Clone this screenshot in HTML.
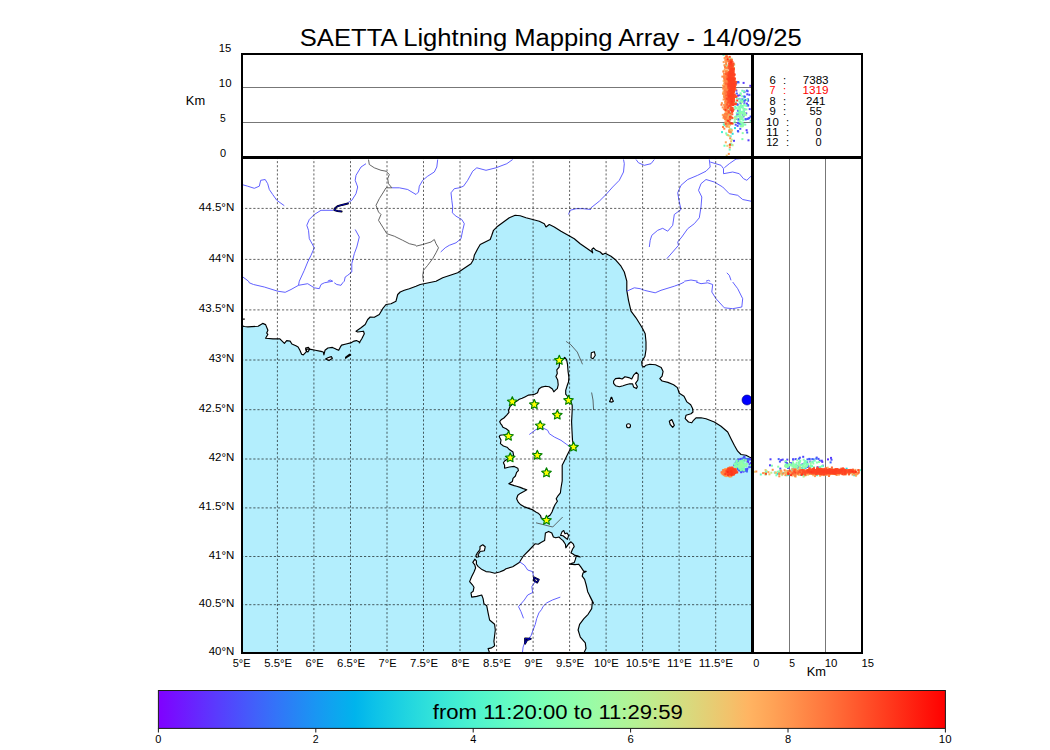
<!DOCTYPE html><html><head><meta charset="utf-8"><style>html,body{margin:0;padding:0;background:#fff;width:1050px;height:750px;overflow:hidden}svg{display:block}text{font-family:"Liberation Sans",sans-serif}</style></head><body>
<svg width="1050" height="750" viewBox="0 0 1050 750">
<defs><clipPath id="mapclip"><rect x="242" y="157" width="510" height="496"/></clipPath><clipPath id="topclip"><rect x="242" y="54" width="510" height="103"/></clipPath><clipPath id="sideclip"><rect x="753" y="157" width="109" height="496"/></clipPath>
<linearGradient id="rb" x1="0" x2="1" y1="0" y2="0">
<stop offset="0.000" stop-color="#8000ff"/>
<stop offset="0.025" stop-color="#7314ff"/>
<stop offset="0.050" stop-color="#6628fe"/>
<stop offset="0.075" stop-color="#593cfd"/>
<stop offset="0.100" stop-color="#4c4ffc"/>
<stop offset="0.125" stop-color="#4062fa"/>
<stop offset="0.150" stop-color="#3374f8"/>
<stop offset="0.175" stop-color="#2685f5"/>
<stop offset="0.200" stop-color="#1996f3"/>
<stop offset="0.225" stop-color="#0da6ef"/>
<stop offset="0.250" stop-color="#00b4ec"/>
<stop offset="0.275" stop-color="#0dc2e8"/>
<stop offset="0.300" stop-color="#19cee3"/>
<stop offset="0.325" stop-color="#26d9de"/>
<stop offset="0.350" stop-color="#33e3d9"/>
<stop offset="0.375" stop-color="#40ecd4"/>
<stop offset="0.400" stop-color="#4df3ce"/>
<stop offset="0.425" stop-color="#59f8c8"/>
<stop offset="0.450" stop-color="#66fcc2"/>
<stop offset="0.475" stop-color="#73febb"/>
<stop offset="0.500" stop-color="#80ffb4"/>
<stop offset="0.525" stop-color="#8cfead"/>
<stop offset="0.550" stop-color="#99fca6"/>
<stop offset="0.575" stop-color="#a6f89e"/>
<stop offset="0.600" stop-color="#b2f396"/>
<stop offset="0.625" stop-color="#bfec8e"/>
<stop offset="0.650" stop-color="#cce385"/>
<stop offset="0.675" stop-color="#d9d97d"/>
<stop offset="0.700" stop-color="#e5ce74"/>
<stop offset="0.725" stop-color="#f2c26b"/>
<stop offset="0.750" stop-color="#ffb462"/>
<stop offset="0.775" stop-color="#ffa658"/>
<stop offset="0.800" stop-color="#ff964f"/>
<stop offset="0.825" stop-color="#ff8545"/>
<stop offset="0.850" stop-color="#ff743c"/>
<stop offset="0.875" stop-color="#ff6232"/>
<stop offset="0.900" stop-color="#ff4f28"/>
<stop offset="0.925" stop-color="#ff3c1e"/>
<stop offset="0.950" stop-color="#ff2814"/>
<stop offset="0.975" stop-color="#ff140a"/>
<stop offset="1.000" stop-color="#ff0000"/>
</linearGradient></defs>
<g clip-path="url(#mapclip)">
<rect x="241" y="157" width="512" height="497" fill="#b3eefd"/>
<polygon points="241.0,322.8 241.9,323.4 242.8,326.1 244.4,326.5 247.9,326.9 258.1,326.3 262.7,323.4 265.6,324.6 267.9,330.3 266.7,333.1 267.9,334.3 265.6,338.3 273.0,338.9 279.9,338.9 281.6,340.6 284.4,343.4 286.7,340.6 290.1,341.1 291.9,344.0 295.9,345.7 298.1,346.9 299.9,350.3 301.6,354.3 303.3,354.9 306.7,351.4 306.1,349.1 309.6,349.1 315.3,350.3 321.0,351.4 323.3,352.0 323.9,354.9 325.0,350.3 327.9,348.0 332.4,347.4 335.9,349.1 338.7,350.3 340.4,346.9 341.6,345.1 346.1,344.0 350.7,342.9 354.1,341.1 356.4,340.6 359.9,342.3 359.3,342.8 361.8,338.7 364.3,333.7 363.5,331.2 357.7,332.0 356.0,331.2 361.0,327.8 365.2,324.5 367.7,319.5 370.2,317.0 374.3,317.3 379.3,314.5 382.7,308.7 386.0,304.5 391.0,303.7 396.0,301.2 397.7,294.5 400.2,292.0 404.3,290.3 409.3,288.7 416.0,286.2 420.2,284.5 436.0,281.2 442.7,277.8 451.0,275.0 457.7,272.8 463.5,268.7 471.0,263.7 473.5,259.5 474.3,255.3 477.7,248.7 480.2,244.5 485.2,242.0 490.2,239.5 491.8,235.3 493.5,230.3 497.7,226.2 503.5,222.0 509.3,217.8 515.2,215.3 520.2,215.7 526.0,217.8 532.7,219.5 539.3,221.2 544.3,223.7 546.0,227.0 549.3,224.5 554.3,227.0 561.0,231.2 567.7,235.0 574.3,238.7 580.2,243.7 586.0,247.8 591.0,251.2 592.7,252.8 591.8,249.5 593.5,247.8 596.0,250.3 600.2,252.0 602.7,254.5 605.2,253.3 611.0,256.2 616.0,260.3 621.0,266.2 624.3,272.0 626.8,281.2 626.8,290.3 628.5,300.3 631.0,311.2 636.0,317.8 640.2,324.5 642.7,328.7 645.2,333.7 646.0,342.0 646.0,349.5 645.0,356.2 643.1,359.5 641.7,361.9 642.1,365.7 644.0,367.1 646.0,365.2 649.8,364.3 655.5,364.8 661.2,367.6 663.1,371.4 662.1,376.2 659.8,378.6 662.1,381.0 667.9,382.4 673.6,384.8 677.4,387.6 679.3,393.3 684.0,396.2 686.9,401.9 690.7,404.8 692.6,408.6 693.0,412.0 691.0,413.7 686.0,415.3 685.2,418.7 688.5,422.0 691.8,422.8 693.5,420.3 696.0,417.8 701.0,417.8 706.0,418.7 714.3,422.0 721.0,426.2 727.7,432.0 731.0,438.7 734.3,445.3 737.7,451.2 741.0,454.5 746.0,455.3 749.3,457.0 752.0,458.3 760.0,458.3 760.0,150.0 230.0,150.0 230.0,322.8" fill="#fff" stroke="none"/>
<polygon points="564.7,357.3 566.6,359.6 567.5,364.3 568.0,370.8 568.9,377.3 568.5,382.0 567.1,385.8 565.7,390.4 565.7,394.2 568.0,397.0 570.8,400.7 572.2,405.4 572.2,410.0 571.6,421.7 572.0,431.0 572.5,440.4 573.4,445.0 571.8,447.2 569.4,450.8 567.0,455.6 564.6,460.4 562.2,465.2 562.2,471.2 562.2,480.8 561.0,488.0 560.4,492.8 558.0,495.8 556.2,498.8 557.4,501.2 555.0,504.8 553.8,507.2 552.0,512.0 550.2,515.0 547.8,516.8 545.4,519.2 541.2,518.0 540.6,515.6 538.2,513.2 535.8,512.0 532.2,509.6 528.6,508.4 523.8,506.6 520.8,504.8 518.4,502.4 516.6,498.8 517.8,495.2 520.2,493.4 523.8,491.6 526.8,489.8 523.2,488.6 520.2,487.4 516.6,486.2 514.2,485.6 510.6,484.4 508.8,483.8 512.4,481.4 513.0,478.4 515.4,476.0 516.6,472.4 518.4,470.6 517.8,468.2 514.2,466.4 509.4,467.0 504.6,468.2 504.6,465.2 503.4,462.8 504.6,461.0 509.4,458.0 513.6,455.6 513.0,452.0 509.4,449.6 507.0,447.2 503.4,446.0 500.4,443.6 501.0,440.0 499.2,436.6 500.1,435.2 503.9,434.8 508.5,433.8 509.0,431.0 506.2,428.7 502.9,427.3 502.0,425.4 500.6,423.6 499.7,421.7 501.1,419.8 503.9,418.0 506.7,415.1 509.0,412.3 508.5,410.5 509.9,406.7 513.7,403.0 516.9,401.1 519.3,399.3 522.1,398.3 524.9,396.9 528.6,395.1 532.3,394.6 535.1,394.1 537.5,392.7 538.9,389.0 541.7,387.1 545.4,386.2 549.2,386.7 552.4,389.0 553.8,391.8 555.7,389.9 557.3,388.6 558.2,384.8 557.7,380.1 555.9,376.4 557.3,373.6 556.8,369.9 559.1,367.1 559.6,362.4" fill="#fff" stroke="#000" stroke-width="1.15" stroke-linejoin="round"/>
<polygon points="474.8,559.2 476.4,560.8 476.4,564.0 478.0,566.4 482.0,569.6 486.0,571.6 490.0,572.0 494.8,573.2 499.6,572.0 503.6,570.4 506.0,568.8 512.7,566.7 519.3,562.5 523.5,555.8 529.3,550.0 535.0,543.8 538.2,544.2 541.4,542.2 544.6,540.6 545.0,537.0 545.4,533.0 548.6,531.4 551.8,533.0 553.4,537.0 555.8,537.8 559.0,537.0 560.6,538.6 563.0,540.6 565.4,544.2 565.8,547.8 568.6,543.8 571.0,541.8 573.4,544.2 574.2,546.6 572.6,549.0 571.0,553.0 572.6,553.8 575.0,555.4 577.4,555.8 580.2,557.0 576.2,556.2 575.4,559.4 574.2,562.6 571.8,563.4 569.4,564.2 575.0,564.6 578.6,564.2 580.6,566.6 583.8,571.4 586.2,571.4 583.0,573.0 582.2,576.2 584.6,579.4 586.2,585.0 587.7,591.7 591.0,598.3 593.5,603.3 589.6,595.7 592.4,601.4 591.7,608.6 588.1,614.3 583.9,618.6 579.6,624.3 578.1,630.0 580.3,637.1 585.3,642.9 586.0,648.6 583.9,652.9 583.9,657.1 488.1,657.1 489.6,652.9 488.1,648.6 491.7,647.9 494.6,645.7 493.9,641.4 494.6,635.7 495.3,630.0 494.6,624.3 489.6,620.0 488.1,612.9 486.7,605.7 483.9,603.6 483.1,598.6 481.7,595.0 476.7,596.4 471.7,597.1 471.0,592.9 473.2,591.2 474.0,587.2 472.4,584.8 469.6,581.6 471.6,576.8 474.0,572.0 475.6,568.0 474.8,564.8 472.8,562.4" fill="#fff" stroke="#000" stroke-width="1.15" stroke-linejoin="round"/>
<polygon points="613.6,381.0 615.5,378.6 619.3,378.1 622.1,379.0 625.0,376.7 628.8,377.6 631.7,379.0 633.6,375.2 636.4,372.4 638.3,374.3 637.9,380.0 635.5,383.3 637.4,386.7 636.4,388.6 633.6,387.1 632.6,383.8 629.8,383.8 626.0,384.8 623.1,385.7 619.3,386.7 615.5,385.7 613.6,383.3" fill="#fff" stroke="#000" stroke-width="1.15" stroke-linejoin="round"/>
<polygon points="591.3,352.8 594.3,351.7 595.3,355.3 593.0,358.7 591.0,357.8" fill="#fff" stroke="#000" stroke-width="1.15" stroke-linejoin="round"/>
<polygon points="669.3,421.2 671.8,419.5 674.3,425.3 672.7,427.3 670.2,424.5" fill="#fff" stroke="#000" stroke-width="1.15" stroke-linejoin="round"/>
<polygon points="560.6,535.4 562.2,531.4 563.8,530.6 565.0,533.8 567.0,533.0 568.6,535.4 567.4,539.4 565.4,537.8 563.0,535.8" fill="#fff" stroke="#000" stroke-width="1.15" stroke-linejoin="round"/>
<polygon points="480.0,546.4 482.8,544.8 485.2,546.8 484.4,550.8 482.0,551.2 480.4,551.2 478.0,554.8 478.8,556.8 476.4,557.2 476.0,555.2 477.2,553.2 478.8,551.2 480.0,549.2" fill="#fff" stroke="#000" stroke-width="1.15" stroke-linejoin="round"/>
<polygon points="611.7,397.3 612.6,399.8 613.4,401.2 612.0,402.1 609.6,401.6 610.4,399.8 611.2,397.3" fill="#fff" stroke="#000" stroke-width="1.15" stroke-linejoin="round"/>
<polygon points="325.6,358.9 329.0,360.6 332.4,358.3 331.3,356.6 327.9,357.7" fill="#fff" stroke="#000" stroke-width="1.15" stroke-linejoin="round"/>
<polygon points="345.6,358.3 347.3,357.1 350.7,354.9 349.6,354.3 345.6,357.1" fill="#fff" stroke="#000" stroke-width="1.15" stroke-linejoin="round"/>
<polygon points="305.6,348.0 308.4,347.4 309.6,349.1 307.9,352.0 306.1,350.9" fill="#fff" stroke="#000" stroke-width="1.15" stroke-linejoin="round"/>
<polyline points="241.0,322.8 241.9,323.4 242.8,326.1 244.4,326.5 247.9,326.9 258.1,326.3 262.7,323.4 265.6,324.6 267.9,330.3 266.7,333.1 267.9,334.3 265.6,338.3 273.0,338.9 279.9,338.9 281.6,340.6 284.4,343.4 286.7,340.6 290.1,341.1 291.9,344.0 295.9,345.7 298.1,346.9 299.9,350.3 301.6,354.3 303.3,354.9 306.7,351.4 306.1,349.1 309.6,349.1 315.3,350.3 321.0,351.4 323.3,352.0 323.9,354.9 325.0,350.3 327.9,348.0 332.4,347.4 335.9,349.1 338.7,350.3 340.4,346.9 341.6,345.1 346.1,344.0 350.7,342.9 354.1,341.1 356.4,340.6 359.9,342.3 359.3,342.8 361.8,338.7 364.3,333.7 363.5,331.2 357.7,332.0 356.0,331.2 361.0,327.8 365.2,324.5 367.7,319.5 370.2,317.0 374.3,317.3 379.3,314.5 382.7,308.7 386.0,304.5 391.0,303.7 396.0,301.2 397.7,294.5 400.2,292.0 404.3,290.3 409.3,288.7 416.0,286.2 420.2,284.5 436.0,281.2 442.7,277.8 451.0,275.0 457.7,272.8 463.5,268.7 471.0,263.7 473.5,259.5 474.3,255.3 477.7,248.7 480.2,244.5 485.2,242.0 490.2,239.5 491.8,235.3 493.5,230.3 497.7,226.2 503.5,222.0 509.3,217.8 515.2,215.3 520.2,215.7 526.0,217.8 532.7,219.5 539.3,221.2 544.3,223.7 546.0,227.0 549.3,224.5 554.3,227.0 561.0,231.2 567.7,235.0 574.3,238.7 580.2,243.7 586.0,247.8 591.0,251.2 592.7,252.8 591.8,249.5 593.5,247.8 596.0,250.3 600.2,252.0 602.7,254.5 605.2,253.3 611.0,256.2 616.0,260.3 621.0,266.2 624.3,272.0 626.8,281.2 626.8,290.3 628.5,300.3 631.0,311.2 636.0,317.8 640.2,324.5 642.7,328.7 645.2,333.7 646.0,342.0 646.0,349.5 645.0,356.2 643.1,359.5 641.7,361.9 642.1,365.7 644.0,367.1 646.0,365.2 649.8,364.3 655.5,364.8 661.2,367.6 663.1,371.4 662.1,376.2 659.8,378.6 662.1,381.0 667.9,382.4 673.6,384.8 677.4,387.6 679.3,393.3 684.0,396.2 686.9,401.9 690.7,404.8 692.6,408.6 693.0,412.0 691.0,413.7 686.0,415.3 685.2,418.7 688.5,422.0 691.8,422.8 693.5,420.3 696.0,417.8 701.0,417.8 706.0,418.7 714.3,422.0 721.0,426.2 727.7,432.0 731.0,438.7 734.3,445.3 737.7,451.2 741.0,454.5 746.0,455.3 749.3,457.0 752.0,458.3" fill="none" stroke="#000" stroke-width="1.15" stroke-linejoin="round"/>
<line x1="241" y1="319.1" x2="244.8" y2="319.1" stroke="#000" stroke-width="1.2"/>
<circle cx="628.5" cy="425.7" r="2.0" fill="#fff" stroke="#000" stroke-width="1.1"/>
<polyline points="241.8,184.5 247.7,186.2 254.3,188.3 259.3,186.2 260.7,180.3 265.2,179.5 267.7,183.7 269.3,189.5 272.7,194.5 276.8,200.3 284.3,205.7" fill="none" stroke="#4f4fff" stroke-width="0.9" stroke-linejoin="round"/>
<polyline points="366.0,163.7 361.0,167.0 356.0,175.3 355.2,180.3 357.7,187.0 356.0,193.7 351.8,200.3 347.7,202.8" fill="none" stroke="#4f4fff" stroke-width="0.9" stroke-linejoin="round"/>
<polyline points="333.5,210.3 321.0,210.3 314.3,214.5 309.3,219.5 306.8,225.3 308.5,230.3 309.3,238.7 314.3,247.8 311.0,255.3 307.7,262.0 304.3,270.3 299.3,281.2 298.5,285.3 291.0,289.5 285.2,292.3 277.7,291.2 264.3,287.0 253.5,284.5 249.3,282.8 248.5,281.2 241.8,276.2" fill="none" stroke="#4f4fff" stroke-width="0.9" stroke-linejoin="round"/>
<polyline points="355.2,229.5 359.3,237.0 356.8,247.0 354.3,253.7 351.8,263.7 351.8,272.0 347.7,275.3 345.2,277.0 344.3,281.2 342.7,282.8 341.0,285.3 336.8,284.5 334.3,282.8" fill="none" stroke="#4f4fff" stroke-width="0.9" stroke-linejoin="round"/>
<polyline points="327.7,281.2 330.2,280.0 332.7,281.2 324.3,282.8 321.0,284.5 319.3,288.7 314.3,287.8 307.7,283.7 298.5,285.3" fill="none" stroke="#4f4fff" stroke-width="0.9" stroke-linejoin="round"/>
<polyline points="391.8,187.8 399.3,187.8 407.7,189.5 416.0,194.5" fill="none" stroke="#4f4fff" stroke-width="0.9" stroke-linejoin="round"/>
<polyline points="437.7,159.5 436.8,167.0 434.3,172.0 427.7,176.2 422.7,180.3 419.3,186.2 418.5,192.0 416.0,194.5" fill="none" stroke="#4f4fff" stroke-width="0.9" stroke-linejoin="round"/>
<polyline points="512.7,159.5 506.8,163.7 496.0,167.8 486.0,170.3 476.8,167.8 472.7,171.2 467.7,180.3 463.5,186.2 459.3,187.8 454.3,188.7 451.0,192.8 451.8,200.3 452.7,207.0 452.3,212.8 456.0,216.2 461.8,219.5 464.3,223.7 462.7,230.3 461.0,238.7 456.0,242.8 449.3,245.3 445.2,247.8 440.7,252.0" fill="none" stroke="#4f4fff" stroke-width="0.9" stroke-linejoin="round"/>
<polyline points="568.5,214.5 570.2,210.3 576.0,208.7 582.7,208.7 591.0,209.5" fill="none" stroke="#4f4fff" stroke-width="0.9" stroke-linejoin="round"/>
<polyline points="623.5,159.5 624.3,163.7 623.5,172.0 619.3,180.3 612.7,187.0 606.0,194.5 599.3,201.2 591.0,207.8" fill="none" stroke="#4f4fff" stroke-width="0.9" stroke-linejoin="round"/>
<polyline points="636.0,159.5 638.5,162.8 644.3,165.3 651.0,163.7 654.3,159.5" fill="none" stroke="#4f4fff" stroke-width="0.9" stroke-linejoin="round"/>
<polyline points="709.3,159.5 710.2,167.0 706.0,171.2 697.7,175.3 687.7,179.5 681.0,185.3 677.7,192.8 679.3,202.0 681.0,209.5 674.3,214.5 672.7,225.3 667.7,231.2 662.7,228.3 657.7,230.3 651.8,235.3 650.2,240.3 649.3,247.0" fill="none" stroke="#4f4fff" stroke-width="0.9" stroke-linejoin="round"/>
<polyline points="666.8,258.7 672.7,252.0 678.5,245.3 677.7,242.0 681.8,237.0 687.7,228.7 694.3,223.7 699.3,217.8 701.0,207.0 701.8,197.0 698.5,190.3 701.0,183.7 706.0,179.5 714.3,182.0 722.7,187.0 729.3,193.7 737.7,195.3 742.7,199.5 751.0,201.2" fill="none" stroke="#4f4fff" stroke-width="0.9" stroke-linejoin="round"/>
<polyline points="710.2,162.0 721.0,165.3 723.5,168.7 723.5,173.7 732.7,172.0 739.3,173.7 743.5,178.7 746.8,180.3 751.0,176.2" fill="none" stroke="#4f4fff" stroke-width="0.9" stroke-linejoin="round"/>
<polyline points="724.3,167.8 729.3,163.7 736.0,159.0 751.0,157.7" fill="none" stroke="#4f4fff" stroke-width="0.9" stroke-linejoin="round"/>
<polyline points="726.8,272.8 729.3,275.3 731.0,280.3" fill="none" stroke="#4f4fff" stroke-width="0.9" stroke-linejoin="round"/>
<polyline points="684.3,281.2 691.0,280.0 697.7,281.2" fill="none" stroke="#4f4fff" stroke-width="0.9" stroke-linejoin="round"/>
<polyline points="706.0,281.2 708.5,280.3 710.2,281.2" fill="none" stroke="#4f4fff" stroke-width="0.9" stroke-linejoin="round"/>
<polyline points="626.8,291.2 634.3,287.8 640.2,288.7 644.3,290.3 655.2,292.8 661.0,290.3 674.3,286.2 681.0,283.7 684.3,282.0" fill="none" stroke="#4f4fff" stroke-width="0.9" stroke-linejoin="round"/>
<polyline points="696.0,282.0 701.0,283.7 707.7,282.8 712.7,284.5 711.8,292.0 716.0,298.7 724.3,307.8 732.7,308.7 741.8,307.0 742.7,298.7 737.7,288.7 732.7,282.0" fill="none" stroke="#4f4fff" stroke-width="0.9" stroke-linejoin="round"/>
<polyline points="529.3,434.5 532.7,432.0 536.0,429.5 542.7,427.8 547.7,430.3 549.3,433.7 554.3,437.0 561.0,440.3 566.8,444.5 571.0,447.8" fill="none" stroke="#4f4fff" stroke-width="0.9" stroke-linejoin="round"/>
<polyline points="519.3,561.7 524.3,565.0 527.7,570.0 532.7,571.7 533.5,576.7 535.2,580.0" fill="none" stroke="#4f4fff" stroke-width="0.9" stroke-linejoin="round"/>
<polyline points="535.2,581.7 531.8,586.7 532.7,592.5 527.7,595.0 524.3,600.0 518.5,606.7 521.0,611.7 523.5,618.3" fill="none" stroke="#4f4fff" stroke-width="0.9" stroke-linejoin="round"/>
<polyline points="560.3,597.1 552.4,600.0 546.7,602.9 543.1,606.4 541.7,609.3 538.9,612.9 536.7,618.6 535.3,624.3 533.1,630.0 531.0,635.7 528.1,639.3 524.6,642.9 523.1,647.1 522.4,652.9" fill="none" stroke="#4f4fff" stroke-width="0.9" stroke-linejoin="round"/>
<polyline points="347.9,203.6 342.0,204.9 337.5,206.3 335.0,208.2 334.4,210.1 337.5,211.0 341.6,211.4" fill="none" stroke="#000" stroke-width="2" stroke-linejoin="round" stroke-linecap="round"/>
<polyline points="347.9,203.6 342.0,204.9 337.5,206.3 335.0,208.2 334.4,210.1 337.5,211.0 341.6,211.4" fill="none" stroke="#0000ff" stroke-width="0.7" stroke-linejoin="round"/>
<polyline points="534.1,577.5 536.5,578.6 538.7,579.6 537.1,582.5 533.9,580.4 534.1,577.5" fill="none" stroke="#000" stroke-width="2" stroke-linejoin="round" stroke-linecap="round"/>
<polyline points="534.1,577.5 536.5,578.6 538.7,579.6 537.1,582.5 533.9,580.4 534.1,577.5" fill="none" stroke="#0000ff" stroke-width="0.7" stroke-linejoin="round"/>
<polyline points="530.7,638.8 527.0,640.1 525.1,643.6 525.1,638.5 530.7,638.8" fill="none" stroke="#000" stroke-width="2" stroke-linejoin="round" stroke-linecap="round"/>
<polyline points="530.7,638.8 527.0,640.1 525.1,643.6 525.1,638.5 530.7,638.8" fill="none" stroke="#0000ff" stroke-width="0.7" stroke-linejoin="round"/>
<polyline points="368.5,159.5 369.3,164.5 374.3,167.8 381.0,170.3 386.0,171.2 389.3,174.5 387.7,178.7 388.5,183.7 391.8,187.8 386.0,187.8 383.5,192.0 379.3,198.7 376.0,205.3 378.5,212.0 381.0,214.5 378.5,220.3 382.7,227.0 386.8,233.7 394.3,236.2 402.7,240.3 409.3,243.7 416.0,245.3" fill="none" stroke="#555" stroke-width="0.9" stroke-linejoin="round"/>
<polyline points="416.0,246.2 422.7,244.5 431.0,242.0 434.3,239.5 436.0,243.7 438.5,247.8 436.0,252.8 432.7,258.7 427.7,265.3 423.5,270.3 422.7,276.2 423.5,281.2" fill="none" stroke="#555" stroke-width="0.9" stroke-linejoin="round"/>
<polyline points="566.1,341.4 570.8,344.7 577.3,352.1 582.5,364.3" fill="none" stroke="#444" stroke-width="0.8"/>
<polyline points="591.6,392.5 593.0,400.0 593.6,410.0" fill="none" stroke="#444" stroke-width="0.8"/>
<polyline points="536.0,522.8 546.0,525.3 552.7,527.0 557.7,522.0 562.7,517.0" fill="none" stroke="#444" stroke-width="0.8"/>
<line x1="277.4" y1="157" x2="277.4" y2="653" stroke="#000" stroke-opacity="0.62" stroke-width="1" stroke-dasharray="2.1 2"/>
<line x1="313.9" y1="157" x2="313.9" y2="653" stroke="#000" stroke-opacity="0.62" stroke-width="1" stroke-dasharray="2.1 2"/>
<line x1="350.5" y1="157" x2="350.5" y2="653" stroke="#000" stroke-opacity="0.62" stroke-width="1" stroke-dasharray="2.1 2"/>
<line x1="387.0" y1="157" x2="387.0" y2="653" stroke="#000" stroke-opacity="0.62" stroke-width="1" stroke-dasharray="2.1 2"/>
<line x1="423.5" y1="157" x2="423.5" y2="653" stroke="#000" stroke-opacity="0.62" stroke-width="1" stroke-dasharray="2.1 2"/>
<line x1="460.0" y1="157" x2="460.0" y2="653" stroke="#000" stroke-opacity="0.62" stroke-width="1" stroke-dasharray="2.1 2"/>
<line x1="496.6" y1="157" x2="496.6" y2="653" stroke="#000" stroke-opacity="0.62" stroke-width="1" stroke-dasharray="2.1 2"/>
<line x1="533.1" y1="157" x2="533.1" y2="653" stroke="#000" stroke-opacity="0.62" stroke-width="1" stroke-dasharray="2.1 2"/>
<line x1="569.6" y1="157" x2="569.6" y2="653" stroke="#000" stroke-opacity="0.62" stroke-width="1" stroke-dasharray="2.1 2"/>
<line x1="606.1" y1="157" x2="606.1" y2="653" stroke="#000" stroke-opacity="0.62" stroke-width="1" stroke-dasharray="2.1 2"/>
<line x1="642.6" y1="157" x2="642.6" y2="653" stroke="#000" stroke-opacity="0.62" stroke-width="1" stroke-dasharray="2.1 2"/>
<line x1="679.1" y1="157" x2="679.1" y2="653" stroke="#000" stroke-opacity="0.62" stroke-width="1" stroke-dasharray="2.1 2"/>
<line x1="715.7" y1="157" x2="715.7" y2="653" stroke="#000" stroke-opacity="0.62" stroke-width="1" stroke-dasharray="2.1 2"/>
<line x1="241" y1="604.7" x2="752" y2="604.7" stroke="#000" stroke-opacity="0.62" stroke-width="1" stroke-dasharray="2.2 1.9"/>
<line x1="241" y1="556.5" x2="752" y2="556.5" stroke="#000" stroke-opacity="0.62" stroke-width="1" stroke-dasharray="2.2 1.9"/>
<line x1="241" y1="507.9" x2="752" y2="507.9" stroke="#000" stroke-opacity="0.62" stroke-width="1" stroke-dasharray="2.2 1.9"/>
<line x1="241" y1="459.0" x2="752" y2="459.0" stroke="#000" stroke-opacity="0.62" stroke-width="1" stroke-dasharray="2.2 1.9"/>
<line x1="241" y1="409.7" x2="752" y2="409.7" stroke="#000" stroke-opacity="0.62" stroke-width="1" stroke-dasharray="2.2 1.9"/>
<line x1="241" y1="360.0" x2="752" y2="360.0" stroke="#000" stroke-opacity="0.62" stroke-width="1" stroke-dasharray="2.2 1.9"/>
<line x1="241" y1="309.9" x2="752" y2="309.9" stroke="#000" stroke-opacity="0.62" stroke-width="1" stroke-dasharray="2.2 1.9"/>
<line x1="241" y1="259.4" x2="752" y2="259.4" stroke="#000" stroke-opacity="0.62" stroke-width="1" stroke-dasharray="2.2 1.9"/>
<line x1="241" y1="208.4" x2="752" y2="208.4" stroke="#000" stroke-opacity="0.62" stroke-width="1" stroke-dasharray="2.2 1.9"/>
<polygon points="559.3,355.3 560.7,358.4 564.1,358.8 561.5,361.0 562.2,364.3 559.3,362.7 556.4,364.3 557.1,361.0 554.5,358.8 557.9,358.4" fill="#ffff00" stroke="#008000" stroke-width="1.15" stroke-linejoin="round"/>
<polygon points="512.3,396.7 513.7,399.8 517.1,400.2 514.5,402.4 515.2,405.7 512.3,404.1 509.4,405.7 510.1,402.4 507.5,400.2 510.9,399.8" fill="#ffff00" stroke="#008000" stroke-width="1.15" stroke-linejoin="round"/>
<polygon points="534.3,399.5 535.7,402.6 539.1,403.0 536.5,405.2 537.2,408.5 534.3,406.9 531.4,408.5 532.1,405.2 529.5,403.0 532.9,402.6" fill="#ffff00" stroke="#008000" stroke-width="1.15" stroke-linejoin="round"/>
<polygon points="568.5,395.3 569.9,398.4 573.3,398.8 570.7,401.0 571.4,404.3 568.5,402.7 565.6,404.3 566.3,401.0 563.7,398.8 567.1,398.4" fill="#ffff00" stroke="#008000" stroke-width="1.15" stroke-linejoin="round"/>
<polygon points="557.3,410.0 558.7,413.1 562.1,413.5 559.5,415.7 560.2,419.0 557.3,417.4 554.4,419.0 555.1,415.7 552.5,413.5 555.9,413.1" fill="#ffff00" stroke="#008000" stroke-width="1.15" stroke-linejoin="round"/>
<polygon points="540.2,420.7 541.6,423.8 545.0,424.2 542.4,426.4 543.1,429.7 540.2,428.1 537.3,429.7 538.0,426.4 535.4,424.2 538.8,423.8" fill="#ffff00" stroke="#008000" stroke-width="1.15" stroke-linejoin="round"/>
<polygon points="508.5,431.2 509.9,434.3 513.3,434.7 510.7,436.9 511.4,440.2 508.5,438.6 505.6,440.2 506.3,436.9 503.7,434.7 507.1,434.3" fill="#ffff00" stroke="#008000" stroke-width="1.15" stroke-linejoin="round"/>
<polygon points="573.5,442.0 574.9,445.1 578.3,445.5 575.7,447.7 576.4,451.0 573.5,449.4 570.6,451.0 571.3,447.7 568.7,445.5 572.1,445.1" fill="#ffff00" stroke="#008000" stroke-width="1.15" stroke-linejoin="round"/>
<polygon points="537.3,450.3 538.7,453.4 542.1,453.8 539.5,456.0 540.2,459.3 537.3,457.7 534.4,459.3 535.1,456.0 532.5,453.8 535.9,453.4" fill="#ffff00" stroke="#008000" stroke-width="1.15" stroke-linejoin="round"/>
<polygon points="510.2,452.8 511.6,455.9 515.0,456.3 512.4,458.5 513.1,461.8 510.2,460.2 507.3,461.8 508.0,458.5 505.4,456.3 508.8,455.9" fill="#ffff00" stroke="#008000" stroke-width="1.15" stroke-linejoin="round"/>
<polygon points="546.5,467.8 547.9,470.9 551.3,471.3 548.7,473.5 549.4,476.8 546.5,475.2 543.6,476.8 544.3,473.5 541.7,471.3 545.1,470.9" fill="#ffff00" stroke="#008000" stroke-width="1.15" stroke-linejoin="round"/>
<polygon points="546.5,515.3 547.9,518.4 551.3,518.8 548.7,521.0 549.4,524.3 546.5,522.6 543.6,524.3 544.3,521.0 541.7,518.8 545.1,518.4" fill="#ffff00" stroke="#008000" stroke-width="1.15" stroke-linejoin="round"/>
<circle cx="747" cy="400" r="5" fill="#0000ff" stroke="#000080" stroke-width="0.6"/>
</g>
<line x1="242" y1="87.5" x2="752" y2="87.5" stroke="#777" stroke-width="1"/>
<line x1="242" y1="122.5" x2="752" y2="122.5" stroke="#777" stroke-width="1"/>
<line x1="789.5" y1="158" x2="789.5" y2="652" stroke="#777" stroke-width="1"/>
<line x1="825.5" y1="158" x2="825.5" y2="652" stroke="#777" stroke-width="1"/>
<g clip-path="url(#topclip)">
<rect x="737.1" y="113.2" width="2.0" height="2.0" fill="#6031fe"/>
<rect x="751.1" y="115.0" width="2.0" height="2.0" fill="#6031fe"/>
<rect x="749.3" y="84.8" width="2.0" height="2.0" fill="#5f32fe"/>
<rect x="745.9" y="102.6" width="2.0" height="2.0" fill="#5f32fe"/>
<rect x="747.1" y="104.5" width="2.0" height="2.0" fill="#5e34fe"/>
<rect x="745.6" y="129.2" width="2.0" height="2.0" fill="#5e34fe"/>
<rect x="737.7" y="109.1" width="2.0" height="2.0" fill="#5d36fe"/>
<rect x="746.6" y="90.2" width="2.0" height="2.0" fill="#5c37fe"/>
<rect x="738.8" y="94.2" width="2.0" height="2.0" fill="#5c38fd"/>
<rect x="737.0" y="94.6" width="2.0" height="2.0" fill="#5c38fd"/>
<rect x="742.4" y="113.9" width="2.0" height="2.0" fill="#5b39fd"/>
<rect x="745.2" y="112.4" width="2.0" height="2.0" fill="#5a3afd"/>
<rect x="740.1" y="105.8" width="2.0" height="2.0" fill="#5a3afd"/>
<rect x="742.9" y="112.0" width="2.0" height="2.0" fill="#593cfd"/>
<rect x="742.6" y="81.9" width="2.0" height="2.0" fill="#583dfd"/>
<rect x="746.5" y="117.9" width="2.0" height="2.0" fill="#573efd"/>
<rect x="743.2" y="90.6" width="2.0" height="2.0" fill="#573efd"/>
<rect x="748.7" y="108.1" width="2.0" height="2.0" fill="#573ffd"/>
<rect x="749.9" y="119.9" width="2.0" height="2.0" fill="#5640fd"/>
<rect x="738.1" y="118.3" width="2.0" height="2.0" fill="#5640fd"/>
<rect x="747.5" y="139.3" width="2.0" height="2.0" fill="#5640fd"/>
<rect x="733.0" y="139.8" width="2.0" height="2.0" fill="#5542fd"/>
<rect x="735.7" y="117.9" width="2.0" height="2.0" fill="#5543fd"/>
<rect x="737.0" y="113.3" width="2.0" height="2.0" fill="#5543fd"/>
<rect x="736.3" y="113.8" width="2.0" height="2.0" fill="#5443fd"/>
<rect x="746.3" y="93.3" width="2.0" height="2.0" fill="#5345fd"/>
<rect x="743.4" y="108.3" width="2.0" height="2.0" fill="#5246fd"/>
<rect x="742.3" y="123.4" width="2.0" height="2.0" fill="#5246fd"/>
<rect x="742.5" y="115.4" width="2.0" height="2.0" fill="#5247fc"/>
<rect x="737.3" y="122.3" width="2.0" height="2.0" fill="#5049fc"/>
<rect x="742.9" y="111.4" width="2.0" height="2.0" fill="#4f4bfc"/>
<rect x="735.4" y="89.6" width="2.0" height="2.0" fill="#4f4cfc"/>
<rect x="739.6" y="102.4" width="2.0" height="2.0" fill="#4e4cfc"/>
<rect x="743.8" y="99.5" width="2.0" height="2.0" fill="#4e4cfc"/>
<rect x="739.3" y="127.8" width="2.0" height="2.0" fill="#4e4cfc"/>
<rect x="737.1" y="121.8" width="2.0" height="2.0" fill="#4e4dfc"/>
<rect x="739.7" y="101.5" width="2.0" height="2.0" fill="#4e4dfc"/>
<rect x="738.5" y="109.9" width="2.0" height="2.0" fill="#4d4efc"/>
<rect x="748.3" y="93.8" width="2.0" height="2.0" fill="#4d4efc"/>
<rect x="743.2" y="95.5" width="2.0" height="2.0" fill="#4c4ffc"/>
<rect x="737.5" y="81.4" width="2.0" height="2.0" fill="#4c4ffc"/>
<rect x="741.2" y="98.4" width="2.0" height="2.0" fill="#4c4ffc"/>
<rect x="736.6" y="124.9" width="2.0" height="2.0" fill="#4c50fc"/>
<rect x="734.7" y="123.7" width="2.0" height="2.0" fill="#4b51fc"/>
<rect x="737.2" y="130.5" width="2.0" height="2.0" fill="#4b51fc"/>
<rect x="747.4" y="117.6" width="2.0" height="2.0" fill="#4a53fc"/>
<rect x="742.7" y="99.9" width="2.0" height="2.0" fill="#4954fb"/>
<rect x="736.2" y="103.3" width="2.0" height="2.0" fill="#4954fb"/>
<rect x="749.6" y="115.6" width="2.0" height="2.0" fill="#4954fb"/>
<rect x="738.4" y="97.9" width="2.0" height="2.0" fill="#4856fb"/>
<rect x="744.7" y="118.2" width="2.0" height="2.0" fill="#4757fb"/>
<rect x="735.8" y="92.5" width="2.0" height="2.0" fill="#4658fb"/>
<rect x="743.4" y="102.2" width="2.0" height="2.0" fill="#455afb"/>
<rect x="744.7" y="98.9" width="2.0" height="2.0" fill="#455afb"/>
<rect x="736.9" y="130.0" width="2.0" height="2.0" fill="#455afb"/>
<rect x="746.2" y="131.5" width="2.0" height="2.0" fill="#445bfb"/>
<rect x="748.2" y="117.0" width="2.0" height="2.0" fill="#445bfb"/>
<rect x="739.5" y="106.1" width="2.0" height="2.0" fill="#445bfb"/>
<rect x="747.1" y="99.7" width="2.0" height="2.0" fill="#435dfb"/>
<rect x="744.6" y="118.3" width="2.0" height="2.0" fill="#435dfb"/>
<rect x="740.0" y="112.0" width="2.0" height="2.0" fill="#435dfb"/>
<rect x="736.9" y="109.7" width="2.0" height="2.0" fill="#425efa"/>
<rect x="738.5" y="122.7" width="2.0" height="2.0" fill="#425ffa"/>
<rect x="741.3" y="112.3" width="2.0" height="2.0" fill="#4160fa"/>
<rect x="745.9" y="89.6" width="2.0" height="2.0" fill="#3f63fa"/>
<rect x="735.3" y="82.3" width="2.0" height="2.0" fill="#3f63fa"/>
<rect x="747.1" y="104.2" width="2.0" height="2.0" fill="#3e64fa"/>
<rect x="740.3" y="122.8" width="2.0" height="2.0" fill="#3e64fa"/>
<rect x="746.9" y="98.3" width="2.0" height="2.0" fill="#3c67f9"/>
<rect x="743.4" y="91.1" width="2.0" height="2.0" fill="#3b68f9"/>
<rect x="739.6" y="117.0" width="2.0" height="2.0" fill="#3a6af9"/>
<rect x="736.7" y="103.9" width="2.0" height="2.0" fill="#3a6af9"/>
<rect x="737.0" y="81.0" width="2.0" height="2.0" fill="#3a6af9"/>
<rect x="737.4" y="118.7" width="2.0" height="2.0" fill="#3a6af9"/>
<rect x="743.8" y="95.8" width="2.0" height="2.0" fill="#3a6bf9"/>
<rect x="724.5" y="101.6" width="2.0" height="2.0" fill="#1acfe3"/>
<rect x="726.2" y="122.0" width="2.0" height="2.0" fill="#1bd0e3"/>
<rect x="726.5" y="121.8" width="2.0" height="2.0" fill="#1cd1e2"/>
<rect x="727.4" y="67.0" width="2.0" height="2.0" fill="#20d4e1"/>
<rect x="734.0" y="127.1" width="2.0" height="2.0" fill="#2adcdd"/>
<rect x="731.6" y="132.8" width="2.0" height="2.0" fill="#2bdddd"/>
<rect x="727.1" y="95.2" width="2.0" height="2.0" fill="#2ddedc"/>
<rect x="728.3" y="110.4" width="2.0" height="2.0" fill="#2edfdc"/>
<rect x="728.3" y="107.6" width="2.0" height="2.0" fill="#31e1da"/>
<rect x="729.3" y="143.4" width="2.0" height="2.0" fill="#36e5d8"/>
<rect x="729.8" y="60.5" width="2.0" height="2.0" fill="#39e7d7"/>
<rect x="729.6" y="135.3" width="2.0" height="2.0" fill="#3ce9d6"/>
<rect x="728.2" y="59.8" width="2.0" height="2.0" fill="#3dead5"/>
<rect x="721.0" y="131.1" width="2.0" height="2.0" fill="#42edd3"/>
<rect x="730.3" y="128.4" width="2.0" height="2.0" fill="#49f1d0"/>
<rect x="723.6" y="124.2" width="2.0" height="2.0" fill="#4af1cf"/>
<rect x="731.2" y="101.4" width="2.0" height="2.0" fill="#52f5cc"/>
<rect x="727.1" y="94.9" width="2.0" height="2.0" fill="#53f5cb"/>
<rect x="727.8" y="123.6" width="2.0" height="2.0" fill="#53f5cb"/>
<rect x="731.0" y="143.8" width="2.0" height="2.0" fill="#54f6cb"/>
<rect x="725.8" y="124.5" width="2.0" height="2.0" fill="#59f8c9"/>
<rect x="724.6" y="115.1" width="2.0" height="2.0" fill="#5cf9c7"/>
<rect x="722.5" y="53.9" width="2.0" height="2.0" fill="#60fac5"/>
<rect x="731.1" y="117.3" width="2.0" height="2.0" fill="#63fbc4"/>
<rect x="722.8" y="123.3" width="2.0" height="2.0" fill="#65fbc3"/>
<rect x="739.1" y="108.5" width="2.0" height="2.0" fill="#66fcc2"/>
<rect x="734.2" y="115.9" width="2.0" height="2.0" fill="#66fcc2"/>
<rect x="737.3" y="115.3" width="2.0" height="2.0" fill="#66fcc2"/>
<rect x="728.7" y="148.6" width="2.0" height="2.0" fill="#66fcc2"/>
<rect x="725.7" y="114.3" width="2.0" height="2.0" fill="#67fcc1"/>
<rect x="739.6" y="105.0" width="2.0" height="2.0" fill="#67fcc1"/>
<rect x="738.5" y="106.5" width="2.0" height="2.0" fill="#68fcc1"/>
<rect x="739.6" y="92.4" width="2.0" height="2.0" fill="#68fcc1"/>
<rect x="735.8" y="112.2" width="2.0" height="2.0" fill="#69fdc0"/>
<rect x="728.9" y="118.5" width="2.0" height="2.0" fill="#6afdc0"/>
<rect x="738.0" y="115.0" width="2.0" height="2.0" fill="#6afdc0"/>
<rect x="742.6" y="98.1" width="2.0" height="2.0" fill="#6afdc0"/>
<rect x="735.1" y="107.3" width="2.0" height="2.0" fill="#6bfdc0"/>
<rect x="740.0" y="99.2" width="2.0" height="2.0" fill="#6bfdbf"/>
<rect x="738.5" y="107.3" width="2.0" height="2.0" fill="#6bfdbf"/>
<rect x="742.4" y="112.4" width="2.0" height="2.0" fill="#6bfdbf"/>
<rect x="738.0" y="111.9" width="2.0" height="2.0" fill="#6cfdbf"/>
<rect x="735.3" y="115.5" width="2.0" height="2.0" fill="#6cfdbf"/>
<rect x="740.3" y="104.8" width="2.0" height="2.0" fill="#6cfdbf"/>
<rect x="734.2" y="105.9" width="2.0" height="2.0" fill="#6dfdbe"/>
<rect x="723.5" y="144.7" width="2.0" height="2.0" fill="#6dfdbe"/>
<rect x="741.5" y="105.0" width="2.0" height="2.0" fill="#70febd"/>
<rect x="725.4" y="64.0" width="2.0" height="2.0" fill="#71febc"/>
<rect x="741.3" y="89.7" width="2.0" height="2.0" fill="#71febc"/>
<rect x="725.7" y="125.3" width="2.0" height="2.0" fill="#72febc"/>
<rect x="723.8" y="107.6" width="2.0" height="2.0" fill="#72febb"/>
<rect x="740.4" y="105.3" width="2.0" height="2.0" fill="#73febb"/>
<rect x="742.4" y="119.3" width="2.0" height="2.0" fill="#73febb"/>
<rect x="732.1" y="122.0" width="2.0" height="2.0" fill="#74febb"/>
<rect x="735.9" y="97.3" width="2.0" height="2.0" fill="#74febb"/>
<rect x="739.0" y="110.7" width="2.0" height="2.0" fill="#74febb"/>
<rect x="739.7" y="112.6" width="2.0" height="2.0" fill="#74feba"/>
<rect x="741.5" y="99.9" width="2.0" height="2.0" fill="#75feba"/>
<rect x="744.3" y="123.6" width="2.0" height="2.0" fill="#75feba"/>
<rect x="726.5" y="120.4" width="2.0" height="2.0" fill="#75feba"/>
<rect x="740.1" y="124.8" width="2.0" height="2.0" fill="#75feba"/>
<rect x="741.0" y="122.7" width="2.0" height="2.0" fill="#75feba"/>
<rect x="745.3" y="104.9" width="2.0" height="2.0" fill="#76ffb9"/>
<rect x="738.5" y="98.2" width="2.0" height="2.0" fill="#76ffb9"/>
<rect x="742.9" y="90.7" width="2.0" height="2.0" fill="#76ffb9"/>
<rect x="741.1" y="100.9" width="2.0" height="2.0" fill="#77ffb9"/>
<rect x="734.9" y="101.5" width="2.0" height="2.0" fill="#77ffb9"/>
<rect x="738.4" y="120.2" width="2.0" height="2.0" fill="#78ffb9"/>
<rect x="741.2" y="116.4" width="2.0" height="2.0" fill="#78ffb9"/>
<rect x="731.1" y="64.6" width="2.0" height="2.0" fill="#7affb7"/>
<rect x="738.9" y="116.0" width="2.0" height="2.0" fill="#7bffb7"/>
<rect x="740.8" y="110.8" width="2.0" height="2.0" fill="#7bffb7"/>
<rect x="727.8" y="59.5" width="2.0" height="2.0" fill="#7bffb7"/>
<rect x="741.3" y="118.1" width="2.0" height="2.0" fill="#7cffb6"/>
<rect x="740.0" y="115.4" width="2.0" height="2.0" fill="#7dffb6"/>
<rect x="738.5" y="110.1" width="2.0" height="2.0" fill="#7effb5"/>
<rect x="740.6" y="121.6" width="2.0" height="2.0" fill="#7effb5"/>
<rect x="733.4" y="108.3" width="2.0" height="2.0" fill="#7fffb5"/>
<rect x="725.9" y="133.8" width="2.0" height="2.0" fill="#7fffb5"/>
<rect x="741.4" y="138.1" width="2.0" height="2.0" fill="#7fffb4"/>
<rect x="728.2" y="49.0" width="2.0" height="2.0" fill="#80ffb4"/>
<rect x="742.9" y="111.5" width="2.0" height="2.0" fill="#80ffb4"/>
<rect x="743.6" y="108.5" width="2.0" height="2.0" fill="#80ffb4"/>
<rect x="725.2" y="132.4" width="2.0" height="2.0" fill="#80ffb4"/>
<rect x="739.6" y="124.9" width="2.0" height="2.0" fill="#81ffb3"/>
<rect x="742.0" y="122.4" width="2.0" height="2.0" fill="#81ffb3"/>
<rect x="741.2" y="95.3" width="2.0" height="2.0" fill="#81ffb3"/>
<rect x="728.6" y="113.8" width="2.0" height="2.0" fill="#82ffb3"/>
<rect x="740.9" y="111.1" width="2.0" height="2.0" fill="#82ffb3"/>
<rect x="742.6" y="109.3" width="2.0" height="2.0" fill="#82ffb3"/>
<rect x="739.9" y="106.2" width="2.0" height="2.0" fill="#82ffb3"/>
<rect x="743.5" y="103.6" width="2.0" height="2.0" fill="#83ffb2"/>
<rect x="741.7" y="111.0" width="2.0" height="2.0" fill="#83ffb2"/>
<rect x="741.8" y="106.8" width="2.0" height="2.0" fill="#83ffb2"/>
<rect x="729.1" y="112.1" width="2.0" height="2.0" fill="#84ffb2"/>
<rect x="741.4" y="112.2" width="2.0" height="2.0" fill="#85ffb1"/>
<rect x="742.1" y="123.1" width="2.0" height="2.0" fill="#86ffb1"/>
<rect x="741.5" y="118.3" width="2.0" height="2.0" fill="#86ffb1"/>
<rect x="738.4" y="100.5" width="2.0" height="2.0" fill="#86ffb0"/>
<rect x="741.2" y="115.8" width="2.0" height="2.0" fill="#87ffb0"/>
<rect x="735.5" y="106.9" width="2.0" height="2.0" fill="#87ffb0"/>
<rect x="742.8" y="104.5" width="2.0" height="2.0" fill="#87ffb0"/>
<rect x="742.0" y="124.0" width="2.0" height="2.0" fill="#88ffb0"/>
<rect x="738.7" y="107.7" width="2.0" height="2.0" fill="#88ffb0"/>
<rect x="739.7" y="118.2" width="2.0" height="2.0" fill="#88ffaf"/>
<rect x="735.8" y="117.6" width="2.0" height="2.0" fill="#8affaf"/>
<rect x="727.6" y="114.9" width="2.0" height="2.0" fill="#8affaf"/>
<rect x="733.7" y="120.5" width="2.0" height="2.0" fill="#8afeaf"/>
<rect x="742.7" y="107.8" width="2.0" height="2.0" fill="#8afeae"/>
<rect x="749.7" y="120.3" width="2.0" height="2.0" fill="#8afeae"/>
<rect x="745.9" y="98.7" width="2.0" height="2.0" fill="#8bfeae"/>
<rect x="743.1" y="113.5" width="2.0" height="2.0" fill="#8cfead"/>
<rect x="739.9" y="103.7" width="2.0" height="2.0" fill="#8cfead"/>
<rect x="745.4" y="108.4" width="2.0" height="2.0" fill="#8dfead"/>
<rect x="739.1" y="120.8" width="2.0" height="2.0" fill="#8efeac"/>
<rect x="739.3" y="118.0" width="2.0" height="2.0" fill="#8efeac"/>
<rect x="739.7" y="93.3" width="2.0" height="2.0" fill="#8ffeac"/>
<rect x="741.7" y="132.1" width="2.0" height="2.0" fill="#90feab"/>
<rect x="740.1" y="112.1" width="2.0" height="2.0" fill="#90feab"/>
<rect x="738.9" y="113.9" width="2.0" height="2.0" fill="#91feab"/>
<rect x="742.6" y="114.5" width="2.0" height="2.0" fill="#91fdaa"/>
<rect x="737.4" y="105.7" width="2.0" height="2.0" fill="#91fdaa"/>
<rect x="739.4" y="116.7" width="2.0" height="2.0" fill="#92fdaa"/>
<rect x="727.7" y="122.1" width="2.0" height="2.0" fill="#92fdaa"/>
<rect x="739.7" y="116.9" width="2.0" height="2.0" fill="#92fdaa"/>
<rect x="740.5" y="121.7" width="2.0" height="2.0" fill="#92fdaa"/>
<rect x="729.9" y="143.2" width="2.0" height="2.0" fill="#92fda9"/>
<rect x="729.0" y="57.8" width="2.0" height="2.0" fill="#93fda9"/>
<rect x="741.7" y="125.2" width="2.0" height="2.0" fill="#93fda9"/>
<rect x="740.5" y="101.2" width="2.0" height="2.0" fill="#93fda9"/>
<rect x="738.9" y="114.5" width="2.0" height="2.0" fill="#93fda9"/>
<rect x="730.4" y="130.7" width="2.0" height="2.0" fill="#93fda9"/>
<rect x="740.6" y="125.4" width="2.0" height="2.0" fill="#94fda9"/>
<rect x="741.9" y="124.5" width="2.0" height="2.0" fill="#94fda8"/>
<rect x="744.9" y="113.9" width="2.0" height="2.0" fill="#94fda8"/>
<rect x="737.3" y="108.3" width="2.0" height="2.0" fill="#95fda8"/>
<rect x="733.8" y="118.5" width="2.0" height="2.0" fill="#95fda8"/>
<rect x="740.1" y="117.6" width="2.0" height="2.0" fill="#96fda8"/>
<rect x="737.3" y="114.5" width="2.0" height="2.0" fill="#96fda7"/>
<rect x="744.2" y="112.2" width="2.0" height="2.0" fill="#98fca6"/>
<rect x="740.9" y="101.2" width="2.0" height="2.0" fill="#99fca6"/>
<rect x="726.8" y="104.0" width="2.0" height="2.0" fill="#9dfba3"/>
<rect x="726.1" y="114.0" width="2.0" height="2.0" fill="#9efba3"/>
<rect x="729.2" y="105.7" width="2.0" height="2.0" fill="#a4f89f"/>
<rect x="727.1" y="94.6" width="2.0" height="2.0" fill="#a6f89e"/>
<rect x="731.2" y="109.3" width="2.0" height="2.0" fill="#abf69b"/>
<rect x="728.6" y="134.9" width="2.0" height="2.0" fill="#aff498"/>
<rect x="729.6" y="112.6" width="2.0" height="2.0" fill="#b1f397"/>
<rect x="727.7" y="59.6" width="2.0" height="2.0" fill="#b1f397"/>
<rect x="728.7" y="107.9" width="2.0" height="2.0" fill="#b9ef92"/>
<rect x="733.3" y="63.6" width="2.0" height="2.0" fill="#b9ef91"/>
<rect x="730.8" y="138.7" width="2.0" height="2.0" fill="#c0eb8d"/>
<rect x="725.0" y="62.2" width="2.0" height="2.0" fill="#c6e789"/>
<rect x="727.4" y="111.3" width="2.0" height="2.0" fill="#c7e789"/>
<rect x="731.6" y="144.2" width="2.0" height="2.0" fill="#c9e587"/>
<rect x="734.2" y="116.7" width="2.0" height="2.0" fill="#c9e587"/>
<rect x="725.3" y="124.3" width="2.0" height="2.0" fill="#cbe486"/>
<rect x="728.8" y="128.2" width="2.0" height="2.0" fill="#cce385"/>
<rect x="725.9" y="112.5" width="2.0" height="2.0" fill="#cde284"/>
<rect x="725.4" y="71.9" width="2.0" height="2.0" fill="#d0e083"/>
<rect x="727.3" y="110.1" width="2.0" height="2.0" fill="#d3de81"/>
<rect x="730.4" y="60.7" width="2.0" height="2.0" fill="#d4dd80"/>
<rect x="729.1" y="123.9" width="2.0" height="2.0" fill="#d4dd80"/>
<rect x="723.7" y="64.2" width="2.0" height="2.0" fill="#d7db7e"/>
<rect x="726.3" y="144.8" width="2.0" height="2.0" fill="#dfd579"/>
<rect x="725.8" y="66.4" width="2.0" height="2.0" fill="#e0d478"/>
<rect x="728.5" y="144.0" width="2.0" height="2.0" fill="#e1d377"/>
<rect x="728.0" y="129.6" width="2.0" height="2.0" fill="#e2d276"/>
<rect x="725.7" y="154.6" width="2.0" height="2.0" fill="#e5cf74"/>
<rect x="728.9" y="103.6" width="2.0" height="2.0" fill="#e7cd72"/>
<rect x="733.0" y="66.9" width="2.0" height="2.0" fill="#ebc970"/>
<rect x="727.8" y="123.5" width="2.0" height="2.0" fill="#ecc86f"/>
<rect x="731.3" y="64.6" width="2.0" height="2.0" fill="#ecc86f"/>
<rect x="730.8" y="112.5" width="2.0" height="2.0" fill="#eec76e"/>
<rect x="729.4" y="115.4" width="2.0" height="2.0" fill="#f0c46c"/>
<rect x="730.6" y="57.8" width="2.0" height="2.0" fill="#f0c46c"/>
<rect x="730.1" y="140.4" width="2.0" height="2.0" fill="#f1c36c"/>
<rect x="731.0" y="111.5" width="2.0" height="2.0" fill="#f7bd68"/>
<rect x="725.2" y="69.9" width="2.0" height="2.0" fill="#faba65"/>
<rect x="728.8" y="99.3" width="2.0" height="2.0" fill="#faba65"/>
<rect x="727.6" y="99.1" width="2.0" height="2.0" fill="#faba65"/>
<rect x="724.8" y="111.9" width="2.0" height="2.0" fill="#faba65"/>
<rect x="723.9" y="77.0" width="2.0" height="2.0" fill="#faba65"/>
<rect x="728.4" y="80.2" width="2.0" height="2.0" fill="#fab965"/>
<rect x="725.6" y="74.8" width="2.0" height="2.0" fill="#fab965"/>
<rect x="725.1" y="76.6" width="2.0" height="2.0" fill="#fab965"/>
<rect x="727.1" y="134.2" width="2.0" height="2.0" fill="#fbb965"/>
<rect x="723.7" y="94.3" width="2.0" height="2.0" fill="#fbb965"/>
<rect x="726.1" y="102.9" width="2.0" height="2.0" fill="#fbb965"/>
<rect x="726.5" y="89.0" width="2.0" height="2.0" fill="#fbb864"/>
<rect x="727.4" y="85.9" width="2.0" height="2.0" fill="#fbb864"/>
<rect x="726.7" y="91.9" width="2.0" height="2.0" fill="#fbb864"/>
<rect x="726.0" y="87.6" width="2.0" height="2.0" fill="#fbb864"/>
<rect x="726.7" y="79.0" width="2.0" height="2.0" fill="#fbb864"/>
<rect x="726.8" y="84.5" width="2.0" height="2.0" fill="#fcb864"/>
<rect x="729.0" y="128.8" width="2.0" height="2.0" fill="#fcb864"/>
<rect x="723.2" y="82.9" width="2.0" height="2.0" fill="#fcb764"/>
<rect x="728.0" y="98.8" width="2.0" height="2.0" fill="#fcb764"/>
<rect x="730.3" y="102.3" width="2.0" height="2.0" fill="#fcb763"/>
<rect x="726.2" y="106.9" width="2.0" height="2.0" fill="#fcb763"/>
<rect x="724.9" y="67.0" width="2.0" height="2.0" fill="#fdb763"/>
<rect x="722.9" y="114.5" width="2.0" height="2.0" fill="#fdb763"/>
<rect x="726.8" y="124.2" width="2.0" height="2.0" fill="#fdb763"/>
<rect x="726.9" y="82.2" width="2.0" height="2.0" fill="#fdb763"/>
<rect x="726.2" y="121.2" width="2.0" height="2.0" fill="#fdb763"/>
<rect x="723.9" y="96.3" width="2.0" height="2.0" fill="#fdb763"/>
<rect x="727.3" y="112.6" width="2.0" height="2.0" fill="#fdb763"/>
<rect x="727.9" y="101.8" width="2.0" height="2.0" fill="#fdb663"/>
<rect x="727.2" y="88.1" width="2.0" height="2.0" fill="#fdb663"/>
<rect x="724.0" y="101.4" width="2.0" height="2.0" fill="#fdb663"/>
<rect x="725.7" y="103.8" width="2.0" height="2.0" fill="#fdb663"/>
<rect x="726.3" y="100.1" width="2.0" height="2.0" fill="#fdb663"/>
<rect x="725.7" y="81.7" width="2.0" height="2.0" fill="#fdb663"/>
<rect x="725.6" y="74.6" width="2.0" height="2.0" fill="#fdb663"/>
<rect x="724.7" y="106.2" width="2.0" height="2.0" fill="#fdb663"/>
<rect x="725.5" y="112.3" width="2.0" height="2.0" fill="#fdb663"/>
<rect x="724.1" y="66.8" width="2.0" height="2.0" fill="#feb663"/>
<rect x="725.9" y="72.9" width="2.0" height="2.0" fill="#feb663"/>
<rect x="729.3" y="72.6" width="2.0" height="2.0" fill="#feb663"/>
<rect x="726.6" y="113.3" width="2.0" height="2.0" fill="#feb662"/>
<rect x="726.1" y="85.9" width="2.0" height="2.0" fill="#feb662"/>
<rect x="727.0" y="100.6" width="2.0" height="2.0" fill="#feb562"/>
<rect x="722.5" y="70.2" width="2.0" height="2.0" fill="#feb562"/>
<rect x="723.2" y="94.6" width="2.0" height="2.0" fill="#feb562"/>
<rect x="724.8" y="84.1" width="2.0" height="2.0" fill="#feb562"/>
<rect x="726.5" y="100.3" width="2.0" height="2.0" fill="#feb562"/>
<rect x="724.8" y="94.8" width="2.0" height="2.0" fill="#feb562"/>
<rect x="724.7" y="90.2" width="2.0" height="2.0" fill="#feb562"/>
<rect x="730.9" y="129.4" width="2.0" height="2.0" fill="#feb562"/>
<rect x="725.2" y="84.9" width="2.0" height="2.0" fill="#feb562"/>
<rect x="727.9" y="82.3" width="2.0" height="2.0" fill="#ffb562"/>
<rect x="724.4" y="87.1" width="2.0" height="2.0" fill="#ffb562"/>
<rect x="727.2" y="115.3" width="2.0" height="2.0" fill="#ffb562"/>
<rect x="727.2" y="65.2" width="2.0" height="2.0" fill="#ffb462"/>
<rect x="725.5" y="95.1" width="2.0" height="2.0" fill="#ffb462"/>
<rect x="725.3" y="101.9" width="2.0" height="2.0" fill="#ffb462"/>
<rect x="724.1" y="88.5" width="2.0" height="2.0" fill="#ffb461"/>
<rect x="726.0" y="117.0" width="2.0" height="2.0" fill="#ffb461"/>
<rect x="728.1" y="126.0" width="2.0" height="2.0" fill="#ffb461"/>
<rect x="727.1" y="100.9" width="2.0" height="2.0" fill="#ffb461"/>
<rect x="725.6" y="84.4" width="2.0" height="2.0" fill="#ffb461"/>
<rect x="725.8" y="86.0" width="2.0" height="2.0" fill="#ffb361"/>
<rect x="724.5" y="115.1" width="2.0" height="2.0" fill="#ffb361"/>
<rect x="728.6" y="76.3" width="2.0" height="2.0" fill="#ffb361"/>
<rect x="725.7" y="117.8" width="2.0" height="2.0" fill="#ffb361"/>
<rect x="722.7" y="80.0" width="2.0" height="2.0" fill="#ffb361"/>
<rect x="724.6" y="96.1" width="2.0" height="2.0" fill="#ffb361"/>
<rect x="725.3" y="122.9" width="2.0" height="2.0" fill="#ffb360"/>
<rect x="722.0" y="84.6" width="2.0" height="2.0" fill="#ffb260"/>
<rect x="725.8" y="116.6" width="2.0" height="2.0" fill="#ffb260"/>
<rect x="723.6" y="82.0" width="2.0" height="2.0" fill="#ffb260"/>
<rect x="724.1" y="73.8" width="2.0" height="2.0" fill="#ffb260"/>
<rect x="725.8" y="93.8" width="2.0" height="2.0" fill="#ffb260"/>
<rect x="726.8" y="111.9" width="2.0" height="2.0" fill="#ffb260"/>
<rect x="727.0" y="79.1" width="2.0" height="2.0" fill="#ffb160"/>
<rect x="722.8" y="90.5" width="2.0" height="2.0" fill="#ffb160"/>
<rect x="726.1" y="98.3" width="2.0" height="2.0" fill="#ffb160"/>
<rect x="729.3" y="75.0" width="2.0" height="2.0" fill="#ffb160"/>
<rect x="723.5" y="95.6" width="2.0" height="2.0" fill="#ffb15f"/>
<rect x="725.4" y="78.2" width="2.0" height="2.0" fill="#ffb15f"/>
<rect x="727.4" y="82.1" width="2.0" height="2.0" fill="#ffb15f"/>
<rect x="725.0" y="91.6" width="2.0" height="2.0" fill="#ffb15f"/>
<rect x="726.6" y="58.7" width="2.0" height="2.0" fill="#ffb15f"/>
<rect x="728.3" y="85.0" width="2.0" height="2.0" fill="#ffb15f"/>
<rect x="724.3" y="75.7" width="2.0" height="2.0" fill="#ffb15f"/>
<rect x="724.7" y="94.5" width="2.0" height="2.0" fill="#ffb05f"/>
<rect x="728.7" y="101.9" width="2.0" height="2.0" fill="#ffb05f"/>
<rect x="726.1" y="83.0" width="2.0" height="2.0" fill="#ffb05f"/>
<rect x="726.0" y="90.7" width="2.0" height="2.0" fill="#ffb05f"/>
<rect x="725.1" y="101.7" width="2.0" height="2.0" fill="#ffb05f"/>
<rect x="723.9" y="90.5" width="2.0" height="2.0" fill="#ffb05f"/>
<rect x="724.0" y="86.2" width="2.0" height="2.0" fill="#ffb05f"/>
<rect x="726.9" y="88.5" width="2.0" height="2.0" fill="#ffaf5e"/>
<rect x="724.3" y="92.2" width="2.0" height="2.0" fill="#ffaf5e"/>
<rect x="724.7" y="79.1" width="2.0" height="2.0" fill="#ffaf5e"/>
<rect x="726.3" y="96.8" width="2.0" height="2.0" fill="#ffaf5e"/>
<rect x="725.4" y="79.8" width="2.0" height="2.0" fill="#ffaf5e"/>
<rect x="722.9" y="95.6" width="2.0" height="2.0" fill="#ffaf5e"/>
<rect x="727.1" y="86.5" width="2.0" height="2.0" fill="#ffae5e"/>
<rect x="726.2" y="81.2" width="2.0" height="2.0" fill="#ffae5e"/>
<rect x="722.0" y="92.3" width="2.0" height="2.0" fill="#ffae5e"/>
<rect x="725.4" y="81.2" width="2.0" height="2.0" fill="#ffae5e"/>
<rect x="726.4" y="58.1" width="2.0" height="2.0" fill="#ffae5d"/>
<rect x="723.7" y="57.2" width="2.0" height="2.0" fill="#ffae5d"/>
<rect x="726.0" y="58.3" width="2.0" height="2.0" fill="#ffad5d"/>
<rect x="724.6" y="75.9" width="2.0" height="2.0" fill="#ffac5d"/>
<rect x="727.8" y="98.7" width="2.0" height="2.0" fill="#ffac5c"/>
<rect x="723.7" y="68.8" width="2.0" height="2.0" fill="#ffac5c"/>
<rect x="726.3" y="76.4" width="2.0" height="2.0" fill="#ffac5c"/>
<rect x="726.1" y="125.5" width="2.0" height="2.0" fill="#ffac5c"/>
<rect x="725.8" y="81.4" width="2.0" height="2.0" fill="#ffac5c"/>
<rect x="723.1" y="92.8" width="2.0" height="2.0" fill="#ffac5c"/>
<rect x="725.5" y="81.8" width="2.0" height="2.0" fill="#ffac5c"/>
<rect x="724.6" y="118.3" width="2.0" height="2.0" fill="#ffab5c"/>
<rect x="725.4" y="90.0" width="2.0" height="2.0" fill="#ffab5c"/>
<rect x="726.1" y="98.0" width="2.0" height="2.0" fill="#ffab5c"/>
<rect x="727.9" y="85.7" width="2.0" height="2.0" fill="#ffab5c"/>
<rect x="726.6" y="80.8" width="2.0" height="2.0" fill="#ffab5c"/>
<rect x="727.4" y="81.1" width="2.0" height="2.0" fill="#ffab5c"/>
<rect x="725.4" y="101.5" width="2.0" height="2.0" fill="#ffab5c"/>
<rect x="726.3" y="114.6" width="2.0" height="2.0" fill="#ffab5c"/>
<rect x="729.1" y="67.7" width="2.0" height="2.0" fill="#ffab5c"/>
<rect x="725.3" y="55.4" width="2.0" height="2.0" fill="#ffaa5b"/>
<rect x="725.7" y="99.2" width="2.0" height="2.0" fill="#ffaa5b"/>
<rect x="727.4" y="96.4" width="2.0" height="2.0" fill="#ffaa5b"/>
<rect x="725.6" y="104.3" width="2.0" height="2.0" fill="#ffaa5b"/>
<rect x="725.3" y="88.6" width="2.0" height="2.0" fill="#ffaa5b"/>
<rect x="725.1" y="87.3" width="2.0" height="2.0" fill="#ffaa5b"/>
<rect x="726.4" y="117.5" width="2.0" height="2.0" fill="#ffaa5b"/>
<rect x="726.1" y="118.9" width="2.0" height="2.0" fill="#ffa95b"/>
<rect x="726.9" y="90.5" width="2.0" height="2.0" fill="#ffa95b"/>
<rect x="724.3" y="82.8" width="2.0" height="2.0" fill="#ffa95b"/>
<rect x="728.2" y="102.0" width="2.0" height="2.0" fill="#ffa95a"/>
<rect x="722.5" y="116.8" width="2.0" height="2.0" fill="#ffa95a"/>
<rect x="725.4" y="75.0" width="2.0" height="2.0" fill="#ffa95a"/>
<rect x="725.6" y="74.7" width="2.0" height="2.0" fill="#ffa95a"/>
<rect x="724.7" y="110.1" width="2.0" height="2.0" fill="#ffa85a"/>
<rect x="722.4" y="87.0" width="2.0" height="2.0" fill="#ffa85a"/>
<rect x="725.0" y="78.0" width="2.0" height="2.0" fill="#ffa85a"/>
<rect x="725.1" y="106.1" width="2.0" height="2.0" fill="#ffa85a"/>
<rect x="727.2" y="76.4" width="2.0" height="2.0" fill="#ffa85a"/>
<rect x="729.8" y="91.7" width="2.0" height="2.0" fill="#ffa85a"/>
<rect x="721.8" y="113.9" width="2.0" height="2.0" fill="#ffa85a"/>
<rect x="724.8" y="141.3" width="2.0" height="2.0" fill="#ffa859"/>
<rect x="725.1" y="84.3" width="2.0" height="2.0" fill="#ffa859"/>
<rect x="725.0" y="122.1" width="2.0" height="2.0" fill="#ffa759"/>
<rect x="726.4" y="93.9" width="2.0" height="2.0" fill="#ffa759"/>
<rect x="725.1" y="82.9" width="2.0" height="2.0" fill="#ffa759"/>
<rect x="727.0" y="70.8" width="2.0" height="2.0" fill="#ffa759"/>
<rect x="727.7" y="92.5" width="2.0" height="2.0" fill="#ffa659"/>
<rect x="725.9" y="77.0" width="2.0" height="2.0" fill="#ffa659"/>
<rect x="726.5" y="69.6" width="2.0" height="2.0" fill="#ffa658"/>
<rect x="725.9" y="110.7" width="2.0" height="2.0" fill="#ffa658"/>
<rect x="723.9" y="85.2" width="2.0" height="2.0" fill="#ffa558"/>
<rect x="724.7" y="96.7" width="2.0" height="2.0" fill="#ffa558"/>
<rect x="725.4" y="60.3" width="2.0" height="2.0" fill="#ffa558"/>
<rect x="723.0" y="94.6" width="2.0" height="2.0" fill="#ffa558"/>
<rect x="727.6" y="75.3" width="2.0" height="2.0" fill="#ffa558"/>
<rect x="728.6" y="99.9" width="2.0" height="2.0" fill="#ffa558"/>
<rect x="725.9" y="85.3" width="2.0" height="2.0" fill="#ffa558"/>
<rect x="726.2" y="80.2" width="2.0" height="2.0" fill="#ffa558"/>
<rect x="723.5" y="90.5" width="2.0" height="2.0" fill="#ffa558"/>
<rect x="727.1" y="83.4" width="2.0" height="2.0" fill="#ffa558"/>
<rect x="727.5" y="81.2" width="2.0" height="2.0" fill="#ffa457"/>
<rect x="727.4" y="87.4" width="2.0" height="2.0" fill="#ffa457"/>
<rect x="725.1" y="97.6" width="2.0" height="2.0" fill="#ffa457"/>
<rect x="726.4" y="103.3" width="2.0" height="2.0" fill="#ffa457"/>
<rect x="724.8" y="98.6" width="2.0" height="2.0" fill="#ffa357"/>
<rect x="725.0" y="91.8" width="2.0" height="2.0" fill="#ffa357"/>
<rect x="726.8" y="98.2" width="2.0" height="2.0" fill="#ffa357"/>
<rect x="725.6" y="92.5" width="2.0" height="2.0" fill="#ffa357"/>
<rect x="725.5" y="96.1" width="2.0" height="2.0" fill="#ffa357"/>
<rect x="724.9" y="90.6" width="2.0" height="2.0" fill="#ffa356"/>
<rect x="726.5" y="76.9" width="2.0" height="2.0" fill="#ffa356"/>
<rect x="724.5" y="101.6" width="2.0" height="2.0" fill="#ffa256"/>
<rect x="726.4" y="97.1" width="2.0" height="2.0" fill="#ffa256"/>
<rect x="724.6" y="75.4" width="2.0" height="2.0" fill="#ffa256"/>
<rect x="724.9" y="108.9" width="2.0" height="2.0" fill="#ffa256"/>
<rect x="725.9" y="83.0" width="2.0" height="2.0" fill="#ffa256"/>
<rect x="724.5" y="93.9" width="2.0" height="2.0" fill="#ffa256"/>
<rect x="723.7" y="94.6" width="2.0" height="2.0" fill="#ffa256"/>
<rect x="724.6" y="94.0" width="2.0" height="2.0" fill="#ffa256"/>
<rect x="726.2" y="58.7" width="2.0" height="2.0" fill="#ffa156"/>
<rect x="727.8" y="117.1" width="2.0" height="2.0" fill="#ffa155"/>
<rect x="723.6" y="95.9" width="2.0" height="2.0" fill="#ffa155"/>
<rect x="725.3" y="91.3" width="2.0" height="2.0" fill="#ffa155"/>
<rect x="727.4" y="112.2" width="2.0" height="2.0" fill="#ffa155"/>
<rect x="725.1" y="79.0" width="2.0" height="2.0" fill="#ffa155"/>
<rect x="728.6" y="91.1" width="2.0" height="2.0" fill="#ffa155"/>
<rect x="725.1" y="94.8" width="2.0" height="2.0" fill="#ffa155"/>
<rect x="727.3" y="118.5" width="2.0" height="2.0" fill="#ffa055"/>
<rect x="724.1" y="76.4" width="2.0" height="2.0" fill="#ffa055"/>
<rect x="722.7" y="61.1" width="2.0" height="2.0" fill="#ffa055"/>
<rect x="724.5" y="100.9" width="2.0" height="2.0" fill="#ffa055"/>
<rect x="724.1" y="104.5" width="2.0" height="2.0" fill="#ffa055"/>
<rect x="723.9" y="95.3" width="2.0" height="2.0" fill="#ffa055"/>
<rect x="725.5" y="70.1" width="2.0" height="2.0" fill="#ffa055"/>
<rect x="728.2" y="73.7" width="2.0" height="2.0" fill="#ffa055"/>
<rect x="728.5" y="73.4" width="2.0" height="2.0" fill="#ffa055"/>
<rect x="725.5" y="103.7" width="2.0" height="2.0" fill="#ffa055"/>
<rect x="725.3" y="102.6" width="2.0" height="2.0" fill="#ff9f54"/>
<rect x="722.7" y="90.6" width="2.0" height="2.0" fill="#ff9f54"/>
<rect x="724.4" y="121.3" width="2.0" height="2.0" fill="#ff9f54"/>
<rect x="723.0" y="75.8" width="2.0" height="2.0" fill="#ff9f54"/>
<rect x="720.9" y="102.1" width="2.0" height="2.0" fill="#ff9f54"/>
<rect x="725.7" y="85.8" width="2.0" height="2.0" fill="#ff9f54"/>
<rect x="725.4" y="94.7" width="2.0" height="2.0" fill="#ff9f54"/>
<rect x="727.4" y="97.6" width="2.0" height="2.0" fill="#ff9e54"/>
<rect x="725.8" y="94.7" width="2.0" height="2.0" fill="#ff9e54"/>
<rect x="725.5" y="96.0" width="2.0" height="2.0" fill="#ff9e54"/>
<rect x="724.3" y="100.4" width="2.0" height="2.0" fill="#ff9e54"/>
<rect x="723.1" y="103.9" width="2.0" height="2.0" fill="#ff9e54"/>
<rect x="725.3" y="119.6" width="2.0" height="2.0" fill="#ff9e54"/>
<rect x="728.0" y="120.0" width="2.0" height="2.0" fill="#ff9e54"/>
<rect x="726.7" y="93.6" width="2.0" height="2.0" fill="#ff9e54"/>
<rect x="725.2" y="105.6" width="2.0" height="2.0" fill="#ff9e53"/>
<rect x="724.5" y="101.1" width="2.0" height="2.0" fill="#ff9e53"/>
<rect x="725.3" y="77.3" width="2.0" height="2.0" fill="#ff9d53"/>
<rect x="726.9" y="72.8" width="2.0" height="2.0" fill="#ff9d53"/>
<rect x="729.6" y="115.0" width="2.0" height="2.0" fill="#ff9d53"/>
<rect x="725.8" y="79.5" width="2.0" height="2.0" fill="#ff9d53"/>
<rect x="726.6" y="87.7" width="2.0" height="2.0" fill="#ff9d53"/>
<rect x="724.9" y="88.3" width="2.0" height="2.0" fill="#ff9d53"/>
<rect x="725.4" y="100.4" width="2.0" height="2.0" fill="#ff9c52"/>
<rect x="726.3" y="76.5" width="2.0" height="2.0" fill="#ff9c52"/>
<rect x="728.5" y="94.8" width="2.0" height="2.0" fill="#ff9c52"/>
<rect x="722.6" y="98.5" width="2.0" height="2.0" fill="#ff9c52"/>
<rect x="726.5" y="102.5" width="2.0" height="2.0" fill="#ff9c52"/>
<rect x="725.5" y="99.9" width="2.0" height="2.0" fill="#ff9c52"/>
<rect x="723.9" y="88.4" width="2.0" height="2.0" fill="#ff9c52"/>
<rect x="725.3" y="97.0" width="2.0" height="2.0" fill="#ff9c52"/>
<rect x="725.2" y="117.9" width="2.0" height="2.0" fill="#ff9b52"/>
<rect x="726.5" y="91.4" width="2.0" height="2.0" fill="#ff9b52"/>
<rect x="726.9" y="110.5" width="2.0" height="2.0" fill="#ff9b52"/>
<rect x="725.6" y="79.0" width="2.0" height="2.0" fill="#ff9b52"/>
<rect x="725.7" y="74.8" width="2.0" height="2.0" fill="#ff9b52"/>
<rect x="727.3" y="86.0" width="2.0" height="2.0" fill="#ff9a51"/>
<rect x="724.1" y="79.3" width="2.0" height="2.0" fill="#ff9a51"/>
<rect x="725.2" y="109.7" width="2.0" height="2.0" fill="#ff9a51"/>
<rect x="724.8" y="99.3" width="2.0" height="2.0" fill="#ff9a51"/>
<rect x="726.3" y="80.5" width="2.0" height="2.0" fill="#ff9951"/>
<rect x="723.6" y="115.1" width="2.0" height="2.0" fill="#ff9951"/>
<rect x="726.1" y="103.5" width="2.0" height="2.0" fill="#ff9951"/>
<rect x="725.7" y="74.3" width="2.0" height="2.0" fill="#ff9951"/>
<rect x="722.2" y="92.8" width="2.0" height="2.0" fill="#ff9951"/>
<rect x="727.1" y="81.2" width="2.0" height="2.0" fill="#ff9951"/>
<rect x="724.9" y="83.7" width="2.0" height="2.0" fill="#ff9951"/>
<rect x="723.4" y="85.1" width="2.0" height="2.0" fill="#ff9951"/>
<rect x="723.8" y="81.8" width="2.0" height="2.0" fill="#ff9951"/>
<rect x="727.5" y="91.9" width="2.0" height="2.0" fill="#ff9950"/>
<rect x="725.0" y="96.3" width="2.0" height="2.0" fill="#ff9950"/>
<rect x="725.8" y="55.3" width="2.0" height="2.0" fill="#ff9850"/>
<rect x="728.1" y="77.0" width="2.0" height="2.0" fill="#ff9850"/>
<rect x="726.1" y="103.9" width="2.0" height="2.0" fill="#ff9850"/>
<rect x="725.8" y="85.5" width="2.0" height="2.0" fill="#ff9850"/>
<rect x="728.2" y="129.6" width="2.0" height="2.0" fill="#ff9850"/>
<rect x="725.4" y="94.5" width="2.0" height="2.0" fill="#ff9850"/>
<rect x="729.9" y="116.5" width="2.0" height="2.0" fill="#ff9750"/>
<rect x="726.0" y="80.1" width="2.0" height="2.0" fill="#ff974f"/>
<rect x="724.0" y="88.5" width="2.0" height="2.0" fill="#ff964f"/>
<rect x="723.6" y="113.6" width="2.0" height="2.0" fill="#ff964f"/>
<rect x="723.6" y="117.3" width="2.0" height="2.0" fill="#ff964f"/>
<rect x="726.2" y="107.7" width="2.0" height="2.0" fill="#ff964f"/>
<rect x="726.0" y="93.6" width="2.0" height="2.0" fill="#ff964f"/>
<rect x="726.7" y="94.7" width="2.0" height="2.0" fill="#ff964f"/>
<rect x="725.9" y="96.8" width="2.0" height="2.0" fill="#ff964f"/>
<rect x="724.5" y="83.1" width="2.0" height="2.0" fill="#ff964f"/>
<rect x="727.9" y="104.7" width="2.0" height="2.0" fill="#ff964f"/>
<rect x="726.8" y="107.5" width="2.0" height="2.0" fill="#ff964f"/>
<rect x="724.9" y="61.3" width="2.0" height="2.0" fill="#ff964f"/>
<rect x="724.5" y="66.5" width="2.0" height="2.0" fill="#ff954f"/>
<rect x="725.5" y="77.1" width="2.0" height="2.0" fill="#ff954e"/>
<rect x="723.7" y="114.1" width="2.0" height="2.0" fill="#ff954e"/>
<rect x="724.9" y="71.4" width="2.0" height="2.0" fill="#ff954e"/>
<rect x="723.7" y="104.0" width="2.0" height="2.0" fill="#ff954e"/>
<rect x="726.3" y="59.4" width="2.0" height="2.0" fill="#ff954e"/>
<rect x="723.9" y="98.0" width="2.0" height="2.0" fill="#ff944e"/>
<rect x="727.4" y="86.0" width="2.0" height="2.0" fill="#ff944e"/>
<rect x="726.1" y="73.7" width="2.0" height="2.0" fill="#ff944e"/>
<rect x="725.6" y="104.8" width="2.0" height="2.0" fill="#ff944e"/>
<rect x="727.8" y="152.9" width="2.0" height="2.0" fill="#ff944e"/>
<rect x="723.0" y="72.9" width="2.0" height="2.0" fill="#ff944d"/>
<rect x="721.7" y="106.4" width="2.0" height="2.0" fill="#ff944d"/>
<rect x="723.7" y="85.7" width="2.0" height="2.0" fill="#ff944d"/>
<rect x="724.9" y="103.1" width="2.0" height="2.0" fill="#ff934d"/>
<rect x="726.3" y="89.6" width="2.0" height="2.0" fill="#ff934d"/>
<rect x="724.6" y="58.9" width="2.0" height="2.0" fill="#ff934d"/>
<rect x="728.9" y="97.3" width="2.0" height="2.0" fill="#ff934d"/>
<rect x="726.5" y="84.1" width="2.0" height="2.0" fill="#ff934d"/>
<rect x="727.5" y="91.9" width="2.0" height="2.0" fill="#ff934d"/>
<rect x="725.9" y="86.1" width="2.0" height="2.0" fill="#ff934d"/>
<rect x="725.3" y="76.5" width="2.0" height="2.0" fill="#ff934d"/>
<rect x="726.4" y="90.0" width="2.0" height="2.0" fill="#ff934d"/>
<rect x="725.2" y="76.6" width="2.0" height="2.0" fill="#ff934d"/>
<rect x="725.5" y="71.4" width="2.0" height="2.0" fill="#ff934d"/>
<rect x="726.0" y="109.3" width="2.0" height="2.0" fill="#ff934d"/>
<rect x="726.8" y="119.5" width="2.0" height="2.0" fill="#ff934d"/>
<rect x="723.8" y="57.1" width="2.0" height="2.0" fill="#ff934d"/>
<rect x="724.6" y="74.8" width="2.0" height="2.0" fill="#ff924d"/>
<rect x="725.5" y="125.2" width="2.0" height="2.0" fill="#ff924d"/>
<rect x="724.5" y="59.4" width="2.0" height="2.0" fill="#ff924d"/>
<rect x="728.0" y="100.4" width="2.0" height="2.0" fill="#ff924d"/>
<rect x="727.8" y="111.5" width="2.0" height="2.0" fill="#ff924d"/>
<rect x="725.8" y="113.2" width="2.0" height="2.0" fill="#ff924c"/>
<rect x="728.4" y="82.0" width="2.0" height="2.0" fill="#ff924c"/>
<rect x="726.6" y="106.8" width="2.0" height="2.0" fill="#ff924c"/>
<rect x="724.6" y="83.1" width="2.0" height="2.0" fill="#ff924c"/>
<rect x="725.2" y="103.8" width="2.0" height="2.0" fill="#ff924c"/>
<rect x="723.5" y="64.4" width="2.0" height="2.0" fill="#ff914c"/>
<rect x="726.2" y="81.4" width="2.0" height="2.0" fill="#ff914c"/>
<rect x="725.1" y="76.5" width="2.0" height="2.0" fill="#ff914c"/>
<rect x="726.6" y="101.8" width="2.0" height="2.0" fill="#ff904c"/>
<rect x="727.1" y="106.2" width="2.0" height="2.0" fill="#ff904c"/>
<rect x="726.9" y="86.1" width="2.0" height="2.0" fill="#ff904b"/>
<rect x="726.9" y="99.3" width="2.0" height="2.0" fill="#ff904b"/>
<rect x="728.8" y="95.5" width="2.0" height="2.0" fill="#ff8f4b"/>
<rect x="723.1" y="92.8" width="2.0" height="2.0" fill="#ff8f4b"/>
<rect x="725.3" y="122.1" width="2.0" height="2.0" fill="#ff8f4b"/>
<rect x="724.3" y="95.0" width="2.0" height="2.0" fill="#ff8f4b"/>
<rect x="726.4" y="98.1" width="2.0" height="2.0" fill="#ff8f4b"/>
<rect x="729.9" y="131.4" width="2.0" height="2.0" fill="#ff8f4b"/>
<rect x="726.9" y="83.2" width="2.0" height="2.0" fill="#ff8e4a"/>
<rect x="728.1" y="90.8" width="2.0" height="2.0" fill="#ff8e4a"/>
<rect x="726.5" y="81.0" width="2.0" height="2.0" fill="#ff8e4a"/>
<rect x="725.7" y="91.0" width="2.0" height="2.0" fill="#ff8e4a"/>
<rect x="728.8" y="146.4" width="2.0" height="2.0" fill="#ff8e4a"/>
<rect x="723.7" y="116.6" width="2.0" height="2.0" fill="#ff8e4a"/>
<rect x="726.9" y="56.4" width="2.0" height="2.0" fill="#ff8e4a"/>
<rect x="725.4" y="89.7" width="2.0" height="2.0" fill="#ff8e4a"/>
<rect x="729.2" y="137.3" width="2.0" height="2.0" fill="#ff8e4a"/>
<rect x="722.9" y="108.2" width="2.0" height="2.0" fill="#ff8e4a"/>
<rect x="728.5" y="131.0" width="2.0" height="2.0" fill="#ff8e4a"/>
<rect x="727.0" y="90.7" width="2.0" height="2.0" fill="#ff8d4a"/>
<rect x="726.4" y="114.0" width="2.0" height="2.0" fill="#ff8d4a"/>
<rect x="725.8" y="103.3" width="2.0" height="2.0" fill="#ff8d4a"/>
<rect x="726.1" y="119.1" width="2.0" height="2.0" fill="#ff8d4a"/>
<rect x="727.8" y="93.5" width="2.0" height="2.0" fill="#ff8d4a"/>
<rect x="728.3" y="76.1" width="2.0" height="2.0" fill="#ff8d4a"/>
<rect x="723.4" y="76.5" width="2.0" height="2.0" fill="#ff8d49"/>
<rect x="725.9" y="114.0" width="2.0" height="2.0" fill="#ff8c49"/>
<rect x="728.3" y="83.2" width="2.0" height="2.0" fill="#ff8c49"/>
<rect x="723.8" y="92.9" width="2.0" height="2.0" fill="#ff8c49"/>
<rect x="723.0" y="75.3" width="2.0" height="2.0" fill="#ff8c49"/>
<rect x="727.9" y="83.8" width="2.0" height="2.0" fill="#ff8c49"/>
<rect x="727.3" y="122.9" width="2.0" height="2.0" fill="#ff8c49"/>
<rect x="727.4" y="90.5" width="2.0" height="2.0" fill="#ff8c49"/>
<rect x="724.7" y="88.4" width="2.0" height="2.0" fill="#ff8b49"/>
<rect x="726.4" y="60.4" width="2.0" height="2.0" fill="#ff8b49"/>
<rect x="725.7" y="88.4" width="2.0" height="2.0" fill="#ff8b49"/>
<rect x="726.0" y="67.2" width="2.0" height="2.0" fill="#ff8b48"/>
<rect x="726.7" y="75.5" width="2.0" height="2.0" fill="#ff8b48"/>
<rect x="725.4" y="116.1" width="2.0" height="2.0" fill="#ff8b48"/>
<rect x="724.3" y="92.3" width="2.0" height="2.0" fill="#ff8a48"/>
<rect x="726.3" y="104.0" width="2.0" height="2.0" fill="#ff8a48"/>
<rect x="726.5" y="102.6" width="2.0" height="2.0" fill="#ff8a48"/>
<rect x="724.3" y="81.8" width="2.0" height="2.0" fill="#ff8948"/>
<rect x="726.4" y="87.9" width="2.0" height="2.0" fill="#ff8948"/>
<rect x="726.7" y="103.4" width="2.0" height="2.0" fill="#ff8947"/>
<rect x="721.4" y="75.6" width="2.0" height="2.0" fill="#ff8947"/>
<rect x="725.4" y="115.0" width="2.0" height="2.0" fill="#ff8947"/>
<rect x="722.4" y="87.8" width="2.0" height="2.0" fill="#ff8947"/>
<rect x="725.9" y="84.3" width="2.0" height="2.0" fill="#ff8947"/>
<rect x="724.8" y="55.6" width="2.0" height="2.0" fill="#ff8847"/>
<rect x="726.1" y="67.2" width="2.0" height="2.0" fill="#ff8847"/>
<rect x="725.4" y="81.6" width="2.0" height="2.0" fill="#ff8847"/>
<rect x="726.1" y="101.7" width="2.0" height="2.0" fill="#ff8847"/>
<rect x="725.4" y="88.6" width="2.0" height="2.0" fill="#ff8847"/>
<rect x="725.7" y="84.2" width="2.0" height="2.0" fill="#ff8746"/>
<rect x="724.6" y="87.6" width="2.0" height="2.0" fill="#ff8746"/>
<rect x="726.4" y="94.0" width="2.0" height="2.0" fill="#ff8746"/>
<rect x="728.6" y="130.9" width="2.0" height="2.0" fill="#ff8746"/>
<rect x="724.3" y="80.7" width="2.0" height="2.0" fill="#ff8746"/>
<rect x="724.0" y="107.5" width="2.0" height="2.0" fill="#ff8746"/>
<rect x="728.2" y="104.3" width="2.0" height="2.0" fill="#ff8646"/>
<rect x="723.2" y="75.6" width="2.0" height="2.0" fill="#ff8646"/>
<rect x="727.2" y="85.4" width="2.0" height="2.0" fill="#ff8646"/>
<rect x="725.2" y="104.2" width="2.0" height="2.0" fill="#ff8646"/>
<rect x="725.1" y="90.3" width="2.0" height="2.0" fill="#ff8646"/>
<rect x="725.3" y="67.1" width="2.0" height="2.0" fill="#ff8646"/>
<rect x="722.0" y="126.0" width="2.0" height="2.0" fill="#ff8646"/>
<rect x="723.8" y="95.9" width="2.0" height="2.0" fill="#ff8646"/>
<rect x="723.3" y="127.7" width="2.0" height="2.0" fill="#ff8646"/>
<rect x="724.7" y="116.5" width="2.0" height="2.0" fill="#ff8646"/>
<rect x="731.7" y="122.6" width="2.0" height="2.0" fill="#ff8646"/>
<rect x="723.5" y="77.6" width="2.0" height="2.0" fill="#ff8645"/>
<rect x="727.5" y="91.3" width="2.0" height="2.0" fill="#ff8645"/>
<rect x="727.5" y="110.5" width="2.0" height="2.0" fill="#ff8645"/>
<rect x="725.9" y="66.7" width="2.0" height="2.0" fill="#ff8545"/>
<rect x="723.6" y="96.4" width="2.0" height="2.0" fill="#ff8545"/>
<rect x="725.5" y="76.0" width="2.0" height="2.0" fill="#ff8445"/>
<rect x="725.5" y="108.8" width="2.0" height="2.0" fill="#ff8445"/>
<rect x="727.2" y="79.5" width="2.0" height="2.0" fill="#ff8444"/>
<rect x="730.4" y="116.0" width="2.0" height="2.0" fill="#ff8444"/>
<rect x="726.4" y="112.9" width="2.0" height="2.0" fill="#ff8444"/>
<rect x="728.2" y="89.9" width="2.0" height="2.0" fill="#ff8444"/>
<rect x="727.4" y="101.7" width="2.0" height="2.0" fill="#ff8344"/>
<rect x="725.3" y="63.1" width="2.0" height="2.0" fill="#ff8344"/>
<rect x="728.8" y="89.2" width="2.0" height="2.0" fill="#ff8344"/>
<rect x="724.4" y="92.0" width="2.0" height="2.0" fill="#ff8344"/>
<rect x="723.8" y="77.0" width="2.0" height="2.0" fill="#ff8344"/>
<rect x="725.0" y="70.6" width="2.0" height="2.0" fill="#ff8344"/>
<rect x="725.3" y="109.4" width="2.0" height="2.0" fill="#ff8344"/>
<rect x="727.3" y="90.2" width="2.0" height="2.0" fill="#ff8344"/>
<rect x="725.9" y="74.8" width="2.0" height="2.0" fill="#ff8243"/>
<rect x="725.0" y="99.6" width="2.0" height="2.0" fill="#ff8143"/>
<rect x="725.3" y="105.1" width="2.0" height="2.0" fill="#ff8143"/>
<rect x="724.1" y="118.2" width="2.0" height="2.0" fill="#ff8143"/>
<rect x="728.7" y="116.3" width="2.0" height="2.0" fill="#ff8043"/>
<rect x="722.5" y="70.7" width="2.0" height="2.0" fill="#ff8042"/>
<rect x="723.4" y="77.9" width="2.0" height="2.0" fill="#ff8042"/>
<rect x="726.3" y="99.6" width="2.0" height="2.0" fill="#ff8042"/>
<rect x="724.0" y="78.8" width="2.0" height="2.0" fill="#ff8042"/>
<rect x="725.4" y="106.8" width="2.0" height="2.0" fill="#ff7f42"/>
<rect x="726.1" y="119.1" width="2.0" height="2.0" fill="#ff7f42"/>
<rect x="724.2" y="112.8" width="2.0" height="2.0" fill="#ff7f42"/>
<rect x="728.1" y="83.8" width="2.0" height="2.0" fill="#ff7f42"/>
<rect x="726.9" y="96.5" width="2.0" height="2.0" fill="#ff7f42"/>
<rect x="726.0" y="98.7" width="2.0" height="2.0" fill="#ff7f42"/>
<rect x="724.8" y="73.1" width="2.0" height="2.0" fill="#ff7f42"/>
<rect x="724.7" y="90.8" width="2.0" height="2.0" fill="#ff7f42"/>
<rect x="726.0" y="75.0" width="2.0" height="2.0" fill="#ff7e41"/>
<rect x="724.8" y="98.1" width="2.0" height="2.0" fill="#ff7e41"/>
<rect x="728.1" y="64.8" width="2.0" height="2.0" fill="#ff7e41"/>
<rect x="724.9" y="98.6" width="2.0" height="2.0" fill="#ff7e41"/>
<rect x="725.0" y="99.9" width="2.0" height="2.0" fill="#ff7e41"/>
<rect x="728.5" y="117.9" width="2.0" height="2.0" fill="#ff7e41"/>
<rect x="725.1" y="96.9" width="2.0" height="2.0" fill="#ff7e41"/>
<rect x="725.5" y="90.9" width="2.0" height="2.0" fill="#ff7e41"/>
<rect x="727.5" y="49.0" width="2.0" height="2.0" fill="#ff7e41"/>
<rect x="728.1" y="71.5" width="2.0" height="2.0" fill="#ff7d41"/>
<rect x="725.1" y="98.8" width="2.0" height="2.0" fill="#ff7d40"/>
<rect x="723.7" y="105.9" width="2.0" height="2.0" fill="#ff7d40"/>
<rect x="724.0" y="65.9" width="2.0" height="2.0" fill="#ff7d40"/>
<rect x="725.7" y="101.9" width="2.0" height="2.0" fill="#ff7c40"/>
<rect x="720.5" y="103.8" width="2.0" height="2.0" fill="#ff7c40"/>
<rect x="723.2" y="85.7" width="2.0" height="2.0" fill="#ff7c40"/>
<rect x="726.8" y="77.4" width="2.0" height="2.0" fill="#ff7c40"/>
<rect x="725.1" y="92.0" width="2.0" height="2.0" fill="#ff7c40"/>
<rect x="725.9" y="112.8" width="2.0" height="2.0" fill="#ff7c40"/>
<rect x="725.1" y="91.8" width="2.0" height="2.0" fill="#ff7c40"/>
<rect x="722.8" y="115.5" width="2.0" height="2.0" fill="#ff7b40"/>
<rect x="724.5" y="116.5" width="2.0" height="2.0" fill="#ff7b40"/>
<rect x="724.0" y="89.6" width="2.0" height="2.0" fill="#ff7b40"/>
<rect x="727.3" y="71.5" width="2.0" height="2.0" fill="#ff7b3f"/>
<rect x="731.8" y="82.9" width="2.0" height="2.0" fill="#ff6d38"/>
<rect x="729.1" y="98.9" width="2.0" height="2.0" fill="#ff6d38"/>
<rect x="728.9" y="90.6" width="2.0" height="2.0" fill="#ff6c37"/>
<rect x="734.6" y="88.4" width="2.0" height="2.0" fill="#ff6c37"/>
<rect x="729.8" y="69.2" width="2.0" height="2.0" fill="#ff6c37"/>
<rect x="729.7" y="85.6" width="2.0" height="2.0" fill="#ff6c37"/>
<rect x="730.2" y="85.9" width="2.0" height="2.0" fill="#ff6c37"/>
<rect x="732.2" y="97.3" width="2.0" height="2.0" fill="#ff6c37"/>
<rect x="731.0" y="80.1" width="2.0" height="2.0" fill="#ff6c37"/>
<rect x="729.6" y="88.0" width="2.0" height="2.0" fill="#ff6c37"/>
<rect x="729.3" y="92.3" width="2.0" height="2.0" fill="#ff6c37"/>
<rect x="734.1" y="88.6" width="2.0" height="2.0" fill="#ff6c37"/>
<rect x="729.2" y="90.2" width="2.0" height="2.0" fill="#ff6c37"/>
<rect x="731.8" y="92.1" width="2.0" height="2.0" fill="#ff6b37"/>
<rect x="731.5" y="69.4" width="2.0" height="2.0" fill="#ff6b37"/>
<rect x="732.5" y="69.9" width="2.0" height="2.0" fill="#ff6b37"/>
<rect x="729.5" y="93.5" width="2.0" height="2.0" fill="#ff6b37"/>
<rect x="727.4" y="80.5" width="2.0" height="2.0" fill="#ff6b37"/>
<rect x="729.4" y="94.9" width="2.0" height="2.0" fill="#ff6b37"/>
<rect x="731.8" y="102.9" width="2.0" height="2.0" fill="#ff6b37"/>
<rect x="728.5" y="82.2" width="2.0" height="2.0" fill="#ff6b37"/>
<rect x="731.6" y="87.3" width="2.0" height="2.0" fill="#ff6b37"/>
<rect x="731.1" y="98.8" width="2.0" height="2.0" fill="#ff6b37"/>
<rect x="734.8" y="83.7" width="2.0" height="2.0" fill="#ff6b37"/>
<rect x="732.2" y="80.3" width="2.0" height="2.0" fill="#ff6b37"/>
<rect x="730.2" y="73.2" width="2.0" height="2.0" fill="#ff6b37"/>
<rect x="728.9" y="70.8" width="2.0" height="2.0" fill="#ff6a37"/>
<rect x="733.7" y="86.6" width="2.0" height="2.0" fill="#ff6a36"/>
<rect x="730.7" y="85.9" width="2.0" height="2.0" fill="#ff6a36"/>
<rect x="731.9" y="83.1" width="2.0" height="2.0" fill="#ff6a36"/>
<rect x="731.8" y="70.8" width="2.0" height="2.0" fill="#ff6a36"/>
<rect x="730.5" y="88.8" width="2.0" height="2.0" fill="#ff6a36"/>
<rect x="732.2" y="75.5" width="2.0" height="2.0" fill="#ff6a36"/>
<rect x="730.1" y="73.4" width="2.0" height="2.0" fill="#ff6a36"/>
<rect x="729.0" y="78.8" width="2.0" height="2.0" fill="#ff6a36"/>
<rect x="728.3" y="91.3" width="2.0" height="2.0" fill="#ff6a36"/>
<rect x="728.2" y="82.4" width="2.0" height="2.0" fill="#ff6a36"/>
<rect x="730.7" y="87.2" width="2.0" height="2.0" fill="#ff6a36"/>
<rect x="731.1" y="86.4" width="2.0" height="2.0" fill="#ff6a36"/>
<rect x="730.9" y="91.4" width="2.0" height="2.0" fill="#ff6a36"/>
<rect x="731.9" y="74.5" width="2.0" height="2.0" fill="#ff6936"/>
<rect x="729.4" y="83.0" width="2.0" height="2.0" fill="#ff6936"/>
<rect x="731.0" y="75.9" width="2.0" height="2.0" fill="#ff6936"/>
<rect x="728.4" y="85.5" width="2.0" height="2.0" fill="#ff6936"/>
<rect x="731.1" y="70.6" width="2.0" height="2.0" fill="#ff6936"/>
<rect x="729.9" y="85.0" width="2.0" height="2.0" fill="#ff6936"/>
<rect x="730.3" y="76.3" width="2.0" height="2.0" fill="#ff6936"/>
<rect x="730.5" y="82.6" width="2.0" height="2.0" fill="#ff6936"/>
<rect x="731.4" y="83.8" width="2.0" height="2.0" fill="#ff6936"/>
<rect x="727.0" y="72.0" width="2.0" height="2.0" fill="#ff6936"/>
<rect x="729.7" y="80.6" width="2.0" height="2.0" fill="#ff6936"/>
<rect x="729.7" y="108.5" width="2.0" height="2.0" fill="#ff6936"/>
<rect x="732.2" y="92.6" width="2.0" height="2.0" fill="#ff6936"/>
<rect x="729.8" y="85.4" width="2.0" height="2.0" fill="#ff6936"/>
<rect x="730.8" y="85.1" width="2.0" height="2.0" fill="#ff6936"/>
<rect x="729.3" y="93.5" width="2.0" height="2.0" fill="#ff6936"/>
<rect x="729.8" y="76.2" width="2.0" height="2.0" fill="#ff6935"/>
<rect x="729.8" y="97.0" width="2.0" height="2.0" fill="#ff6835"/>
<rect x="730.9" y="72.6" width="2.0" height="2.0" fill="#ff6835"/>
<rect x="727.3" y="92.5" width="2.0" height="2.0" fill="#ff6835"/>
<rect x="731.1" y="78.0" width="2.0" height="2.0" fill="#ff6835"/>
<rect x="731.6" y="85.9" width="2.0" height="2.0" fill="#ff6835"/>
<rect x="728.9" y="64.6" width="2.0" height="2.0" fill="#ff6835"/>
<rect x="730.0" y="94.4" width="2.0" height="2.0" fill="#ff6835"/>
<rect x="732.2" y="77.4" width="2.0" height="2.0" fill="#ff6835"/>
<rect x="730.2" y="77.8" width="2.0" height="2.0" fill="#ff6835"/>
<rect x="733.8" y="87.6" width="2.0" height="2.0" fill="#ff6835"/>
<rect x="729.7" y="95.2" width="2.0" height="2.0" fill="#ff6835"/>
<rect x="727.7" y="110.0" width="2.0" height="2.0" fill="#ff6835"/>
<rect x="728.8" y="98.8" width="2.0" height="2.0" fill="#ff6735"/>
<rect x="733.0" y="85.5" width="2.0" height="2.0" fill="#ff6735"/>
<rect x="730.4" y="66.6" width="2.0" height="2.0" fill="#ff6735"/>
<rect x="731.7" y="89.1" width="2.0" height="2.0" fill="#ff6735"/>
<rect x="731.7" y="85.6" width="2.0" height="2.0" fill="#ff6735"/>
<rect x="730.0" y="76.2" width="2.0" height="2.0" fill="#ff6735"/>
<rect x="730.9" y="59.1" width="2.0" height="2.0" fill="#ff6735"/>
<rect x="725.0" y="82.7" width="2.0" height="2.0" fill="#ff6735"/>
<rect x="732.4" y="83.0" width="2.0" height="2.0" fill="#ff6735"/>
<rect x="731.1" y="78.1" width="2.0" height="2.0" fill="#ff6735"/>
<rect x="731.7" y="73.4" width="2.0" height="2.0" fill="#ff6735"/>
<rect x="726.3" y="76.7" width="2.0" height="2.0" fill="#ff6735"/>
<rect x="731.4" y="82.6" width="2.0" height="2.0" fill="#ff6735"/>
<rect x="728.5" y="87.8" width="2.0" height="2.0" fill="#ff6735"/>
<rect x="729.6" y="73.7" width="2.0" height="2.0" fill="#ff6735"/>
<rect x="727.5" y="74.7" width="2.0" height="2.0" fill="#ff6735"/>
<rect x="728.4" y="85.3" width="2.0" height="2.0" fill="#ff6735"/>
<rect x="727.2" y="74.8" width="2.0" height="2.0" fill="#ff6734"/>
<rect x="729.0" y="94.5" width="2.0" height="2.0" fill="#ff6734"/>
<rect x="730.7" y="70.4" width="2.0" height="2.0" fill="#ff6634"/>
<rect x="732.7" y="99.6" width="2.0" height="2.0" fill="#ff6634"/>
<rect x="729.3" y="102.3" width="2.0" height="2.0" fill="#ff6634"/>
<rect x="728.7" y="92.5" width="2.0" height="2.0" fill="#ff6634"/>
<rect x="730.2" y="91.0" width="2.0" height="2.0" fill="#ff6634"/>
<rect x="730.8" y="87.5" width="2.0" height="2.0" fill="#ff6634"/>
<rect x="728.5" y="74.0" width="2.0" height="2.0" fill="#ff6634"/>
<rect x="729.7" y="72.3" width="2.0" height="2.0" fill="#ff6634"/>
<rect x="730.9" y="86.5" width="2.0" height="2.0" fill="#ff6634"/>
<rect x="728.7" y="81.1" width="2.0" height="2.0" fill="#ff6634"/>
<rect x="729.8" y="77.2" width="2.0" height="2.0" fill="#ff6634"/>
<rect x="732.6" y="87.9" width="2.0" height="2.0" fill="#ff6634"/>
<rect x="731.5" y="70.0" width="2.0" height="2.0" fill="#ff6634"/>
<rect x="729.4" y="100.1" width="2.0" height="2.0" fill="#ff6634"/>
<rect x="730.2" y="101.7" width="2.0" height="2.0" fill="#ff6634"/>
<rect x="732.7" y="77.0" width="2.0" height="2.0" fill="#ff6534"/>
<rect x="727.6" y="86.7" width="2.0" height="2.0" fill="#ff6534"/>
<rect x="730.7" y="69.0" width="2.0" height="2.0" fill="#ff6534"/>
<rect x="730.3" y="73.8" width="2.0" height="2.0" fill="#ff6534"/>
<rect x="731.9" y="109.8" width="2.0" height="2.0" fill="#ff6534"/>
<rect x="733.5" y="85.0" width="2.0" height="2.0" fill="#ff6534"/>
<rect x="730.3" y="83.0" width="2.0" height="2.0" fill="#ff6534"/>
<rect x="731.5" y="89.3" width="2.0" height="2.0" fill="#ff6533"/>
<rect x="731.9" y="85.4" width="2.0" height="2.0" fill="#ff6533"/>
<rect x="729.7" y="71.1" width="2.0" height="2.0" fill="#ff6533"/>
<rect x="731.0" y="81.0" width="2.0" height="2.0" fill="#ff6533"/>
<rect x="730.8" y="75.5" width="2.0" height="2.0" fill="#ff6533"/>
<rect x="730.6" y="93.5" width="2.0" height="2.0" fill="#ff6433"/>
<rect x="731.4" y="86.7" width="2.0" height="2.0" fill="#ff6433"/>
<rect x="729.0" y="86.2" width="2.0" height="2.0" fill="#ff6433"/>
<rect x="728.9" y="75.7" width="2.0" height="2.0" fill="#ff6433"/>
<rect x="730.4" y="96.5" width="2.0" height="2.0" fill="#ff6433"/>
<rect x="730.3" y="88.3" width="2.0" height="2.0" fill="#ff6433"/>
<rect x="726.4" y="72.4" width="2.0" height="2.0" fill="#ff6433"/>
<rect x="727.6" y="105.3" width="2.0" height="2.0" fill="#ff6433"/>
<rect x="729.5" y="74.9" width="2.0" height="2.0" fill="#ff6433"/>
<rect x="727.6" y="65.4" width="2.0" height="2.0" fill="#ff6433"/>
<rect x="728.1" y="71.3" width="2.0" height="2.0" fill="#ff6433"/>
<rect x="730.1" y="87.9" width="2.0" height="2.0" fill="#ff6433"/>
<rect x="729.7" y="82.3" width="2.0" height="2.0" fill="#ff6433"/>
<rect x="729.8" y="93.6" width="2.0" height="2.0" fill="#ff6433"/>
<rect x="731.7" y="102.1" width="2.0" height="2.0" fill="#ff6433"/>
<rect x="732.2" y="91.3" width="2.0" height="2.0" fill="#ff6433"/>
<rect x="730.1" y="72.8" width="2.0" height="2.0" fill="#ff6433"/>
<rect x="731.3" y="113.3" width="2.0" height="2.0" fill="#ff6433"/>
<rect x="727.3" y="82.1" width="2.0" height="2.0" fill="#ff6433"/>
<rect x="730.1" y="61.0" width="2.0" height="2.0" fill="#ff6433"/>
<rect x="733.0" y="99.2" width="2.0" height="2.0" fill="#ff6333"/>
<rect x="732.8" y="98.8" width="2.0" height="2.0" fill="#ff6333"/>
<rect x="731.6" y="81.0" width="2.0" height="2.0" fill="#ff6333"/>
<rect x="729.8" y="91.2" width="2.0" height="2.0" fill="#ff6333"/>
<rect x="732.5" y="100.0" width="2.0" height="2.0" fill="#ff6333"/>
<rect x="730.2" y="91.3" width="2.0" height="2.0" fill="#ff6332"/>
<rect x="729.7" y="75.1" width="2.0" height="2.0" fill="#ff6332"/>
<rect x="729.5" y="82.6" width="2.0" height="2.0" fill="#ff6332"/>
<rect x="731.8" y="65.6" width="2.0" height="2.0" fill="#ff6332"/>
<rect x="729.6" y="85.6" width="2.0" height="2.0" fill="#ff6332"/>
<rect x="730.6" y="93.9" width="2.0" height="2.0" fill="#ff6332"/>
<rect x="730.4" y="84.3" width="2.0" height="2.0" fill="#ff6232"/>
<rect x="728.2" y="105.0" width="2.0" height="2.0" fill="#ff6232"/>
<rect x="725.7" y="55.6" width="2.0" height="2.0" fill="#ff6232"/>
<rect x="732.9" y="84.8" width="2.0" height="2.0" fill="#ff6232"/>
<rect x="729.9" y="83.8" width="2.0" height="2.0" fill="#ff6232"/>
<rect x="731.4" y="101.7" width="2.0" height="2.0" fill="#ff6232"/>
<rect x="729.2" y="96.3" width="2.0" height="2.0" fill="#ff6232"/>
<rect x="730.2" y="84.1" width="2.0" height="2.0" fill="#ff6232"/>
<rect x="728.4" y="61.1" width="2.0" height="2.0" fill="#ff6232"/>
<rect x="730.2" y="67.8" width="2.0" height="2.0" fill="#ff6232"/>
<rect x="731.7" y="90.5" width="2.0" height="2.0" fill="#ff6232"/>
<rect x="729.9" y="88.8" width="2.0" height="2.0" fill="#ff6232"/>
<rect x="730.1" y="75.1" width="2.0" height="2.0" fill="#ff6232"/>
<rect x="727.9" y="66.5" width="2.0" height="2.0" fill="#ff6232"/>
<rect x="729.8" y="87.4" width="2.0" height="2.0" fill="#ff6232"/>
<rect x="734.2" y="82.7" width="2.0" height="2.0" fill="#ff6232"/>
<rect x="732.5" y="85.1" width="2.0" height="2.0" fill="#ff6232"/>
<rect x="730.9" y="71.1" width="2.0" height="2.0" fill="#ff6232"/>
<rect x="729.0" y="94.7" width="2.0" height="2.0" fill="#ff6232"/>
<rect x="729.8" y="116.2" width="2.0" height="2.0" fill="#ff6232"/>
<rect x="733.1" y="80.1" width="2.0" height="2.0" fill="#ff6232"/>
<rect x="731.8" y="75.6" width="2.0" height="2.0" fill="#ff6132"/>
<rect x="731.3" y="97.7" width="2.0" height="2.0" fill="#ff6132"/>
<rect x="731.1" y="94.9" width="2.0" height="2.0" fill="#ff6132"/>
<rect x="732.1" y="94.8" width="2.0" height="2.0" fill="#ff6132"/>
<rect x="732.8" y="81.4" width="2.0" height="2.0" fill="#ff6132"/>
<rect x="732.4" y="101.1" width="2.0" height="2.0" fill="#ff6132"/>
<rect x="731.9" y="92.2" width="2.0" height="2.0" fill="#ff6131"/>
<rect x="730.1" y="85.1" width="2.0" height="2.0" fill="#ff6131"/>
<rect x="729.9" y="99.9" width="2.0" height="2.0" fill="#ff6131"/>
<rect x="730.5" y="69.3" width="2.0" height="2.0" fill="#ff6131"/>
<rect x="730.6" y="73.0" width="2.0" height="2.0" fill="#ff6131"/>
<rect x="730.6" y="96.1" width="2.0" height="2.0" fill="#ff6131"/>
<rect x="729.8" y="89.8" width="2.0" height="2.0" fill="#ff6131"/>
<rect x="728.9" y="100.0" width="2.0" height="2.0" fill="#ff6131"/>
<rect x="730.1" y="107.4" width="2.0" height="2.0" fill="#ff6131"/>
<rect x="729.4" y="99.7" width="2.0" height="2.0" fill="#ff6131"/>
<rect x="728.6" y="88.0" width="2.0" height="2.0" fill="#ff6131"/>
<rect x="729.9" y="73.1" width="2.0" height="2.0" fill="#ff6031"/>
<rect x="729.4" y="58.8" width="2.0" height="2.0" fill="#ff6031"/>
<rect x="728.9" y="86.7" width="2.0" height="2.0" fill="#ff6031"/>
<rect x="730.0" y="103.2" width="2.0" height="2.0" fill="#ff6031"/>
<rect x="731.5" y="68.5" width="2.0" height="2.0" fill="#ff6031"/>
<rect x="725.0" y="73.0" width="2.0" height="2.0" fill="#ff6031"/>
<rect x="731.4" y="86.5" width="2.0" height="2.0" fill="#ff6031"/>
<rect x="729.7" y="93.2" width="2.0" height="2.0" fill="#ff6031"/>
<rect x="732.0" y="109.6" width="2.0" height="2.0" fill="#ff6031"/>
<rect x="731.4" y="103.6" width="2.0" height="2.0" fill="#ff6031"/>
<rect x="731.7" y="83.6" width="2.0" height="2.0" fill="#ff6031"/>
<rect x="731.0" y="86.9" width="2.0" height="2.0" fill="#ff6031"/>
<rect x="729.7" y="82.5" width="2.0" height="2.0" fill="#ff6031"/>
<rect x="731.5" y="93.1" width="2.0" height="2.0" fill="#ff6031"/>
<rect x="731.7" y="78.7" width="2.0" height="2.0" fill="#ff6031"/>
<rect x="730.4" y="81.4" width="2.0" height="2.0" fill="#ff5f31"/>
<rect x="729.4" y="93.4" width="2.0" height="2.0" fill="#ff5f31"/>
<rect x="729.7" y="92.2" width="2.0" height="2.0" fill="#ff5f31"/>
<rect x="729.5" y="94.3" width="2.0" height="2.0" fill="#ff5f31"/>
<rect x="728.7" y="96.0" width="2.0" height="2.0" fill="#ff5f30"/>
<rect x="729.8" y="101.7" width="2.0" height="2.0" fill="#ff5f30"/>
<rect x="728.8" y="87.3" width="2.0" height="2.0" fill="#ff5f30"/>
<rect x="731.6" y="74.8" width="2.0" height="2.0" fill="#ff5f30"/>
<rect x="729.4" y="62.8" width="2.0" height="2.0" fill="#ff5f30"/>
<rect x="729.5" y="100.8" width="2.0" height="2.0" fill="#ff5f30"/>
<rect x="726.4" y="72.6" width="2.0" height="2.0" fill="#ff5f30"/>
<rect x="725.3" y="94.4" width="2.0" height="2.0" fill="#ff5f30"/>
<rect x="730.5" y="76.9" width="2.0" height="2.0" fill="#ff5f30"/>
<rect x="730.7" y="91.5" width="2.0" height="2.0" fill="#ff5f30"/>
<rect x="730.2" y="78.0" width="2.0" height="2.0" fill="#ff5f30"/>
<rect x="732.5" y="78.2" width="2.0" height="2.0" fill="#ff5f30"/>
<rect x="729.6" y="92.8" width="2.0" height="2.0" fill="#ff5f30"/>
<rect x="730.1" y="89.2" width="2.0" height="2.0" fill="#ff5f30"/>
<rect x="727.4" y="93.4" width="2.0" height="2.0" fill="#ff5f30"/>
<rect x="728.5" y="73.6" width="2.0" height="2.0" fill="#ff5f30"/>
<rect x="728.4" y="84.8" width="2.0" height="2.0" fill="#ff5f30"/>
<rect x="730.6" y="67.9" width="2.0" height="2.0" fill="#ff5f30"/>
<rect x="730.5" y="91.4" width="2.0" height="2.0" fill="#ff5f30"/>
<rect x="728.2" y="94.9" width="2.0" height="2.0" fill="#ff5f30"/>
<rect x="729.3" y="70.6" width="2.0" height="2.0" fill="#ff5f30"/>
<rect x="729.0" y="94.5" width="2.0" height="2.0" fill="#ff5e30"/>
<rect x="731.0" y="92.5" width="2.0" height="2.0" fill="#ff5e30"/>
<rect x="729.0" y="78.8" width="2.0" height="2.0" fill="#ff5e30"/>
<rect x="733.3" y="80.8" width="2.0" height="2.0" fill="#ff5e30"/>
<rect x="730.4" y="88.8" width="2.0" height="2.0" fill="#ff5e30"/>
<rect x="732.6" y="87.3" width="2.0" height="2.0" fill="#ff5e30"/>
<rect x="731.1" y="89.1" width="2.0" height="2.0" fill="#ff5e30"/>
<rect x="732.8" y="83.1" width="2.0" height="2.0" fill="#ff5e30"/>
<rect x="730.6" y="77.0" width="2.0" height="2.0" fill="#ff5e30"/>
<rect x="730.2" y="83.8" width="2.0" height="2.0" fill="#ff5e30"/>
<rect x="727.9" y="90.3" width="2.0" height="2.0" fill="#ff5e30"/>
<rect x="730.0" y="74.7" width="2.0" height="2.0" fill="#ff5e30"/>
<rect x="731.3" y="90.8" width="2.0" height="2.0" fill="#ff5d30"/>
<rect x="728.7" y="77.7" width="2.0" height="2.0" fill="#ff5d30"/>
<rect x="731.0" y="63.2" width="2.0" height="2.0" fill="#ff5d30"/>
<rect x="724.7" y="122.9" width="2.0" height="2.0" fill="#ff5d30"/>
<rect x="730.8" y="93.9" width="2.0" height="2.0" fill="#ff5d2f"/>
<rect x="728.6" y="79.0" width="2.0" height="2.0" fill="#ff5d2f"/>
<rect x="730.5" y="84.0" width="2.0" height="2.0" fill="#ff5d2f"/>
<rect x="729.8" y="85.6" width="2.0" height="2.0" fill="#ff5d2f"/>
<rect x="731.4" y="85.3" width="2.0" height="2.0" fill="#ff5d2f"/>
<rect x="731.3" y="85.5" width="2.0" height="2.0" fill="#ff5d2f"/>
<rect x="730.1" y="98.5" width="2.0" height="2.0" fill="#ff5d2f"/>
<rect x="733.7" y="102.5" width="2.0" height="2.0" fill="#ff5d2f"/>
<rect x="729.8" y="75.8" width="2.0" height="2.0" fill="#ff5d2f"/>
<rect x="729.5" y="79.1" width="2.0" height="2.0" fill="#ff5d2f"/>
<rect x="731.6" y="78.3" width="2.0" height="2.0" fill="#ff5d2f"/>
<rect x="728.7" y="92.3" width="2.0" height="2.0" fill="#ff5c2f"/>
<rect x="732.8" y="82.3" width="2.0" height="2.0" fill="#ff5c2f"/>
<rect x="730.3" y="76.3" width="2.0" height="2.0" fill="#ff5c2f"/>
<rect x="731.2" y="90.0" width="2.0" height="2.0" fill="#ff5c2f"/>
<rect x="728.5" y="91.7" width="2.0" height="2.0" fill="#ff5c2f"/>
<rect x="729.2" y="95.1" width="2.0" height="2.0" fill="#ff5c2f"/>
<rect x="730.0" y="98.0" width="2.0" height="2.0" fill="#ff5c2f"/>
<rect x="729.9" y="93.3" width="2.0" height="2.0" fill="#ff5c2f"/>
<rect x="731.5" y="73.4" width="2.0" height="2.0" fill="#ff5c2f"/>
<rect x="734.1" y="82.4" width="2.0" height="2.0" fill="#ff5c2f"/>
<rect x="727.2" y="77.2" width="2.0" height="2.0" fill="#ff5c2f"/>
<rect x="730.8" y="107.5" width="2.0" height="2.0" fill="#ff5c2f"/>
<rect x="729.7" y="86.1" width="2.0" height="2.0" fill="#ff5c2f"/>
<rect x="729.9" y="85.6" width="2.0" height="2.0" fill="#ff5c2f"/>
<rect x="733.9" y="80.3" width="2.0" height="2.0" fill="#ff5c2f"/>
<rect x="729.9" y="104.5" width="2.0" height="2.0" fill="#ff5c2f"/>
<rect x="727.8" y="77.6" width="2.0" height="2.0" fill="#ff5c2f"/>
<rect x="729.3" y="92.4" width="2.0" height="2.0" fill="#ff5c2f"/>
<rect x="728.6" y="89.7" width="2.0" height="2.0" fill="#ff5c2f"/>
<rect x="730.7" y="96.9" width="2.0" height="2.0" fill="#ff5c2f"/>
<rect x="732.2" y="78.9" width="2.0" height="2.0" fill="#ff5c2f"/>
<rect x="728.7" y="90.8" width="2.0" height="2.0" fill="#ff5b2f"/>
<rect x="731.5" y="99.9" width="2.0" height="2.0" fill="#ff5b2e"/>
<rect x="728.7" y="81.0" width="2.0" height="2.0" fill="#ff5b2e"/>
<rect x="728.5" y="99.4" width="2.0" height="2.0" fill="#ff5b2e"/>
<rect x="731.4" y="80.9" width="2.0" height="2.0" fill="#ff5b2e"/>
<rect x="729.9" y="82.3" width="2.0" height="2.0" fill="#ff5b2e"/>
<rect x="730.5" y="93.1" width="2.0" height="2.0" fill="#ff5b2e"/>
<rect x="729.6" y="97.5" width="2.0" height="2.0" fill="#ff5b2e"/>
<rect x="732.0" y="80.0" width="2.0" height="2.0" fill="#ff5b2e"/>
<rect x="731.6" y="93.9" width="2.0" height="2.0" fill="#ff5b2e"/>
<rect x="729.7" y="77.4" width="2.0" height="2.0" fill="#ff5b2e"/>
<rect x="729.1" y="82.7" width="2.0" height="2.0" fill="#ff5b2e"/>
<rect x="730.3" y="79.9" width="2.0" height="2.0" fill="#ff5b2e"/>
<rect x="729.5" y="77.8" width="2.0" height="2.0" fill="#ff5b2e"/>
<rect x="730.9" y="80.6" width="2.0" height="2.0" fill="#ff5b2e"/>
<rect x="727.3" y="98.7" width="2.0" height="2.0" fill="#ff5b2e"/>
<rect x="730.4" y="85.2" width="2.0" height="2.0" fill="#ff5b2e"/>
<rect x="730.1" y="91.6" width="2.0" height="2.0" fill="#ff5b2e"/>
<rect x="728.9" y="71.2" width="2.0" height="2.0" fill="#ff5a2e"/>
<rect x="729.3" y="96.8" width="2.0" height="2.0" fill="#ff5a2e"/>
<rect x="732.1" y="94.6" width="2.0" height="2.0" fill="#ff5a2e"/>
<rect x="728.8" y="98.2" width="2.0" height="2.0" fill="#ff5a2e"/>
<rect x="731.4" y="77.4" width="2.0" height="2.0" fill="#ff5a2e"/>
<rect x="731.5" y="98.4" width="2.0" height="2.0" fill="#ff5a2e"/>
<rect x="729.4" y="112.5" width="2.0" height="2.0" fill="#ff5a2e"/>
<rect x="729.9" y="89.7" width="2.0" height="2.0" fill="#ff5a2e"/>
<rect x="729.2" y="64.4" width="2.0" height="2.0" fill="#ff5a2e"/>
<rect x="730.1" y="93.4" width="2.0" height="2.0" fill="#ff5a2e"/>
<rect x="731.3" y="98.8" width="2.0" height="2.0" fill="#ff5a2e"/>
<rect x="732.6" y="98.3" width="2.0" height="2.0" fill="#ff5a2e"/>
<rect x="732.1" y="74.2" width="2.0" height="2.0" fill="#ff5a2e"/>
<rect x="729.7" y="76.4" width="2.0" height="2.0" fill="#ff5a2e"/>
<rect x="730.8" y="85.2" width="2.0" height="2.0" fill="#ff5a2e"/>
<rect x="732.2" y="90.5" width="2.0" height="2.0" fill="#ff5a2e"/>
<rect x="729.2" y="94.0" width="2.0" height="2.0" fill="#ff5a2e"/>
<rect x="731.6" y="84.2" width="2.0" height="2.0" fill="#ff5a2d"/>
<rect x="728.8" y="61.0" width="2.0" height="2.0" fill="#ff592d"/>
<rect x="730.9" y="82.1" width="2.0" height="2.0" fill="#ff592d"/>
<rect x="731.7" y="78.4" width="2.0" height="2.0" fill="#ff592d"/>
<rect x="730.1" y="76.3" width="2.0" height="2.0" fill="#ff592d"/>
<rect x="730.8" y="84.9" width="2.0" height="2.0" fill="#ff592d"/>
<rect x="729.5" y="86.0" width="2.0" height="2.0" fill="#ff592d"/>
<rect x="732.0" y="87.3" width="2.0" height="2.0" fill="#ff592d"/>
<rect x="730.2" y="98.2" width="2.0" height="2.0" fill="#ff592d"/>
<rect x="731.8" y="78.5" width="2.0" height="2.0" fill="#ff592d"/>
<rect x="729.6" y="97.4" width="2.0" height="2.0" fill="#ff592d"/>
<rect x="726.8" y="97.8" width="2.0" height="2.0" fill="#ff592d"/>
<rect x="729.2" y="72.0" width="2.0" height="2.0" fill="#ff592d"/>
<rect x="729.4" y="88.2" width="2.0" height="2.0" fill="#ff582d"/>
<rect x="728.2" y="94.9" width="2.0" height="2.0" fill="#ff582d"/>
<rect x="729.5" y="102.1" width="2.0" height="2.0" fill="#ff582d"/>
<rect x="727.8" y="76.5" width="2.0" height="2.0" fill="#ff582d"/>
<rect x="729.8" y="84.3" width="2.0" height="2.0" fill="#ff582d"/>
<rect x="728.3" y="82.8" width="2.0" height="2.0" fill="#ff582d"/>
<rect x="731.0" y="89.1" width="2.0" height="2.0" fill="#ff582d"/>
<rect x="729.3" y="78.0" width="2.0" height="2.0" fill="#ff582d"/>
<rect x="726.5" y="91.0" width="2.0" height="2.0" fill="#ff582d"/>
<rect x="728.4" y="60.2" width="2.0" height="2.0" fill="#ff582d"/>
<rect x="732.3" y="81.0" width="2.0" height="2.0" fill="#ff582d"/>
<rect x="730.5" y="76.4" width="2.0" height="2.0" fill="#ff582d"/>
<rect x="729.4" y="87.6" width="2.0" height="2.0" fill="#ff582d"/>
<rect x="733.7" y="77.3" width="2.0" height="2.0" fill="#ff582d"/>
<rect x="729.2" y="91.6" width="2.0" height="2.0" fill="#ff582d"/>
<rect x="734.0" y="86.3" width="2.0" height="2.0" fill="#ff582d"/>
<rect x="730.6" y="91.7" width="2.0" height="2.0" fill="#ff582c"/>
<rect x="728.5" y="93.3" width="2.0" height="2.0" fill="#ff582c"/>
<rect x="729.7" y="79.5" width="2.0" height="2.0" fill="#ff582c"/>
<rect x="733.8" y="81.0" width="2.0" height="2.0" fill="#ff582c"/>
<rect x="731.8" y="70.8" width="2.0" height="2.0" fill="#ff572c"/>
<rect x="726.2" y="103.6" width="2.0" height="2.0" fill="#ff572c"/>
<rect x="727.6" y="87.2" width="2.0" height="2.0" fill="#ff572c"/>
<rect x="731.6" y="78.5" width="2.0" height="2.0" fill="#ff572c"/>
<rect x="730.2" y="80.6" width="2.0" height="2.0" fill="#ff572c"/>
<rect x="730.7" y="86.4" width="2.0" height="2.0" fill="#ff572c"/>
<rect x="731.5" y="93.5" width="2.0" height="2.0" fill="#ff572c"/>
<rect x="729.7" y="103.9" width="2.0" height="2.0" fill="#ff572c"/>
<rect x="729.1" y="87.4" width="2.0" height="2.0" fill="#ff572c"/>
<rect x="730.3" y="94.0" width="2.0" height="2.0" fill="#ff572c"/>
<rect x="729.0" y="77.9" width="2.0" height="2.0" fill="#ff572c"/>
<rect x="729.4" y="65.2" width="2.0" height="2.0" fill="#ff572c"/>
<rect x="729.8" y="84.0" width="2.0" height="2.0" fill="#ff572c"/>
<rect x="731.6" y="65.6" width="2.0" height="2.0" fill="#ff572c"/>
<rect x="729.5" y="71.5" width="2.0" height="2.0" fill="#ff572c"/>
<rect x="730.7" y="80.2" width="2.0" height="2.0" fill="#ff572c"/>
<rect x="731.3" y="96.0" width="2.0" height="2.0" fill="#ff562c"/>
<rect x="729.4" y="91.7" width="2.0" height="2.0" fill="#ff562c"/>
<rect x="731.7" y="87.1" width="2.0" height="2.0" fill="#ff562c"/>
<rect x="729.6" y="76.1" width="2.0" height="2.0" fill="#ff562c"/>
<rect x="730.5" y="87.7" width="2.0" height="2.0" fill="#ff562c"/>
<rect x="731.9" y="87.3" width="2.0" height="2.0" fill="#ff562c"/>
<rect x="730.6" y="75.2" width="2.0" height="2.0" fill="#ff562c"/>
<rect x="730.8" y="95.5" width="2.0" height="2.0" fill="#ff562c"/>
<rect x="729.2" y="87.9" width="2.0" height="2.0" fill="#ff562c"/>
<rect x="729.5" y="77.6" width="2.0" height="2.0" fill="#ff562c"/>
<rect x="727.7" y="85.1" width="2.0" height="2.0" fill="#ff562c"/>
<rect x="729.1" y="84.5" width="2.0" height="2.0" fill="#ff562c"/>
<rect x="729.2" y="118.4" width="2.0" height="2.0" fill="#ff562b"/>
<rect x="728.3" y="67.8" width="2.0" height="2.0" fill="#ff562b"/>
<rect x="727.8" y="76.9" width="2.0" height="2.0" fill="#ff562b"/>
<rect x="732.0" y="84.7" width="2.0" height="2.0" fill="#ff562b"/>
<rect x="732.2" y="75.6" width="2.0" height="2.0" fill="#ff552b"/>
<rect x="728.3" y="87.0" width="2.0" height="2.0" fill="#ff552b"/>
<rect x="730.6" y="100.1" width="2.0" height="2.0" fill="#ff552b"/>
<rect x="729.3" y="62.3" width="2.0" height="2.0" fill="#ff552b"/>
<rect x="732.6" y="70.3" width="2.0" height="2.0" fill="#ff552b"/>
<rect x="732.5" y="67.5" width="2.0" height="2.0" fill="#ff552b"/>
<rect x="731.0" y="67.7" width="2.0" height="2.0" fill="#ff552b"/>
<rect x="729.1" y="88.5" width="2.0" height="2.0" fill="#ff552b"/>
<rect x="730.9" y="89.9" width="2.0" height="2.0" fill="#ff552b"/>
<rect x="729.0" y="68.8" width="2.0" height="2.0" fill="#ff552b"/>
<rect x="731.5" y="79.0" width="2.0" height="2.0" fill="#ff552b"/>
<rect x="730.2" y="85.6" width="2.0" height="2.0" fill="#ff552b"/>
<rect x="732.6" y="75.1" width="2.0" height="2.0" fill="#ff552b"/>
<rect x="728.9" y="96.5" width="2.0" height="2.0" fill="#ff552b"/>
<rect x="730.8" y="107.6" width="2.0" height="2.0" fill="#ff552b"/>
<rect x="730.3" y="69.6" width="2.0" height="2.0" fill="#ff552b"/>
<rect x="728.6" y="90.4" width="2.0" height="2.0" fill="#ff552b"/>
<rect x="730.8" y="66.6" width="2.0" height="2.0" fill="#ff552b"/>
<rect x="731.9" y="85.4" width="2.0" height="2.0" fill="#ff552b"/>
<rect x="729.5" y="82.5" width="2.0" height="2.0" fill="#ff552b"/>
<rect x="727.8" y="111.3" width="2.0" height="2.0" fill="#ff552b"/>
<rect x="728.8" y="92.1" width="2.0" height="2.0" fill="#ff542b"/>
<rect x="729.2" y="92.8" width="2.0" height="2.0" fill="#ff542b"/>
<rect x="729.7" y="75.0" width="2.0" height="2.0" fill="#ff542b"/>
<rect x="729.2" y="86.3" width="2.0" height="2.0" fill="#ff542b"/>
<rect x="732.1" y="90.8" width="2.0" height="2.0" fill="#ff542b"/>
<rect x="730.4" y="108.6" width="2.0" height="2.0" fill="#ff542b"/>
<rect x="732.3" y="84.3" width="2.0" height="2.0" fill="#ff542b"/>
<rect x="728.2" y="81.3" width="2.0" height="2.0" fill="#ff542b"/>
<rect x="726.7" y="74.5" width="2.0" height="2.0" fill="#ff542b"/>
<rect x="730.6" y="65.2" width="2.0" height="2.0" fill="#ff542b"/>
<rect x="730.7" y="67.5" width="2.0" height="2.0" fill="#ff542b"/>
<rect x="728.2" y="80.7" width="2.0" height="2.0" fill="#ff542b"/>
<rect x="730.1" y="64.6" width="2.0" height="2.0" fill="#ff542a"/>
<rect x="732.8" y="67.8" width="2.0" height="2.0" fill="#ff542a"/>
<rect x="729.6" y="68.3" width="2.0" height="2.0" fill="#ff542a"/>
<rect x="734.0" y="94.7" width="2.0" height="2.0" fill="#ff542a"/>
<rect x="729.0" y="78.3" width="2.0" height="2.0" fill="#ff532a"/>
<rect x="731.9" y="86.1" width="2.0" height="2.0" fill="#ff532a"/>
<rect x="732.1" y="96.5" width="2.0" height="2.0" fill="#ff532a"/>
<rect x="730.2" y="88.3" width="2.0" height="2.0" fill="#ff532a"/>
<rect x="728.1" y="99.8" width="2.0" height="2.0" fill="#ff532a"/>
<rect x="732.7" y="95.8" width="2.0" height="2.0" fill="#ff532a"/>
<rect x="731.3" y="86.2" width="2.0" height="2.0" fill="#ff532a"/>
<rect x="730.6" y="86.7" width="2.0" height="2.0" fill="#ff532a"/>
<rect x="731.5" y="60.9" width="2.0" height="2.0" fill="#ff532a"/>
<rect x="731.1" y="83.7" width="2.0" height="2.0" fill="#ff532a"/>
<rect x="731.1" y="71.3" width="2.0" height="2.0" fill="#ff532a"/>
<rect x="729.2" y="63.1" width="2.0" height="2.0" fill="#ff532a"/>
<rect x="733.2" y="99.4" width="2.0" height="2.0" fill="#ff532a"/>
<rect x="732.4" y="99.7" width="2.0" height="2.0" fill="#ff532a"/>
<rect x="730.9" y="98.3" width="2.0" height="2.0" fill="#ff532a"/>
<rect x="729.1" y="86.6" width="2.0" height="2.0" fill="#ff522a"/>
<rect x="728.9" y="85.0" width="2.0" height="2.0" fill="#ff522a"/>
<rect x="730.8" y="72.8" width="2.0" height="2.0" fill="#ff522a"/>
<rect x="728.8" y="55.9" width="2.0" height="2.0" fill="#ff522a"/>
<rect x="729.5" y="108.0" width="2.0" height="2.0" fill="#ff522a"/>
<rect x="732.0" y="93.6" width="2.0" height="2.0" fill="#ff522a"/>
<rect x="727.1" y="77.8" width="2.0" height="2.0" fill="#ff522a"/>
<rect x="730.1" y="83.4" width="2.0" height="2.0" fill="#ff5229"/>
<rect x="730.0" y="84.0" width="2.0" height="2.0" fill="#ff5229"/>
<rect x="730.2" y="70.6" width="2.0" height="2.0" fill="#ff5229"/>
<rect x="730.0" y="73.2" width="2.0" height="2.0" fill="#ff5229"/>
<rect x="729.3" y="82.5" width="2.0" height="2.0" fill="#ff5229"/>
<rect x="732.2" y="92.1" width="2.0" height="2.0" fill="#ff5229"/>
<rect x="734.8" y="96.0" width="2.0" height="2.0" fill="#ff5229"/>
<rect x="732.7" y="90.5" width="2.0" height="2.0" fill="#ff5229"/>
<rect x="728.4" y="85.6" width="2.0" height="2.0" fill="#ff5129"/>
<rect x="727.7" y="100.8" width="2.0" height="2.0" fill="#ff5129"/>
<rect x="730.1" y="106.4" width="2.0" height="2.0" fill="#ff5129"/>
<rect x="727.4" y="73.5" width="2.0" height="2.0" fill="#ff5129"/>
<rect x="730.7" y="77.6" width="2.0" height="2.0" fill="#ff5129"/>
<rect x="730.0" y="93.9" width="2.0" height="2.0" fill="#ff5129"/>
<rect x="730.9" y="77.4" width="2.0" height="2.0" fill="#ff5129"/>
<rect x="730.9" y="98.0" width="2.0" height="2.0" fill="#ff5129"/>
<rect x="731.0" y="77.9" width="2.0" height="2.0" fill="#ff5129"/>
<rect x="732.3" y="64.2" width="2.0" height="2.0" fill="#ff5129"/>
<rect x="732.1" y="80.7" width="2.0" height="2.0" fill="#ff5129"/>
<rect x="729.2" y="83.2" width="2.0" height="2.0" fill="#ff5129"/>
<rect x="727.0" y="106.5" width="2.0" height="2.0" fill="#ff5129"/>
<rect x="728.7" y="92.7" width="2.0" height="2.0" fill="#ff5129"/>
<rect x="730.6" y="84.4" width="2.0" height="2.0" fill="#ff5129"/>
<rect x="730.3" y="97.4" width="2.0" height="2.0" fill="#ff5129"/>
<rect x="730.6" y="86.5" width="2.0" height="2.0" fill="#ff5029"/>
<rect x="730.5" y="93.0" width="2.0" height="2.0" fill="#ff5029"/>
<rect x="729.5" y="92.1" width="2.0" height="2.0" fill="#ff5029"/>
<rect x="728.6" y="81.3" width="2.0" height="2.0" fill="#ff5029"/>
<rect x="728.9" y="77.8" width="2.0" height="2.0" fill="#ff5029"/>
<rect x="727.1" y="101.5" width="2.0" height="2.0" fill="#ff5029"/>
<rect x="727.2" y="93.8" width="2.0" height="2.0" fill="#ff5029"/>
<rect x="735.0" y="102.8" width="2.0" height="2.0" fill="#ff5028"/>
<rect x="727.7" y="78.4" width="2.0" height="2.0" fill="#ff5028"/>
<rect x="728.3" y="78.5" width="2.0" height="2.0" fill="#ff5028"/>
<rect x="732.4" y="72.4" width="2.0" height="2.0" fill="#ff5028"/>
<rect x="728.8" y="52.4" width="2.0" height="2.0" fill="#ff5028"/>
<rect x="731.2" y="91.8" width="2.0" height="2.0" fill="#ff5028"/>
<rect x="728.7" y="98.8" width="2.0" height="2.0" fill="#ff5028"/>
<rect x="728.5" y="83.4" width="2.0" height="2.0" fill="#ff4f28"/>
<rect x="728.8" y="66.2" width="2.0" height="2.0" fill="#ff4f28"/>
<rect x="731.9" y="102.4" width="2.0" height="2.0" fill="#ff4f28"/>
<rect x="729.7" y="84.1" width="2.0" height="2.0" fill="#ff4f28"/>
<rect x="731.2" y="111.0" width="2.0" height="2.0" fill="#ff4f28"/>
<rect x="729.4" y="64.5" width="2.0" height="2.0" fill="#ff4f28"/>
<rect x="727.4" y="98.6" width="2.0" height="2.0" fill="#ff4f28"/>
<rect x="733.7" y="73.5" width="2.0" height="2.0" fill="#ff4f28"/>
<rect x="728.0" y="97.1" width="2.0" height="2.0" fill="#ff4f28"/>
<rect x="728.5" y="121.1" width="2.0" height="2.0" fill="#ff4f28"/>
<rect x="732.1" y="100.8" width="2.0" height="2.0" fill="#ff4f28"/>
<rect x="730.5" y="70.3" width="2.0" height="2.0" fill="#ff4f28"/>
<rect x="733.0" y="95.0" width="2.0" height="2.0" fill="#ff4f28"/>
<rect x="728.7" y="94.2" width="2.0" height="2.0" fill="#ff4f28"/>
<rect x="730.5" y="69.1" width="2.0" height="2.0" fill="#ff4f28"/>
<rect x="734.2" y="84.4" width="2.0" height="2.0" fill="#ff4f28"/>
<rect x="732.8" y="98.3" width="2.0" height="2.0" fill="#ff4e28"/>
<rect x="731.2" y="73.2" width="2.0" height="2.0" fill="#ff4e28"/>
<rect x="729.2" y="79.9" width="2.0" height="2.0" fill="#ff4e28"/>
<rect x="730.7" y="89.8" width="2.0" height="2.0" fill="#ff4e28"/>
<rect x="731.2" y="68.7" width="2.0" height="2.0" fill="#ff4e28"/>
<rect x="730.8" y="78.5" width="2.0" height="2.0" fill="#ff4e28"/>
<rect x="731.0" y="84.2" width="2.0" height="2.0" fill="#ff4e27"/>
<rect x="729.6" y="98.0" width="2.0" height="2.0" fill="#ff4e27"/>
<rect x="728.3" y="105.4" width="2.0" height="2.0" fill="#ff4e27"/>
<rect x="731.0" y="86.7" width="2.0" height="2.0" fill="#ff4e27"/>
<rect x="729.8" y="108.7" width="2.0" height="2.0" fill="#ff4e27"/>
<rect x="727.7" y="86.7" width="2.0" height="2.0" fill="#ff4e27"/>
<rect x="731.4" y="101.9" width="2.0" height="2.0" fill="#ff4e27"/>
<rect x="732.3" y="108.6" width="2.0" height="2.0" fill="#ff4e27"/>
<rect x="729.5" y="78.0" width="2.0" height="2.0" fill="#ff4e27"/>
<rect x="735.6" y="95.3" width="2.0" height="2.0" fill="#ff4e27"/>
<rect x="729.2" y="91.4" width="2.0" height="2.0" fill="#ff4e27"/>
<rect x="731.4" y="116.9" width="2.0" height="2.0" fill="#ff4e27"/>
<rect x="730.7" y="99.6" width="2.0" height="2.0" fill="#ff4e27"/>
<rect x="730.7" y="86.3" width="2.0" height="2.0" fill="#ff4e27"/>
<rect x="729.9" y="76.8" width="2.0" height="2.0" fill="#ff4d27"/>
<rect x="732.6" y="62.6" width="2.0" height="2.0" fill="#ff4d27"/>
<rect x="728.1" y="77.5" width="2.0" height="2.0" fill="#ff4d27"/>
<rect x="730.0" y="90.7" width="2.0" height="2.0" fill="#ff4d27"/>
<rect x="732.1" y="87.5" width="2.0" height="2.0" fill="#ff4d27"/>
<rect x="731.9" y="96.2" width="2.0" height="2.0" fill="#ff4d27"/>
<rect x="731.9" y="97.3" width="2.0" height="2.0" fill="#ff4d27"/>
<rect x="731.8" y="74.8" width="2.0" height="2.0" fill="#ff4d27"/>
<rect x="730.6" y="86.5" width="2.0" height="2.0" fill="#ff4d27"/>
<rect x="728.8" y="95.9" width="2.0" height="2.0" fill="#ff4d27"/>
<rect x="727.9" y="73.6" width="2.0" height="2.0" fill="#ff4d27"/>
<rect x="732.2" y="71.9" width="2.0" height="2.0" fill="#ff4d27"/>
<rect x="730.2" y="70.2" width="2.0" height="2.0" fill="#ff4d27"/>
<rect x="729.4" y="100.8" width="2.0" height="2.0" fill="#ff4d27"/>
<rect x="730.4" y="89.6" width="2.0" height="2.0" fill="#ff4d27"/>
<rect x="729.4" y="102.4" width="2.0" height="2.0" fill="#ff4c27"/>
<rect x="731.4" y="86.5" width="2.0" height="2.0" fill="#ff4c27"/>
<rect x="732.0" y="99.2" width="2.0" height="2.0" fill="#ff4c27"/>
<rect x="732.8" y="90.7" width="2.0" height="2.0" fill="#ff4c27"/>
<rect x="730.6" y="82.2" width="2.0" height="2.0" fill="#ff4c27"/>
<rect x="732.6" y="100.0" width="2.0" height="2.0" fill="#ff4c26"/>
<rect x="731.7" y="97.3" width="2.0" height="2.0" fill="#ff4c26"/>
<rect x="729.2" y="95.3" width="2.0" height="2.0" fill="#ff4c26"/>
<rect x="730.5" y="86.9" width="2.0" height="2.0" fill="#ff4c26"/>
<rect x="731.2" y="76.7" width="2.0" height="2.0" fill="#ff4c26"/>
<rect x="732.1" y="81.1" width="2.0" height="2.0" fill="#ff4c26"/>
<rect x="729.5" y="76.1" width="2.0" height="2.0" fill="#ff4c26"/>
<rect x="729.5" y="78.2" width="2.0" height="2.0" fill="#ff4b26"/>
<rect x="731.4" y="63.2" width="2.0" height="2.0" fill="#ff4b26"/>
<rect x="731.3" y="94.1" width="2.0" height="2.0" fill="#ff4b26"/>
<rect x="728.5" y="64.8" width="2.0" height="2.0" fill="#ff4b26"/>
<rect x="729.6" y="72.2" width="2.0" height="2.0" fill="#ff4b26"/>
<rect x="735.2" y="80.9" width="2.0" height="2.0" fill="#ff4b26"/>
<rect x="729.2" y="84.9" width="2.0" height="2.0" fill="#ff4b26"/>
<rect x="731.6" y="83.2" width="2.0" height="2.0" fill="#ff4b26"/>
<rect x="730.7" y="69.9" width="2.0" height="2.0" fill="#ff4b26"/>
<rect x="730.1" y="72.8" width="2.0" height="2.0" fill="#ff4b26"/>
<rect x="730.4" y="67.1" width="2.0" height="2.0" fill="#ff4b26"/>
<rect x="730.4" y="63.9" width="2.0" height="2.0" fill="#ff4b26"/>
<rect x="729.9" y="80.7" width="2.0" height="2.0" fill="#ff4b26"/>
<rect x="731.5" y="77.8" width="2.0" height="2.0" fill="#ff4b26"/>
<rect x="731.8" y="102.2" width="2.0" height="2.0" fill="#ff4b26"/>
<rect x="729.0" y="99.4" width="2.0" height="2.0" fill="#ff4a26"/>
<rect x="728.1" y="62.9" width="2.0" height="2.0" fill="#ff4a26"/>
<rect x="729.8" y="74.0" width="2.0" height="2.0" fill="#ff4a26"/>
<rect x="727.4" y="85.4" width="2.0" height="2.0" fill="#ff4a25"/>
<rect x="731.6" y="106.8" width="2.0" height="2.0" fill="#ff4a25"/>
<rect x="732.2" y="104.0" width="2.0" height="2.0" fill="#ff4a25"/>
<rect x="731.4" y="87.3" width="2.0" height="2.0" fill="#ff4a25"/>
<rect x="731.6" y="83.8" width="2.0" height="2.0" fill="#ff4a25"/>
<rect x="727.8" y="93.6" width="2.0" height="2.0" fill="#ff4a25"/>
<rect x="732.7" y="68.3" width="2.0" height="2.0" fill="#ff4925"/>
<rect x="728.4" y="75.5" width="2.0" height="2.0" fill="#ff4925"/>
<rect x="729.8" y="89.8" width="2.0" height="2.0" fill="#ff4925"/>
<rect x="730.2" y="72.5" width="2.0" height="2.0" fill="#ff4925"/>
<rect x="725.8" y="97.7" width="2.0" height="2.0" fill="#ff4925"/>
<rect x="730.2" y="78.2" width="2.0" height="2.0" fill="#ff4925"/>
<rect x="732.3" y="102.0" width="2.0" height="2.0" fill="#ff4925"/>
<rect x="727.4" y="92.3" width="2.0" height="2.0" fill="#ff4925"/>
<rect x="730.7" y="82.2" width="2.0" height="2.0" fill="#ff4925"/>
<rect x="729.1" y="104.5" width="2.0" height="2.0" fill="#ff4925"/>
<rect x="730.2" y="89.9" width="2.0" height="2.0" fill="#ff4925"/>
<rect x="728.2" y="77.3" width="2.0" height="2.0" fill="#ff4925"/>
<rect x="731.8" y="87.6" width="2.0" height="2.0" fill="#ff4925"/>
<rect x="732.4" y="83.8" width="2.0" height="2.0" fill="#ff4825"/>
<rect x="728.3" y="82.3" width="2.0" height="2.0" fill="#ff4825"/>
<rect x="731.1" y="88.0" width="2.0" height="2.0" fill="#ff4824"/>
<rect x="733.5" y="77.8" width="2.0" height="2.0" fill="#ff4824"/>
<rect x="728.5" y="83.8" width="2.0" height="2.0" fill="#ff4824"/>
<rect x="731.1" y="89.9" width="2.0" height="2.0" fill="#ff4824"/>
<rect x="729.1" y="78.3" width="2.0" height="2.0" fill="#ff4824"/>
<rect x="731.7" y="89.8" width="2.0" height="2.0" fill="#ff4824"/>
<rect x="728.1" y="78.4" width="2.0" height="2.0" fill="#ff4824"/>
<rect x="731.3" y="99.6" width="2.0" height="2.0" fill="#ff4824"/>
<rect x="729.1" y="90.2" width="2.0" height="2.0" fill="#ff4824"/>
<rect x="731.0" y="72.7" width="2.0" height="2.0" fill="#ff4824"/>
<rect x="729.6" y="82.5" width="2.0" height="2.0" fill="#ff4824"/>
<rect x="731.2" y="71.2" width="2.0" height="2.0" fill="#ff4724"/>
<rect x="730.8" y="74.2" width="2.0" height="2.0" fill="#ff4724"/>
<rect x="729.7" y="76.7" width="2.0" height="2.0" fill="#ff4724"/>
<rect x="733.7" y="93.5" width="2.0" height="2.0" fill="#ff4724"/>
<rect x="732.0" y="70.4" width="2.0" height="2.0" fill="#ff4724"/>
<rect x="730.1" y="59.8" width="2.0" height="2.0" fill="#ff4724"/>
<rect x="729.8" y="84.0" width="2.0" height="2.0" fill="#ff4724"/>
<rect x="732.7" y="82.4" width="2.0" height="2.0" fill="#ff4724"/>
<rect x="733.2" y="74.2" width="2.0" height="2.0" fill="#ff4724"/>
<rect x="728.0" y="75.5" width="2.0" height="2.0" fill="#ff4724"/>
<rect x="729.0" y="115.7" width="2.0" height="2.0" fill="#ff4724"/>
<rect x="730.8" y="86.8" width="2.0" height="2.0" fill="#ff4724"/>
<rect x="730.8" y="71.9" width="2.0" height="2.0" fill="#ff4724"/>
<rect x="730.6" y="73.9" width="2.0" height="2.0" fill="#ff4724"/>
<rect x="729.9" y="81.7" width="2.0" height="2.0" fill="#ff4624"/>
<rect x="732.9" y="96.1" width="2.0" height="2.0" fill="#ff4624"/>
<rect x="732.6" y="90.8" width="2.0" height="2.0" fill="#ff4623"/>
<rect x="730.3" y="78.6" width="2.0" height="2.0" fill="#ff4623"/>
<rect x="730.7" y="68.6" width="2.0" height="2.0" fill="#ff4623"/>
<rect x="730.8" y="73.0" width="2.0" height="2.0" fill="#ff4623"/>
<rect x="729.0" y="93.5" width="2.0" height="2.0" fill="#ff4623"/>
<rect x="730.5" y="92.9" width="2.0" height="2.0" fill="#ff4623"/>
<rect x="727.4" y="95.7" width="2.0" height="2.0" fill="#ff4623"/>
<rect x="730.6" y="75.1" width="2.0" height="2.0" fill="#ff4623"/>
<rect x="731.7" y="91.5" width="2.0" height="2.0" fill="#ff4623"/>
<rect x="730.8" y="64.6" width="2.0" height="2.0" fill="#ff4523"/>
<rect x="728.0" y="76.2" width="2.0" height="2.0" fill="#ff4523"/>
<rect x="730.1" y="80.7" width="2.0" height="2.0" fill="#ff4523"/>
<rect x="732.7" y="82.5" width="2.0" height="2.0" fill="#ff4523"/>
<rect x="731.3" y="91.2" width="2.0" height="2.0" fill="#ff4523"/>
<rect x="727.7" y="79.1" width="2.0" height="2.0" fill="#ff4523"/>
<rect x="734.2" y="82.7" width="2.0" height="2.0" fill="#ff4523"/>
<rect x="730.1" y="68.2" width="2.0" height="2.0" fill="#ff4523"/>
<rect x="730.3" y="98.7" width="2.0" height="2.0" fill="#ff4523"/>
<rect x="730.9" y="68.1" width="2.0" height="2.0" fill="#ff4523"/>
<rect x="729.8" y="95.1" width="2.0" height="2.0" fill="#ff4523"/>
<rect x="730.6" y="90.1" width="2.0" height="2.0" fill="#ff4523"/>
<rect x="732.7" y="97.1" width="2.0" height="2.0" fill="#ff4523"/>
<rect x="728.8" y="70.5" width="2.0" height="2.0" fill="#ff4423"/>
<rect x="731.2" y="100.0" width="2.0" height="2.0" fill="#ff4423"/>
<rect x="729.7" y="81.0" width="2.0" height="2.0" fill="#ff4422"/>
<rect x="731.1" y="94.0" width="2.0" height="2.0" fill="#ff4422"/>
<rect x="730.2" y="79.4" width="2.0" height="2.0" fill="#ff4422"/>
<rect x="731.5" y="92.5" width="2.0" height="2.0" fill="#ff4422"/>
<rect x="729.2" y="88.6" width="2.0" height="2.0" fill="#ff4422"/>
<rect x="732.2" y="73.7" width="2.0" height="2.0" fill="#ff4422"/>
<rect x="729.8" y="78.1" width="2.0" height="2.0" fill="#ff4422"/>
<rect x="728.2" y="73.6" width="2.0" height="2.0" fill="#ff4422"/>
<rect x="730.2" y="88.7" width="2.0" height="2.0" fill="#ff4422"/>
<rect x="730.1" y="81.6" width="2.0" height="2.0" fill="#ff4422"/>
<rect x="730.1" y="94.2" width="2.0" height="2.0" fill="#ff4422"/>
<rect x="730.2" y="79.5" width="2.0" height="2.0" fill="#ff4422"/>
<rect x="733.8" y="85.9" width="2.0" height="2.0" fill="#ff4422"/>
<rect x="731.9" y="88.4" width="2.0" height="2.0" fill="#ff4422"/>
<rect x="732.1" y="72.1" width="2.0" height="2.0" fill="#ff4422"/>
<rect x="732.9" y="86.0" width="2.0" height="2.0" fill="#ff4422"/>
<rect x="730.4" y="79.6" width="2.0" height="2.0" fill="#ff4322"/>
<rect x="730.8" y="71.2" width="2.0" height="2.0" fill="#ff4322"/>
<rect x="729.9" y="95.5" width="2.0" height="2.0" fill="#ff4322"/>
<rect x="733.1" y="81.4" width="2.0" height="2.0" fill="#ff4322"/>
<rect x="730.5" y="86.4" width="2.0" height="2.0" fill="#ff4322"/>
<rect x="733.9" y="103.3" width="2.0" height="2.0" fill="#ff4322"/>
<rect x="729.9" y="93.4" width="2.0" height="2.0" fill="#ff4322"/>
<rect x="731.6" y="83.0" width="2.0" height="2.0" fill="#ff4322"/>
<rect x="728.6" y="96.3" width="2.0" height="2.0" fill="#ff4322"/>
<rect x="729.6" y="80.3" width="2.0" height="2.0" fill="#ff4322"/>
<rect x="729.7" y="85.9" width="2.0" height="2.0" fill="#ff4322"/>
<rect x="732.6" y="72.5" width="2.0" height="2.0" fill="#ff4322"/>
<rect x="732.4" y="77.8" width="2.0" height="2.0" fill="#ff4322"/>
<rect x="730.9" y="73.2" width="2.0" height="2.0" fill="#ff4322"/>
<rect x="729.9" y="89.8" width="2.0" height="2.0" fill="#ff4322"/>
<rect x="732.3" y="77.4" width="2.0" height="2.0" fill="#ff4322"/>
<rect x="733.6" y="78.0" width="2.0" height="2.0" fill="#ff4322"/>
<rect x="731.4" y="91.7" width="2.0" height="2.0" fill="#ff4222"/>
<rect x="732.4" y="83.4" width="2.0" height="2.0" fill="#ff4221"/>
<rect x="731.8" y="77.6" width="2.0" height="2.0" fill="#ff4221"/>
<rect x="730.6" y="86.0" width="2.0" height="2.0" fill="#ff4221"/>
<rect x="729.2" y="73.0" width="2.0" height="2.0" fill="#ff4221"/>
<rect x="730.7" y="93.2" width="2.0" height="2.0" fill="#ff4221"/>
<rect x="728.2" y="89.6" width="2.0" height="2.0" fill="#ff4221"/>
<rect x="729.5" y="93.6" width="2.0" height="2.0" fill="#ff4221"/>
<rect x="726.3" y="78.2" width="2.0" height="2.0" fill="#ff4221"/>
<rect x="728.6" y="75.8" width="2.0" height="2.0" fill="#ff4221"/>
<rect x="730.9" y="95.3" width="2.0" height="2.0" fill="#ff4221"/>
<rect x="733.4" y="82.7" width="2.0" height="2.0" fill="#ff4221"/>
<rect x="731.4" y="68.2" width="2.0" height="2.0" fill="#ff4221"/>
<rect x="733.4" y="82.9" width="2.0" height="2.0" fill="#ff4221"/>
<rect x="728.2" y="78.3" width="2.0" height="2.0" fill="#ff4221"/>
<rect x="728.2" y="85.0" width="2.0" height="2.0" fill="#ff4221"/>
<rect x="727.2" y="83.4" width="2.0" height="2.0" fill="#ff4221"/>
<rect x="732.2" y="68.5" width="2.0" height="2.0" fill="#ff4221"/>
<rect x="730.9" y="73.9" width="2.0" height="2.0" fill="#ff4221"/>
<rect x="730.4" y="78.9" width="2.0" height="2.0" fill="#ff4121"/>
<rect x="731.5" y="83.9" width="2.0" height="2.0" fill="#ff4121"/>
<rect x="729.0" y="82.8" width="2.0" height="2.0" fill="#ff4121"/>
<rect x="730.9" y="94.2" width="2.0" height="2.0" fill="#ff4121"/>
<rect x="732.0" y="104.0" width="2.0" height="2.0" fill="#ff4121"/>
<rect x="729.6" y="77.7" width="2.0" height="2.0" fill="#ff4121"/>
<rect x="730.9" y="79.2" width="2.0" height="2.0" fill="#ff4121"/>
<rect x="729.6" y="88.0" width="2.0" height="2.0" fill="#ff4121"/>
<rect x="730.5" y="68.6" width="2.0" height="2.0" fill="#ff4121"/>
<rect x="731.7" y="94.7" width="2.0" height="2.0" fill="#ff4121"/>
<rect x="729.6" y="78.2" width="2.0" height="2.0" fill="#ff4121"/>
<rect x="731.1" y="82.7" width="2.0" height="2.0" fill="#ff4021"/>
<rect x="733.2" y="87.9" width="2.0" height="2.0" fill="#ff4020"/>
<rect x="732.7" y="85.5" width="2.0" height="2.0" fill="#ff4020"/>
<rect x="730.0" y="98.0" width="2.0" height="2.0" fill="#ff4020"/>
<rect x="729.8" y="62.9" width="2.0" height="2.0" fill="#ff4020"/>
<rect x="732.8" y="89.8" width="2.0" height="2.0" fill="#ff4020"/>
<rect x="731.7" y="87.1" width="2.0" height="2.0" fill="#ff4020"/>
<rect x="730.8" y="97.9" width="2.0" height="2.0" fill="#ff4020"/>
<rect x="729.0" y="143.7" width="2.0" height="2.0" fill="#ff4020"/>
<rect x="731.6" y="85.0" width="2.0" height="2.0" fill="#ff4020"/>
<rect x="732.8" y="79.7" width="2.0" height="2.0" fill="#ff4020"/>
<rect x="732.1" y="77.4" width="2.0" height="2.0" fill="#ff4020"/>
<rect x="729.7" y="84.5" width="2.0" height="2.0" fill="#ff4020"/>
<rect x="730.5" y="92.1" width="2.0" height="2.0" fill="#ff4020"/>
<rect x="727.9" y="95.0" width="2.0" height="2.0" fill="#ff4020"/>
<rect x="732.0" y="94.5" width="2.0" height="2.0" fill="#ff4020"/>
<rect x="729.1" y="77.6" width="2.0" height="2.0" fill="#ff4020"/>
<rect x="728.4" y="71.7" width="2.0" height="2.0" fill="#ff4020"/>
<rect x="736.2" y="99.5" width="2.0" height="2.0" fill="#ff4020"/>
<rect x="730.6" y="102.8" width="2.0" height="2.0" fill="#ff4020"/>
<rect x="728.3" y="79.9" width="2.0" height="2.0" fill="#ff4020"/>
<rect x="733.0" y="84.5" width="2.0" height="2.0" fill="#ff4020"/>
<rect x="729.8" y="88.8" width="2.0" height="2.0" fill="#ff3f20"/>
<rect x="724.4" y="108.9" width="2.0" height="2.0" fill="#ff3f1f"/>
<rect x="729.4" y="122.5" width="2.0" height="2.0" fill="#ff3e1f"/>
<rect x="727.1" y="119.9" width="2.0" height="2.0" fill="#ff391d"/>
<rect x="730.7" y="100.6" width="2.0" height="2.0" fill="#ff371c"/>
<rect x="730.5" y="109.7" width="2.0" height="2.0" fill="#ff351b"/>
<rect x="730.9" y="122.4" width="2.0" height="2.0" fill="#ff341a"/>
<rect x="730.0" y="61.2" width="2.0" height="2.0" fill="#ff3319"/>
<rect x="726.7" y="58.3" width="2.0" height="2.0" fill="#ff2d16"/>
</g>
<g clip-path="url(#sideclip)">
<rect x="797.0" y="465.0" width="2.0" height="2.0" fill="#6031fe"/>
<rect x="795.2" y="465.0" width="2.0" height="2.0" fill="#6031fe"/>
<rect x="827.0" y="458.4" width="2.0" height="2.0" fill="#5f32fe"/>
<rect x="808.2" y="469.1" width="2.0" height="2.0" fill="#5f32fe"/>
<rect x="806.2" y="461.2" width="2.0" height="2.0" fill="#5e34fe"/>
<rect x="780.2" y="459.1" width="2.0" height="2.0" fill="#5e34fe"/>
<rect x="801.3" y="463.5" width="2.0" height="2.0" fill="#5d36fe"/>
<rect x="821.3" y="460.9" width="2.0" height="2.0" fill="#5c37fe"/>
<rect x="817.0" y="467.5" width="2.0" height="2.0" fill="#5c38fd"/>
<rect x="816.6" y="466.2" width="2.0" height="2.0" fill="#5c38fd"/>
<rect x="796.3" y="470.6" width="2.0" height="2.0" fill="#5b39fd"/>
<rect x="797.9" y="469.2" width="2.0" height="2.0" fill="#5a3afd"/>
<rect x="804.9" y="471.2" width="2.0" height="2.0" fill="#5a3afd"/>
<rect x="798.3" y="469.2" width="2.0" height="2.0" fill="#593cfd"/>
<rect x="830.0" y="456.9" width="2.0" height="2.0" fill="#583dfd"/>
<rect x="792.0" y="458.4" width="2.0" height="2.0" fill="#573efd"/>
<rect x="820.8" y="459.7" width="2.0" height="2.0" fill="#573efd"/>
<rect x="802.4" y="463.3" width="2.0" height="2.0" fill="#573ffd"/>
<rect x="789.9" y="462.1" width="2.0" height="2.0" fill="#5640fd"/>
<rect x="791.7" y="468.7" width="2.0" height="2.0" fill="#5640fd"/>
<rect x="769.5" y="458.3" width="2.0" height="2.0" fill="#5640fd"/>
<rect x="769.0" y="464.3" width="2.0" height="2.0" fill="#5542fd"/>
<rect x="792.1" y="463.6" width="2.0" height="2.0" fill="#5543fd"/>
<rect x="796.9" y="466.8" width="2.0" height="2.0" fill="#5543fd"/>
<rect x="796.4" y="464.8" width="2.0" height="2.0" fill="#5443fd"/>
<rect x="817.9" y="467.8" width="2.0" height="2.0" fill="#5345fd"/>
<rect x="802.2" y="455.8" width="2.0" height="2.0" fill="#5246fd"/>
<rect x="786.3" y="458.6" width="2.0" height="2.0" fill="#5246fd"/>
<rect x="794.7" y="458.1" width="2.0" height="2.0" fill="#5247fc"/>
<rect x="787.5" y="464.0" width="2.0" height="2.0" fill="#5049fc"/>
<rect x="798.9" y="456.7" width="2.0" height="2.0" fill="#4f4bfc"/>
<rect x="821.9" y="464.7" width="2.0" height="2.0" fill="#4f4cfc"/>
<rect x="808.3" y="457.9" width="2.0" height="2.0" fill="#4e4cfc"/>
<rect x="811.5" y="469.0" width="2.0" height="2.0" fill="#4e4cfc"/>
<rect x="781.7" y="458.6" width="2.0" height="2.0" fill="#4e4cfc"/>
<rect x="788.0" y="466.5" width="2.0" height="2.0" fill="#4e4dfc"/>
<rect x="809.3" y="460.6" width="2.0" height="2.0" fill="#4e4dfc"/>
<rect x="800.5" y="467.1" width="2.0" height="2.0" fill="#4d4efc"/>
<rect x="817.5" y="457.9" width="2.0" height="2.0" fill="#4d4efc"/>
<rect x="815.7" y="456.6" width="2.0" height="2.0" fill="#4c4ffc"/>
<rect x="830.5" y="458.7" width="2.0" height="2.0" fill="#4c4ffc"/>
<rect x="812.6" y="468.4" width="2.0" height="2.0" fill="#4c4ffc"/>
<rect x="784.7" y="460.9" width="2.0" height="2.0" fill="#4c50fc"/>
<rect x="785.9" y="462.1" width="2.0" height="2.0" fill="#4b51fc"/>
<rect x="778.9" y="460.6" width="2.0" height="2.0" fill="#4b51fc"/>
<rect x="792.4" y="458.4" width="2.0" height="2.0" fill="#4a53fc"/>
<rect x="811.0" y="469.4" width="2.0" height="2.0" fill="#4954fb"/>
<rect x="807.4" y="465.2" width="2.0" height="2.0" fill="#4954fb"/>
<rect x="794.5" y="465.9" width="2.0" height="2.0" fill="#4954fb"/>
<rect x="813.1" y="469.4" width="2.0" height="2.0" fill="#4856fb"/>
<rect x="791.7" y="468.2" width="2.0" height="2.0" fill="#4757fb"/>
<rect x="818.8" y="459.7" width="2.0" height="2.0" fill="#4658fb"/>
<rect x="808.6" y="458.2" width="2.0" height="2.0" fill="#455afb"/>
<rect x="812.1" y="469.3" width="2.0" height="2.0" fill="#455afb"/>
<rect x="779.3" y="467.6" width="2.0" height="2.0" fill="#455afb"/>
<rect x="777.7" y="458.1" width="2.0" height="2.0" fill="#445bfb"/>
<rect x="793.0" y="466.2" width="2.0" height="2.0" fill="#445bfb"/>
<rect x="804.5" y="466.8" width="2.0" height="2.0" fill="#445bfb"/>
<rect x="811.3" y="458.1" width="2.0" height="2.0" fill="#435dfb"/>
<rect x="791.7" y="469.6" width="2.0" height="2.0" fill="#435dfb"/>
<rect x="798.2" y="461.6" width="2.0" height="2.0" fill="#435dfb"/>
<rect x="800.7" y="467.0" width="2.0" height="2.0" fill="#425efa"/>
<rect x="787.0" y="466.9" width="2.0" height="2.0" fill="#425ffa"/>
<rect x="797.9" y="457.8" width="2.0" height="2.0" fill="#4160fa"/>
<rect x="821.9" y="470.5" width="2.0" height="2.0" fill="#3f63fa"/>
<rect x="829.6" y="461.4" width="2.0" height="2.0" fill="#3f63fa"/>
<rect x="806.5" y="458.4" width="2.0" height="2.0" fill="#3e64fa"/>
<rect x="786.9" y="470.0" width="2.0" height="2.0" fill="#3e64fa"/>
<rect x="812.7" y="458.4" width="2.0" height="2.0" fill="#3c67f9"/>
<rect x="820.3" y="469.6" width="2.0" height="2.0" fill="#3b68f9"/>
<rect x="793.0" y="469.6" width="2.0" height="2.0" fill="#3a6af9"/>
<rect x="806.8" y="466.0" width="2.0" height="2.0" fill="#3a6af9"/>
<rect x="830.9" y="468.3" width="2.0" height="2.0" fill="#3a6af9"/>
<rect x="791.3" y="463.8" width="2.0" height="2.0" fill="#3a6af9"/>
<rect x="815.3" y="457.7" width="2.0" height="2.0" fill="#3a6bf9"/>
<rect x="809.3" y="472.6" width="2.0" height="2.0" fill="#1acfe3"/>
<rect x="787.8" y="473.0" width="2.0" height="2.0" fill="#1bd0e3"/>
<rect x="788.0" y="473.6" width="2.0" height="2.0" fill="#1cd1e2"/>
<rect x="845.6" y="467.7" width="2.0" height="2.0" fill="#20d4e1"/>
<rect x="782.4" y="472.0" width="2.0" height="2.0" fill="#2adcdd"/>
<rect x="776.4" y="472.9" width="2.0" height="2.0" fill="#2bdddd"/>
<rect x="816.0" y="471.7" width="2.0" height="2.0" fill="#2ddedc"/>
<rect x="800.0" y="474.0" width="2.0" height="2.0" fill="#2edfdc"/>
<rect x="802.9" y="473.2" width="2.0" height="2.0" fill="#31e1da"/>
<rect x="765.2" y="470.8" width="2.0" height="2.0" fill="#36e5d8"/>
<rect x="852.5" y="470.0" width="2.0" height="2.0" fill="#39e7d7"/>
<rect x="773.8" y="471.5" width="2.0" height="2.0" fill="#3ce9d6"/>
<rect x="853.2" y="474.3" width="2.0" height="2.0" fill="#3dead5"/>
<rect x="778.2" y="471.6" width="2.0" height="2.0" fill="#42edd3"/>
<rect x="781.0" y="472.8" width="2.0" height="2.0" fill="#49f1d0"/>
<rect x="785.4" y="474.2" width="2.0" height="2.0" fill="#4af1cf"/>
<rect x="809.5" y="473.0" width="2.0" height="2.0" fill="#52f5cc"/>
<rect x="816.2" y="474.2" width="2.0" height="2.0" fill="#53f5cb"/>
<rect x="786.1" y="474.1" width="2.0" height="2.0" fill="#53f5cb"/>
<rect x="764.9" y="473.3" width="2.0" height="2.0" fill="#54f6cb"/>
<rect x="785.1" y="472.0" width="2.0" height="2.0" fill="#59f8c9"/>
<rect x="795.1" y="470.7" width="2.0" height="2.0" fill="#5cf9c7"/>
<rect x="859.5" y="469.1" width="2.0" height="2.0" fill="#60fac5"/>
<rect x="792.8" y="471.5" width="2.0" height="2.0" fill="#63fbc4"/>
<rect x="786.4" y="472.3" width="2.0" height="2.0" fill="#65fbc3"/>
<rect x="801.9" y="465.5" width="2.0" height="2.0" fill="#66fcc2"/>
<rect x="794.2" y="466.9" width="2.0" height="2.0" fill="#66fcc2"/>
<rect x="794.8" y="465.5" width="2.0" height="2.0" fill="#66fcc2"/>
<rect x="759.8" y="473.5" width="2.0" height="2.0" fill="#66fcc2"/>
<rect x="795.8" y="472.0" width="2.0" height="2.0" fill="#67fcc1"/>
<rect x="805.6" y="463.2" width="2.0" height="2.0" fill="#67fcc1"/>
<rect x="804.0" y="460.2" width="2.0" height="2.0" fill="#68fcc1"/>
<rect x="819.0" y="466.1" width="2.0" height="2.0" fill="#68fcc1"/>
<rect x="798.1" y="462.9" width="2.0" height="2.0" fill="#69fdc0"/>
<rect x="791.5" y="473.7" width="2.0" height="2.0" fill="#6afdc0"/>
<rect x="795.1" y="463.9" width="2.0" height="2.0" fill="#6afdc0"/>
<rect x="812.9" y="466.4" width="2.0" height="2.0" fill="#6afdc0"/>
<rect x="803.3" y="462.2" width="2.0" height="2.0" fill="#6bfdc0"/>
<rect x="811.8" y="460.9" width="2.0" height="2.0" fill="#6bfdbf"/>
<rect x="803.2" y="467.5" width="2.0" height="2.0" fill="#6bfdbf"/>
<rect x="797.9" y="463.2" width="2.0" height="2.0" fill="#6bfdbf"/>
<rect x="798.4" y="465.1" width="2.0" height="2.0" fill="#6cfdbf"/>
<rect x="794.6" y="463.6" width="2.0" height="2.0" fill="#6cfdbf"/>
<rect x="805.9" y="463.0" width="2.0" height="2.0" fill="#6cfdbf"/>
<rect x="804.7" y="465.3" width="2.0" height="2.0" fill="#6dfdbe"/>
<rect x="763.9" y="472.0" width="2.0" height="2.0" fill="#6dfdbe"/>
<rect x="805.7" y="460.5" width="2.0" height="2.0" fill="#70febd"/>
<rect x="848.8" y="469.8" width="2.0" height="2.0" fill="#71febc"/>
<rect x="821.7" y="465.1" width="2.0" height="2.0" fill="#71febc"/>
<rect x="784.3" y="471.4" width="2.0" height="2.0" fill="#72febc"/>
<rect x="802.9" y="474.8" width="2.0" height="2.0" fill="#72febb"/>
<rect x="805.4" y="462.5" width="2.0" height="2.0" fill="#73febb"/>
<rect x="790.7" y="468.6" width="2.0" height="2.0" fill="#73febb"/>
<rect x="787.8" y="470.0" width="2.0" height="2.0" fill="#74febb"/>
<rect x="813.7" y="459.7" width="2.0" height="2.0" fill="#74febb"/>
<rect x="799.7" y="464.4" width="2.0" height="2.0" fill="#74febb"/>
<rect x="797.7" y="467.7" width="2.0" height="2.0" fill="#74feba"/>
<rect x="811.0" y="465.0" width="2.0" height="2.0" fill="#75feba"/>
<rect x="786.0" y="464.1" width="2.0" height="2.0" fill="#75feba"/>
<rect x="789.5" y="471.2" width="2.0" height="2.0" fill="#75feba"/>
<rect x="784.8" y="463.4" width="2.0" height="2.0" fill="#75feba"/>
<rect x="787.0" y="464.9" width="2.0" height="2.0" fill="#75feba"/>
<rect x="805.8" y="463.2" width="2.0" height="2.0" fill="#76ffb9"/>
<rect x="812.8" y="466.6" width="2.0" height="2.0" fill="#76ffb9"/>
<rect x="820.7" y="465.2" width="2.0" height="2.0" fill="#76ffb9"/>
<rect x="810.0" y="464.9" width="2.0" height="2.0" fill="#77ffb9"/>
<rect x="809.4" y="466.2" width="2.0" height="2.0" fill="#77ffb9"/>
<rect x="789.6" y="464.2" width="2.0" height="2.0" fill="#78ffb9"/>
<rect x="793.7" y="468.3" width="2.0" height="2.0" fill="#78ffb9"/>
<rect x="848.2" y="470.7" width="2.0" height="2.0" fill="#7affb7"/>
<rect x="794.1" y="464.3" width="2.0" height="2.0" fill="#7bffb7"/>
<rect x="799.6" y="464.0" width="2.0" height="2.0" fill="#7bffb7"/>
<rect x="853.6" y="470.8" width="2.0" height="2.0" fill="#7bffb7"/>
<rect x="791.9" y="462.0" width="2.0" height="2.0" fill="#7cffb6"/>
<rect x="794.7" y="466.5" width="2.0" height="2.0" fill="#7dffb6"/>
<rect x="800.2" y="467.4" width="2.0" height="2.0" fill="#7effb5"/>
<rect x="788.2" y="463.0" width="2.0" height="2.0" fill="#7effb5"/>
<rect x="802.2" y="463.6" width="2.0" height="2.0" fill="#7fffb5"/>
<rect x="775.4" y="474.3" width="2.0" height="2.0" fill="#7fffb5"/>
<rect x="770.9" y="464.7" width="2.0" height="2.0" fill="#7fffb4"/>
<rect x="864.5" y="470.9" width="2.0" height="2.0" fill="#80ffb4"/>
<rect x="798.8" y="460.6" width="2.0" height="2.0" fill="#80ffb4"/>
<rect x="802.0" y="464.8" width="2.0" height="2.0" fill="#80ffb4"/>
<rect x="776.8" y="470.7" width="2.0" height="2.0" fill="#80ffb4"/>
<rect x="784.7" y="460.1" width="2.0" height="2.0" fill="#81ffb3"/>
<rect x="787.3" y="465.6" width="2.0" height="2.0" fill="#81ffb3"/>
<rect x="815.9" y="461.5" width="2.0" height="2.0" fill="#81ffb3"/>
<rect x="796.4" y="470.8" width="2.0" height="2.0" fill="#82ffb3"/>
<rect x="799.2" y="459.7" width="2.0" height="2.0" fill="#82ffb3"/>
<rect x="801.2" y="468.4" width="2.0" height="2.0" fill="#82ffb3"/>
<rect x="804.4" y="462.0" width="2.0" height="2.0" fill="#82ffb3"/>
<rect x="807.1" y="463.2" width="2.0" height="2.0" fill="#83ffb2"/>
<rect x="799.4" y="466.2" width="2.0" height="2.0" fill="#83ffb2"/>
<rect x="803.8" y="466.1" width="2.0" height="2.0" fill="#83ffb2"/>
<rect x="798.2" y="472.3" width="2.0" height="2.0" fill="#84ffb2"/>
<rect x="798.1" y="461.7" width="2.0" height="2.0" fill="#85ffb1"/>
<rect x="786.6" y="465.8" width="2.0" height="2.0" fill="#86ffb1"/>
<rect x="791.7" y="463.4" width="2.0" height="2.0" fill="#86ffb1"/>
<rect x="810.4" y="465.1" width="2.0" height="2.0" fill="#86ffb0"/>
<rect x="794.3" y="466.4" width="2.0" height="2.0" fill="#87ffb0"/>
<rect x="803.7" y="460.7" width="2.0" height="2.0" fill="#87ffb0"/>
<rect x="806.2" y="464.9" width="2.0" height="2.0" fill="#87ffb0"/>
<rect x="785.6" y="465.5" width="2.0" height="2.0" fill="#88ffb0"/>
<rect x="802.8" y="463.5" width="2.0" height="2.0" fill="#88ffb0"/>
<rect x="791.8" y="464.4" width="2.0" height="2.0" fill="#88ffaf"/>
<rect x="792.4" y="464.8" width="2.0" height="2.0" fill="#8affaf"/>
<rect x="795.2" y="471.4" width="2.0" height="2.0" fill="#8affaf"/>
<rect x="789.3" y="462.9" width="2.0" height="2.0" fill="#8afeaf"/>
<rect x="802.7" y="458.7" width="2.0" height="2.0" fill="#8afeae"/>
<rect x="789.6" y="464.3" width="2.0" height="2.0" fill="#8afeae"/>
<rect x="812.3" y="462.5" width="2.0" height="2.0" fill="#8bfeae"/>
<rect x="796.7" y="469.4" width="2.0" height="2.0" fill="#8cfead"/>
<rect x="807.0" y="469.2" width="2.0" height="2.0" fill="#8cfead"/>
<rect x="802.1" y="465.2" width="2.0" height="2.0" fill="#8dfead"/>
<rect x="789.0" y="463.8" width="2.0" height="2.0" fill="#8efeac"/>
<rect x="792.0" y="461.4" width="2.0" height="2.0" fill="#8efeac"/>
<rect x="818.0" y="461.0" width="2.0" height="2.0" fill="#8ffeac"/>
<rect x="777.2" y="465.7" width="2.0" height="2.0" fill="#90feab"/>
<rect x="798.1" y="463.7" width="2.0" height="2.0" fill="#90feab"/>
<rect x="796.3" y="465.6" width="2.0" height="2.0" fill="#91feab"/>
<rect x="795.7" y="464.7" width="2.0" height="2.0" fill="#91fdaa"/>
<rect x="804.9" y="465.5" width="2.0" height="2.0" fill="#91fdaa"/>
<rect x="793.3" y="465.2" width="2.0" height="2.0" fill="#92fdaa"/>
<rect x="787.7" y="470.0" width="2.0" height="2.0" fill="#92fdaa"/>
<rect x="793.1" y="466.1" width="2.0" height="2.0" fill="#92fdaa"/>
<rect x="788.1" y="463.8" width="2.0" height="2.0" fill="#92fdaa"/>
<rect x="765.5" y="470.2" width="2.0" height="2.0" fill="#92fda9"/>
<rect x="855.3" y="473.9" width="2.0" height="2.0" fill="#93fda9"/>
<rect x="784.4" y="464.6" width="2.0" height="2.0" fill="#93fda9"/>
<rect x="809.7" y="461.3" width="2.0" height="2.0" fill="#93fda9"/>
<rect x="795.7" y="466.7" width="2.0" height="2.0" fill="#93fda9"/>
<rect x="778.6" y="469.9" width="2.0" height="2.0" fill="#93fda9"/>
<rect x="784.2" y="465.2" width="2.0" height="2.0" fill="#94fda9"/>
<rect x="785.2" y="465.8" width="2.0" height="2.0" fill="#94fda8"/>
<rect x="796.3" y="459.3" width="2.0" height="2.0" fill="#94fda8"/>
<rect x="802.2" y="465.6" width="2.0" height="2.0" fill="#95fda8"/>
<rect x="791.4" y="465.7" width="2.0" height="2.0" fill="#95fda8"/>
<rect x="792.5" y="462.8" width="2.0" height="2.0" fill="#96fda8"/>
<rect x="795.7" y="461.9" width="2.0" height="2.0" fill="#96fda7"/>
<rect x="798.1" y="463.8" width="2.0" height="2.0" fill="#98fca6"/>
<rect x="809.7" y="462.9" width="2.0" height="2.0" fill="#99fca6"/>
<rect x="806.7" y="470.4" width="2.0" height="2.0" fill="#9dfba3"/>
<rect x="796.2" y="471.5" width="2.0" height="2.0" fill="#9efba3"/>
<rect x="804.9" y="473.9" width="2.0" height="2.0" fill="#a4f89f"/>
<rect x="816.6" y="469.8" width="2.0" height="2.0" fill="#a6f89e"/>
<rect x="801.1" y="472.3" width="2.0" height="2.0" fill="#abf69b"/>
<rect x="774.2" y="472.1" width="2.0" height="2.0" fill="#aff498"/>
<rect x="797.7" y="471.8" width="2.0" height="2.0" fill="#b1f397"/>
<rect x="853.4" y="473.2" width="2.0" height="2.0" fill="#b1f397"/>
<rect x="802.6" y="475.6" width="2.0" height="2.0" fill="#b9ef92"/>
<rect x="849.2" y="471.7" width="2.0" height="2.0" fill="#b9ef91"/>
<rect x="770.3" y="471.7" width="2.0" height="2.0" fill="#c0eb8d"/>
<rect x="850.7" y="472.2" width="2.0" height="2.0" fill="#c6e789"/>
<rect x="799.1" y="473.1" width="2.0" height="2.0" fill="#c7e789"/>
<rect x="764.4" y="473.5" width="2.0" height="2.0" fill="#c9e587"/>
<rect x="793.4" y="469.5" width="2.0" height="2.0" fill="#c9e587"/>
<rect x="785.3" y="473.3" width="2.0" height="2.0" fill="#cbe486"/>
<rect x="781.2" y="474.1" width="2.0" height="2.0" fill="#cce385"/>
<rect x="797.7" y="473.9" width="2.0" height="2.0" fill="#cde284"/>
<rect x="840.5" y="470.9" width="2.0" height="2.0" fill="#d0e083"/>
<rect x="800.3" y="469.3" width="2.0" height="2.0" fill="#d3de81"/>
<rect x="852.3" y="469.1" width="2.0" height="2.0" fill="#d4dd80"/>
<rect x="785.8" y="471.7" width="2.0" height="2.0" fill="#d4dd80"/>
<rect x="848.6" y="470.3" width="2.0" height="2.0" fill="#d7db7e"/>
<rect x="763.8" y="471.8" width="2.0" height="2.0" fill="#dfd579"/>
<rect x="846.3" y="470.9" width="2.0" height="2.0" fill="#e0d478"/>
<rect x="764.6" y="469.0" width="2.0" height="2.0" fill="#e1d377"/>
<rect x="779.8" y="472.4" width="2.0" height="2.0" fill="#e2d276"/>
<rect x="753.5" y="470.8" width="2.0" height="2.0" fill="#e5cf74"/>
<rect x="807.1" y="473.7" width="2.0" height="2.0" fill="#e7cd72"/>
<rect x="845.7" y="470.0" width="2.0" height="2.0" fill="#ebc970"/>
<rect x="786.2" y="471.1" width="2.0" height="2.0" fill="#ecc86f"/>
<rect x="848.2" y="471.6" width="2.0" height="2.0" fill="#ecc86f"/>
<rect x="797.7" y="472.7" width="2.0" height="2.0" fill="#eec76e"/>
<rect x="794.7" y="475.5" width="2.0" height="2.0" fill="#f0c46c"/>
<rect x="855.4" y="473.3" width="2.0" height="2.0" fill="#f0c46c"/>
<rect x="768.4" y="473.3" width="2.0" height="2.0" fill="#f1c36c"/>
<rect x="798.8" y="466.7" width="2.0" height="2.0" fill="#f7bd68"/>
<rect x="842.6" y="472.2" width="2.0" height="2.0" fill="#faba65"/>
<rect x="811.6" y="471.0" width="2.0" height="2.0" fill="#faba65"/>
<rect x="811.9" y="469.6" width="2.0" height="2.0" fill="#faba65"/>
<rect x="798.4" y="472.2" width="2.0" height="2.0" fill="#faba65"/>
<rect x="835.1" y="471.4" width="2.0" height="2.0" fill="#faba65"/>
<rect x="831.7" y="471.8" width="2.0" height="2.0" fill="#fab965"/>
<rect x="837.5" y="470.9" width="2.0" height="2.0" fill="#fab965"/>
<rect x="835.5" y="472.4" width="2.0" height="2.0" fill="#fab965"/>
<rect x="774.9" y="471.6" width="2.0" height="2.0" fill="#fbb965"/>
<rect x="816.9" y="471.7" width="2.0" height="2.0" fill="#fbb965"/>
<rect x="807.9" y="472.2" width="2.0" height="2.0" fill="#fbb965"/>
<rect x="822.5" y="469.9" width="2.0" height="2.0" fill="#fbb864"/>
<rect x="825.7" y="469.6" width="2.0" height="2.0" fill="#fbb864"/>
<rect x="819.5" y="469.7" width="2.0" height="2.0" fill="#fbb864"/>
<rect x="823.9" y="471.5" width="2.0" height="2.0" fill="#fbb864"/>
<rect x="833.0" y="472.6" width="2.0" height="2.0" fill="#fbb864"/>
<rect x="827.2" y="472.5" width="2.0" height="2.0" fill="#fcb864"/>
<rect x="780.6" y="470.5" width="2.0" height="2.0" fill="#fcb864"/>
<rect x="829.0" y="473.3" width="2.0" height="2.0" fill="#fcb764"/>
<rect x="812.2" y="474.2" width="2.0" height="2.0" fill="#fcb764"/>
<rect x="808.5" y="471.9" width="2.0" height="2.0" fill="#fcb763"/>
<rect x="803.7" y="469.7" width="2.0" height="2.0" fill="#fcb763"/>
<rect x="845.7" y="469.1" width="2.0" height="2.0" fill="#fdb763"/>
<rect x="795.7" y="471.2" width="2.0" height="2.0" fill="#fdb763"/>
<rect x="785.4" y="469.9" width="2.0" height="2.0" fill="#fdb763"/>
<rect x="829.7" y="468.8" width="2.0" height="2.0" fill="#fdb763"/>
<rect x="788.7" y="471.4" width="2.0" height="2.0" fill="#fdb763"/>
<rect x="814.8" y="470.3" width="2.0" height="2.0" fill="#fdb763"/>
<rect x="797.7" y="472.6" width="2.0" height="2.0" fill="#fdb763"/>
<rect x="809.0" y="470.4" width="2.0" height="2.0" fill="#fdb663"/>
<rect x="823.4" y="471.6" width="2.0" height="2.0" fill="#fdb663"/>
<rect x="809.4" y="468.1" width="2.0" height="2.0" fill="#fdb663"/>
<rect x="806.9" y="471.0" width="2.0" height="2.0" fill="#fdb663"/>
<rect x="810.8" y="472.1" width="2.0" height="2.0" fill="#fdb663"/>
<rect x="830.2" y="471.6" width="2.0" height="2.0" fill="#fdb663"/>
<rect x="837.6" y="471.8" width="2.0" height="2.0" fill="#fdb663"/>
<rect x="804.4" y="474.4" width="2.0" height="2.0" fill="#fdb663"/>
<rect x="798.0" y="473.6" width="2.0" height="2.0" fill="#fdb663"/>
<rect x="845.9" y="471.3" width="2.0" height="2.0" fill="#feb663"/>
<rect x="839.4" y="469.9" width="2.0" height="2.0" fill="#feb663"/>
<rect x="839.7" y="469.9" width="2.0" height="2.0" fill="#feb663"/>
<rect x="796.9" y="471.7" width="2.0" height="2.0" fill="#feb662"/>
<rect x="825.8" y="470.9" width="2.0" height="2.0" fill="#feb662"/>
<rect x="810.2" y="472.5" width="2.0" height="2.0" fill="#feb562"/>
<rect x="842.3" y="470.1" width="2.0" height="2.0" fill="#feb562"/>
<rect x="816.6" y="472.5" width="2.0" height="2.0" fill="#feb562"/>
<rect x="827.6" y="470.6" width="2.0" height="2.0" fill="#feb562"/>
<rect x="810.6" y="469.4" width="2.0" height="2.0" fill="#feb562"/>
<rect x="816.4" y="471.0" width="2.0" height="2.0" fill="#feb562"/>
<rect x="821.2" y="473.1" width="2.0" height="2.0" fill="#feb562"/>
<rect x="780.0" y="470.9" width="2.0" height="2.0" fill="#feb562"/>
<rect x="826.8" y="469.8" width="2.0" height="2.0" fill="#feb562"/>
<rect x="829.5" y="471.2" width="2.0" height="2.0" fill="#ffb562"/>
<rect x="824.4" y="472.3" width="2.0" height="2.0" fill="#ffb562"/>
<rect x="794.8" y="473.5" width="2.0" height="2.0" fill="#ffb562"/>
<rect x="847.6" y="472.0" width="2.0" height="2.0" fill="#ffb462"/>
<rect x="816.0" y="471.9" width="2.0" height="2.0" fill="#ffb462"/>
<rect x="808.9" y="470.5" width="2.0" height="2.0" fill="#ffb462"/>
<rect x="823.0" y="473.1" width="2.0" height="2.0" fill="#ffb461"/>
<rect x="793.1" y="473.7" width="2.0" height="2.0" fill="#ffb461"/>
<rect x="783.5" y="471.7" width="2.0" height="2.0" fill="#ffb461"/>
<rect x="810.0" y="472.6" width="2.0" height="2.0" fill="#ffb461"/>
<rect x="827.3" y="472.1" width="2.0" height="2.0" fill="#ffb461"/>
<rect x="825.7" y="470.3" width="2.0" height="2.0" fill="#ffb361"/>
<rect x="795.1" y="470.1" width="2.0" height="2.0" fill="#ffb361"/>
<rect x="835.9" y="470.7" width="2.0" height="2.0" fill="#ffb361"/>
<rect x="792.2" y="473.6" width="2.0" height="2.0" fill="#ffb361"/>
<rect x="831.9" y="472.3" width="2.0" height="2.0" fill="#ffb361"/>
<rect x="815.0" y="471.6" width="2.0" height="2.0" fill="#ffb361"/>
<rect x="786.8" y="471.2" width="2.0" height="2.0" fill="#ffb360"/>
<rect x="827.1" y="470.2" width="2.0" height="2.0" fill="#ffb260"/>
<rect x="793.4" y="470.1" width="2.0" height="2.0" fill="#ffb260"/>
<rect x="829.9" y="468.9" width="2.0" height="2.0" fill="#ffb260"/>
<rect x="838.5" y="472.2" width="2.0" height="2.0" fill="#ffb260"/>
<rect x="817.5" y="469.6" width="2.0" height="2.0" fill="#ffb260"/>
<rect x="798.5" y="468.6" width="2.0" height="2.0" fill="#ffb260"/>
<rect x="832.9" y="472.1" width="2.0" height="2.0" fill="#ffb160"/>
<rect x="820.9" y="473.0" width="2.0" height="2.0" fill="#ffb160"/>
<rect x="812.7" y="470.7" width="2.0" height="2.0" fill="#ffb160"/>
<rect x="837.3" y="470.6" width="2.0" height="2.0" fill="#ffb160"/>
<rect x="815.6" y="469.8" width="2.0" height="2.0" fill="#ffb15f"/>
<rect x="833.8" y="473.1" width="2.0" height="2.0" fill="#ffb15f"/>
<rect x="829.8" y="471.5" width="2.0" height="2.0" fill="#ffb15f"/>
<rect x="819.7" y="471.5" width="2.0" height="2.0" fill="#ffb15f"/>
<rect x="854.4" y="471.6" width="2.0" height="2.0" fill="#ffb15f"/>
<rect x="826.7" y="466.7" width="2.0" height="2.0" fill="#ffb15f"/>
<rect x="836.5" y="471.1" width="2.0" height="2.0" fill="#ffb15f"/>
<rect x="816.7" y="470.0" width="2.0" height="2.0" fill="#ffb05f"/>
<rect x="808.9" y="471.0" width="2.0" height="2.0" fill="#ffb05f"/>
<rect x="828.8" y="470.9" width="2.0" height="2.0" fill="#ffb05f"/>
<rect x="820.7" y="470.6" width="2.0" height="2.0" fill="#ffb05f"/>
<rect x="809.1" y="471.1" width="2.0" height="2.0" fill="#ffb05f"/>
<rect x="820.9" y="471.2" width="2.0" height="2.0" fill="#ffb05f"/>
<rect x="825.4" y="471.1" width="2.0" height="2.0" fill="#ffb05f"/>
<rect x="823.0" y="471.4" width="2.0" height="2.0" fill="#ffaf5e"/>
<rect x="819.2" y="474.8" width="2.0" height="2.0" fill="#ffaf5e"/>
<rect x="832.9" y="471.0" width="2.0" height="2.0" fill="#ffaf5e"/>
<rect x="814.3" y="469.4" width="2.0" height="2.0" fill="#ffaf5e"/>
<rect x="832.2" y="468.7" width="2.0" height="2.0" fill="#ffaf5e"/>
<rect x="815.5" y="471.3" width="2.0" height="2.0" fill="#ffaf5e"/>
<rect x="825.2" y="471.4" width="2.0" height="2.0" fill="#ffae5e"/>
<rect x="830.7" y="471.2" width="2.0" height="2.0" fill="#ffae5e"/>
<rect x="819.0" y="471.9" width="2.0" height="2.0" fill="#ffae5e"/>
<rect x="830.7" y="468.5" width="2.0" height="2.0" fill="#ffae5e"/>
<rect x="855.0" y="474.7" width="2.0" height="2.0" fill="#ffae5d"/>
<rect x="855.9" y="471.8" width="2.0" height="2.0" fill="#ffae5d"/>
<rect x="854.8" y="471.4" width="2.0" height="2.0" fill="#ffad5d"/>
<rect x="836.3" y="470.2" width="2.0" height="2.0" fill="#ffac5d"/>
<rect x="812.3" y="470.9" width="2.0" height="2.0" fill="#ffac5c"/>
<rect x="843.7" y="472.0" width="2.0" height="2.0" fill="#ffac5c"/>
<rect x="835.8" y="473.2" width="2.0" height="2.0" fill="#ffac5c"/>
<rect x="784.1" y="471.9" width="2.0" height="2.0" fill="#ffac5c"/>
<rect x="830.5" y="471.3" width="2.0" height="2.0" fill="#ffac5c"/>
<rect x="818.5" y="469.2" width="2.0" height="2.0" fill="#ffac5c"/>
<rect x="830.1" y="471.8" width="2.0" height="2.0" fill="#ffac5c"/>
<rect x="791.6" y="474.5" width="2.0" height="2.0" fill="#ffab5c"/>
<rect x="821.4" y="471.4" width="2.0" height="2.0" fill="#ffab5c"/>
<rect x="813.0" y="470.7" width="2.0" height="2.0" fill="#ffab5c"/>
<rect x="826.0" y="470.3" width="2.0" height="2.0" fill="#ffab5c"/>
<rect x="831.1" y="470.4" width="2.0" height="2.0" fill="#ffab5c"/>
<rect x="830.8" y="469.7" width="2.0" height="2.0" fill="#ffab5c"/>
<rect x="809.4" y="471.6" width="2.0" height="2.0" fill="#ffab5c"/>
<rect x="795.6" y="470.3" width="2.0" height="2.0" fill="#ffab5c"/>
<rect x="844.9" y="473.4" width="2.0" height="2.0" fill="#ffab5c"/>
<rect x="857.8" y="469.9" width="2.0" height="2.0" fill="#ffaa5b"/>
<rect x="811.8" y="471.0" width="2.0" height="2.0" fill="#ffaa5b"/>
<rect x="814.7" y="471.2" width="2.0" height="2.0" fill="#ffaa5b"/>
<rect x="806.4" y="473.0" width="2.0" height="2.0" fill="#ffaa5b"/>
<rect x="822.9" y="474.1" width="2.0" height="2.0" fill="#ffaa5b"/>
<rect x="824.3" y="473.4" width="2.0" height="2.0" fill="#ffaa5b"/>
<rect x="792.5" y="472.2" width="2.0" height="2.0" fill="#ffaa5b"/>
<rect x="791.0" y="471.4" width="2.0" height="2.0" fill="#ffa95b"/>
<rect x="820.9" y="470.4" width="2.0" height="2.0" fill="#ffa95b"/>
<rect x="829.0" y="471.7" width="2.0" height="2.0" fill="#ffa95b"/>
<rect x="808.8" y="471.4" width="2.0" height="2.0" fill="#ffa95a"/>
<rect x="793.2" y="472.8" width="2.0" height="2.0" fill="#ffa95a"/>
<rect x="837.2" y="473.0" width="2.0" height="2.0" fill="#ffa95a"/>
<rect x="837.6" y="471.9" width="2.0" height="2.0" fill="#ffa95a"/>
<rect x="800.3" y="470.4" width="2.0" height="2.0" fill="#ffa85a"/>
<rect x="824.6" y="470.7" width="2.0" height="2.0" fill="#ffa85a"/>
<rect x="834.0" y="472.2" width="2.0" height="2.0" fill="#ffa85a"/>
<rect x="804.5" y="471.6" width="2.0" height="2.0" fill="#ffa85a"/>
<rect x="835.7" y="472.4" width="2.0" height="2.0" fill="#ffa85a"/>
<rect x="819.7" y="471.8" width="2.0" height="2.0" fill="#ffa85a"/>
<rect x="796.3" y="471.9" width="2.0" height="2.0" fill="#ffa85a"/>
<rect x="767.4" y="471.1" width="2.0" height="2.0" fill="#ffa859"/>
<rect x="827.5" y="470.2" width="2.0" height="2.0" fill="#ffa859"/>
<rect x="787.6" y="470.6" width="2.0" height="2.0" fill="#ffa759"/>
<rect x="817.4" y="471.1" width="2.0" height="2.0" fill="#ffa759"/>
<rect x="828.9" y="469.9" width="2.0" height="2.0" fill="#ffa759"/>
<rect x="841.6" y="472.7" width="2.0" height="2.0" fill="#ffa759"/>
<rect x="818.8" y="471.3" width="2.0" height="2.0" fill="#ffa659"/>
<rect x="835.1" y="471.7" width="2.0" height="2.0" fill="#ffa659"/>
<rect x="843.0" y="470.3" width="2.0" height="2.0" fill="#ffa658"/>
<rect x="799.7" y="472.9" width="2.0" height="2.0" fill="#ffa658"/>
<rect x="826.5" y="473.4" width="2.0" height="2.0" fill="#ffa558"/>
<rect x="814.3" y="471.4" width="2.0" height="2.0" fill="#ffa558"/>
<rect x="852.7" y="469.8" width="2.0" height="2.0" fill="#ffa558"/>
<rect x="816.6" y="471.6" width="2.0" height="2.0" fill="#ffa558"/>
<rect x="836.9" y="469.3" width="2.0" height="2.0" fill="#ffa558"/>
<rect x="811.1" y="469.9" width="2.0" height="2.0" fill="#ffa558"/>
<rect x="826.4" y="470.6" width="2.0" height="2.0" fill="#ffa558"/>
<rect x="831.8" y="468.7" width="2.0" height="2.0" fill="#ffa558"/>
<rect x="821.0" y="473.5" width="2.0" height="2.0" fill="#ffa558"/>
<rect x="828.4" y="470.8" width="2.0" height="2.0" fill="#ffa558"/>
<rect x="830.7" y="472.5" width="2.0" height="2.0" fill="#ffa457"/>
<rect x="824.2" y="471.1" width="2.0" height="2.0" fill="#ffa457"/>
<rect x="813.5" y="470.2" width="2.0" height="2.0" fill="#ffa457"/>
<rect x="807.4" y="471.7" width="2.0" height="2.0" fill="#ffa457"/>
<rect x="812.4" y="472.1" width="2.0" height="2.0" fill="#ffa357"/>
<rect x="819.6" y="470.8" width="2.0" height="2.0" fill="#ffa357"/>
<rect x="812.8" y="471.1" width="2.0" height="2.0" fill="#ffa357"/>
<rect x="818.9" y="471.7" width="2.0" height="2.0" fill="#ffa357"/>
<rect x="815.0" y="471.2" width="2.0" height="2.0" fill="#ffa357"/>
<rect x="820.8" y="469.9" width="2.0" height="2.0" fill="#ffa356"/>
<rect x="835.3" y="473.3" width="2.0" height="2.0" fill="#ffa356"/>
<rect x="809.3" y="469.7" width="2.0" height="2.0" fill="#ffa256"/>
<rect x="814.0" y="472.1" width="2.0" height="2.0" fill="#ffa256"/>
<rect x="836.8" y="469.9" width="2.0" height="2.0" fill="#ffa256"/>
<rect x="801.6" y="472.1" width="2.0" height="2.0" fill="#ffa256"/>
<rect x="828.8" y="471.6" width="2.0" height="2.0" fill="#ffa256"/>
<rect x="817.3" y="470.3" width="2.0" height="2.0" fill="#ffa256"/>
<rect x="816.6" y="470.1" width="2.0" height="2.0" fill="#ffa256"/>
<rect x="817.3" y="468.3" width="2.0" height="2.0" fill="#ffa256"/>
<rect x="854.4" y="468.9" width="2.0" height="2.0" fill="#ffa156"/>
<rect x="793.0" y="473.2" width="2.0" height="2.0" fill="#ffa155"/>
<rect x="815.2" y="472.8" width="2.0" height="2.0" fill="#ffa155"/>
<rect x="820.1" y="471.1" width="2.0" height="2.0" fill="#ffa155"/>
<rect x="798.1" y="469.6" width="2.0" height="2.0" fill="#ffa155"/>
<rect x="833.0" y="471.3" width="2.0" height="2.0" fill="#ffa155"/>
<rect x="820.3" y="468.5" width="2.0" height="2.0" fill="#ffa155"/>
<rect x="816.4" y="470.4" width="2.0" height="2.0" fill="#ffa155"/>
<rect x="791.5" y="468.1" width="2.0" height="2.0" fill="#ffa055"/>
<rect x="835.8" y="469.8" width="2.0" height="2.0" fill="#ffa055"/>
<rect x="851.9" y="469.3" width="2.0" height="2.0" fill="#ffa055"/>
<rect x="810.0" y="470.3" width="2.0" height="2.0" fill="#ffa055"/>
<rect x="806.2" y="471.6" width="2.0" height="2.0" fill="#ffa055"/>
<rect x="815.8" y="472.1" width="2.0" height="2.0" fill="#ffa055"/>
<rect x="842.3" y="471.2" width="2.0" height="2.0" fill="#ffa055"/>
<rect x="838.6" y="471.6" width="2.0" height="2.0" fill="#ffa055"/>
<rect x="838.9" y="472.5" width="2.0" height="2.0" fill="#ffa055"/>
<rect x="807.0" y="470.5" width="2.0" height="2.0" fill="#ffa055"/>
<rect x="808.1" y="473.0" width="2.0" height="2.0" fill="#ff9f54"/>
<rect x="820.8" y="470.8" width="2.0" height="2.0" fill="#ff9f54"/>
<rect x="788.5" y="469.7" width="2.0" height="2.0" fill="#ff9f54"/>
<rect x="836.4" y="471.6" width="2.0" height="2.0" fill="#ff9f54"/>
<rect x="808.7" y="472.3" width="2.0" height="2.0" fill="#ff9f54"/>
<rect x="825.9" y="473.3" width="2.0" height="2.0" fill="#ff9f54"/>
<rect x="816.5" y="470.3" width="2.0" height="2.0" fill="#ff9f54"/>
<rect x="813.5" y="470.2" width="2.0" height="2.0" fill="#ff9e54"/>
<rect x="816.5" y="468.9" width="2.0" height="2.0" fill="#ff9e54"/>
<rect x="815.2" y="473.0" width="2.0" height="2.0" fill="#ff9e54"/>
<rect x="810.5" y="471.5" width="2.0" height="2.0" fill="#ff9e54"/>
<rect x="806.8" y="470.4" width="2.0" height="2.0" fill="#ff9e54"/>
<rect x="790.3" y="471.2" width="2.0" height="2.0" fill="#ff9e54"/>
<rect x="789.9" y="471.9" width="2.0" height="2.0" fill="#ff9e54"/>
<rect x="817.6" y="472.4" width="2.0" height="2.0" fill="#ff9e54"/>
<rect x="805.1" y="473.6" width="2.0" height="2.0" fill="#ff9e53"/>
<rect x="809.7" y="470.3" width="2.0" height="2.0" fill="#ff9e53"/>
<rect x="834.8" y="468.5" width="2.0" height="2.0" fill="#ff9d53"/>
<rect x="839.6" y="470.9" width="2.0" height="2.0" fill="#ff9d53"/>
<rect x="795.1" y="468.5" width="2.0" height="2.0" fill="#ff9d53"/>
<rect x="832.5" y="469.9" width="2.0" height="2.0" fill="#ff9d53"/>
<rect x="823.9" y="470.6" width="2.0" height="2.0" fill="#ff9d53"/>
<rect x="823.3" y="469.2" width="2.0" height="2.0" fill="#ff9d53"/>
<rect x="810.5" y="470.3" width="2.0" height="2.0" fill="#ff9c52"/>
<rect x="835.7" y="469.9" width="2.0" height="2.0" fill="#ff9c52"/>
<rect x="816.4" y="469.9" width="2.0" height="2.0" fill="#ff9c52"/>
<rect x="812.5" y="471.0" width="2.0" height="2.0" fill="#ff9c52"/>
<rect x="808.2" y="469.4" width="2.0" height="2.0" fill="#ff9c52"/>
<rect x="811.0" y="472.9" width="2.0" height="2.0" fill="#ff9c52"/>
<rect x="823.1" y="472.3" width="2.0" height="2.0" fill="#ff9c52"/>
<rect x="814.0" y="475.1" width="2.0" height="2.0" fill="#ff9c52"/>
<rect x="792.1" y="469.1" width="2.0" height="2.0" fill="#ff9b52"/>
<rect x="819.9" y="471.2" width="2.0" height="2.0" fill="#ff9b52"/>
<rect x="799.9" y="473.0" width="2.0" height="2.0" fill="#ff9b52"/>
<rect x="833.0" y="472.9" width="2.0" height="2.0" fill="#ff9b52"/>
<rect x="837.5" y="469.8" width="2.0" height="2.0" fill="#ff9b52"/>
<rect x="825.7" y="472.6" width="2.0" height="2.0" fill="#ff9a51"/>
<rect x="832.7" y="470.4" width="2.0" height="2.0" fill="#ff9a51"/>
<rect x="800.7" y="471.8" width="2.0" height="2.0" fill="#ff9a51"/>
<rect x="811.7" y="470.9" width="2.0" height="2.0" fill="#ff9a51"/>
<rect x="831.5" y="469.7" width="2.0" height="2.0" fill="#ff9951"/>
<rect x="795.0" y="471.0" width="2.0" height="2.0" fill="#ff9951"/>
<rect x="807.2" y="470.9" width="2.0" height="2.0" fill="#ff9951"/>
<rect x="837.9" y="473.6" width="2.0" height="2.0" fill="#ff9951"/>
<rect x="818.5" y="469.9" width="2.0" height="2.0" fill="#ff9951"/>
<rect x="830.7" y="472.5" width="2.0" height="2.0" fill="#ff9951"/>
<rect x="828.0" y="470.9" width="2.0" height="2.0" fill="#ff9951"/>
<rect x="826.6" y="471.2" width="2.0" height="2.0" fill="#ff9951"/>
<rect x="830.1" y="471.8" width="2.0" height="2.0" fill="#ff9951"/>
<rect x="819.4" y="469.9" width="2.0" height="2.0" fill="#ff9950"/>
<rect x="814.8" y="470.2" width="2.0" height="2.0" fill="#ff9950"/>
<rect x="857.9" y="470.5" width="2.0" height="2.0" fill="#ff9850"/>
<rect x="835.1" y="472.2" width="2.0" height="2.0" fill="#ff9850"/>
<rect x="806.8" y="471.5" width="2.0" height="2.0" fill="#ff9850"/>
<rect x="826.2" y="472.6" width="2.0" height="2.0" fill="#ff9850"/>
<rect x="779.8" y="469.5" width="2.0" height="2.0" fill="#ff9850"/>
<rect x="816.7" y="469.7" width="2.0" height="2.0" fill="#ff9850"/>
<rect x="793.6" y="474.0" width="2.0" height="2.0" fill="#ff9750"/>
<rect x="831.9" y="469.8" width="2.0" height="2.0" fill="#ff974f"/>
<rect x="823.0" y="469.2" width="2.0" height="2.0" fill="#ff964f"/>
<rect x="796.7" y="471.7" width="2.0" height="2.0" fill="#ff964f"/>
<rect x="792.7" y="472.1" width="2.0" height="2.0" fill="#ff964f"/>
<rect x="802.8" y="471.0" width="2.0" height="2.0" fill="#ff964f"/>
<rect x="817.6" y="469.5" width="2.0" height="2.0" fill="#ff964f"/>
<rect x="816.5" y="471.5" width="2.0" height="2.0" fill="#ff964f"/>
<rect x="814.3" y="469.7" width="2.0" height="2.0" fill="#ff964f"/>
<rect x="828.7" y="471.4" width="2.0" height="2.0" fill="#ff964f"/>
<rect x="805.9" y="470.4" width="2.0" height="2.0" fill="#ff964f"/>
<rect x="803.1" y="470.0" width="2.0" height="2.0" fill="#ff964f"/>
<rect x="851.6" y="473.6" width="2.0" height="2.0" fill="#ff964f"/>
<rect x="846.1" y="470.6" width="2.0" height="2.0" fill="#ff954f"/>
<rect x="835.0" y="468.8" width="2.0" height="2.0" fill="#ff954e"/>
<rect x="796.1" y="471.4" width="2.0" height="2.0" fill="#ff954e"/>
<rect x="841.0" y="472.2" width="2.0" height="2.0" fill="#ff954e"/>
<rect x="806.7" y="469.1" width="2.0" height="2.0" fill="#ff954e"/>
<rect x="853.7" y="472.4" width="2.0" height="2.0" fill="#ff954e"/>
<rect x="813.0" y="472.7" width="2.0" height="2.0" fill="#ff944e"/>
<rect x="825.6" y="471.3" width="2.0" height="2.0" fill="#ff944e"/>
<rect x="838.6" y="472.4" width="2.0" height="2.0" fill="#ff944e"/>
<rect x="805.9" y="471.2" width="2.0" height="2.0" fill="#ff944e"/>
<rect x="755.3" y="470.5" width="2.0" height="2.0" fill="#ff944e"/>
<rect x="839.5" y="469.0" width="2.0" height="2.0" fill="#ff944d"/>
<rect x="804.1" y="473.2" width="2.0" height="2.0" fill="#ff944d"/>
<rect x="826.0" y="472.4" width="2.0" height="2.0" fill="#ff944d"/>
<rect x="807.7" y="471.4" width="2.0" height="2.0" fill="#ff934d"/>
<rect x="821.8" y="470.0" width="2.0" height="2.0" fill="#ff934d"/>
<rect x="854.2" y="473.4" width="2.0" height="2.0" fill="#ff934d"/>
<rect x="813.8" y="472.4" width="2.0" height="2.0" fill="#ff934d"/>
<rect x="827.6" y="471.6" width="2.0" height="2.0" fill="#ff934d"/>
<rect x="819.4" y="469.5" width="2.0" height="2.0" fill="#ff934d"/>
<rect x="825.6" y="471.7" width="2.0" height="2.0" fill="#ff934d"/>
<rect x="835.7" y="474.0" width="2.0" height="2.0" fill="#ff934d"/>
<rect x="821.5" y="471.5" width="2.0" height="2.0" fill="#ff934d"/>
<rect x="835.5" y="470.3" width="2.0" height="2.0" fill="#ff934d"/>
<rect x="841.0" y="471.8" width="2.0" height="2.0" fill="#ff934d"/>
<rect x="801.1" y="472.3" width="2.0" height="2.0" fill="#ff934d"/>
<rect x="790.4" y="470.7" width="2.0" height="2.0" fill="#ff934d"/>
<rect x="856.0" y="472.7" width="2.0" height="2.0" fill="#ff934d"/>
<rect x="837.5" y="471.6" width="2.0" height="2.0" fill="#ff924d"/>
<rect x="784.4" y="474.1" width="2.0" height="2.0" fill="#ff924d"/>
<rect x="853.6" y="470.5" width="2.0" height="2.0" fill="#ff924d"/>
<rect x="810.5" y="470.2" width="2.0" height="2.0" fill="#ff924d"/>
<rect x="798.9" y="470.4" width="2.0" height="2.0" fill="#ff924d"/>
<rect x="797.1" y="473.1" width="2.0" height="2.0" fill="#ff924c"/>
<rect x="829.9" y="471.9" width="2.0" height="2.0" fill="#ff924c"/>
<rect x="803.8" y="470.7" width="2.0" height="2.0" fill="#ff924c"/>
<rect x="828.8" y="471.9" width="2.0" height="2.0" fill="#ff924c"/>
<rect x="807.0" y="471.0" width="2.0" height="2.0" fill="#ff924c"/>
<rect x="848.4" y="469.6" width="2.0" height="2.0" fill="#ff914c"/>
<rect x="830.5" y="471.1" width="2.0" height="2.0" fill="#ff914c"/>
<rect x="835.6" y="471.0" width="2.0" height="2.0" fill="#ff914c"/>
<rect x="809.1" y="468.6" width="2.0" height="2.0" fill="#ff904c"/>
<rect x="804.4" y="470.9" width="2.0" height="2.0" fill="#ff904c"/>
<rect x="825.5" y="473.7" width="2.0" height="2.0" fill="#ff904b"/>
<rect x="811.7" y="470.4" width="2.0" height="2.0" fill="#ff904b"/>
<rect x="815.6" y="473.3" width="2.0" height="2.0" fill="#ff8f4b"/>
<rect x="818.5" y="469.6" width="2.0" height="2.0" fill="#ff8f4b"/>
<rect x="787.7" y="472.9" width="2.0" height="2.0" fill="#ff8f4b"/>
<rect x="816.2" y="471.5" width="2.0" height="2.0" fill="#ff8f4b"/>
<rect x="812.9" y="471.1" width="2.0" height="2.0" fill="#ff8f4b"/>
<rect x="777.9" y="472.5" width="2.0" height="2.0" fill="#ff8f4b"/>
<rect x="828.6" y="469.2" width="2.0" height="2.0" fill="#ff8e4a"/>
<rect x="820.6" y="470.5" width="2.0" height="2.0" fill="#ff8e4a"/>
<rect x="830.9" y="472.7" width="2.0" height="2.0" fill="#ff8e4a"/>
<rect x="820.4" y="471.2" width="2.0" height="2.0" fill="#ff8e4a"/>
<rect x="762.1" y="472.1" width="2.0" height="2.0" fill="#ff8e4a"/>
<rect x="793.5" y="469.6" width="2.0" height="2.0" fill="#ff8e4a"/>
<rect x="856.8" y="472.6" width="2.0" height="2.0" fill="#ff8e4a"/>
<rect x="821.8" y="470.0" width="2.0" height="2.0" fill="#ff8e4a"/>
<rect x="771.7" y="468.8" width="2.0" height="2.0" fill="#ff8e4a"/>
<rect x="802.3" y="470.5" width="2.0" height="2.0" fill="#ff8e4a"/>
<rect x="778.3" y="475.3" width="2.0" height="2.0" fill="#ff8e4a"/>
<rect x="820.7" y="470.5" width="2.0" height="2.0" fill="#ff8d4a"/>
<rect x="796.2" y="471.2" width="2.0" height="2.0" fill="#ff8d4a"/>
<rect x="807.5" y="469.9" width="2.0" height="2.0" fill="#ff8d4a"/>
<rect x="790.8" y="471.5" width="2.0" height="2.0" fill="#ff8d4a"/>
<rect x="817.7" y="469.5" width="2.0" height="2.0" fill="#ff8d4a"/>
<rect x="836.1" y="470.7" width="2.0" height="2.0" fill="#ff8d4a"/>
<rect x="835.7" y="471.7" width="2.0" height="2.0" fill="#ff8d49"/>
<rect x="796.2" y="469.9" width="2.0" height="2.0" fill="#ff8c49"/>
<rect x="828.7" y="473.1" width="2.0" height="2.0" fill="#ff8c49"/>
<rect x="818.4" y="472.5" width="2.0" height="2.0" fill="#ff8c49"/>
<rect x="836.9" y="471.2" width="2.0" height="2.0" fill="#ff8c49"/>
<rect x="828.0" y="471.0" width="2.0" height="2.0" fill="#ff8c49"/>
<rect x="786.9" y="471.9" width="2.0" height="2.0" fill="#ff8c49"/>
<rect x="821.0" y="468.2" width="2.0" height="2.0" fill="#ff8c49"/>
<rect x="823.1" y="469.9" width="2.0" height="2.0" fill="#ff8b49"/>
<rect x="852.6" y="471.6" width="2.0" height="2.0" fill="#ff8b49"/>
<rect x="823.1" y="470.8" width="2.0" height="2.0" fill="#ff8b49"/>
<rect x="845.4" y="471.5" width="2.0" height="2.0" fill="#ff8b48"/>
<rect x="836.7" y="469.1" width="2.0" height="2.0" fill="#ff8b48"/>
<rect x="794.0" y="472.5" width="2.0" height="2.0" fill="#ff8b48"/>
<rect x="819.1" y="473.6" width="2.0" height="2.0" fill="#ff8a48"/>
<rect x="806.7" y="471.3" width="2.0" height="2.0" fill="#ff8a48"/>
<rect x="808.1" y="471.6" width="2.0" height="2.0" fill="#ff8a48"/>
<rect x="830.1" y="470.6" width="2.0" height="2.0" fill="#ff8948"/>
<rect x="823.7" y="471.3" width="2.0" height="2.0" fill="#ff8948"/>
<rect x="807.4" y="471.7" width="2.0" height="2.0" fill="#ff8947"/>
<rect x="836.6" y="470.8" width="2.0" height="2.0" fill="#ff8947"/>
<rect x="795.2" y="471.2" width="2.0" height="2.0" fill="#ff8947"/>
<rect x="823.8" y="472.8" width="2.0" height="2.0" fill="#ff8947"/>
<rect x="827.5" y="471.8" width="2.0" height="2.0" fill="#ff8947"/>
<rect x="857.7" y="469.1" width="2.0" height="2.0" fill="#ff8847"/>
<rect x="845.4" y="472.5" width="2.0" height="2.0" fill="#ff8847"/>
<rect x="830.2" y="472.7" width="2.0" height="2.0" fill="#ff8847"/>
<rect x="809.1" y="470.4" width="2.0" height="2.0" fill="#ff8847"/>
<rect x="822.9" y="468.9" width="2.0" height="2.0" fill="#ff8847"/>
<rect x="827.5" y="471.5" width="2.0" height="2.0" fill="#ff8746"/>
<rect x="823.9" y="471.9" width="2.0" height="2.0" fill="#ff8746"/>
<rect x="817.3" y="472.1" width="2.0" height="2.0" fill="#ff8746"/>
<rect x="778.4" y="473.2" width="2.0" height="2.0" fill="#ff8746"/>
<rect x="831.2" y="471.3" width="2.0" height="2.0" fill="#ff8746"/>
<rect x="803.0" y="472.1" width="2.0" height="2.0" fill="#ff8746"/>
<rect x="806.4" y="471.1" width="2.0" height="2.0" fill="#ff8646"/>
<rect x="836.6" y="471.9" width="2.0" height="2.0" fill="#ff8646"/>
<rect x="826.2" y="469.4" width="2.0" height="2.0" fill="#ff8646"/>
<rect x="806.5" y="471.4" width="2.0" height="2.0" fill="#ff8646"/>
<rect x="821.1" y="471.8" width="2.0" height="2.0" fill="#ff8646"/>
<rect x="845.6" y="470.3" width="2.0" height="2.0" fill="#ff8646"/>
<rect x="783.6" y="469.2" width="2.0" height="2.0" fill="#ff8646"/>
<rect x="815.3" y="470.2" width="2.0" height="2.0" fill="#ff8646"/>
<rect x="781.8" y="472.7" width="2.0" height="2.0" fill="#ff8646"/>
<rect x="793.6" y="472.7" width="2.0" height="2.0" fill="#ff8646"/>
<rect x="787.1" y="470.6" width="2.0" height="2.0" fill="#ff8646"/>
<rect x="834.5" y="469.7" width="2.0" height="2.0" fill="#ff8645"/>
<rect x="820.0" y="472.0" width="2.0" height="2.0" fill="#ff8645"/>
<rect x="799.9" y="469.5" width="2.0" height="2.0" fill="#ff8645"/>
<rect x="846.0" y="470.5" width="2.0" height="2.0" fill="#ff8545"/>
<rect x="814.7" y="470.2" width="2.0" height="2.0" fill="#ff8545"/>
<rect x="836.1" y="470.0" width="2.0" height="2.0" fill="#ff8445"/>
<rect x="801.7" y="469.4" width="2.0" height="2.0" fill="#ff8445"/>
<rect x="832.4" y="472.5" width="2.0" height="2.0" fill="#ff8444"/>
<rect x="794.1" y="475.2" width="2.0" height="2.0" fill="#ff8444"/>
<rect x="797.4" y="472.3" width="2.0" height="2.0" fill="#ff8444"/>
<rect x="821.6" y="471.9" width="2.0" height="2.0" fill="#ff8444"/>
<rect x="809.2" y="470.9" width="2.0" height="2.0" fill="#ff8344"/>
<rect x="849.7" y="471.6" width="2.0" height="2.0" fill="#ff8344"/>
<rect x="822.3" y="471.0" width="2.0" height="2.0" fill="#ff8344"/>
<rect x="819.3" y="472.2" width="2.0" height="2.0" fill="#ff8344"/>
<rect x="835.2" y="470.6" width="2.0" height="2.0" fill="#ff8344"/>
<rect x="841.8" y="471.3" width="2.0" height="2.0" fill="#ff8344"/>
<rect x="801.0" y="471.9" width="2.0" height="2.0" fill="#ff8344"/>
<rect x="821.3" y="471.2" width="2.0" height="2.0" fill="#ff8344"/>
<rect x="837.5" y="470.8" width="2.0" height="2.0" fill="#ff8243"/>
<rect x="811.3" y="471.3" width="2.0" height="2.0" fill="#ff8143"/>
<rect x="805.5" y="470.3" width="2.0" height="2.0" fill="#ff8143"/>
<rect x="791.8" y="472.5" width="2.0" height="2.0" fill="#ff8143"/>
<rect x="793.8" y="468.3" width="2.0" height="2.0" fill="#ff8043"/>
<rect x="841.7" y="470.9" width="2.0" height="2.0" fill="#ff8042"/>
<rect x="834.1" y="471.8" width="2.0" height="2.0" fill="#ff8042"/>
<rect x="811.3" y="470.9" width="2.0" height="2.0" fill="#ff8042"/>
<rect x="833.2" y="472.2" width="2.0" height="2.0" fill="#ff8042"/>
<rect x="803.7" y="471.1" width="2.0" height="2.0" fill="#ff7f42"/>
<rect x="790.8" y="472.9" width="2.0" height="2.0" fill="#ff7f42"/>
<rect x="797.5" y="470.9" width="2.0" height="2.0" fill="#ff7f42"/>
<rect x="828.0" y="475.0" width="2.0" height="2.0" fill="#ff7f42"/>
<rect x="814.6" y="472.2" width="2.0" height="2.0" fill="#ff7f42"/>
<rect x="812.3" y="470.9" width="2.0" height="2.0" fill="#ff7f42"/>
<rect x="839.2" y="470.6" width="2.0" height="2.0" fill="#ff7f42"/>
<rect x="820.6" y="471.4" width="2.0" height="2.0" fill="#ff7f42"/>
<rect x="837.3" y="472.1" width="2.0" height="2.0" fill="#ff7e41"/>
<rect x="812.9" y="470.4" width="2.0" height="2.0" fill="#ff7e41"/>
<rect x="847.9" y="473.5" width="2.0" height="2.0" fill="#ff7e41"/>
<rect x="812.4" y="470.3" width="2.0" height="2.0" fill="#ff7e41"/>
<rect x="811.1" y="470.3" width="2.0" height="2.0" fill="#ff7e41"/>
<rect x="792.1" y="472.1" width="2.0" height="2.0" fill="#ff7e41"/>
<rect x="814.1" y="471.0" width="2.0" height="2.0" fill="#ff7e41"/>
<rect x="820.5" y="472.2" width="2.0" height="2.0" fill="#ff7e41"/>
<rect x="864.5" y="470.1" width="2.0" height="2.0" fill="#ff7e41"/>
<rect x="840.9" y="471.8" width="2.0" height="2.0" fill="#ff7d41"/>
<rect x="812.2" y="470.7" width="2.0" height="2.0" fill="#ff7d40"/>
<rect x="804.7" y="469.9" width="2.0" height="2.0" fill="#ff7d40"/>
<rect x="846.8" y="470.6" width="2.0" height="2.0" fill="#ff7d40"/>
<rect x="808.9" y="472.5" width="2.0" height="2.0" fill="#ff7c40"/>
<rect x="806.9" y="471.3" width="2.0" height="2.0" fill="#ff7c40"/>
<rect x="825.9" y="469.7" width="2.0" height="2.0" fill="#ff7c40"/>
<rect x="834.7" y="471.1" width="2.0" height="2.0" fill="#ff7c40"/>
<rect x="819.3" y="471.7" width="2.0" height="2.0" fill="#ff7c40"/>
<rect x="797.5" y="470.4" width="2.0" height="2.0" fill="#ff7c40"/>
<rect x="819.5" y="471.0" width="2.0" height="2.0" fill="#ff7c40"/>
<rect x="794.6" y="473.6" width="2.0" height="2.0" fill="#ff7b40"/>
<rect x="793.5" y="470.1" width="2.0" height="2.0" fill="#ff7b40"/>
<rect x="821.9" y="471.7" width="2.0" height="2.0" fill="#ff7b40"/>
<rect x="840.9" y="471.6" width="2.0" height="2.0" fill="#ff7b3f"/>
<rect x="828.9" y="468.4" width="2.0" height="2.0" fill="#ff6d38"/>
<rect x="812.1" y="470.4" width="2.0" height="2.0" fill="#ff6d38"/>
<rect x="820.8" y="471.7" width="2.0" height="2.0" fill="#ff6c37"/>
<rect x="823.2" y="468.3" width="2.0" height="2.0" fill="#ff6c37"/>
<rect x="843.4" y="469.9" width="2.0" height="2.0" fill="#ff6c37"/>
<rect x="826.1" y="470.0" width="2.0" height="2.0" fill="#ff6c37"/>
<rect x="825.7" y="470.7" width="2.0" height="2.0" fill="#ff6c37"/>
<rect x="813.8" y="472.0" width="2.0" height="2.0" fill="#ff6c37"/>
<rect x="831.9" y="471.4" width="2.0" height="2.0" fill="#ff6c37"/>
<rect x="823.6" y="471.3" width="2.0" height="2.0" fill="#ff6c37"/>
<rect x="819.0" y="472.2" width="2.0" height="2.0" fill="#ff6c37"/>
<rect x="822.9" y="469.7" width="2.0" height="2.0" fill="#ff6c37"/>
<rect x="821.3" y="471.5" width="2.0" height="2.0" fill="#ff6c37"/>
<rect x="819.3" y="470.8" width="2.0" height="2.0" fill="#ff6b37"/>
<rect x="843.1" y="471.0" width="2.0" height="2.0" fill="#ff6b37"/>
<rect x="842.6" y="473.5" width="2.0" height="2.0" fill="#ff6b37"/>
<rect x="817.7" y="469.5" width="2.0" height="2.0" fill="#ff6b37"/>
<rect x="831.4" y="468.5" width="2.0" height="2.0" fill="#ff6b37"/>
<rect x="816.3" y="468.9" width="2.0" height="2.0" fill="#ff6b37"/>
<rect x="807.9" y="469.3" width="2.0" height="2.0" fill="#ff6b37"/>
<rect x="829.7" y="472.3" width="2.0" height="2.0" fill="#ff6b37"/>
<rect x="824.3" y="470.2" width="2.0" height="2.0" fill="#ff6b37"/>
<rect x="812.2" y="470.0" width="2.0" height="2.0" fill="#ff6b37"/>
<rect x="828.1" y="468.5" width="2.0" height="2.0" fill="#ff6b37"/>
<rect x="831.6" y="472.8" width="2.0" height="2.0" fill="#ff6b37"/>
<rect x="839.2" y="469.8" width="2.0" height="2.0" fill="#ff6b37"/>
<rect x="841.7" y="469.4" width="2.0" height="2.0" fill="#ff6a37"/>
<rect x="825.1" y="471.4" width="2.0" height="2.0" fill="#ff6a36"/>
<rect x="825.7" y="469.8" width="2.0" height="2.0" fill="#ff6a36"/>
<rect x="828.7" y="470.0" width="2.0" height="2.0" fill="#ff6a36"/>
<rect x="841.7" y="469.4" width="2.0" height="2.0" fill="#ff6a36"/>
<rect x="822.7" y="471.5" width="2.0" height="2.0" fill="#ff6a36"/>
<rect x="836.7" y="470.9" width="2.0" height="2.0" fill="#ff6a36"/>
<rect x="838.9" y="470.2" width="2.0" height="2.0" fill="#ff6a36"/>
<rect x="833.3" y="471.0" width="2.0" height="2.0" fill="#ff6a36"/>
<rect x="820.1" y="470.1" width="2.0" height="2.0" fill="#ff6a36"/>
<rect x="829.4" y="470.8" width="2.0" height="2.0" fill="#ff6a36"/>
<rect x="824.4" y="470.5" width="2.0" height="2.0" fill="#ff6a36"/>
<rect x="825.2" y="470.6" width="2.0" height="2.0" fill="#ff6a36"/>
<rect x="820.0" y="470.6" width="2.0" height="2.0" fill="#ff6a36"/>
<rect x="837.7" y="469.7" width="2.0" height="2.0" fill="#ff6936"/>
<rect x="828.8" y="470.6" width="2.0" height="2.0" fill="#ff6936"/>
<rect x="836.3" y="471.4" width="2.0" height="2.0" fill="#ff6936"/>
<rect x="826.2" y="468.9" width="2.0" height="2.0" fill="#ff6936"/>
<rect x="841.8" y="469.2" width="2.0" height="2.0" fill="#ff6936"/>
<rect x="826.7" y="470.6" width="2.0" height="2.0" fill="#ff6936"/>
<rect x="835.8" y="471.0" width="2.0" height="2.0" fill="#ff6936"/>
<rect x="829.2" y="469.5" width="2.0" height="2.0" fill="#ff6936"/>
<rect x="828.0" y="468.9" width="2.0" height="2.0" fill="#ff6936"/>
<rect x="840.4" y="467.6" width="2.0" height="2.0" fill="#ff6936"/>
<rect x="831.4" y="470.5" width="2.0" height="2.0" fill="#ff6936"/>
<rect x="802.0" y="470.2" width="2.0" height="2.0" fill="#ff6936"/>
<rect x="818.7" y="470.7" width="2.0" height="2.0" fill="#ff6936"/>
<rect x="826.3" y="469.9" width="2.0" height="2.0" fill="#ff6936"/>
<rect x="826.6" y="469.8" width="2.0" height="2.0" fill="#ff6936"/>
<rect x="817.8" y="470.0" width="2.0" height="2.0" fill="#ff6936"/>
<rect x="836.0" y="470.4" width="2.0" height="2.0" fill="#ff6935"/>
<rect x="814.1" y="469.4" width="2.0" height="2.0" fill="#ff6835"/>
<rect x="839.8" y="470.1" width="2.0" height="2.0" fill="#ff6835"/>
<rect x="818.8" y="470.6" width="2.0" height="2.0" fill="#ff6835"/>
<rect x="834.1" y="469.7" width="2.0" height="2.0" fill="#ff6835"/>
<rect x="825.7" y="470.3" width="2.0" height="2.0" fill="#ff6835"/>
<rect x="848.2" y="471.2" width="2.0" height="2.0" fill="#ff6835"/>
<rect x="816.8" y="470.2" width="2.0" height="2.0" fill="#ff6835"/>
<rect x="834.7" y="470.3" width="2.0" height="2.0" fill="#ff6835"/>
<rect x="834.2" y="470.7" width="2.0" height="2.0" fill="#ff6835"/>
<rect x="824.0" y="470.1" width="2.0" height="2.0" fill="#ff6835"/>
<rect x="816.0" y="471.1" width="2.0" height="2.0" fill="#ff6835"/>
<rect x="800.4" y="469.3" width="2.0" height="2.0" fill="#ff6835"/>
<rect x="812.2" y="470.0" width="2.0" height="2.0" fill="#ff6735"/>
<rect x="826.1" y="471.4" width="2.0" height="2.0" fill="#ff6735"/>
<rect x="846.1" y="470.9" width="2.0" height="2.0" fill="#ff6735"/>
<rect x="822.4" y="470.6" width="2.0" height="2.0" fill="#ff6735"/>
<rect x="826.1" y="471.4" width="2.0" height="2.0" fill="#ff6735"/>
<rect x="836.0" y="471.2" width="2.0" height="2.0" fill="#ff6735"/>
<rect x="854.0" y="470.0" width="2.0" height="2.0" fill="#ff6735"/>
<rect x="829.1" y="470.3" width="2.0" height="2.0" fill="#ff6735"/>
<rect x="828.8" y="470.3" width="2.0" height="2.0" fill="#ff6735"/>
<rect x="834.0" y="468.8" width="2.0" height="2.0" fill="#ff6735"/>
<rect x="838.9" y="469.5" width="2.0" height="2.0" fill="#ff6735"/>
<rect x="835.5" y="469.7" width="2.0" height="2.0" fill="#ff6735"/>
<rect x="829.3" y="470.0" width="2.0" height="2.0" fill="#ff6735"/>
<rect x="823.8" y="470.8" width="2.0" height="2.0" fill="#ff6735"/>
<rect x="838.6" y="470.1" width="2.0" height="2.0" fill="#ff6735"/>
<rect x="837.5" y="471.3" width="2.0" height="2.0" fill="#ff6735"/>
<rect x="826.4" y="471.1" width="2.0" height="2.0" fill="#ff6735"/>
<rect x="837.4" y="470.4" width="2.0" height="2.0" fill="#ff6734"/>
<rect x="816.7" y="470.6" width="2.0" height="2.0" fill="#ff6734"/>
<rect x="842.0" y="470.4" width="2.0" height="2.0" fill="#ff6634"/>
<rect x="811.3" y="470.9" width="2.0" height="2.0" fill="#ff6634"/>
<rect x="808.5" y="467.1" width="2.0" height="2.0" fill="#ff6634"/>
<rect x="818.8" y="469.4" width="2.0" height="2.0" fill="#ff6634"/>
<rect x="820.4" y="470.7" width="2.0" height="2.0" fill="#ff6634"/>
<rect x="824.0" y="471.3" width="2.0" height="2.0" fill="#ff6634"/>
<rect x="838.2" y="471.5" width="2.0" height="2.0" fill="#ff6634"/>
<rect x="840.0" y="470.4" width="2.0" height="2.0" fill="#ff6634"/>
<rect x="825.1" y="470.2" width="2.0" height="2.0" fill="#ff6634"/>
<rect x="830.8" y="470.0" width="2.0" height="2.0" fill="#ff6634"/>
<rect x="834.9" y="470.0" width="2.0" height="2.0" fill="#ff6634"/>
<rect x="823.7" y="471.3" width="2.0" height="2.0" fill="#ff6634"/>
<rect x="842.5" y="470.9" width="2.0" height="2.0" fill="#ff6634"/>
<rect x="810.8" y="470.5" width="2.0" height="2.0" fill="#ff6634"/>
<rect x="809.2" y="471.8" width="2.0" height="2.0" fill="#ff6634"/>
<rect x="835.2" y="468.7" width="2.0" height="2.0" fill="#ff6534"/>
<rect x="824.9" y="467.1" width="2.0" height="2.0" fill="#ff6534"/>
<rect x="843.6" y="471.3" width="2.0" height="2.0" fill="#ff6534"/>
<rect x="838.5" y="470.7" width="2.0" height="2.0" fill="#ff6534"/>
<rect x="800.6" y="473.1" width="2.0" height="2.0" fill="#ff6534"/>
<rect x="826.7" y="472.1" width="2.0" height="2.0" fill="#ff6534"/>
<rect x="828.8" y="470.0" width="2.0" height="2.0" fill="#ff6534"/>
<rect x="822.2" y="469.2" width="2.0" height="2.0" fill="#ff6533"/>
<rect x="826.3" y="469.8" width="2.0" height="2.0" fill="#ff6533"/>
<rect x="841.3" y="468.7" width="2.0" height="2.0" fill="#ff6533"/>
<rect x="830.9" y="466.5" width="2.0" height="2.0" fill="#ff6533"/>
<rect x="836.7" y="471.4" width="2.0" height="2.0" fill="#ff6533"/>
<rect x="817.8" y="471.4" width="2.0" height="2.0" fill="#ff6433"/>
<rect x="825.0" y="469.3" width="2.0" height="2.0" fill="#ff6433"/>
<rect x="825.4" y="470.0" width="2.0" height="2.0" fill="#ff6433"/>
<rect x="836.5" y="469.0" width="2.0" height="2.0" fill="#ff6433"/>
<rect x="814.6" y="470.7" width="2.0" height="2.0" fill="#ff6433"/>
<rect x="823.2" y="469.8" width="2.0" height="2.0" fill="#ff6433"/>
<rect x="839.9" y="471.5" width="2.0" height="2.0" fill="#ff6433"/>
<rect x="805.4" y="469.6" width="2.0" height="2.0" fill="#ff6433"/>
<rect x="837.3" y="469.3" width="2.0" height="2.0" fill="#ff6433"/>
<rect x="847.3" y="471.3" width="2.0" height="2.0" fill="#ff6433"/>
<rect x="841.1" y="470.1" width="2.0" height="2.0" fill="#ff6433"/>
<rect x="823.7" y="469.1" width="2.0" height="2.0" fill="#ff6433"/>
<rect x="829.5" y="469.8" width="2.0" height="2.0" fill="#ff6433"/>
<rect x="817.7" y="471.0" width="2.0" height="2.0" fill="#ff6433"/>
<rect x="808.7" y="469.4" width="2.0" height="2.0" fill="#ff6433"/>
<rect x="820.1" y="472.6" width="2.0" height="2.0" fill="#ff6433"/>
<rect x="839.5" y="470.7" width="2.0" height="2.0" fill="#ff6433"/>
<rect x="796.9" y="472.3" width="2.0" height="2.0" fill="#ff6433"/>
<rect x="829.8" y="470.1" width="2.0" height="2.0" fill="#ff6433"/>
<rect x="852.0" y="469.7" width="2.0" height="2.0" fill="#ff6433"/>
<rect x="811.8" y="468.0" width="2.0" height="2.0" fill="#ff6333"/>
<rect x="812.2" y="470.3" width="2.0" height="2.0" fill="#ff6333"/>
<rect x="830.9" y="470.5" width="2.0" height="2.0" fill="#ff6333"/>
<rect x="820.2" y="471.0" width="2.0" height="2.0" fill="#ff6333"/>
<rect x="810.9" y="472.1" width="2.0" height="2.0" fill="#ff6333"/>
<rect x="820.1" y="470.0" width="2.0" height="2.0" fill="#ff6332"/>
<rect x="837.1" y="470.0" width="2.0" height="2.0" fill="#ff6332"/>
<rect x="829.2" y="472.1" width="2.0" height="2.0" fill="#ff6332"/>
<rect x="847.1" y="470.5" width="2.0" height="2.0" fill="#ff6332"/>
<rect x="826.1" y="471.0" width="2.0" height="2.0" fill="#ff6332"/>
<rect x="817.3" y="470.0" width="2.0" height="2.0" fill="#ff6332"/>
<rect x="827.5" y="471.9" width="2.0" height="2.0" fill="#ff6232"/>
<rect x="805.6" y="470.3" width="2.0" height="2.0" fill="#ff6232"/>
<rect x="857.7" y="471.7" width="2.0" height="2.0" fill="#ff6232"/>
<rect x="826.9" y="471.8" width="2.0" height="2.0" fill="#ff6232"/>
<rect x="828.0" y="468.9" width="2.0" height="2.0" fill="#ff6232"/>
<rect x="809.1" y="469.4" width="2.0" height="2.0" fill="#ff6232"/>
<rect x="814.8" y="470.5" width="2.0" height="2.0" fill="#ff6232"/>
<rect x="827.7" y="471.7" width="2.0" height="2.0" fill="#ff6232"/>
<rect x="851.9" y="468.6" width="2.0" height="2.0" fill="#ff6232"/>
<rect x="844.8" y="469.5" width="2.0" height="2.0" fill="#ff6232"/>
<rect x="820.9" y="471.0" width="2.0" height="2.0" fill="#ff6232"/>
<rect x="822.7" y="470.9" width="2.0" height="2.0" fill="#ff6232"/>
<rect x="837.1" y="470.8" width="2.0" height="2.0" fill="#ff6232"/>
<rect x="846.2" y="470.8" width="2.0" height="2.0" fill="#ff6232"/>
<rect x="824.1" y="471.8" width="2.0" height="2.0" fill="#ff6232"/>
<rect x="829.2" y="470.1" width="2.0" height="2.0" fill="#ff6232"/>
<rect x="826.6" y="470.6" width="2.0" height="2.0" fill="#ff6232"/>
<rect x="841.3" y="470.9" width="2.0" height="2.0" fill="#ff6232"/>
<rect x="816.5" y="466.6" width="2.0" height="2.0" fill="#ff6232"/>
<rect x="793.8" y="469.0" width="2.0" height="2.0" fill="#ff6232"/>
<rect x="831.9" y="469.5" width="2.0" height="2.0" fill="#ff6232"/>
<rect x="836.6" y="471.3" width="2.0" height="2.0" fill="#ff6132"/>
<rect x="813.4" y="472.2" width="2.0" height="2.0" fill="#ff6132"/>
<rect x="816.3" y="468.7" width="2.0" height="2.0" fill="#ff6132"/>
<rect x="816.4" y="470.8" width="2.0" height="2.0" fill="#ff6132"/>
<rect x="830.5" y="469.4" width="2.0" height="2.0" fill="#ff6132"/>
<rect x="809.8" y="470.1" width="2.0" height="2.0" fill="#ff6132"/>
<rect x="819.1" y="470.5" width="2.0" height="2.0" fill="#ff6131"/>
<rect x="826.6" y="468.9" width="2.0" height="2.0" fill="#ff6131"/>
<rect x="811.0" y="469.8" width="2.0" height="2.0" fill="#ff6131"/>
<rect x="843.2" y="468.4" width="2.0" height="2.0" fill="#ff6131"/>
<rect x="839.4" y="470.0" width="2.0" height="2.0" fill="#ff6131"/>
<rect x="815.1" y="470.0" width="2.0" height="2.0" fill="#ff6131"/>
<rect x="821.6" y="470.3" width="2.0" height="2.0" fill="#ff6131"/>
<rect x="810.9" y="471.9" width="2.0" height="2.0" fill="#ff6131"/>
<rect x="803.2" y="471.3" width="2.0" height="2.0" fill="#ff6131"/>
<rect x="811.2" y="469.5" width="2.0" height="2.0" fill="#ff6131"/>
<rect x="823.5" y="467.9" width="2.0" height="2.0" fill="#ff6131"/>
<rect x="839.2" y="470.0" width="2.0" height="2.0" fill="#ff6031"/>
<rect x="854.3" y="470.2" width="2.0" height="2.0" fill="#ff6031"/>
<rect x="824.9" y="469.1" width="2.0" height="2.0" fill="#ff6031"/>
<rect x="807.6" y="470.0" width="2.0" height="2.0" fill="#ff6031"/>
<rect x="844.1" y="471.3" width="2.0" height="2.0" fill="#ff6031"/>
<rect x="839.3" y="470.3" width="2.0" height="2.0" fill="#ff6031"/>
<rect x="825.1" y="471.2" width="2.0" height="2.0" fill="#ff6031"/>
<rect x="818.1" y="470.4" width="2.0" height="2.0" fill="#ff6031"/>
<rect x="800.8" y="469.0" width="2.0" height="2.0" fill="#ff6031"/>
<rect x="807.2" y="469.9" width="2.0" height="2.0" fill="#ff6031"/>
<rect x="828.2" y="472.0" width="2.0" height="2.0" fill="#ff6031"/>
<rect x="824.7" y="470.3" width="2.0" height="2.0" fill="#ff6031"/>
<rect x="829.3" y="471.1" width="2.0" height="2.0" fill="#ff6031"/>
<rect x="818.2" y="470.5" width="2.0" height="2.0" fill="#ff6031"/>
<rect x="833.3" y="470.5" width="2.0" height="2.0" fill="#ff6031"/>
<rect x="830.5" y="470.2" width="2.0" height="2.0" fill="#ff5f31"/>
<rect x="817.8" y="470.3" width="2.0" height="2.0" fill="#ff5f31"/>
<rect x="819.1" y="471.9" width="2.0" height="2.0" fill="#ff5f31"/>
<rect x="817.0" y="469.2" width="2.0" height="2.0" fill="#ff5f31"/>
<rect x="815.1" y="470.7" width="2.0" height="2.0" fill="#ff5f30"/>
<rect x="809.1" y="470.1" width="2.0" height="2.0" fill="#ff5f30"/>
<rect x="824.3" y="470.0" width="2.0" height="2.0" fill="#ff5f30"/>
<rect x="837.5" y="469.9" width="2.0" height="2.0" fill="#ff5f30"/>
<rect x="850.0" y="470.9" width="2.0" height="2.0" fill="#ff5f30"/>
<rect x="810.1" y="469.5" width="2.0" height="2.0" fill="#ff5f30"/>
<rect x="839.8" y="470.4" width="2.0" height="2.0" fill="#ff5f30"/>
<rect x="816.8" y="471.6" width="2.0" height="2.0" fill="#ff5f30"/>
<rect x="835.2" y="470.2" width="2.0" height="2.0" fill="#ff5f30"/>
<rect x="819.9" y="467.8" width="2.0" height="2.0" fill="#ff5f30"/>
<rect x="834.1" y="470.4" width="2.0" height="2.0" fill="#ff5f30"/>
<rect x="833.8" y="470.0" width="2.0" height="2.0" fill="#ff5f30"/>
<rect x="818.5" y="470.8" width="2.0" height="2.0" fill="#ff5f30"/>
<rect x="822.3" y="470.8" width="2.0" height="2.0" fill="#ff5f30"/>
<rect x="817.8" y="469.8" width="2.0" height="2.0" fill="#ff5f30"/>
<rect x="838.7" y="471.1" width="2.0" height="2.0" fill="#ff5f30"/>
<rect x="826.9" y="470.4" width="2.0" height="2.0" fill="#ff5f30"/>
<rect x="844.7" y="471.3" width="2.0" height="2.0" fill="#ff5f30"/>
<rect x="819.9" y="469.8" width="2.0" height="2.0" fill="#ff5f30"/>
<rect x="816.2" y="472.3" width="2.0" height="2.0" fill="#ff5f30"/>
<rect x="841.8" y="471.0" width="2.0" height="2.0" fill="#ff5f30"/>
<rect x="816.7" y="470.6" width="2.0" height="2.0" fill="#ff5e30"/>
<rect x="818.8" y="470.1" width="2.0" height="2.0" fill="#ff5e30"/>
<rect x="833.2" y="470.4" width="2.0" height="2.0" fill="#ff5e30"/>
<rect x="831.1" y="470.3" width="2.0" height="2.0" fill="#ff5e30"/>
<rect x="822.7" y="469.5" width="2.0" height="2.0" fill="#ff5e30"/>
<rect x="824.3" y="470.2" width="2.0" height="2.0" fill="#ff5e30"/>
<rect x="822.4" y="472.3" width="2.0" height="2.0" fill="#ff5e30"/>
<rect x="828.7" y="472.7" width="2.0" height="2.0" fill="#ff5e30"/>
<rect x="835.1" y="469.8" width="2.0" height="2.0" fill="#ff5e30"/>
<rect x="827.9" y="470.6" width="2.0" height="2.0" fill="#ff5e30"/>
<rect x="821.1" y="471.0" width="2.0" height="2.0" fill="#ff5e30"/>
<rect x="837.6" y="469.1" width="2.0" height="2.0" fill="#ff5e30"/>
<rect x="820.6" y="470.1" width="2.0" height="2.0" fill="#ff5d30"/>
<rect x="834.4" y="470.7" width="2.0" height="2.0" fill="#ff5d30"/>
<rect x="849.6" y="468.9" width="2.0" height="2.0" fill="#ff5d30"/>
<rect x="786.8" y="472.6" width="2.0" height="2.0" fill="#ff5d30"/>
<rect x="817.3" y="471.6" width="2.0" height="2.0" fill="#ff5d2f"/>
<rect x="833.0" y="471.5" width="2.0" height="2.0" fill="#ff5d2f"/>
<rect x="827.8" y="471.1" width="2.0" height="2.0" fill="#ff5d2f"/>
<rect x="826.1" y="470.0" width="2.0" height="2.0" fill="#ff5d2f"/>
<rect x="826.3" y="471.0" width="2.0" height="2.0" fill="#ff5d2f"/>
<rect x="826.2" y="470.2" width="2.0" height="2.0" fill="#ff5d2f"/>
<rect x="812.5" y="472.1" width="2.0" height="2.0" fill="#ff5d2f"/>
<rect x="808.2" y="470.6" width="2.0" height="2.0" fill="#ff5d2f"/>
<rect x="836.4" y="470.4" width="2.0" height="2.0" fill="#ff5d2f"/>
<rect x="833.0" y="470.5" width="2.0" height="2.0" fill="#ff5d2f"/>
<rect x="833.8" y="469.5" width="2.0" height="2.0" fill="#ff5d2f"/>
<rect x="819.0" y="471.0" width="2.0" height="2.0" fill="#ff5c2f"/>
<rect x="829.5" y="468.8" width="2.0" height="2.0" fill="#ff5c2f"/>
<rect x="835.9" y="471.1" width="2.0" height="2.0" fill="#ff5c2f"/>
<rect x="821.4" y="468.7" width="2.0" height="2.0" fill="#ff5c2f"/>
<rect x="819.7" y="468.4" width="2.0" height="2.0" fill="#ff5c2f"/>
<rect x="816.1" y="470.5" width="2.0" height="2.0" fill="#ff5c2f"/>
<rect x="813.0" y="468.7" width="2.0" height="2.0" fill="#ff5c2f"/>
<rect x="817.9" y="469.9" width="2.0" height="2.0" fill="#ff5c2f"/>
<rect x="839.0" y="470.9" width="2.0" height="2.0" fill="#ff5c2f"/>
<rect x="829.4" y="468.5" width="2.0" height="2.0" fill="#ff5c2f"/>
<rect x="834.9" y="469.4" width="2.0" height="2.0" fill="#ff5c2f"/>
<rect x="803.1" y="469.2" width="2.0" height="2.0" fill="#ff5c2f"/>
<rect x="825.6" y="468.4" width="2.0" height="2.0" fill="#ff5c2f"/>
<rect x="826.1" y="471.9" width="2.0" height="2.0" fill="#ff5c2f"/>
<rect x="831.7" y="471.4" width="2.0" height="2.0" fill="#ff5c2f"/>
<rect x="806.2" y="471.8" width="2.0" height="2.0" fill="#ff5c2f"/>
<rect x="834.5" y="469.3" width="2.0" height="2.0" fill="#ff5c2f"/>
<rect x="818.9" y="469.0" width="2.0" height="2.0" fill="#ff5c2f"/>
<rect x="821.7" y="469.5" width="2.0" height="2.0" fill="#ff5c2f"/>
<rect x="814.2" y="471.9" width="2.0" height="2.0" fill="#ff5c2f"/>
<rect x="833.1" y="469.8" width="2.0" height="2.0" fill="#ff5c2f"/>
<rect x="820.6" y="470.9" width="2.0" height="2.0" fill="#ff5b2f"/>
<rect x="811.0" y="470.3" width="2.0" height="2.0" fill="#ff5b2e"/>
<rect x="830.9" y="471.6" width="2.0" height="2.0" fill="#ff5b2e"/>
<rect x="811.5" y="470.3" width="2.0" height="2.0" fill="#ff5b2e"/>
<rect x="831.0" y="471.5" width="2.0" height="2.0" fill="#ff5b2e"/>
<rect x="829.5" y="471.6" width="2.0" height="2.0" fill="#ff5b2e"/>
<rect x="818.2" y="471.7" width="2.0" height="2.0" fill="#ff5b2e"/>
<rect x="813.6" y="471.4" width="2.0" height="2.0" fill="#ff5b2e"/>
<rect x="832.0" y="471.8" width="2.0" height="2.0" fill="#ff5b2e"/>
<rect x="817.3" y="471.0" width="2.0" height="2.0" fill="#ff5b2e"/>
<rect x="834.7" y="469.7" width="2.0" height="2.0" fill="#ff5b2e"/>
<rect x="829.2" y="471.1" width="2.0" height="2.0" fill="#ff5b2e"/>
<rect x="832.1" y="470.2" width="2.0" height="2.0" fill="#ff5b2e"/>
<rect x="834.3" y="471.7" width="2.0" height="2.0" fill="#ff5b2e"/>
<rect x="831.4" y="471.7" width="2.0" height="2.0" fill="#ff5b2e"/>
<rect x="812.3" y="472.3" width="2.0" height="2.0" fill="#ff5b2e"/>
<rect x="826.5" y="470.5" width="2.0" height="2.0" fill="#ff5b2e"/>
<rect x="819.8" y="470.2" width="2.0" height="2.0" fill="#ff5b2e"/>
<rect x="841.2" y="468.5" width="2.0" height="2.0" fill="#ff5a2e"/>
<rect x="814.3" y="469.1" width="2.0" height="2.0" fill="#ff5a2e"/>
<rect x="816.6" y="470.5" width="2.0" height="2.0" fill="#ff5a2e"/>
<rect x="812.8" y="471.3" width="2.0" height="2.0" fill="#ff5a2e"/>
<rect x="834.7" y="470.4" width="2.0" height="2.0" fill="#ff5a2e"/>
<rect x="812.6" y="470.7" width="2.0" height="2.0" fill="#ff5a2e"/>
<rect x="797.8" y="470.9" width="2.0" height="2.0" fill="#ff5a2e"/>
<rect x="821.8" y="468.3" width="2.0" height="2.0" fill="#ff5a2e"/>
<rect x="848.3" y="470.0" width="2.0" height="2.0" fill="#ff5a2e"/>
<rect x="817.8" y="470.5" width="2.0" height="2.0" fill="#ff5a2e"/>
<rect x="812.2" y="468.2" width="2.0" height="2.0" fill="#ff5a2e"/>
<rect x="812.7" y="470.6" width="2.0" height="2.0" fill="#ff5a2e"/>
<rect x="838.0" y="471.9" width="2.0" height="2.0" fill="#ff5a2e"/>
<rect x="835.7" y="470.6" width="2.0" height="2.0" fill="#ff5a2e"/>
<rect x="826.5" y="469.6" width="2.0" height="2.0" fill="#ff5a2e"/>
<rect x="820.9" y="470.5" width="2.0" height="2.0" fill="#ff5a2e"/>
<rect x="817.2" y="467.8" width="2.0" height="2.0" fill="#ff5a2e"/>
<rect x="827.6" y="471.8" width="2.0" height="2.0" fill="#ff5a2d"/>
<rect x="852.0" y="469.4" width="2.0" height="2.0" fill="#ff592d"/>
<rect x="829.7" y="469.4" width="2.0" height="2.0" fill="#ff592d"/>
<rect x="833.7" y="471.1" width="2.0" height="2.0" fill="#ff592d"/>
<rect x="835.9" y="468.4" width="2.0" height="2.0" fill="#ff592d"/>
<rect x="826.8" y="470.0" width="2.0" height="2.0" fill="#ff592d"/>
<rect x="825.6" y="469.3" width="2.0" height="2.0" fill="#ff592d"/>
<rect x="824.3" y="470.9" width="2.0" height="2.0" fill="#ff592d"/>
<rect x="812.8" y="471.2" width="2.0" height="2.0" fill="#ff592d"/>
<rect x="833.5" y="472.5" width="2.0" height="2.0" fill="#ff592d"/>
<rect x="813.6" y="470.6" width="2.0" height="2.0" fill="#ff592d"/>
<rect x="813.3" y="469.4" width="2.0" height="2.0" fill="#ff592d"/>
<rect x="840.4" y="469.1" width="2.0" height="2.0" fill="#ff592d"/>
<rect x="823.4" y="471.7" width="2.0" height="2.0" fill="#ff582d"/>
<rect x="816.3" y="469.8" width="2.0" height="2.0" fill="#ff582d"/>
<rect x="808.7" y="468.6" width="2.0" height="2.0" fill="#ff582d"/>
<rect x="835.6" y="469.2" width="2.0" height="2.0" fill="#ff582d"/>
<rect x="827.5" y="469.6" width="2.0" height="2.0" fill="#ff582d"/>
<rect x="829.0" y="469.9" width="2.0" height="2.0" fill="#ff582d"/>
<rect x="822.4" y="470.7" width="2.0" height="2.0" fill="#ff582d"/>
<rect x="834.1" y="471.5" width="2.0" height="2.0" fill="#ff582d"/>
<rect x="820.4" y="469.9" width="2.0" height="2.0" fill="#ff582d"/>
<rect x="852.8" y="471.4" width="2.0" height="2.0" fill="#ff582d"/>
<rect x="831.0" y="470.8" width="2.0" height="2.0" fill="#ff582d"/>
<rect x="835.8" y="471.1" width="2.0" height="2.0" fill="#ff582d"/>
<rect x="823.9" y="472.5" width="2.0" height="2.0" fill="#ff582d"/>
<rect x="834.8" y="472.2" width="2.0" height="2.0" fill="#ff582d"/>
<rect x="819.8" y="471.4" width="2.0" height="2.0" fill="#ff582d"/>
<rect x="825.3" y="471.5" width="2.0" height="2.0" fill="#ff582d"/>
<rect x="819.7" y="470.2" width="2.0" height="2.0" fill="#ff582c"/>
<rect x="818.0" y="471.3" width="2.0" height="2.0" fill="#ff582c"/>
<rect x="832.5" y="471.5" width="2.0" height="2.0" fill="#ff582c"/>
<rect x="831.0" y="469.7" width="2.0" height="2.0" fill="#ff582c"/>
<rect x="841.7" y="471.3" width="2.0" height="2.0" fill="#ff572c"/>
<rect x="807.2" y="471.0" width="2.0" height="2.0" fill="#ff572c"/>
<rect x="824.4" y="468.0" width="2.0" height="2.0" fill="#ff572c"/>
<rect x="833.5" y="469.8" width="2.0" height="2.0" fill="#ff572c"/>
<rect x="831.4" y="469.4" width="2.0" height="2.0" fill="#ff572c"/>
<rect x="825.2" y="472.3" width="2.0" height="2.0" fill="#ff572c"/>
<rect x="817.8" y="470.0" width="2.0" height="2.0" fill="#ff572c"/>
<rect x="806.8" y="469.0" width="2.0" height="2.0" fill="#ff572c"/>
<rect x="824.2" y="470.3" width="2.0" height="2.0" fill="#ff572c"/>
<rect x="817.2" y="468.9" width="2.0" height="2.0" fill="#ff572c"/>
<rect x="834.2" y="470.5" width="2.0" height="2.0" fill="#ff572c"/>
<rect x="847.6" y="470.5" width="2.0" height="2.0" fill="#ff572c"/>
<rect x="827.8" y="469.3" width="2.0" height="2.0" fill="#ff572c"/>
<rect x="847.1" y="469.5" width="2.0" height="2.0" fill="#ff572c"/>
<rect x="840.9" y="471.2" width="2.0" height="2.0" fill="#ff572c"/>
<rect x="831.8" y="469.3" width="2.0" height="2.0" fill="#ff572c"/>
<rect x="815.1" y="472.1" width="2.0" height="2.0" fill="#ff562c"/>
<rect x="819.7" y="469.3" width="2.0" height="2.0" fill="#ff562c"/>
<rect x="824.5" y="472.5" width="2.0" height="2.0" fill="#ff562c"/>
<rect x="836.1" y="470.2" width="2.0" height="2.0" fill="#ff562c"/>
<rect x="823.8" y="469.0" width="2.0" height="2.0" fill="#ff562c"/>
<rect x="824.3" y="470.0" width="2.0" height="2.0" fill="#ff562c"/>
<rect x="837.0" y="470.0" width="2.0" height="2.0" fill="#ff562c"/>
<rect x="815.7" y="470.7" width="2.0" height="2.0" fill="#ff562c"/>
<rect x="823.7" y="471.9" width="2.0" height="2.0" fill="#ff562c"/>
<rect x="834.5" y="470.4" width="2.0" height="2.0" fill="#ff562c"/>
<rect x="826.6" y="470.8" width="2.0" height="2.0" fill="#ff562c"/>
<rect x="827.2" y="472.6" width="2.0" height="2.0" fill="#ff562c"/>
<rect x="791.6" y="472.5" width="2.0" height="2.0" fill="#ff562b"/>
<rect x="844.8" y="471.1" width="2.0" height="2.0" fill="#ff562b"/>
<rect x="835.3" y="470.0" width="2.0" height="2.0" fill="#ff562b"/>
<rect x="827.0" y="470.8" width="2.0" height="2.0" fill="#ff562b"/>
<rect x="836.6" y="469.3" width="2.0" height="2.0" fill="#ff552b"/>
<rect x="824.6" y="471.1" width="2.0" height="2.0" fill="#ff552b"/>
<rect x="810.8" y="469.3" width="2.0" height="2.0" fill="#ff552b"/>
<rect x="850.5" y="470.3" width="2.0" height="2.0" fill="#ff552b"/>
<rect x="842.2" y="470.3" width="2.0" height="2.0" fill="#ff552b"/>
<rect x="845.1" y="471.6" width="2.0" height="2.0" fill="#ff552b"/>
<rect x="845.0" y="469.9" width="2.0" height="2.0" fill="#ff552b"/>
<rect x="823.0" y="469.8" width="2.0" height="2.0" fill="#ff552b"/>
<rect x="821.5" y="472.0" width="2.0" height="2.0" fill="#ff552b"/>
<rect x="843.8" y="470.3" width="2.0" height="2.0" fill="#ff552b"/>
<rect x="833.0" y="472.2" width="2.0" height="2.0" fill="#ff552b"/>
<rect x="826.1" y="470.1" width="2.0" height="2.0" fill="#ff552b"/>
<rect x="837.2" y="470.3" width="2.0" height="2.0" fill="#ff552b"/>
<rect x="814.6" y="470.8" width="2.0" height="2.0" fill="#ff552b"/>
<rect x="803.0" y="471.0" width="2.0" height="2.0" fill="#ff552b"/>
<rect x="842.9" y="471.6" width="2.0" height="2.0" fill="#ff552b"/>
<rect x="821.0" y="470.9" width="2.0" height="2.0" fill="#ff552b"/>
<rect x="846.1" y="469.4" width="2.0" height="2.0" fill="#ff552b"/>
<rect x="826.3" y="470.3" width="2.0" height="2.0" fill="#ff552b"/>
<rect x="829.4" y="469.4" width="2.0" height="2.0" fill="#ff552b"/>
<rect x="799.0" y="469.6" width="2.0" height="2.0" fill="#ff552b"/>
<rect x="819.2" y="470.5" width="2.0" height="2.0" fill="#ff542b"/>
<rect x="818.5" y="470.6" width="2.0" height="2.0" fill="#ff542b"/>
<rect x="837.2" y="470.1" width="2.0" height="2.0" fill="#ff542b"/>
<rect x="825.3" y="471.7" width="2.0" height="2.0" fill="#ff542b"/>
<rect x="820.6" y="470.6" width="2.0" height="2.0" fill="#ff542b"/>
<rect x="801.9" y="470.2" width="2.0" height="2.0" fill="#ff542b"/>
<rect x="827.5" y="470.0" width="2.0" height="2.0" fill="#ff542b"/>
<rect x="830.6" y="470.8" width="2.0" height="2.0" fill="#ff542b"/>
<rect x="837.7" y="469.6" width="2.0" height="2.0" fill="#ff542b"/>
<rect x="847.6" y="469.1" width="2.0" height="2.0" fill="#ff542b"/>
<rect x="845.1" y="470.1" width="2.0" height="2.0" fill="#ff542b"/>
<rect x="831.3" y="470.3" width="2.0" height="2.0" fill="#ff542b"/>
<rect x="848.2" y="472.9" width="2.0" height="2.0" fill="#ff542a"/>
<rect x="844.8" y="470.0" width="2.0" height="2.0" fill="#ff542a"/>
<rect x="844.3" y="471.3" width="2.0" height="2.0" fill="#ff542a"/>
<rect x="816.5" y="470.2" width="2.0" height="2.0" fill="#ff542a"/>
<rect x="833.7" y="469.8" width="2.0" height="2.0" fill="#ff532a"/>
<rect x="825.5" y="471.7" width="2.0" height="2.0" fill="#ff532a"/>
<rect x="814.6" y="469.6" width="2.0" height="2.0" fill="#ff532a"/>
<rect x="823.2" y="472.0" width="2.0" height="2.0" fill="#ff532a"/>
<rect x="811.1" y="471.3" width="2.0" height="2.0" fill="#ff532a"/>
<rect x="815.3" y="469.8" width="2.0" height="2.0" fill="#ff532a"/>
<rect x="825.5" y="471.6" width="2.0" height="2.0" fill="#ff532a"/>
<rect x="824.9" y="472.1" width="2.0" height="2.0" fill="#ff532a"/>
<rect x="852.0" y="471.2" width="2.0" height="2.0" fill="#ff532a"/>
<rect x="828.1" y="469.9" width="2.0" height="2.0" fill="#ff532a"/>
<rect x="841.2" y="469.9" width="2.0" height="2.0" fill="#ff532a"/>
<rect x="849.8" y="469.9" width="2.0" height="2.0" fill="#ff532a"/>
<rect x="811.5" y="470.5" width="2.0" height="2.0" fill="#ff532a"/>
<rect x="811.2" y="472.5" width="2.0" height="2.0" fill="#ff532a"/>
<rect x="812.7" y="470.0" width="2.0" height="2.0" fill="#ff532a"/>
<rect x="825.1" y="469.4" width="2.0" height="2.0" fill="#ff522a"/>
<rect x="826.7" y="470.6" width="2.0" height="2.0" fill="#ff522a"/>
<rect x="839.5" y="470.9" width="2.0" height="2.0" fill="#ff522a"/>
<rect x="857.3" y="469.1" width="2.0" height="2.0" fill="#ff522a"/>
<rect x="802.5" y="470.0" width="2.0" height="2.0" fill="#ff522a"/>
<rect x="817.7" y="470.1" width="2.0" height="2.0" fill="#ff522a"/>
<rect x="834.3" y="468.9" width="2.0" height="2.0" fill="#ff522a"/>
<rect x="828.4" y="471.3" width="2.0" height="2.0" fill="#ff5229"/>
<rect x="827.8" y="469.6" width="2.0" height="2.0" fill="#ff5229"/>
<rect x="841.9" y="471.9" width="2.0" height="2.0" fill="#ff5229"/>
<rect x="839.2" y="469.7" width="2.0" height="2.0" fill="#ff5229"/>
<rect x="829.4" y="469.9" width="2.0" height="2.0" fill="#ff5229"/>
<rect x="819.2" y="471.5" width="2.0" height="2.0" fill="#ff5229"/>
<rect x="815.1" y="470.9" width="2.0" height="2.0" fill="#ff5229"/>
<rect x="820.9" y="473.5" width="2.0" height="2.0" fill="#ff5229"/>
<rect x="826.1" y="471.2" width="2.0" height="2.0" fill="#ff5129"/>
<rect x="810.1" y="469.9" width="2.0" height="2.0" fill="#ff5129"/>
<rect x="804.2" y="472.3" width="2.0" height="2.0" fill="#ff5129"/>
<rect x="838.8" y="468.7" width="2.0" height="2.0" fill="#ff5129"/>
<rect x="834.5" y="471.5" width="2.0" height="2.0" fill="#ff5129"/>
<rect x="817.3" y="471.5" width="2.0" height="2.0" fill="#ff5129"/>
<rect x="834.7" y="470.1" width="2.0" height="2.0" fill="#ff5129"/>
<rect x="813.0" y="467.2" width="2.0" height="2.0" fill="#ff5129"/>
<rect x="834.2" y="470.2" width="2.0" height="2.0" fill="#ff5129"/>
<rect x="848.6" y="471.7" width="2.0" height="2.0" fill="#ff5129"/>
<rect x="831.2" y="471.3" width="2.0" height="2.0" fill="#ff5129"/>
<rect x="828.6" y="470.9" width="2.0" height="2.0" fill="#ff5129"/>
<rect x="804.1" y="473.5" width="2.0" height="2.0" fill="#ff5129"/>
<rect x="818.6" y="468.4" width="2.0" height="2.0" fill="#ff5129"/>
<rect x="827.3" y="470.9" width="2.0" height="2.0" fill="#ff5129"/>
<rect x="813.7" y="471.7" width="2.0" height="2.0" fill="#ff5129"/>
<rect x="825.1" y="469.9" width="2.0" height="2.0" fill="#ff5029"/>
<rect x="818.3" y="468.5" width="2.0" height="2.0" fill="#ff5029"/>
<rect x="819.2" y="470.4" width="2.0" height="2.0" fill="#ff5029"/>
<rect x="830.6" y="471.5" width="2.0" height="2.0" fill="#ff5029"/>
<rect x="834.2" y="469.8" width="2.0" height="2.0" fill="#ff5029"/>
<rect x="809.3" y="470.0" width="2.0" height="2.0" fill="#ff5029"/>
<rect x="817.4" y="470.1" width="2.0" height="2.0" fill="#ff5029"/>
<rect x="808.0" y="469.8" width="2.0" height="2.0" fill="#ff5028"/>
<rect x="833.7" y="472.2" width="2.0" height="2.0" fill="#ff5028"/>
<rect x="833.6" y="472.0" width="2.0" height="2.0" fill="#ff5028"/>
<rect x="839.9" y="469.3" width="2.0" height="2.0" fill="#ff5028"/>
<rect x="861.0" y="471.2" width="2.0" height="2.0" fill="#ff5028"/>
<rect x="819.6" y="470.5" width="2.0" height="2.0" fill="#ff5028"/>
<rect x="812.2" y="469.7" width="2.0" height="2.0" fill="#ff5028"/>
<rect x="828.4" y="469.7" width="2.0" height="2.0" fill="#ff4f28"/>
<rect x="846.5" y="470.7" width="2.0" height="2.0" fill="#ff4f28"/>
<rect x="808.4" y="470.3" width="2.0" height="2.0" fill="#ff4f28"/>
<rect x="827.7" y="471.5" width="2.0" height="2.0" fill="#ff4f28"/>
<rect x="799.4" y="471.4" width="2.0" height="2.0" fill="#ff4f28"/>
<rect x="848.3" y="469.8" width="2.0" height="2.0" fill="#ff4f28"/>
<rect x="812.4" y="469.8" width="2.0" height="2.0" fill="#ff4f28"/>
<rect x="838.8" y="471.5" width="2.0" height="2.0" fill="#ff4f28"/>
<rect x="814.0" y="469.9" width="2.0" height="2.0" fill="#ff4f28"/>
<rect x="788.7" y="469.8" width="2.0" height="2.0" fill="#ff4f28"/>
<rect x="810.0" y="471.7" width="2.0" height="2.0" fill="#ff4f28"/>
<rect x="842.1" y="471.1" width="2.0" height="2.0" fill="#ff4f28"/>
<rect x="816.2" y="472.7" width="2.0" height="2.0" fill="#ff4f28"/>
<rect x="817.1" y="470.3" width="2.0" height="2.0" fill="#ff4f28"/>
<rect x="843.4" y="471.6" width="2.0" height="2.0" fill="#ff4f28"/>
<rect x="827.4" y="469.0" width="2.0" height="2.0" fill="#ff4f28"/>
<rect x="812.8" y="470.8" width="2.0" height="2.0" fill="#ff4e28"/>
<rect x="839.1" y="470.7" width="2.0" height="2.0" fill="#ff4e28"/>
<rect x="832.1" y="470.6" width="2.0" height="2.0" fill="#ff4e28"/>
<rect x="821.6" y="468.9" width="2.0" height="2.0" fill="#ff4e28"/>
<rect x="843.9" y="473.2" width="2.0" height="2.0" fill="#ff4e28"/>
<rect x="833.5" y="470.9" width="2.0" height="2.0" fill="#ff4e28"/>
<rect x="827.5" y="471.6" width="2.0" height="2.0" fill="#ff4e27"/>
<rect x="813.1" y="472.3" width="2.0" height="2.0" fill="#ff4e27"/>
<rect x="805.2" y="471.2" width="2.0" height="2.0" fill="#ff4e27"/>
<rect x="824.9" y="468.9" width="2.0" height="2.0" fill="#ff4e27"/>
<rect x="801.7" y="469.0" width="2.0" height="2.0" fill="#ff4e27"/>
<rect x="824.9" y="472.5" width="2.0" height="2.0" fill="#ff4e27"/>
<rect x="808.9" y="471.4" width="2.0" height="2.0" fill="#ff4e27"/>
<rect x="801.8" y="471.0" width="2.0" height="2.0" fill="#ff4e27"/>
<rect x="834.1" y="471.1" width="2.0" height="2.0" fill="#ff4e27"/>
<rect x="815.8" y="470.3" width="2.0" height="2.0" fill="#ff4e27"/>
<rect x="820.0" y="468.4" width="2.0" height="2.0" fill="#ff4e27"/>
<rect x="793.2" y="470.6" width="2.0" height="2.0" fill="#ff4e27"/>
<rect x="811.3" y="468.5" width="2.0" height="2.0" fill="#ff4e27"/>
<rect x="825.4" y="469.6" width="2.0" height="2.0" fill="#ff4e27"/>
<rect x="835.3" y="472.4" width="2.0" height="2.0" fill="#ff4d27"/>
<rect x="850.3" y="469.1" width="2.0" height="2.0" fill="#ff4d27"/>
<rect x="834.6" y="470.4" width="2.0" height="2.0" fill="#ff4d27"/>
<rect x="820.7" y="469.1" width="2.0" height="2.0" fill="#ff4d27"/>
<rect x="824.0" y="470.6" width="2.0" height="2.0" fill="#ff4d27"/>
<rect x="814.9" y="473.3" width="2.0" height="2.0" fill="#ff4d27"/>
<rect x="813.8" y="469.2" width="2.0" height="2.0" fill="#ff4d27"/>
<rect x="837.4" y="470.9" width="2.0" height="2.0" fill="#ff4d27"/>
<rect x="825.2" y="471.9" width="2.0" height="2.0" fill="#ff4d27"/>
<rect x="815.3" y="470.8" width="2.0" height="2.0" fill="#ff4d27"/>
<rect x="838.7" y="471.2" width="2.0" height="2.0" fill="#ff4d27"/>
<rect x="840.4" y="469.3" width="2.0" height="2.0" fill="#ff4d27"/>
<rect x="842.3" y="471.5" width="2.0" height="2.0" fill="#ff4d27"/>
<rect x="810.1" y="469.8" width="2.0" height="2.0" fill="#ff4d27"/>
<rect x="821.9" y="472.2" width="2.0" height="2.0" fill="#ff4d27"/>
<rect x="808.4" y="467.9" width="2.0" height="2.0" fill="#ff4c27"/>
<rect x="825.2" y="468.9" width="2.0" height="2.0" fill="#ff4c27"/>
<rect x="811.8" y="471.3" width="2.0" height="2.0" fill="#ff4c27"/>
<rect x="820.7" y="469.9" width="2.0" height="2.0" fill="#ff4c27"/>
<rect x="829.6" y="470.6" width="2.0" height="2.0" fill="#ff4c27"/>
<rect x="810.9" y="469.3" width="2.0" height="2.0" fill="#ff4c26"/>
<rect x="813.8" y="470.1" width="2.0" height="2.0" fill="#ff4c26"/>
<rect x="815.9" y="472.2" width="2.0" height="2.0" fill="#ff4c26"/>
<rect x="824.7" y="469.8" width="2.0" height="2.0" fill="#ff4c26"/>
<rect x="835.4" y="470.6" width="2.0" height="2.0" fill="#ff4c26"/>
<rect x="830.8" y="470.3" width="2.0" height="2.0" fill="#ff4c26"/>
<rect x="836.1" y="468.4" width="2.0" height="2.0" fill="#ff4c26"/>
<rect x="833.9" y="470.8" width="2.0" height="2.0" fill="#ff4b26"/>
<rect x="849.6" y="470.1" width="2.0" height="2.0" fill="#ff4b26"/>
<rect x="817.2" y="470.7" width="2.0" height="2.0" fill="#ff4b26"/>
<rect x="848.0" y="470.4" width="2.0" height="2.0" fill="#ff4b26"/>
<rect x="840.1" y="471.2" width="2.0" height="2.0" fill="#ff4b26"/>
<rect x="831.0" y="471.5" width="2.0" height="2.0" fill="#ff4b26"/>
<rect x="826.8" y="470.2" width="2.0" height="2.0" fill="#ff4b26"/>
<rect x="828.6" y="471.0" width="2.0" height="2.0" fill="#ff4b26"/>
<rect x="842.6" y="468.5" width="2.0" height="2.0" fill="#ff4b26"/>
<rect x="839.5" y="468.8" width="2.0" height="2.0" fill="#ff4b26"/>
<rect x="845.6" y="470.4" width="2.0" height="2.0" fill="#ff4b26"/>
<rect x="848.9" y="469.1" width="2.0" height="2.0" fill="#ff4b26"/>
<rect x="831.3" y="471.3" width="2.0" height="2.0" fill="#ff4b26"/>
<rect x="834.3" y="472.9" width="2.0" height="2.0" fill="#ff4b26"/>
<rect x="808.6" y="471.6" width="2.0" height="2.0" fill="#ff4b26"/>
<rect x="811.5" y="470.4" width="2.0" height="2.0" fill="#ff4a26"/>
<rect x="850.0" y="469.8" width="2.0" height="2.0" fill="#ff4a26"/>
<rect x="838.3" y="469.8" width="2.0" height="2.0" fill="#ff4a26"/>
<rect x="826.3" y="470.9" width="2.0" height="2.0" fill="#ff4a25"/>
<rect x="803.7" y="470.9" width="2.0" height="2.0" fill="#ff4a25"/>
<rect x="806.8" y="470.9" width="2.0" height="2.0" fill="#ff4a25"/>
<rect x="824.3" y="470.8" width="2.0" height="2.0" fill="#ff4a25"/>
<rect x="827.9" y="471.8" width="2.0" height="2.0" fill="#ff4a25"/>
<rect x="817.7" y="471.1" width="2.0" height="2.0" fill="#ff4a25"/>
<rect x="844.2" y="469.3" width="2.0" height="2.0" fill="#ff4925"/>
<rect x="836.7" y="470.3" width="2.0" height="2.0" fill="#ff4925"/>
<rect x="821.7" y="471.1" width="2.0" height="2.0" fill="#ff4925"/>
<rect x="839.9" y="470.0" width="2.0" height="2.0" fill="#ff4925"/>
<rect x="813.3" y="469.6" width="2.0" height="2.0" fill="#ff4925"/>
<rect x="833.9" y="469.2" width="2.0" height="2.0" fill="#ff4925"/>
<rect x="808.9" y="470.2" width="2.0" height="2.0" fill="#ff4925"/>
<rect x="819.0" y="471.4" width="2.0" height="2.0" fill="#ff4925"/>
<rect x="829.6" y="472.1" width="2.0" height="2.0" fill="#ff4925"/>
<rect x="806.2" y="469.9" width="2.0" height="2.0" fill="#ff4925"/>
<rect x="821.6" y="469.2" width="2.0" height="2.0" fill="#ff4925"/>
<rect x="834.8" y="471.2" width="2.0" height="2.0" fill="#ff4925"/>
<rect x="823.9" y="472.3" width="2.0" height="2.0" fill="#ff4925"/>
<rect x="827.9" y="471.0" width="2.0" height="2.0" fill="#ff4825"/>
<rect x="829.6" y="469.0" width="2.0" height="2.0" fill="#ff4825"/>
<rect x="823.6" y="470.3" width="2.0" height="2.0" fill="#ff4824"/>
<rect x="834.3" y="470.4" width="2.0" height="2.0" fill="#ff4824"/>
<rect x="828.0" y="471.7" width="2.0" height="2.0" fill="#ff4824"/>
<rect x="821.6" y="469.8" width="2.0" height="2.0" fill="#ff4824"/>
<rect x="833.7" y="469.3" width="2.0" height="2.0" fill="#ff4824"/>
<rect x="821.7" y="469.2" width="2.0" height="2.0" fill="#ff4824"/>
<rect x="833.6" y="469.6" width="2.0" height="2.0" fill="#ff4824"/>
<rect x="811.3" y="469.4" width="2.0" height="2.0" fill="#ff4824"/>
<rect x="821.3" y="469.6" width="2.0" height="2.0" fill="#ff4824"/>
<rect x="839.6" y="469.1" width="2.0" height="2.0" fill="#ff4824"/>
<rect x="829.4" y="470.0" width="2.0" height="2.0" fill="#ff4824"/>
<rect x="841.3" y="470.7" width="2.0" height="2.0" fill="#ff4724"/>
<rect x="838.0" y="469.6" width="2.0" height="2.0" fill="#ff4724"/>
<rect x="835.4" y="471.3" width="2.0" height="2.0" fill="#ff4724"/>
<rect x="817.8" y="468.5" width="2.0" height="2.0" fill="#ff4724"/>
<rect x="842.1" y="467.4" width="2.0" height="2.0" fill="#ff4724"/>
<rect x="853.2" y="471.3" width="2.0" height="2.0" fill="#ff4724"/>
<rect x="827.8" y="470.1" width="2.0" height="2.0" fill="#ff4724"/>
<rect x="829.4" y="470.9" width="2.0" height="2.0" fill="#ff4724"/>
<rect x="838.1" y="470.2" width="2.0" height="2.0" fill="#ff4724"/>
<rect x="836.7" y="468.2" width="2.0" height="2.0" fill="#ff4724"/>
<rect x="794.4" y="471.6" width="2.0" height="2.0" fill="#ff4724"/>
<rect x="824.8" y="468.8" width="2.0" height="2.0" fill="#ff4724"/>
<rect x="840.5" y="468.9" width="2.0" height="2.0" fill="#ff4724"/>
<rect x="838.4" y="470.9" width="2.0" height="2.0" fill="#ff4724"/>
<rect x="830.2" y="471.5" width="2.0" height="2.0" fill="#ff4624"/>
<rect x="815.1" y="472.9" width="2.0" height="2.0" fill="#ff4624"/>
<rect x="820.6" y="469.7" width="2.0" height="2.0" fill="#ff4623"/>
<rect x="833.5" y="469.4" width="2.0" height="2.0" fill="#ff4623"/>
<rect x="844.0" y="469.0" width="2.0" height="2.0" fill="#ff4623"/>
<rect x="839.4" y="469.0" width="2.0" height="2.0" fill="#ff4623"/>
<rect x="817.8" y="470.3" width="2.0" height="2.0" fill="#ff4623"/>
<rect x="818.3" y="472.7" width="2.0" height="2.0" fill="#ff4623"/>
<rect x="815.5" y="469.1" width="2.0" height="2.0" fill="#ff4623"/>
<rect x="837.1" y="472.0" width="2.0" height="2.0" fill="#ff4623"/>
<rect x="819.9" y="468.9" width="2.0" height="2.0" fill="#ff4623"/>
<rect x="848.2" y="470.3" width="2.0" height="2.0" fill="#ff4523"/>
<rect x="835.9" y="470.2" width="2.0" height="2.0" fill="#ff4523"/>
<rect x="831.3" y="469.6" width="2.0" height="2.0" fill="#ff4523"/>
<rect x="829.4" y="471.0" width="2.0" height="2.0" fill="#ff4523"/>
<rect x="820.2" y="473.0" width="2.0" height="2.0" fill="#ff4523"/>
<rect x="832.9" y="472.1" width="2.0" height="2.0" fill="#ff4523"/>
<rect x="829.1" y="470.3" width="2.0" height="2.0" fill="#ff4523"/>
<rect x="844.3" y="469.6" width="2.0" height="2.0" fill="#ff4523"/>
<rect x="812.3" y="470.6" width="2.0" height="2.0" fill="#ff4523"/>
<rect x="844.5" y="469.5" width="2.0" height="2.0" fill="#ff4523"/>
<rect x="816.0" y="467.6" width="2.0" height="2.0" fill="#ff4523"/>
<rect x="821.3" y="471.3" width="2.0" height="2.0" fill="#ff4523"/>
<rect x="813.9" y="471.4" width="2.0" height="2.0" fill="#ff4523"/>
<rect x="842.0" y="469.6" width="2.0" height="2.0" fill="#ff4423"/>
<rect x="810.9" y="470.7" width="2.0" height="2.0" fill="#ff4423"/>
<rect x="831.0" y="469.6" width="2.0" height="2.0" fill="#ff4422"/>
<rect x="817.2" y="469.3" width="2.0" height="2.0" fill="#ff4422"/>
<rect x="832.6" y="471.3" width="2.0" height="2.0" fill="#ff4422"/>
<rect x="818.8" y="472.5" width="2.0" height="2.0" fill="#ff4422"/>
<rect x="822.9" y="473.5" width="2.0" height="2.0" fill="#ff4422"/>
<rect x="838.6" y="469.1" width="2.0" height="2.0" fill="#ff4422"/>
<rect x="834.0" y="471.3" width="2.0" height="2.0" fill="#ff4422"/>
<rect x="838.7" y="472.1" width="2.0" height="2.0" fill="#ff4422"/>
<rect x="822.8" y="469.0" width="2.0" height="2.0" fill="#ff4422"/>
<rect x="830.3" y="470.2" width="2.0" height="2.0" fill="#ff4422"/>
<rect x="817.1" y="470.9" width="2.0" height="2.0" fill="#ff4422"/>
<rect x="832.5" y="469.2" width="2.0" height="2.0" fill="#ff4422"/>
<rect x="825.7" y="471.8" width="2.0" height="2.0" fill="#ff4422"/>
<rect x="823.2" y="470.5" width="2.0" height="2.0" fill="#ff4422"/>
<rect x="840.3" y="470.3" width="2.0" height="2.0" fill="#ff4422"/>
<rect x="825.6" y="471.0" width="2.0" height="2.0" fill="#ff4422"/>
<rect x="832.4" y="471.8" width="2.0" height="2.0" fill="#ff4322"/>
<rect x="841.3" y="473.1" width="2.0" height="2.0" fill="#ff4322"/>
<rect x="815.6" y="469.8" width="2.0" height="2.0" fill="#ff4322"/>
<rect x="830.5" y="471.6" width="2.0" height="2.0" fill="#ff4322"/>
<rect x="825.3" y="470.6" width="2.0" height="2.0" fill="#ff4322"/>
<rect x="807.4" y="469.5" width="2.0" height="2.0" fill="#ff4322"/>
<rect x="817.9" y="470.5" width="2.0" height="2.0" fill="#ff4322"/>
<rect x="828.8" y="471.8" width="2.0" height="2.0" fill="#ff4322"/>
<rect x="814.9" y="471.0" width="2.0" height="2.0" fill="#ff4322"/>
<rect x="831.7" y="469.4" width="2.0" height="2.0" fill="#ff4322"/>
<rect x="825.8" y="469.3" width="2.0" height="2.0" fill="#ff4322"/>
<rect x="839.8" y="470.2" width="2.0" height="2.0" fill="#ff4322"/>
<rect x="834.3" y="471.9" width="2.0" height="2.0" fill="#ff4322"/>
<rect x="839.1" y="470.6" width="2.0" height="2.0" fill="#ff4322"/>
<rect x="821.7" y="471.2" width="2.0" height="2.0" fill="#ff4322"/>
<rect x="834.7" y="469.7" width="2.0" height="2.0" fill="#ff4322"/>
<rect x="834.0" y="470.4" width="2.0" height="2.0" fill="#ff4322"/>
<rect x="819.6" y="469.9" width="2.0" height="2.0" fill="#ff4222"/>
<rect x="828.4" y="470.0" width="2.0" height="2.0" fill="#ff4221"/>
<rect x="834.5" y="468.6" width="2.0" height="2.0" fill="#ff4221"/>
<rect x="825.6" y="471.0" width="2.0" height="2.0" fill="#ff4221"/>
<rect x="839.3" y="469.7" width="2.0" height="2.0" fill="#ff4221"/>
<rect x="818.1" y="468.8" width="2.0" height="2.0" fill="#ff4221"/>
<rect x="821.9" y="470.3" width="2.0" height="2.0" fill="#ff4221"/>
<rect x="817.7" y="469.9" width="2.0" height="2.0" fill="#ff4221"/>
<rect x="833.8" y="470.5" width="2.0" height="2.0" fill="#ff4221"/>
<rect x="836.4" y="469.8" width="2.0" height="2.0" fill="#ff4221"/>
<rect x="815.9" y="470.8" width="2.0" height="2.0" fill="#ff4221"/>
<rect x="829.2" y="472.0" width="2.0" height="2.0" fill="#ff4221"/>
<rect x="844.4" y="472.5" width="2.0" height="2.0" fill="#ff4221"/>
<rect x="828.9" y="469.4" width="2.0" height="2.0" fill="#ff4221"/>
<rect x="833.7" y="470.3" width="2.0" height="2.0" fill="#ff4221"/>
<rect x="826.7" y="471.4" width="2.0" height="2.0" fill="#ff4221"/>
<rect x="828.4" y="468.4" width="2.0" height="2.0" fill="#ff4221"/>
<rect x="844.0" y="469.9" width="2.0" height="2.0" fill="#ff4221"/>
<rect x="838.3" y="469.4" width="2.0" height="2.0" fill="#ff4221"/>
<rect x="833.2" y="470.4" width="2.0" height="2.0" fill="#ff4121"/>
<rect x="827.9" y="470.9" width="2.0" height="2.0" fill="#ff4121"/>
<rect x="829.0" y="472.0" width="2.0" height="2.0" fill="#ff4121"/>
<rect x="817.0" y="469.8" width="2.0" height="2.0" fill="#ff4121"/>
<rect x="806.7" y="469.2" width="2.0" height="2.0" fill="#ff4121"/>
<rect x="834.4" y="471.3" width="2.0" height="2.0" fill="#ff4121"/>
<rect x="832.8" y="469.5" width="2.0" height="2.0" fill="#ff4121"/>
<rect x="823.5" y="470.2" width="2.0" height="2.0" fill="#ff4121"/>
<rect x="844.0" y="471.8" width="2.0" height="2.0" fill="#ff4121"/>
<rect x="816.5" y="471.0" width="2.0" height="2.0" fill="#ff4121"/>
<rect x="833.9" y="472.0" width="2.0" height="2.0" fill="#ff4121"/>
<rect x="829.1" y="471.0" width="2.0" height="2.0" fill="#ff4021"/>
<rect x="823.7" y="470.7" width="2.0" height="2.0" fill="#ff4020"/>
<rect x="826.1" y="470.6" width="2.0" height="2.0" fill="#ff4020"/>
<rect x="813.0" y="470.2" width="2.0" height="2.0" fill="#ff4020"/>
<rect x="849.9" y="470.5" width="2.0" height="2.0" fill="#ff4020"/>
<rect x="821.7" y="470.0" width="2.0" height="2.0" fill="#ff4020"/>
<rect x="824.5" y="470.8" width="2.0" height="2.0" fill="#ff4020"/>
<rect x="813.2" y="468.5" width="2.0" height="2.0" fill="#ff4020"/>
<rect x="764.9" y="472.8" width="2.0" height="2.0" fill="#ff4020"/>
<rect x="826.7" y="471.4" width="2.0" height="2.0" fill="#ff4020"/>
<rect x="832.3" y="472.1" width="2.0" height="2.0" fill="#ff4020"/>
<rect x="834.7" y="469.7" width="2.0" height="2.0" fill="#ff4020"/>
<rect x="827.3" y="469.6" width="2.0" height="2.0" fill="#ff4020"/>
<rect x="819.3" y="470.6" width="2.0" height="2.0" fill="#ff4020"/>
<rect x="816.2" y="471.7" width="2.0" height="2.0" fill="#ff4020"/>
<rect x="816.7" y="470.3" width="2.0" height="2.0" fill="#ff4020"/>
<rect x="834.5" y="468.4" width="2.0" height="2.0" fill="#ff4020"/>
<rect x="840.7" y="468.8" width="2.0" height="2.0" fill="#ff4020"/>
<rect x="811.4" y="471.4" width="2.0" height="2.0" fill="#ff4020"/>
<rect x="807.9" y="470.6" width="2.0" height="2.0" fill="#ff4020"/>
<rect x="832.0" y="471.6" width="2.0" height="2.0" fill="#ff4020"/>
<rect x="827.2" y="469.9" width="2.0" height="2.0" fill="#ff4020"/>
<rect x="822.7" y="470.9" width="2.0" height="2.0" fill="#ff3f20"/>
<rect x="801.6" y="473.1" width="2.0" height="2.0" fill="#ff3f1f"/>
<rect x="787.3" y="472.2" width="2.0" height="2.0" fill="#ff3e1f"/>
<rect x="790.0" y="474.1" width="2.0" height="2.0" fill="#ff391d"/>
<rect x="810.3" y="470.9" width="2.0" height="2.0" fill="#ff371c"/>
<rect x="800.7" y="473.9" width="2.0" height="2.0" fill="#ff351b"/>
<rect x="787.4" y="473.2" width="2.0" height="2.0" fill="#ff341a"/>
<rect x="851.7" y="470.5" width="2.0" height="2.0" fill="#ff3319"/>
<rect x="854.8" y="470.9" width="2.0" height="2.0" fill="#ff2d16"/>
</g>
<g clip-path="url(#mapclip)">
<rect x="737.1" y="465.0" width="2.0" height="2.0" fill="#6031fe"/>
<rect x="751.1" y="465.0" width="2.0" height="2.0" fill="#6031fe"/>
<rect x="749.3" y="458.4" width="2.0" height="2.0" fill="#5f32fe"/>
<rect x="745.9" y="469.1" width="2.0" height="2.0" fill="#5f32fe"/>
<rect x="747.1" y="461.2" width="2.0" height="2.0" fill="#5e34fe"/>
<rect x="745.6" y="459.1" width="2.0" height="2.0" fill="#5e34fe"/>
<rect x="737.7" y="463.5" width="2.0" height="2.0" fill="#5d36fe"/>
<rect x="746.6" y="460.9" width="2.0" height="2.0" fill="#5c37fe"/>
<rect x="738.8" y="467.5" width="2.0" height="2.0" fill="#5c38fd"/>
<rect x="737.0" y="466.2" width="2.0" height="2.0" fill="#5c38fd"/>
<rect x="742.4" y="470.6" width="2.0" height="2.0" fill="#5b39fd"/>
<rect x="745.2" y="469.2" width="2.0" height="2.0" fill="#5a3afd"/>
<rect x="740.1" y="471.2" width="2.0" height="2.0" fill="#5a3afd"/>
<rect x="742.9" y="469.2" width="2.0" height="2.0" fill="#593cfd"/>
<rect x="742.6" y="456.9" width="2.0" height="2.0" fill="#583dfd"/>
<rect x="746.5" y="458.4" width="2.0" height="2.0" fill="#573efd"/>
<rect x="743.2" y="459.7" width="2.0" height="2.0" fill="#573efd"/>
<rect x="748.7" y="463.3" width="2.0" height="2.0" fill="#573ffd"/>
<rect x="749.9" y="462.1" width="2.0" height="2.0" fill="#5640fd"/>
<rect x="738.1" y="468.7" width="2.0" height="2.0" fill="#5640fd"/>
<rect x="747.5" y="458.3" width="2.0" height="2.0" fill="#5640fd"/>
<rect x="733.0" y="464.3" width="2.0" height="2.0" fill="#5542fd"/>
<rect x="735.7" y="463.6" width="2.0" height="2.0" fill="#5543fd"/>
<rect x="737.0" y="466.8" width="2.0" height="2.0" fill="#5543fd"/>
<rect x="736.3" y="464.8" width="2.0" height="2.0" fill="#5443fd"/>
<rect x="746.3" y="467.8" width="2.0" height="2.0" fill="#5345fd"/>
<rect x="743.4" y="455.8" width="2.0" height="2.0" fill="#5246fd"/>
<rect x="742.3" y="458.6" width="2.0" height="2.0" fill="#5246fd"/>
<rect x="742.5" y="458.1" width="2.0" height="2.0" fill="#5247fc"/>
<rect x="737.3" y="464.0" width="2.0" height="2.0" fill="#5049fc"/>
<rect x="742.9" y="456.7" width="2.0" height="2.0" fill="#4f4bfc"/>
<rect x="735.4" y="464.7" width="2.0" height="2.0" fill="#4f4cfc"/>
<rect x="739.6" y="457.9" width="2.0" height="2.0" fill="#4e4cfc"/>
<rect x="743.8" y="469.0" width="2.0" height="2.0" fill="#4e4cfc"/>
<rect x="739.3" y="458.6" width="2.0" height="2.0" fill="#4e4cfc"/>
<rect x="737.1" y="466.5" width="2.0" height="2.0" fill="#4e4dfc"/>
<rect x="739.7" y="460.6" width="2.0" height="2.0" fill="#4e4dfc"/>
<rect x="738.5" y="467.1" width="2.0" height="2.0" fill="#4d4efc"/>
<rect x="748.3" y="457.9" width="2.0" height="2.0" fill="#4d4efc"/>
<rect x="743.2" y="456.6" width="2.0" height="2.0" fill="#4c4ffc"/>
<rect x="737.5" y="458.7" width="2.0" height="2.0" fill="#4c4ffc"/>
<rect x="741.2" y="468.4" width="2.0" height="2.0" fill="#4c4ffc"/>
<rect x="736.6" y="460.9" width="2.0" height="2.0" fill="#4c50fc"/>
<rect x="734.7" y="462.1" width="2.0" height="2.0" fill="#4b51fc"/>
<rect x="737.2" y="460.6" width="2.0" height="2.0" fill="#4b51fc"/>
<rect x="747.4" y="458.4" width="2.0" height="2.0" fill="#4a53fc"/>
<rect x="742.7" y="469.4" width="2.0" height="2.0" fill="#4954fb"/>
<rect x="736.2" y="465.2" width="2.0" height="2.0" fill="#4954fb"/>
<rect x="749.6" y="465.9" width="2.0" height="2.0" fill="#4954fb"/>
<rect x="738.4" y="469.4" width="2.0" height="2.0" fill="#4856fb"/>
<rect x="744.7" y="468.2" width="2.0" height="2.0" fill="#4757fb"/>
<rect x="735.8" y="459.7" width="2.0" height="2.0" fill="#4658fb"/>
<rect x="743.4" y="458.2" width="2.0" height="2.0" fill="#455afb"/>
<rect x="744.7" y="469.3" width="2.0" height="2.0" fill="#455afb"/>
<rect x="736.9" y="467.6" width="2.0" height="2.0" fill="#455afb"/>
<rect x="746.2" y="458.1" width="2.0" height="2.0" fill="#445bfb"/>
<rect x="748.2" y="466.2" width="2.0" height="2.0" fill="#445bfb"/>
<rect x="739.5" y="466.8" width="2.0" height="2.0" fill="#445bfb"/>
<rect x="747.1" y="458.1" width="2.0" height="2.0" fill="#435dfb"/>
<rect x="744.6" y="469.6" width="2.0" height="2.0" fill="#435dfb"/>
<rect x="740.0" y="461.6" width="2.0" height="2.0" fill="#435dfb"/>
<rect x="736.9" y="467.0" width="2.0" height="2.0" fill="#425efa"/>
<rect x="738.5" y="466.9" width="2.0" height="2.0" fill="#425ffa"/>
<rect x="741.3" y="457.8" width="2.0" height="2.0" fill="#4160fa"/>
<rect x="745.9" y="470.5" width="2.0" height="2.0" fill="#3f63fa"/>
<rect x="735.3" y="461.4" width="2.0" height="2.0" fill="#3f63fa"/>
<rect x="747.1" y="458.4" width="2.0" height="2.0" fill="#3e64fa"/>
<rect x="740.3" y="470.0" width="2.0" height="2.0" fill="#3e64fa"/>
<rect x="746.9" y="458.4" width="2.0" height="2.0" fill="#3c67f9"/>
<rect x="743.4" y="469.6" width="2.0" height="2.0" fill="#3b68f9"/>
<rect x="739.6" y="469.6" width="2.0" height="2.0" fill="#3a6af9"/>
<rect x="736.7" y="466.0" width="2.0" height="2.0" fill="#3a6af9"/>
<rect x="737.0" y="468.3" width="2.0" height="2.0" fill="#3a6af9"/>
<rect x="737.4" y="463.8" width="2.0" height="2.0" fill="#3a6af9"/>
<rect x="743.8" y="457.7" width="2.0" height="2.0" fill="#3a6bf9"/>
<rect x="724.5" y="472.6" width="2.0" height="2.0" fill="#1acfe3"/>
<rect x="726.2" y="473.0" width="2.0" height="2.0" fill="#1bd0e3"/>
<rect x="726.5" y="473.6" width="2.0" height="2.0" fill="#1cd1e2"/>
<rect x="727.4" y="467.7" width="2.0" height="2.0" fill="#20d4e1"/>
<rect x="734.0" y="472.0" width="2.0" height="2.0" fill="#2adcdd"/>
<rect x="731.6" y="472.9" width="2.0" height="2.0" fill="#2bdddd"/>
<rect x="727.1" y="471.7" width="2.0" height="2.0" fill="#2ddedc"/>
<rect x="728.3" y="474.0" width="2.0" height="2.0" fill="#2edfdc"/>
<rect x="728.3" y="473.2" width="2.0" height="2.0" fill="#31e1da"/>
<rect x="729.3" y="470.8" width="2.0" height="2.0" fill="#36e5d8"/>
<rect x="729.8" y="470.0" width="2.0" height="2.0" fill="#39e7d7"/>
<rect x="729.6" y="471.5" width="2.0" height="2.0" fill="#3ce9d6"/>
<rect x="728.2" y="474.3" width="2.0" height="2.0" fill="#3dead5"/>
<rect x="721.0" y="471.6" width="2.0" height="2.0" fill="#42edd3"/>
<rect x="730.3" y="472.8" width="2.0" height="2.0" fill="#49f1d0"/>
<rect x="723.6" y="474.2" width="2.0" height="2.0" fill="#4af1cf"/>
<rect x="731.2" y="473.0" width="2.0" height="2.0" fill="#52f5cc"/>
<rect x="727.1" y="474.2" width="2.0" height="2.0" fill="#53f5cb"/>
<rect x="727.8" y="474.1" width="2.0" height="2.0" fill="#53f5cb"/>
<rect x="731.0" y="473.3" width="2.0" height="2.0" fill="#54f6cb"/>
<rect x="725.8" y="472.0" width="2.0" height="2.0" fill="#59f8c9"/>
<rect x="724.6" y="470.7" width="2.0" height="2.0" fill="#5cf9c7"/>
<rect x="722.5" y="469.1" width="2.0" height="2.0" fill="#60fac5"/>
<rect x="731.1" y="471.5" width="2.0" height="2.0" fill="#63fbc4"/>
<rect x="722.8" y="472.3" width="2.0" height="2.0" fill="#65fbc3"/>
<rect x="739.1" y="465.5" width="2.0" height="2.0" fill="#66fcc2"/>
<rect x="734.2" y="466.9" width="2.0" height="2.0" fill="#66fcc2"/>
<rect x="737.3" y="465.5" width="2.0" height="2.0" fill="#66fcc2"/>
<rect x="728.7" y="473.5" width="2.0" height="2.0" fill="#66fcc2"/>
<rect x="725.7" y="472.0" width="2.0" height="2.0" fill="#67fcc1"/>
<rect x="739.6" y="463.2" width="2.0" height="2.0" fill="#67fcc1"/>
<rect x="738.5" y="460.2" width="2.0" height="2.0" fill="#68fcc1"/>
<rect x="739.6" y="466.1" width="2.0" height="2.0" fill="#68fcc1"/>
<rect x="735.8" y="462.9" width="2.0" height="2.0" fill="#69fdc0"/>
<rect x="728.9" y="473.7" width="2.0" height="2.0" fill="#6afdc0"/>
<rect x="738.0" y="463.9" width="2.0" height="2.0" fill="#6afdc0"/>
<rect x="742.6" y="466.4" width="2.0" height="2.0" fill="#6afdc0"/>
<rect x="735.1" y="462.2" width="2.0" height="2.0" fill="#6bfdc0"/>
<rect x="740.0" y="460.9" width="2.0" height="2.0" fill="#6bfdbf"/>
<rect x="738.5" y="467.5" width="2.0" height="2.0" fill="#6bfdbf"/>
<rect x="742.4" y="463.2" width="2.0" height="2.0" fill="#6bfdbf"/>
<rect x="738.0" y="465.1" width="2.0" height="2.0" fill="#6cfdbf"/>
<rect x="735.3" y="463.6" width="2.0" height="2.0" fill="#6cfdbf"/>
<rect x="740.3" y="463.0" width="2.0" height="2.0" fill="#6cfdbf"/>
<rect x="734.2" y="465.3" width="2.0" height="2.0" fill="#6dfdbe"/>
<rect x="723.5" y="472.0" width="2.0" height="2.0" fill="#6dfdbe"/>
<rect x="741.5" y="460.5" width="2.0" height="2.0" fill="#70febd"/>
<rect x="725.4" y="469.8" width="2.0" height="2.0" fill="#71febc"/>
<rect x="741.3" y="465.1" width="2.0" height="2.0" fill="#71febc"/>
<rect x="725.7" y="471.4" width="2.0" height="2.0" fill="#72febc"/>
<rect x="723.8" y="474.8" width="2.0" height="2.0" fill="#72febb"/>
<rect x="740.4" y="462.5" width="2.0" height="2.0" fill="#73febb"/>
<rect x="742.4" y="468.6" width="2.0" height="2.0" fill="#73febb"/>
<rect x="732.1" y="470.0" width="2.0" height="2.0" fill="#74febb"/>
<rect x="735.9" y="459.7" width="2.0" height="2.0" fill="#74febb"/>
<rect x="739.0" y="464.4" width="2.0" height="2.0" fill="#74febb"/>
<rect x="739.7" y="467.7" width="2.0" height="2.0" fill="#74feba"/>
<rect x="741.5" y="465.0" width="2.0" height="2.0" fill="#75feba"/>
<rect x="744.3" y="464.1" width="2.0" height="2.0" fill="#75feba"/>
<rect x="726.5" y="471.2" width="2.0" height="2.0" fill="#75feba"/>
<rect x="740.1" y="463.4" width="2.0" height="2.0" fill="#75feba"/>
<rect x="741.0" y="464.9" width="2.0" height="2.0" fill="#75feba"/>
<rect x="745.3" y="463.2" width="2.0" height="2.0" fill="#76ffb9"/>
<rect x="738.5" y="466.6" width="2.0" height="2.0" fill="#76ffb9"/>
<rect x="742.9" y="465.2" width="2.0" height="2.0" fill="#76ffb9"/>
<rect x="741.1" y="464.9" width="2.0" height="2.0" fill="#77ffb9"/>
<rect x="734.9" y="466.2" width="2.0" height="2.0" fill="#77ffb9"/>
<rect x="738.4" y="464.2" width="2.0" height="2.0" fill="#78ffb9"/>
<rect x="741.2" y="468.3" width="2.0" height="2.0" fill="#78ffb9"/>
<rect x="731.1" y="470.7" width="2.0" height="2.0" fill="#7affb7"/>
<rect x="738.9" y="464.3" width="2.0" height="2.0" fill="#7bffb7"/>
<rect x="740.8" y="464.0" width="2.0" height="2.0" fill="#7bffb7"/>
<rect x="727.8" y="470.8" width="2.0" height="2.0" fill="#7bffb7"/>
<rect x="741.3" y="462.0" width="2.0" height="2.0" fill="#7cffb6"/>
<rect x="740.0" y="466.5" width="2.0" height="2.0" fill="#7dffb6"/>
<rect x="738.5" y="467.4" width="2.0" height="2.0" fill="#7effb5"/>
<rect x="740.6" y="463.0" width="2.0" height="2.0" fill="#7effb5"/>
<rect x="733.4" y="463.6" width="2.0" height="2.0" fill="#7fffb5"/>
<rect x="725.9" y="474.3" width="2.0" height="2.0" fill="#7fffb5"/>
<rect x="741.4" y="464.7" width="2.0" height="2.0" fill="#7fffb4"/>
<rect x="728.2" y="470.9" width="2.0" height="2.0" fill="#80ffb4"/>
<rect x="742.9" y="460.6" width="2.0" height="2.0" fill="#80ffb4"/>
<rect x="743.6" y="464.8" width="2.0" height="2.0" fill="#80ffb4"/>
<rect x="725.2" y="470.7" width="2.0" height="2.0" fill="#80ffb4"/>
<rect x="739.6" y="460.1" width="2.0" height="2.0" fill="#81ffb3"/>
<rect x="742.0" y="465.6" width="2.0" height="2.0" fill="#81ffb3"/>
<rect x="741.2" y="461.5" width="2.0" height="2.0" fill="#81ffb3"/>
<rect x="728.6" y="470.8" width="2.0" height="2.0" fill="#82ffb3"/>
<rect x="740.9" y="459.7" width="2.0" height="2.0" fill="#82ffb3"/>
<rect x="742.6" y="468.4" width="2.0" height="2.0" fill="#82ffb3"/>
<rect x="739.9" y="462.0" width="2.0" height="2.0" fill="#82ffb3"/>
<rect x="743.5" y="463.2" width="2.0" height="2.0" fill="#83ffb2"/>
<rect x="741.7" y="466.2" width="2.0" height="2.0" fill="#83ffb2"/>
<rect x="741.8" y="466.1" width="2.0" height="2.0" fill="#83ffb2"/>
<rect x="729.1" y="472.3" width="2.0" height="2.0" fill="#84ffb2"/>
<rect x="741.4" y="461.7" width="2.0" height="2.0" fill="#85ffb1"/>
<rect x="742.1" y="465.8" width="2.0" height="2.0" fill="#86ffb1"/>
<rect x="741.5" y="463.4" width="2.0" height="2.0" fill="#86ffb1"/>
<rect x="738.4" y="465.1" width="2.0" height="2.0" fill="#86ffb0"/>
<rect x="741.2" y="466.4" width="2.0" height="2.0" fill="#87ffb0"/>
<rect x="735.5" y="460.7" width="2.0" height="2.0" fill="#87ffb0"/>
<rect x="742.8" y="464.9" width="2.0" height="2.0" fill="#87ffb0"/>
<rect x="742.0" y="465.5" width="2.0" height="2.0" fill="#88ffb0"/>
<rect x="738.7" y="463.5" width="2.0" height="2.0" fill="#88ffb0"/>
<rect x="739.7" y="464.4" width="2.0" height="2.0" fill="#88ffaf"/>
<rect x="735.8" y="464.8" width="2.0" height="2.0" fill="#8affaf"/>
<rect x="727.6" y="471.4" width="2.0" height="2.0" fill="#8affaf"/>
<rect x="733.7" y="462.9" width="2.0" height="2.0" fill="#8afeaf"/>
<rect x="742.7" y="458.7" width="2.0" height="2.0" fill="#8afeae"/>
<rect x="749.7" y="464.3" width="2.0" height="2.0" fill="#8afeae"/>
<rect x="745.9" y="462.5" width="2.0" height="2.0" fill="#8bfeae"/>
<rect x="743.1" y="469.4" width="2.0" height="2.0" fill="#8cfead"/>
<rect x="739.9" y="469.2" width="2.0" height="2.0" fill="#8cfead"/>
<rect x="745.4" y="465.2" width="2.0" height="2.0" fill="#8dfead"/>
<rect x="739.1" y="463.8" width="2.0" height="2.0" fill="#8efeac"/>
<rect x="739.3" y="461.4" width="2.0" height="2.0" fill="#8efeac"/>
<rect x="739.7" y="461.0" width="2.0" height="2.0" fill="#8ffeac"/>
<rect x="741.7" y="465.7" width="2.0" height="2.0" fill="#90feab"/>
<rect x="740.1" y="463.7" width="2.0" height="2.0" fill="#90feab"/>
<rect x="738.9" y="465.6" width="2.0" height="2.0" fill="#91feab"/>
<rect x="742.6" y="464.7" width="2.0" height="2.0" fill="#91fdaa"/>
<rect x="737.4" y="465.5" width="2.0" height="2.0" fill="#91fdaa"/>
<rect x="739.4" y="465.2" width="2.0" height="2.0" fill="#92fdaa"/>
<rect x="727.7" y="470.0" width="2.0" height="2.0" fill="#92fdaa"/>
<rect x="739.7" y="466.1" width="2.0" height="2.0" fill="#92fdaa"/>
<rect x="740.5" y="463.8" width="2.0" height="2.0" fill="#92fdaa"/>
<rect x="729.9" y="470.2" width="2.0" height="2.0" fill="#92fda9"/>
<rect x="729.0" y="473.9" width="2.0" height="2.0" fill="#93fda9"/>
<rect x="741.7" y="464.6" width="2.0" height="2.0" fill="#93fda9"/>
<rect x="740.5" y="461.3" width="2.0" height="2.0" fill="#93fda9"/>
<rect x="738.9" y="466.7" width="2.0" height="2.0" fill="#93fda9"/>
<rect x="730.4" y="469.9" width="2.0" height="2.0" fill="#93fda9"/>
<rect x="740.6" y="465.2" width="2.0" height="2.0" fill="#94fda9"/>
<rect x="741.9" y="465.8" width="2.0" height="2.0" fill="#94fda8"/>
<rect x="744.9" y="459.3" width="2.0" height="2.0" fill="#94fda8"/>
<rect x="737.3" y="465.6" width="2.0" height="2.0" fill="#95fda8"/>
<rect x="733.8" y="465.7" width="2.0" height="2.0" fill="#95fda8"/>
<rect x="740.1" y="462.8" width="2.0" height="2.0" fill="#96fda8"/>
<rect x="737.3" y="461.9" width="2.0" height="2.0" fill="#96fda7"/>
<rect x="744.2" y="463.8" width="2.0" height="2.0" fill="#98fca6"/>
<rect x="740.9" y="462.9" width="2.0" height="2.0" fill="#99fca6"/>
<rect x="726.8" y="470.4" width="2.0" height="2.0" fill="#9dfba3"/>
<rect x="726.1" y="471.5" width="2.0" height="2.0" fill="#9efba3"/>
<rect x="729.2" y="473.9" width="2.0" height="2.0" fill="#a4f89f"/>
<rect x="727.1" y="469.8" width="2.0" height="2.0" fill="#a6f89e"/>
<rect x="731.2" y="472.3" width="2.0" height="2.0" fill="#abf69b"/>
<rect x="728.6" y="472.1" width="2.0" height="2.0" fill="#aff498"/>
<rect x="729.6" y="471.8" width="2.0" height="2.0" fill="#b1f397"/>
<rect x="727.7" y="473.2" width="2.0" height="2.0" fill="#b1f397"/>
<rect x="728.7" y="475.6" width="2.0" height="2.0" fill="#b9ef92"/>
<rect x="733.3" y="471.7" width="2.0" height="2.0" fill="#b9ef91"/>
<rect x="730.8" y="471.7" width="2.0" height="2.0" fill="#c0eb8d"/>
<rect x="725.0" y="472.2" width="2.0" height="2.0" fill="#c6e789"/>
<rect x="727.4" y="473.1" width="2.0" height="2.0" fill="#c7e789"/>
<rect x="731.6" y="473.5" width="2.0" height="2.0" fill="#c9e587"/>
<rect x="734.2" y="469.5" width="2.0" height="2.0" fill="#c9e587"/>
<rect x="725.3" y="473.3" width="2.0" height="2.0" fill="#cbe486"/>
<rect x="728.8" y="474.1" width="2.0" height="2.0" fill="#cce385"/>
<rect x="725.9" y="473.9" width="2.0" height="2.0" fill="#cde284"/>
<rect x="725.4" y="470.9" width="2.0" height="2.0" fill="#d0e083"/>
<rect x="727.3" y="469.3" width="2.0" height="2.0" fill="#d3de81"/>
<rect x="730.4" y="469.1" width="2.0" height="2.0" fill="#d4dd80"/>
<rect x="729.1" y="471.7" width="2.0" height="2.0" fill="#d4dd80"/>
<rect x="723.7" y="470.3" width="2.0" height="2.0" fill="#d7db7e"/>
<rect x="726.3" y="471.8" width="2.0" height="2.0" fill="#dfd579"/>
<rect x="725.8" y="470.9" width="2.0" height="2.0" fill="#e0d478"/>
<rect x="728.5" y="469.0" width="2.0" height="2.0" fill="#e1d377"/>
<rect x="728.0" y="472.4" width="2.0" height="2.0" fill="#e2d276"/>
<rect x="725.7" y="470.8" width="2.0" height="2.0" fill="#e5cf74"/>
<rect x="728.9" y="473.7" width="2.0" height="2.0" fill="#e7cd72"/>
<rect x="733.0" y="470.0" width="2.0" height="2.0" fill="#ebc970"/>
<rect x="727.8" y="471.1" width="2.0" height="2.0" fill="#ecc86f"/>
<rect x="731.3" y="471.6" width="2.0" height="2.0" fill="#ecc86f"/>
<rect x="730.8" y="472.7" width="2.0" height="2.0" fill="#eec76e"/>
<rect x="729.4" y="475.5" width="2.0" height="2.0" fill="#f0c46c"/>
<rect x="730.6" y="473.3" width="2.0" height="2.0" fill="#f0c46c"/>
<rect x="730.1" y="473.3" width="2.0" height="2.0" fill="#f1c36c"/>
<rect x="731.0" y="466.7" width="2.0" height="2.0" fill="#f7bd68"/>
<rect x="725.2" y="472.2" width="2.0" height="2.0" fill="#faba65"/>
<rect x="728.8" y="471.0" width="2.0" height="2.0" fill="#faba65"/>
<rect x="727.6" y="469.6" width="2.0" height="2.0" fill="#faba65"/>
<rect x="724.8" y="472.2" width="2.0" height="2.0" fill="#faba65"/>
<rect x="723.9" y="471.4" width="2.0" height="2.0" fill="#faba65"/>
<rect x="728.4" y="471.8" width="2.0" height="2.0" fill="#fab965"/>
<rect x="725.6" y="470.9" width="2.0" height="2.0" fill="#fab965"/>
<rect x="725.1" y="472.4" width="2.0" height="2.0" fill="#fab965"/>
<rect x="727.1" y="471.6" width="2.0" height="2.0" fill="#fbb965"/>
<rect x="723.7" y="471.7" width="2.0" height="2.0" fill="#fbb965"/>
<rect x="726.1" y="472.2" width="2.0" height="2.0" fill="#fbb965"/>
<rect x="726.5" y="469.9" width="2.0" height="2.0" fill="#fbb864"/>
<rect x="727.4" y="469.6" width="2.0" height="2.0" fill="#fbb864"/>
<rect x="726.7" y="469.7" width="2.0" height="2.0" fill="#fbb864"/>
<rect x="726.0" y="471.5" width="2.0" height="2.0" fill="#fbb864"/>
<rect x="726.7" y="472.6" width="2.0" height="2.0" fill="#fbb864"/>
<rect x="726.8" y="472.5" width="2.0" height="2.0" fill="#fcb864"/>
<rect x="729.0" y="470.5" width="2.0" height="2.0" fill="#fcb864"/>
<rect x="723.2" y="473.3" width="2.0" height="2.0" fill="#fcb764"/>
<rect x="728.0" y="474.2" width="2.0" height="2.0" fill="#fcb764"/>
<rect x="730.3" y="471.9" width="2.0" height="2.0" fill="#fcb763"/>
<rect x="726.2" y="469.7" width="2.0" height="2.0" fill="#fcb763"/>
<rect x="724.9" y="469.1" width="2.0" height="2.0" fill="#fdb763"/>
<rect x="722.9" y="471.2" width="2.0" height="2.0" fill="#fdb763"/>
<rect x="726.8" y="469.9" width="2.0" height="2.0" fill="#fdb763"/>
<rect x="726.9" y="468.8" width="2.0" height="2.0" fill="#fdb763"/>
<rect x="726.2" y="471.4" width="2.0" height="2.0" fill="#fdb763"/>
<rect x="723.9" y="470.3" width="2.0" height="2.0" fill="#fdb763"/>
<rect x="727.3" y="472.6" width="2.0" height="2.0" fill="#fdb763"/>
<rect x="727.9" y="470.4" width="2.0" height="2.0" fill="#fdb663"/>
<rect x="727.2" y="471.6" width="2.0" height="2.0" fill="#fdb663"/>
<rect x="724.0" y="468.1" width="2.0" height="2.0" fill="#fdb663"/>
<rect x="725.7" y="471.0" width="2.0" height="2.0" fill="#fdb663"/>
<rect x="726.3" y="472.1" width="2.0" height="2.0" fill="#fdb663"/>
<rect x="725.7" y="471.6" width="2.0" height="2.0" fill="#fdb663"/>
<rect x="725.6" y="471.8" width="2.0" height="2.0" fill="#fdb663"/>
<rect x="724.7" y="474.4" width="2.0" height="2.0" fill="#fdb663"/>
<rect x="725.5" y="473.6" width="2.0" height="2.0" fill="#fdb663"/>
<rect x="724.1" y="471.3" width="2.0" height="2.0" fill="#feb663"/>
<rect x="725.9" y="469.9" width="2.0" height="2.0" fill="#feb663"/>
<rect x="729.3" y="469.9" width="2.0" height="2.0" fill="#feb663"/>
<rect x="726.6" y="471.7" width="2.0" height="2.0" fill="#feb662"/>
<rect x="726.1" y="470.9" width="2.0" height="2.0" fill="#feb662"/>
<rect x="727.0" y="472.5" width="2.0" height="2.0" fill="#feb562"/>
<rect x="722.5" y="470.1" width="2.0" height="2.0" fill="#feb562"/>
<rect x="723.2" y="472.5" width="2.0" height="2.0" fill="#feb562"/>
<rect x="724.8" y="470.6" width="2.0" height="2.0" fill="#feb562"/>
<rect x="726.5" y="469.4" width="2.0" height="2.0" fill="#feb562"/>
<rect x="724.8" y="471.0" width="2.0" height="2.0" fill="#feb562"/>
<rect x="724.7" y="473.1" width="2.0" height="2.0" fill="#feb562"/>
<rect x="730.9" y="470.9" width="2.0" height="2.0" fill="#feb562"/>
<rect x="725.2" y="469.8" width="2.0" height="2.0" fill="#feb562"/>
<rect x="727.9" y="471.2" width="2.0" height="2.0" fill="#ffb562"/>
<rect x="724.4" y="472.3" width="2.0" height="2.0" fill="#ffb562"/>
<rect x="727.2" y="473.5" width="2.0" height="2.0" fill="#ffb562"/>
<rect x="727.2" y="472.0" width="2.0" height="2.0" fill="#ffb462"/>
<rect x="725.5" y="471.9" width="2.0" height="2.0" fill="#ffb462"/>
<rect x="725.3" y="470.5" width="2.0" height="2.0" fill="#ffb462"/>
<rect x="724.1" y="473.1" width="2.0" height="2.0" fill="#ffb461"/>
<rect x="726.0" y="473.7" width="2.0" height="2.0" fill="#ffb461"/>
<rect x="728.1" y="471.7" width="2.0" height="2.0" fill="#ffb461"/>
<rect x="727.1" y="472.6" width="2.0" height="2.0" fill="#ffb461"/>
<rect x="725.6" y="472.1" width="2.0" height="2.0" fill="#ffb461"/>
<rect x="725.8" y="470.3" width="2.0" height="2.0" fill="#ffb361"/>
<rect x="724.5" y="470.1" width="2.0" height="2.0" fill="#ffb361"/>
<rect x="728.6" y="470.7" width="2.0" height="2.0" fill="#ffb361"/>
<rect x="725.7" y="473.6" width="2.0" height="2.0" fill="#ffb361"/>
<rect x="722.7" y="472.3" width="2.0" height="2.0" fill="#ffb361"/>
<rect x="724.6" y="471.6" width="2.0" height="2.0" fill="#ffb361"/>
<rect x="725.3" y="471.2" width="2.0" height="2.0" fill="#ffb360"/>
<rect x="722.0" y="470.2" width="2.0" height="2.0" fill="#ffb260"/>
<rect x="725.8" y="470.1" width="2.0" height="2.0" fill="#ffb260"/>
<rect x="723.6" y="468.9" width="2.0" height="2.0" fill="#ffb260"/>
<rect x="724.1" y="472.2" width="2.0" height="2.0" fill="#ffb260"/>
<rect x="725.8" y="469.6" width="2.0" height="2.0" fill="#ffb260"/>
<rect x="726.8" y="468.6" width="2.0" height="2.0" fill="#ffb260"/>
<rect x="727.0" y="472.1" width="2.0" height="2.0" fill="#ffb160"/>
<rect x="722.8" y="473.0" width="2.0" height="2.0" fill="#ffb160"/>
<rect x="726.1" y="470.7" width="2.0" height="2.0" fill="#ffb160"/>
<rect x="729.3" y="470.6" width="2.0" height="2.0" fill="#ffb160"/>
<rect x="723.5" y="469.8" width="2.0" height="2.0" fill="#ffb15f"/>
<rect x="725.4" y="473.1" width="2.0" height="2.0" fill="#ffb15f"/>
<rect x="727.4" y="471.5" width="2.0" height="2.0" fill="#ffb15f"/>
<rect x="725.0" y="471.5" width="2.0" height="2.0" fill="#ffb15f"/>
<rect x="726.6" y="471.6" width="2.0" height="2.0" fill="#ffb15f"/>
<rect x="728.3" y="466.7" width="2.0" height="2.0" fill="#ffb15f"/>
<rect x="724.3" y="471.1" width="2.0" height="2.0" fill="#ffb15f"/>
<rect x="724.7" y="470.0" width="2.0" height="2.0" fill="#ffb05f"/>
<rect x="728.7" y="471.0" width="2.0" height="2.0" fill="#ffb05f"/>
<rect x="726.1" y="470.9" width="2.0" height="2.0" fill="#ffb05f"/>
<rect x="726.0" y="470.6" width="2.0" height="2.0" fill="#ffb05f"/>
<rect x="725.1" y="471.1" width="2.0" height="2.0" fill="#ffb05f"/>
<rect x="723.9" y="471.2" width="2.0" height="2.0" fill="#ffb05f"/>
<rect x="724.0" y="471.1" width="2.0" height="2.0" fill="#ffb05f"/>
<rect x="726.9" y="471.4" width="2.0" height="2.0" fill="#ffaf5e"/>
<rect x="724.3" y="474.8" width="2.0" height="2.0" fill="#ffaf5e"/>
<rect x="724.7" y="471.0" width="2.0" height="2.0" fill="#ffaf5e"/>
<rect x="726.3" y="469.4" width="2.0" height="2.0" fill="#ffaf5e"/>
<rect x="725.4" y="468.7" width="2.0" height="2.0" fill="#ffaf5e"/>
<rect x="722.9" y="471.3" width="2.0" height="2.0" fill="#ffaf5e"/>
<rect x="727.1" y="471.4" width="2.0" height="2.0" fill="#ffae5e"/>
<rect x="726.2" y="471.2" width="2.0" height="2.0" fill="#ffae5e"/>
<rect x="722.0" y="471.9" width="2.0" height="2.0" fill="#ffae5e"/>
<rect x="725.4" y="468.5" width="2.0" height="2.0" fill="#ffae5e"/>
<rect x="726.4" y="474.7" width="2.0" height="2.0" fill="#ffae5d"/>
<rect x="723.7" y="471.8" width="2.0" height="2.0" fill="#ffae5d"/>
<rect x="726.0" y="471.4" width="2.0" height="2.0" fill="#ffad5d"/>
<rect x="724.6" y="470.2" width="2.0" height="2.0" fill="#ffac5d"/>
<rect x="727.8" y="470.9" width="2.0" height="2.0" fill="#ffac5c"/>
<rect x="723.7" y="472.0" width="2.0" height="2.0" fill="#ffac5c"/>
<rect x="726.3" y="473.2" width="2.0" height="2.0" fill="#ffac5c"/>
<rect x="726.1" y="471.9" width="2.0" height="2.0" fill="#ffac5c"/>
<rect x="725.8" y="471.3" width="2.0" height="2.0" fill="#ffac5c"/>
<rect x="723.1" y="469.2" width="2.0" height="2.0" fill="#ffac5c"/>
<rect x="725.5" y="471.8" width="2.0" height="2.0" fill="#ffac5c"/>
<rect x="724.6" y="474.5" width="2.0" height="2.0" fill="#ffab5c"/>
<rect x="725.4" y="471.4" width="2.0" height="2.0" fill="#ffab5c"/>
<rect x="726.1" y="470.7" width="2.0" height="2.0" fill="#ffab5c"/>
<rect x="727.9" y="470.3" width="2.0" height="2.0" fill="#ffab5c"/>
<rect x="726.6" y="470.4" width="2.0" height="2.0" fill="#ffab5c"/>
<rect x="727.4" y="469.7" width="2.0" height="2.0" fill="#ffab5c"/>
<rect x="725.4" y="471.6" width="2.0" height="2.0" fill="#ffab5c"/>
<rect x="726.3" y="470.3" width="2.0" height="2.0" fill="#ffab5c"/>
<rect x="729.1" y="473.4" width="2.0" height="2.0" fill="#ffab5c"/>
<rect x="725.3" y="469.9" width="2.0" height="2.0" fill="#ffaa5b"/>
<rect x="725.7" y="471.0" width="2.0" height="2.0" fill="#ffaa5b"/>
<rect x="727.4" y="471.2" width="2.0" height="2.0" fill="#ffaa5b"/>
<rect x="725.6" y="473.0" width="2.0" height="2.0" fill="#ffaa5b"/>
<rect x="725.3" y="474.1" width="2.0" height="2.0" fill="#ffaa5b"/>
<rect x="725.1" y="473.4" width="2.0" height="2.0" fill="#ffaa5b"/>
<rect x="726.4" y="472.2" width="2.0" height="2.0" fill="#ffaa5b"/>
<rect x="726.1" y="471.4" width="2.0" height="2.0" fill="#ffa95b"/>
<rect x="726.9" y="470.4" width="2.0" height="2.0" fill="#ffa95b"/>
<rect x="724.3" y="471.7" width="2.0" height="2.0" fill="#ffa95b"/>
<rect x="728.2" y="471.4" width="2.0" height="2.0" fill="#ffa95a"/>
<rect x="722.5" y="472.8" width="2.0" height="2.0" fill="#ffa95a"/>
<rect x="725.4" y="473.0" width="2.0" height="2.0" fill="#ffa95a"/>
<rect x="725.6" y="471.9" width="2.0" height="2.0" fill="#ffa95a"/>
<rect x="724.7" y="470.4" width="2.0" height="2.0" fill="#ffa85a"/>
<rect x="722.4" y="470.7" width="2.0" height="2.0" fill="#ffa85a"/>
<rect x="725.0" y="472.2" width="2.0" height="2.0" fill="#ffa85a"/>
<rect x="725.1" y="471.6" width="2.0" height="2.0" fill="#ffa85a"/>
<rect x="727.2" y="472.4" width="2.0" height="2.0" fill="#ffa85a"/>
<rect x="729.8" y="471.8" width="2.0" height="2.0" fill="#ffa85a"/>
<rect x="721.8" y="471.9" width="2.0" height="2.0" fill="#ffa85a"/>
<rect x="724.8" y="471.1" width="2.0" height="2.0" fill="#ffa859"/>
<rect x="725.1" y="470.2" width="2.0" height="2.0" fill="#ffa859"/>
<rect x="725.0" y="470.6" width="2.0" height="2.0" fill="#ffa759"/>
<rect x="726.4" y="471.1" width="2.0" height="2.0" fill="#ffa759"/>
<rect x="725.1" y="469.9" width="2.0" height="2.0" fill="#ffa759"/>
<rect x="727.0" y="472.7" width="2.0" height="2.0" fill="#ffa759"/>
<rect x="727.7" y="471.3" width="2.0" height="2.0" fill="#ffa659"/>
<rect x="725.9" y="471.7" width="2.0" height="2.0" fill="#ffa659"/>
<rect x="726.5" y="470.3" width="2.0" height="2.0" fill="#ffa658"/>
<rect x="725.9" y="472.9" width="2.0" height="2.0" fill="#ffa658"/>
<rect x="723.9" y="473.4" width="2.0" height="2.0" fill="#ffa558"/>
<rect x="724.7" y="471.4" width="2.0" height="2.0" fill="#ffa558"/>
<rect x="725.4" y="469.8" width="2.0" height="2.0" fill="#ffa558"/>
<rect x="723.0" y="471.6" width="2.0" height="2.0" fill="#ffa558"/>
<rect x="727.6" y="469.3" width="2.0" height="2.0" fill="#ffa558"/>
<rect x="728.6" y="469.9" width="2.0" height="2.0" fill="#ffa558"/>
<rect x="725.9" y="470.6" width="2.0" height="2.0" fill="#ffa558"/>
<rect x="726.2" y="468.7" width="2.0" height="2.0" fill="#ffa558"/>
<rect x="723.5" y="473.5" width="2.0" height="2.0" fill="#ffa558"/>
<rect x="727.1" y="470.8" width="2.0" height="2.0" fill="#ffa558"/>
<rect x="727.5" y="472.5" width="2.0" height="2.0" fill="#ffa457"/>
<rect x="727.4" y="471.1" width="2.0" height="2.0" fill="#ffa457"/>
<rect x="725.1" y="470.2" width="2.0" height="2.0" fill="#ffa457"/>
<rect x="726.4" y="471.7" width="2.0" height="2.0" fill="#ffa457"/>
<rect x="724.8" y="472.1" width="2.0" height="2.0" fill="#ffa357"/>
<rect x="725.0" y="470.8" width="2.0" height="2.0" fill="#ffa357"/>
<rect x="726.8" y="471.1" width="2.0" height="2.0" fill="#ffa357"/>
<rect x="725.6" y="471.7" width="2.0" height="2.0" fill="#ffa357"/>
<rect x="725.5" y="471.2" width="2.0" height="2.0" fill="#ffa357"/>
<rect x="724.9" y="469.9" width="2.0" height="2.0" fill="#ffa356"/>
<rect x="726.5" y="473.3" width="2.0" height="2.0" fill="#ffa356"/>
<rect x="724.5" y="469.7" width="2.0" height="2.0" fill="#ffa256"/>
<rect x="726.4" y="472.1" width="2.0" height="2.0" fill="#ffa256"/>
<rect x="724.6" y="469.9" width="2.0" height="2.0" fill="#ffa256"/>
<rect x="724.9" y="472.1" width="2.0" height="2.0" fill="#ffa256"/>
<rect x="725.9" y="471.6" width="2.0" height="2.0" fill="#ffa256"/>
<rect x="724.5" y="470.3" width="2.0" height="2.0" fill="#ffa256"/>
<rect x="723.7" y="470.1" width="2.0" height="2.0" fill="#ffa256"/>
<rect x="724.6" y="468.3" width="2.0" height="2.0" fill="#ffa256"/>
<rect x="726.2" y="468.9" width="2.0" height="2.0" fill="#ffa156"/>
<rect x="727.8" y="473.2" width="2.0" height="2.0" fill="#ffa155"/>
<rect x="723.6" y="472.8" width="2.0" height="2.0" fill="#ffa155"/>
<rect x="725.3" y="471.1" width="2.0" height="2.0" fill="#ffa155"/>
<rect x="727.4" y="469.6" width="2.0" height="2.0" fill="#ffa155"/>
<rect x="725.1" y="471.3" width="2.0" height="2.0" fill="#ffa155"/>
<rect x="728.6" y="468.5" width="2.0" height="2.0" fill="#ffa155"/>
<rect x="725.1" y="470.4" width="2.0" height="2.0" fill="#ffa155"/>
<rect x="727.3" y="468.1" width="2.0" height="2.0" fill="#ffa055"/>
<rect x="724.1" y="469.8" width="2.0" height="2.0" fill="#ffa055"/>
<rect x="722.7" y="469.3" width="2.0" height="2.0" fill="#ffa055"/>
<rect x="724.5" y="470.3" width="2.0" height="2.0" fill="#ffa055"/>
<rect x="724.1" y="471.6" width="2.0" height="2.0" fill="#ffa055"/>
<rect x="723.9" y="472.1" width="2.0" height="2.0" fill="#ffa055"/>
<rect x="725.5" y="471.2" width="2.0" height="2.0" fill="#ffa055"/>
<rect x="728.2" y="471.6" width="2.0" height="2.0" fill="#ffa055"/>
<rect x="728.5" y="472.5" width="2.0" height="2.0" fill="#ffa055"/>
<rect x="725.5" y="470.5" width="2.0" height="2.0" fill="#ffa055"/>
<rect x="725.3" y="473.0" width="2.0" height="2.0" fill="#ff9f54"/>
<rect x="722.7" y="470.8" width="2.0" height="2.0" fill="#ff9f54"/>
<rect x="724.4" y="469.7" width="2.0" height="2.0" fill="#ff9f54"/>
<rect x="723.0" y="471.6" width="2.0" height="2.0" fill="#ff9f54"/>
<rect x="720.9" y="472.3" width="2.0" height="2.0" fill="#ff9f54"/>
<rect x="725.7" y="473.3" width="2.0" height="2.0" fill="#ff9f54"/>
<rect x="725.4" y="470.3" width="2.0" height="2.0" fill="#ff9f54"/>
<rect x="727.4" y="470.2" width="2.0" height="2.0" fill="#ff9e54"/>
<rect x="725.8" y="468.9" width="2.0" height="2.0" fill="#ff9e54"/>
<rect x="725.5" y="473.0" width="2.0" height="2.0" fill="#ff9e54"/>
<rect x="724.3" y="471.5" width="2.0" height="2.0" fill="#ff9e54"/>
<rect x="723.1" y="470.4" width="2.0" height="2.0" fill="#ff9e54"/>
<rect x="725.3" y="471.2" width="2.0" height="2.0" fill="#ff9e54"/>
<rect x="728.0" y="471.9" width="2.0" height="2.0" fill="#ff9e54"/>
<rect x="726.7" y="472.4" width="2.0" height="2.0" fill="#ff9e54"/>
<rect x="725.2" y="473.6" width="2.0" height="2.0" fill="#ff9e53"/>
<rect x="724.5" y="470.3" width="2.0" height="2.0" fill="#ff9e53"/>
<rect x="725.3" y="468.5" width="2.0" height="2.0" fill="#ff9d53"/>
<rect x="726.9" y="470.9" width="2.0" height="2.0" fill="#ff9d53"/>
<rect x="729.6" y="468.5" width="2.0" height="2.0" fill="#ff9d53"/>
<rect x="725.8" y="469.9" width="2.0" height="2.0" fill="#ff9d53"/>
<rect x="726.6" y="470.6" width="2.0" height="2.0" fill="#ff9d53"/>
<rect x="724.9" y="469.2" width="2.0" height="2.0" fill="#ff9d53"/>
<rect x="725.4" y="470.3" width="2.0" height="2.0" fill="#ff9c52"/>
<rect x="726.3" y="469.9" width="2.0" height="2.0" fill="#ff9c52"/>
<rect x="728.5" y="469.9" width="2.0" height="2.0" fill="#ff9c52"/>
<rect x="722.6" y="471.0" width="2.0" height="2.0" fill="#ff9c52"/>
<rect x="726.5" y="469.4" width="2.0" height="2.0" fill="#ff9c52"/>
<rect x="725.5" y="472.9" width="2.0" height="2.0" fill="#ff9c52"/>
<rect x="723.9" y="472.3" width="2.0" height="2.0" fill="#ff9c52"/>
<rect x="725.3" y="475.1" width="2.0" height="2.0" fill="#ff9c52"/>
<rect x="725.2" y="469.1" width="2.0" height="2.0" fill="#ff9b52"/>
<rect x="726.5" y="471.2" width="2.0" height="2.0" fill="#ff9b52"/>
<rect x="726.9" y="473.0" width="2.0" height="2.0" fill="#ff9b52"/>
<rect x="725.6" y="472.9" width="2.0" height="2.0" fill="#ff9b52"/>
<rect x="725.7" y="469.8" width="2.0" height="2.0" fill="#ff9b52"/>
<rect x="727.3" y="472.6" width="2.0" height="2.0" fill="#ff9a51"/>
<rect x="724.1" y="470.4" width="2.0" height="2.0" fill="#ff9a51"/>
<rect x="725.2" y="471.8" width="2.0" height="2.0" fill="#ff9a51"/>
<rect x="724.8" y="470.9" width="2.0" height="2.0" fill="#ff9a51"/>
<rect x="726.3" y="469.7" width="2.0" height="2.0" fill="#ff9951"/>
<rect x="723.6" y="471.0" width="2.0" height="2.0" fill="#ff9951"/>
<rect x="726.1" y="470.9" width="2.0" height="2.0" fill="#ff9951"/>
<rect x="725.7" y="473.6" width="2.0" height="2.0" fill="#ff9951"/>
<rect x="722.2" y="469.9" width="2.0" height="2.0" fill="#ff9951"/>
<rect x="727.1" y="472.5" width="2.0" height="2.0" fill="#ff9951"/>
<rect x="724.9" y="470.9" width="2.0" height="2.0" fill="#ff9951"/>
<rect x="723.4" y="471.2" width="2.0" height="2.0" fill="#ff9951"/>
<rect x="723.8" y="471.8" width="2.0" height="2.0" fill="#ff9951"/>
<rect x="727.5" y="469.9" width="2.0" height="2.0" fill="#ff9950"/>
<rect x="725.0" y="470.2" width="2.0" height="2.0" fill="#ff9950"/>
<rect x="725.8" y="470.5" width="2.0" height="2.0" fill="#ff9850"/>
<rect x="728.1" y="472.2" width="2.0" height="2.0" fill="#ff9850"/>
<rect x="726.1" y="471.5" width="2.0" height="2.0" fill="#ff9850"/>
<rect x="725.8" y="472.6" width="2.0" height="2.0" fill="#ff9850"/>
<rect x="728.2" y="469.5" width="2.0" height="2.0" fill="#ff9850"/>
<rect x="725.4" y="469.7" width="2.0" height="2.0" fill="#ff9850"/>
<rect x="729.9" y="474.0" width="2.0" height="2.0" fill="#ff9750"/>
<rect x="726.0" y="469.8" width="2.0" height="2.0" fill="#ff974f"/>
<rect x="724.0" y="469.2" width="2.0" height="2.0" fill="#ff964f"/>
<rect x="723.6" y="471.7" width="2.0" height="2.0" fill="#ff964f"/>
<rect x="723.6" y="472.1" width="2.0" height="2.0" fill="#ff964f"/>
<rect x="726.2" y="471.0" width="2.0" height="2.0" fill="#ff964f"/>
<rect x="726.0" y="469.5" width="2.0" height="2.0" fill="#ff964f"/>
<rect x="726.7" y="471.5" width="2.0" height="2.0" fill="#ff964f"/>
<rect x="725.9" y="469.7" width="2.0" height="2.0" fill="#ff964f"/>
<rect x="724.5" y="471.4" width="2.0" height="2.0" fill="#ff964f"/>
<rect x="727.9" y="470.4" width="2.0" height="2.0" fill="#ff964f"/>
<rect x="726.8" y="470.0" width="2.0" height="2.0" fill="#ff964f"/>
<rect x="724.9" y="473.6" width="2.0" height="2.0" fill="#ff964f"/>
<rect x="724.5" y="470.6" width="2.0" height="2.0" fill="#ff954f"/>
<rect x="725.5" y="468.8" width="2.0" height="2.0" fill="#ff954e"/>
<rect x="723.7" y="471.4" width="2.0" height="2.0" fill="#ff954e"/>
<rect x="724.9" y="472.2" width="2.0" height="2.0" fill="#ff954e"/>
<rect x="723.7" y="469.1" width="2.0" height="2.0" fill="#ff954e"/>
<rect x="726.3" y="472.4" width="2.0" height="2.0" fill="#ff954e"/>
<rect x="723.9" y="472.7" width="2.0" height="2.0" fill="#ff944e"/>
<rect x="727.4" y="471.3" width="2.0" height="2.0" fill="#ff944e"/>
<rect x="726.1" y="472.4" width="2.0" height="2.0" fill="#ff944e"/>
<rect x="725.6" y="471.2" width="2.0" height="2.0" fill="#ff944e"/>
<rect x="727.8" y="470.5" width="2.0" height="2.0" fill="#ff944e"/>
<rect x="723.0" y="469.0" width="2.0" height="2.0" fill="#ff944d"/>
<rect x="721.7" y="473.2" width="2.0" height="2.0" fill="#ff944d"/>
<rect x="723.7" y="472.4" width="2.0" height="2.0" fill="#ff944d"/>
<rect x="724.9" y="471.4" width="2.0" height="2.0" fill="#ff934d"/>
<rect x="726.3" y="470.0" width="2.0" height="2.0" fill="#ff934d"/>
<rect x="724.6" y="473.4" width="2.0" height="2.0" fill="#ff934d"/>
<rect x="728.9" y="472.4" width="2.0" height="2.0" fill="#ff934d"/>
<rect x="726.5" y="471.6" width="2.0" height="2.0" fill="#ff934d"/>
<rect x="727.5" y="469.5" width="2.0" height="2.0" fill="#ff934d"/>
<rect x="725.9" y="471.7" width="2.0" height="2.0" fill="#ff934d"/>
<rect x="725.3" y="474.0" width="2.0" height="2.0" fill="#ff934d"/>
<rect x="726.4" y="471.5" width="2.0" height="2.0" fill="#ff934d"/>
<rect x="725.2" y="470.3" width="2.0" height="2.0" fill="#ff934d"/>
<rect x="725.5" y="471.8" width="2.0" height="2.0" fill="#ff934d"/>
<rect x="726.0" y="472.3" width="2.0" height="2.0" fill="#ff934d"/>
<rect x="726.8" y="470.7" width="2.0" height="2.0" fill="#ff934d"/>
<rect x="723.8" y="472.7" width="2.0" height="2.0" fill="#ff934d"/>
<rect x="724.6" y="471.6" width="2.0" height="2.0" fill="#ff924d"/>
<rect x="725.5" y="474.1" width="2.0" height="2.0" fill="#ff924d"/>
<rect x="724.5" y="470.5" width="2.0" height="2.0" fill="#ff924d"/>
<rect x="728.0" y="470.2" width="2.0" height="2.0" fill="#ff924d"/>
<rect x="727.8" y="470.4" width="2.0" height="2.0" fill="#ff924d"/>
<rect x="725.8" y="473.1" width="2.0" height="2.0" fill="#ff924c"/>
<rect x="728.4" y="471.9" width="2.0" height="2.0" fill="#ff924c"/>
<rect x="726.6" y="470.7" width="2.0" height="2.0" fill="#ff924c"/>
<rect x="724.6" y="471.9" width="2.0" height="2.0" fill="#ff924c"/>
<rect x="725.2" y="471.0" width="2.0" height="2.0" fill="#ff924c"/>
<rect x="723.5" y="469.6" width="2.0" height="2.0" fill="#ff914c"/>
<rect x="726.2" y="471.1" width="2.0" height="2.0" fill="#ff914c"/>
<rect x="725.1" y="471.0" width="2.0" height="2.0" fill="#ff914c"/>
<rect x="726.6" y="468.6" width="2.0" height="2.0" fill="#ff904c"/>
<rect x="727.1" y="470.9" width="2.0" height="2.0" fill="#ff904c"/>
<rect x="726.9" y="473.7" width="2.0" height="2.0" fill="#ff904b"/>
<rect x="726.9" y="470.4" width="2.0" height="2.0" fill="#ff904b"/>
<rect x="728.8" y="473.3" width="2.0" height="2.0" fill="#ff8f4b"/>
<rect x="723.1" y="469.6" width="2.0" height="2.0" fill="#ff8f4b"/>
<rect x="725.3" y="472.9" width="2.0" height="2.0" fill="#ff8f4b"/>
<rect x="724.3" y="471.5" width="2.0" height="2.0" fill="#ff8f4b"/>
<rect x="726.4" y="471.1" width="2.0" height="2.0" fill="#ff8f4b"/>
<rect x="729.9" y="472.5" width="2.0" height="2.0" fill="#ff8f4b"/>
<rect x="726.9" y="469.2" width="2.0" height="2.0" fill="#ff8e4a"/>
<rect x="728.1" y="470.5" width="2.0" height="2.0" fill="#ff8e4a"/>
<rect x="726.5" y="472.7" width="2.0" height="2.0" fill="#ff8e4a"/>
<rect x="725.7" y="471.2" width="2.0" height="2.0" fill="#ff8e4a"/>
<rect x="728.8" y="472.1" width="2.0" height="2.0" fill="#ff8e4a"/>
<rect x="723.7" y="469.6" width="2.0" height="2.0" fill="#ff8e4a"/>
<rect x="726.9" y="472.6" width="2.0" height="2.0" fill="#ff8e4a"/>
<rect x="725.4" y="470.0" width="2.0" height="2.0" fill="#ff8e4a"/>
<rect x="729.2" y="468.8" width="2.0" height="2.0" fill="#ff8e4a"/>
<rect x="722.9" y="470.5" width="2.0" height="2.0" fill="#ff8e4a"/>
<rect x="728.5" y="475.3" width="2.0" height="2.0" fill="#ff8e4a"/>
<rect x="727.0" y="470.5" width="2.0" height="2.0" fill="#ff8d4a"/>
<rect x="726.4" y="471.2" width="2.0" height="2.0" fill="#ff8d4a"/>
<rect x="725.8" y="469.9" width="2.0" height="2.0" fill="#ff8d4a"/>
<rect x="726.1" y="471.5" width="2.0" height="2.0" fill="#ff8d4a"/>
<rect x="727.8" y="469.5" width="2.0" height="2.0" fill="#ff8d4a"/>
<rect x="728.3" y="470.7" width="2.0" height="2.0" fill="#ff8d4a"/>
<rect x="723.4" y="471.7" width="2.0" height="2.0" fill="#ff8d49"/>
<rect x="725.9" y="469.9" width="2.0" height="2.0" fill="#ff8c49"/>
<rect x="728.3" y="473.1" width="2.0" height="2.0" fill="#ff8c49"/>
<rect x="723.8" y="472.5" width="2.0" height="2.0" fill="#ff8c49"/>
<rect x="723.0" y="471.2" width="2.0" height="2.0" fill="#ff8c49"/>
<rect x="727.9" y="471.0" width="2.0" height="2.0" fill="#ff8c49"/>
<rect x="727.3" y="471.9" width="2.0" height="2.0" fill="#ff8c49"/>
<rect x="727.4" y="468.2" width="2.0" height="2.0" fill="#ff8c49"/>
<rect x="724.7" y="469.9" width="2.0" height="2.0" fill="#ff8b49"/>
<rect x="726.4" y="471.6" width="2.0" height="2.0" fill="#ff8b49"/>
<rect x="725.7" y="470.8" width="2.0" height="2.0" fill="#ff8b49"/>
<rect x="726.0" y="471.5" width="2.0" height="2.0" fill="#ff8b48"/>
<rect x="726.7" y="469.1" width="2.0" height="2.0" fill="#ff8b48"/>
<rect x="725.4" y="472.5" width="2.0" height="2.0" fill="#ff8b48"/>
<rect x="724.3" y="473.6" width="2.0" height="2.0" fill="#ff8a48"/>
<rect x="726.3" y="471.3" width="2.0" height="2.0" fill="#ff8a48"/>
<rect x="726.5" y="471.6" width="2.0" height="2.0" fill="#ff8a48"/>
<rect x="724.3" y="470.6" width="2.0" height="2.0" fill="#ff8948"/>
<rect x="726.4" y="471.3" width="2.0" height="2.0" fill="#ff8948"/>
<rect x="726.7" y="471.7" width="2.0" height="2.0" fill="#ff8947"/>
<rect x="721.4" y="470.8" width="2.0" height="2.0" fill="#ff8947"/>
<rect x="725.4" y="471.2" width="2.0" height="2.0" fill="#ff8947"/>
<rect x="722.4" y="472.8" width="2.0" height="2.0" fill="#ff8947"/>
<rect x="725.9" y="471.8" width="2.0" height="2.0" fill="#ff8947"/>
<rect x="724.8" y="469.1" width="2.0" height="2.0" fill="#ff8847"/>
<rect x="726.1" y="472.5" width="2.0" height="2.0" fill="#ff8847"/>
<rect x="725.4" y="472.7" width="2.0" height="2.0" fill="#ff8847"/>
<rect x="726.1" y="470.4" width="2.0" height="2.0" fill="#ff8847"/>
<rect x="725.4" y="468.9" width="2.0" height="2.0" fill="#ff8847"/>
<rect x="725.7" y="471.5" width="2.0" height="2.0" fill="#ff8746"/>
<rect x="724.6" y="471.9" width="2.0" height="2.0" fill="#ff8746"/>
<rect x="726.4" y="472.1" width="2.0" height="2.0" fill="#ff8746"/>
<rect x="728.6" y="473.2" width="2.0" height="2.0" fill="#ff8746"/>
<rect x="724.3" y="471.3" width="2.0" height="2.0" fill="#ff8746"/>
<rect x="724.0" y="472.1" width="2.0" height="2.0" fill="#ff8746"/>
<rect x="728.2" y="471.1" width="2.0" height="2.0" fill="#ff8646"/>
<rect x="723.2" y="471.9" width="2.0" height="2.0" fill="#ff8646"/>
<rect x="727.2" y="469.4" width="2.0" height="2.0" fill="#ff8646"/>
<rect x="725.2" y="471.4" width="2.0" height="2.0" fill="#ff8646"/>
<rect x="725.1" y="471.8" width="2.0" height="2.0" fill="#ff8646"/>
<rect x="725.3" y="470.3" width="2.0" height="2.0" fill="#ff8646"/>
<rect x="722.0" y="469.2" width="2.0" height="2.0" fill="#ff8646"/>
<rect x="723.8" y="470.2" width="2.0" height="2.0" fill="#ff8646"/>
<rect x="723.3" y="472.7" width="2.0" height="2.0" fill="#ff8646"/>
<rect x="724.7" y="472.7" width="2.0" height="2.0" fill="#ff8646"/>
<rect x="731.7" y="470.6" width="2.0" height="2.0" fill="#ff8646"/>
<rect x="723.5" y="469.7" width="2.0" height="2.0" fill="#ff8645"/>
<rect x="727.5" y="472.0" width="2.0" height="2.0" fill="#ff8645"/>
<rect x="727.5" y="469.5" width="2.0" height="2.0" fill="#ff8645"/>
<rect x="725.9" y="470.5" width="2.0" height="2.0" fill="#ff8545"/>
<rect x="723.6" y="470.2" width="2.0" height="2.0" fill="#ff8545"/>
<rect x="725.5" y="470.0" width="2.0" height="2.0" fill="#ff8445"/>
<rect x="725.5" y="469.4" width="2.0" height="2.0" fill="#ff8445"/>
<rect x="727.2" y="472.5" width="2.0" height="2.0" fill="#ff8444"/>
<rect x="730.4" y="475.2" width="2.0" height="2.0" fill="#ff8444"/>
<rect x="726.4" y="472.3" width="2.0" height="2.0" fill="#ff8444"/>
<rect x="728.2" y="471.9" width="2.0" height="2.0" fill="#ff8444"/>
<rect x="727.4" y="470.9" width="2.0" height="2.0" fill="#ff8344"/>
<rect x="725.3" y="471.6" width="2.0" height="2.0" fill="#ff8344"/>
<rect x="728.8" y="471.0" width="2.0" height="2.0" fill="#ff8344"/>
<rect x="724.4" y="472.2" width="2.0" height="2.0" fill="#ff8344"/>
<rect x="723.8" y="470.6" width="2.0" height="2.0" fill="#ff8344"/>
<rect x="725.0" y="471.3" width="2.0" height="2.0" fill="#ff8344"/>
<rect x="725.3" y="471.9" width="2.0" height="2.0" fill="#ff8344"/>
<rect x="727.3" y="471.2" width="2.0" height="2.0" fill="#ff8344"/>
<rect x="725.9" y="470.8" width="2.0" height="2.0" fill="#ff8243"/>
<rect x="725.0" y="471.3" width="2.0" height="2.0" fill="#ff8143"/>
<rect x="725.3" y="470.3" width="2.0" height="2.0" fill="#ff8143"/>
<rect x="724.1" y="472.5" width="2.0" height="2.0" fill="#ff8143"/>
<rect x="728.7" y="468.3" width="2.0" height="2.0" fill="#ff8043"/>
<rect x="722.5" y="470.9" width="2.0" height="2.0" fill="#ff8042"/>
<rect x="723.4" y="471.8" width="2.0" height="2.0" fill="#ff8042"/>
<rect x="726.3" y="470.9" width="2.0" height="2.0" fill="#ff8042"/>
<rect x="724.0" y="472.2" width="2.0" height="2.0" fill="#ff8042"/>
<rect x="725.4" y="471.1" width="2.0" height="2.0" fill="#ff7f42"/>
<rect x="726.1" y="472.9" width="2.0" height="2.0" fill="#ff7f42"/>
<rect x="724.2" y="470.9" width="2.0" height="2.0" fill="#ff7f42"/>
<rect x="728.1" y="475.0" width="2.0" height="2.0" fill="#ff7f42"/>
<rect x="726.9" y="472.2" width="2.0" height="2.0" fill="#ff7f42"/>
<rect x="726.0" y="470.9" width="2.0" height="2.0" fill="#ff7f42"/>
<rect x="724.8" y="470.6" width="2.0" height="2.0" fill="#ff7f42"/>
<rect x="724.7" y="471.4" width="2.0" height="2.0" fill="#ff7f42"/>
<rect x="726.0" y="472.1" width="2.0" height="2.0" fill="#ff7e41"/>
<rect x="724.8" y="470.4" width="2.0" height="2.0" fill="#ff7e41"/>
<rect x="728.1" y="473.5" width="2.0" height="2.0" fill="#ff7e41"/>
<rect x="724.9" y="470.3" width="2.0" height="2.0" fill="#ff7e41"/>
<rect x="725.0" y="470.3" width="2.0" height="2.0" fill="#ff7e41"/>
<rect x="728.5" y="472.1" width="2.0" height="2.0" fill="#ff7e41"/>
<rect x="725.1" y="471.0" width="2.0" height="2.0" fill="#ff7e41"/>
<rect x="725.5" y="472.2" width="2.0" height="2.0" fill="#ff7e41"/>
<rect x="727.5" y="470.1" width="2.0" height="2.0" fill="#ff7e41"/>
<rect x="728.1" y="471.8" width="2.0" height="2.0" fill="#ff7d41"/>
<rect x="725.1" y="470.7" width="2.0" height="2.0" fill="#ff7d40"/>
<rect x="723.7" y="469.9" width="2.0" height="2.0" fill="#ff7d40"/>
<rect x="724.0" y="470.6" width="2.0" height="2.0" fill="#ff7d40"/>
<rect x="725.7" y="472.5" width="2.0" height="2.0" fill="#ff7c40"/>
<rect x="720.5" y="471.3" width="2.0" height="2.0" fill="#ff7c40"/>
<rect x="723.2" y="469.7" width="2.0" height="2.0" fill="#ff7c40"/>
<rect x="726.8" y="471.1" width="2.0" height="2.0" fill="#ff7c40"/>
<rect x="725.1" y="471.7" width="2.0" height="2.0" fill="#ff7c40"/>
<rect x="725.9" y="470.4" width="2.0" height="2.0" fill="#ff7c40"/>
<rect x="725.1" y="471.0" width="2.0" height="2.0" fill="#ff7c40"/>
<rect x="722.8" y="473.6" width="2.0" height="2.0" fill="#ff7b40"/>
<rect x="724.5" y="470.1" width="2.0" height="2.0" fill="#ff7b40"/>
<rect x="724.0" y="471.7" width="2.0" height="2.0" fill="#ff7b40"/>
<rect x="727.3" y="471.6" width="2.0" height="2.0" fill="#ff7b3f"/>
<rect x="731.8" y="468.4" width="2.0" height="2.0" fill="#ff6d38"/>
<rect x="729.1" y="470.4" width="2.0" height="2.0" fill="#ff6d38"/>
<rect x="728.9" y="471.7" width="2.0" height="2.0" fill="#ff6c37"/>
<rect x="734.6" y="468.3" width="2.0" height="2.0" fill="#ff6c37"/>
<rect x="729.8" y="469.9" width="2.0" height="2.0" fill="#ff6c37"/>
<rect x="729.7" y="470.0" width="2.0" height="2.0" fill="#ff6c37"/>
<rect x="730.2" y="470.7" width="2.0" height="2.0" fill="#ff6c37"/>
<rect x="732.2" y="472.0" width="2.0" height="2.0" fill="#ff6c37"/>
<rect x="731.0" y="471.4" width="2.0" height="2.0" fill="#ff6c37"/>
<rect x="729.6" y="471.3" width="2.0" height="2.0" fill="#ff6c37"/>
<rect x="729.3" y="472.2" width="2.0" height="2.0" fill="#ff6c37"/>
<rect x="734.1" y="469.7" width="2.0" height="2.0" fill="#ff6c37"/>
<rect x="729.2" y="471.5" width="2.0" height="2.0" fill="#ff6c37"/>
<rect x="731.8" y="470.8" width="2.0" height="2.0" fill="#ff6b37"/>
<rect x="731.5" y="471.0" width="2.0" height="2.0" fill="#ff6b37"/>
<rect x="732.5" y="473.5" width="2.0" height="2.0" fill="#ff6b37"/>
<rect x="729.5" y="469.5" width="2.0" height="2.0" fill="#ff6b37"/>
<rect x="727.4" y="468.5" width="2.0" height="2.0" fill="#ff6b37"/>
<rect x="729.4" y="468.9" width="2.0" height="2.0" fill="#ff6b37"/>
<rect x="731.8" y="469.3" width="2.0" height="2.0" fill="#ff6b37"/>
<rect x="728.5" y="472.3" width="2.0" height="2.0" fill="#ff6b37"/>
<rect x="731.6" y="470.2" width="2.0" height="2.0" fill="#ff6b37"/>
<rect x="731.1" y="470.0" width="2.0" height="2.0" fill="#ff6b37"/>
<rect x="734.8" y="468.5" width="2.0" height="2.0" fill="#ff6b37"/>
<rect x="732.2" y="472.8" width="2.0" height="2.0" fill="#ff6b37"/>
<rect x="730.2" y="469.8" width="2.0" height="2.0" fill="#ff6b37"/>
<rect x="728.9" y="469.4" width="2.0" height="2.0" fill="#ff6a37"/>
<rect x="733.7" y="471.4" width="2.0" height="2.0" fill="#ff6a36"/>
<rect x="730.7" y="469.8" width="2.0" height="2.0" fill="#ff6a36"/>
<rect x="731.9" y="470.0" width="2.0" height="2.0" fill="#ff6a36"/>
<rect x="731.8" y="469.4" width="2.0" height="2.0" fill="#ff6a36"/>
<rect x="730.5" y="471.5" width="2.0" height="2.0" fill="#ff6a36"/>
<rect x="732.2" y="470.9" width="2.0" height="2.0" fill="#ff6a36"/>
<rect x="730.1" y="470.2" width="2.0" height="2.0" fill="#ff6a36"/>
<rect x="729.0" y="471.0" width="2.0" height="2.0" fill="#ff6a36"/>
<rect x="728.3" y="470.1" width="2.0" height="2.0" fill="#ff6a36"/>
<rect x="728.2" y="470.8" width="2.0" height="2.0" fill="#ff6a36"/>
<rect x="730.7" y="470.5" width="2.0" height="2.0" fill="#ff6a36"/>
<rect x="731.1" y="470.6" width="2.0" height="2.0" fill="#ff6a36"/>
<rect x="730.9" y="470.6" width="2.0" height="2.0" fill="#ff6a36"/>
<rect x="731.9" y="469.7" width="2.0" height="2.0" fill="#ff6936"/>
<rect x="729.4" y="470.6" width="2.0" height="2.0" fill="#ff6936"/>
<rect x="731.0" y="471.4" width="2.0" height="2.0" fill="#ff6936"/>
<rect x="728.4" y="468.9" width="2.0" height="2.0" fill="#ff6936"/>
<rect x="731.1" y="469.2" width="2.0" height="2.0" fill="#ff6936"/>
<rect x="729.9" y="470.6" width="2.0" height="2.0" fill="#ff6936"/>
<rect x="730.3" y="471.0" width="2.0" height="2.0" fill="#ff6936"/>
<rect x="730.5" y="469.5" width="2.0" height="2.0" fill="#ff6936"/>
<rect x="731.4" y="468.9" width="2.0" height="2.0" fill="#ff6936"/>
<rect x="727.0" y="467.6" width="2.0" height="2.0" fill="#ff6936"/>
<rect x="729.7" y="470.5" width="2.0" height="2.0" fill="#ff6936"/>
<rect x="729.7" y="470.2" width="2.0" height="2.0" fill="#ff6936"/>
<rect x="732.2" y="470.7" width="2.0" height="2.0" fill="#ff6936"/>
<rect x="729.8" y="469.9" width="2.0" height="2.0" fill="#ff6936"/>
<rect x="730.8" y="469.8" width="2.0" height="2.0" fill="#ff6936"/>
<rect x="729.3" y="470.0" width="2.0" height="2.0" fill="#ff6936"/>
<rect x="729.8" y="470.4" width="2.0" height="2.0" fill="#ff6935"/>
<rect x="729.8" y="469.4" width="2.0" height="2.0" fill="#ff6835"/>
<rect x="730.9" y="470.1" width="2.0" height="2.0" fill="#ff6835"/>
<rect x="727.3" y="470.6" width="2.0" height="2.0" fill="#ff6835"/>
<rect x="731.1" y="469.7" width="2.0" height="2.0" fill="#ff6835"/>
<rect x="731.6" y="470.3" width="2.0" height="2.0" fill="#ff6835"/>
<rect x="728.9" y="471.2" width="2.0" height="2.0" fill="#ff6835"/>
<rect x="730.0" y="470.2" width="2.0" height="2.0" fill="#ff6835"/>
<rect x="732.2" y="470.3" width="2.0" height="2.0" fill="#ff6835"/>
<rect x="730.2" y="470.7" width="2.0" height="2.0" fill="#ff6835"/>
<rect x="733.8" y="470.1" width="2.0" height="2.0" fill="#ff6835"/>
<rect x="729.7" y="471.1" width="2.0" height="2.0" fill="#ff6835"/>
<rect x="727.7" y="469.3" width="2.0" height="2.0" fill="#ff6835"/>
<rect x="728.8" y="470.0" width="2.0" height="2.0" fill="#ff6735"/>
<rect x="733.0" y="471.4" width="2.0" height="2.0" fill="#ff6735"/>
<rect x="730.4" y="470.9" width="2.0" height="2.0" fill="#ff6735"/>
<rect x="731.7" y="470.6" width="2.0" height="2.0" fill="#ff6735"/>
<rect x="731.7" y="471.4" width="2.0" height="2.0" fill="#ff6735"/>
<rect x="730.0" y="471.2" width="2.0" height="2.0" fill="#ff6735"/>
<rect x="730.9" y="470.0" width="2.0" height="2.0" fill="#ff6735"/>
<rect x="725.0" y="470.3" width="2.0" height="2.0" fill="#ff6735"/>
<rect x="732.4" y="470.3" width="2.0" height="2.0" fill="#ff6735"/>
<rect x="731.1" y="468.8" width="2.0" height="2.0" fill="#ff6735"/>
<rect x="731.7" y="469.5" width="2.0" height="2.0" fill="#ff6735"/>
<rect x="726.3" y="469.7" width="2.0" height="2.0" fill="#ff6735"/>
<rect x="731.4" y="470.0" width="2.0" height="2.0" fill="#ff6735"/>
<rect x="728.5" y="470.8" width="2.0" height="2.0" fill="#ff6735"/>
<rect x="729.6" y="470.1" width="2.0" height="2.0" fill="#ff6735"/>
<rect x="727.5" y="471.3" width="2.0" height="2.0" fill="#ff6735"/>
<rect x="728.4" y="471.1" width="2.0" height="2.0" fill="#ff6735"/>
<rect x="727.2" y="470.4" width="2.0" height="2.0" fill="#ff6734"/>
<rect x="729.0" y="470.6" width="2.0" height="2.0" fill="#ff6734"/>
<rect x="730.7" y="470.4" width="2.0" height="2.0" fill="#ff6634"/>
<rect x="732.7" y="470.9" width="2.0" height="2.0" fill="#ff6634"/>
<rect x="729.3" y="467.1" width="2.0" height="2.0" fill="#ff6634"/>
<rect x="728.7" y="469.4" width="2.0" height="2.0" fill="#ff6634"/>
<rect x="730.2" y="470.7" width="2.0" height="2.0" fill="#ff6634"/>
<rect x="730.8" y="471.3" width="2.0" height="2.0" fill="#ff6634"/>
<rect x="728.5" y="471.5" width="2.0" height="2.0" fill="#ff6634"/>
<rect x="729.7" y="470.4" width="2.0" height="2.0" fill="#ff6634"/>
<rect x="730.9" y="470.2" width="2.0" height="2.0" fill="#ff6634"/>
<rect x="728.7" y="470.0" width="2.0" height="2.0" fill="#ff6634"/>
<rect x="729.8" y="470.0" width="2.0" height="2.0" fill="#ff6634"/>
<rect x="732.6" y="471.3" width="2.0" height="2.0" fill="#ff6634"/>
<rect x="731.5" y="470.9" width="2.0" height="2.0" fill="#ff6634"/>
<rect x="729.4" y="470.5" width="2.0" height="2.0" fill="#ff6634"/>
<rect x="730.2" y="471.8" width="2.0" height="2.0" fill="#ff6634"/>
<rect x="732.7" y="468.7" width="2.0" height="2.0" fill="#ff6534"/>
<rect x="727.6" y="467.1" width="2.0" height="2.0" fill="#ff6534"/>
<rect x="730.7" y="471.3" width="2.0" height="2.0" fill="#ff6534"/>
<rect x="730.3" y="470.7" width="2.0" height="2.0" fill="#ff6534"/>
<rect x="731.9" y="473.1" width="2.0" height="2.0" fill="#ff6534"/>
<rect x="733.5" y="472.1" width="2.0" height="2.0" fill="#ff6534"/>
<rect x="730.3" y="470.0" width="2.0" height="2.0" fill="#ff6534"/>
<rect x="731.5" y="469.2" width="2.0" height="2.0" fill="#ff6533"/>
<rect x="731.9" y="469.8" width="2.0" height="2.0" fill="#ff6533"/>
<rect x="729.7" y="468.7" width="2.0" height="2.0" fill="#ff6533"/>
<rect x="731.0" y="466.5" width="2.0" height="2.0" fill="#ff6533"/>
<rect x="730.8" y="471.4" width="2.0" height="2.0" fill="#ff6533"/>
<rect x="730.6" y="471.4" width="2.0" height="2.0" fill="#ff6433"/>
<rect x="731.4" y="469.3" width="2.0" height="2.0" fill="#ff6433"/>
<rect x="729.0" y="470.0" width="2.0" height="2.0" fill="#ff6433"/>
<rect x="728.9" y="469.0" width="2.0" height="2.0" fill="#ff6433"/>
<rect x="730.4" y="470.7" width="2.0" height="2.0" fill="#ff6433"/>
<rect x="730.3" y="469.8" width="2.0" height="2.0" fill="#ff6433"/>
<rect x="726.4" y="471.5" width="2.0" height="2.0" fill="#ff6433"/>
<rect x="727.6" y="469.6" width="2.0" height="2.0" fill="#ff6433"/>
<rect x="729.5" y="469.3" width="2.0" height="2.0" fill="#ff6433"/>
<rect x="727.6" y="471.3" width="2.0" height="2.0" fill="#ff6433"/>
<rect x="728.1" y="470.1" width="2.0" height="2.0" fill="#ff6433"/>
<rect x="730.1" y="469.1" width="2.0" height="2.0" fill="#ff6433"/>
<rect x="729.7" y="469.8" width="2.0" height="2.0" fill="#ff6433"/>
<rect x="729.8" y="471.0" width="2.0" height="2.0" fill="#ff6433"/>
<rect x="731.7" y="469.4" width="2.0" height="2.0" fill="#ff6433"/>
<rect x="732.2" y="472.6" width="2.0" height="2.0" fill="#ff6433"/>
<rect x="730.1" y="470.7" width="2.0" height="2.0" fill="#ff6433"/>
<rect x="731.3" y="472.3" width="2.0" height="2.0" fill="#ff6433"/>
<rect x="727.3" y="470.1" width="2.0" height="2.0" fill="#ff6433"/>
<rect x="730.1" y="469.7" width="2.0" height="2.0" fill="#ff6433"/>
<rect x="733.0" y="468.0" width="2.0" height="2.0" fill="#ff6333"/>
<rect x="732.8" y="470.3" width="2.0" height="2.0" fill="#ff6333"/>
<rect x="731.6" y="470.5" width="2.0" height="2.0" fill="#ff6333"/>
<rect x="729.8" y="471.0" width="2.0" height="2.0" fill="#ff6333"/>
<rect x="732.5" y="472.1" width="2.0" height="2.0" fill="#ff6333"/>
<rect x="730.2" y="470.0" width="2.0" height="2.0" fill="#ff6332"/>
<rect x="729.7" y="470.0" width="2.0" height="2.0" fill="#ff6332"/>
<rect x="729.5" y="472.1" width="2.0" height="2.0" fill="#ff6332"/>
<rect x="731.8" y="470.5" width="2.0" height="2.0" fill="#ff6332"/>
<rect x="729.6" y="471.0" width="2.0" height="2.0" fill="#ff6332"/>
<rect x="730.6" y="470.0" width="2.0" height="2.0" fill="#ff6332"/>
<rect x="730.4" y="471.9" width="2.0" height="2.0" fill="#ff6232"/>
<rect x="728.2" y="470.3" width="2.0" height="2.0" fill="#ff6232"/>
<rect x="725.7" y="471.7" width="2.0" height="2.0" fill="#ff6232"/>
<rect x="732.9" y="471.8" width="2.0" height="2.0" fill="#ff6232"/>
<rect x="729.9" y="468.9" width="2.0" height="2.0" fill="#ff6232"/>
<rect x="731.4" y="469.4" width="2.0" height="2.0" fill="#ff6232"/>
<rect x="729.2" y="470.5" width="2.0" height="2.0" fill="#ff6232"/>
<rect x="730.2" y="471.7" width="2.0" height="2.0" fill="#ff6232"/>
<rect x="728.4" y="468.6" width="2.0" height="2.0" fill="#ff6232"/>
<rect x="730.2" y="469.5" width="2.0" height="2.0" fill="#ff6232"/>
<rect x="731.7" y="471.0" width="2.0" height="2.0" fill="#ff6232"/>
<rect x="729.9" y="470.9" width="2.0" height="2.0" fill="#ff6232"/>
<rect x="730.1" y="470.8" width="2.0" height="2.0" fill="#ff6232"/>
<rect x="727.9" y="470.8" width="2.0" height="2.0" fill="#ff6232"/>
<rect x="729.8" y="471.8" width="2.0" height="2.0" fill="#ff6232"/>
<rect x="734.2" y="470.1" width="2.0" height="2.0" fill="#ff6232"/>
<rect x="732.5" y="470.6" width="2.0" height="2.0" fill="#ff6232"/>
<rect x="730.9" y="470.9" width="2.0" height="2.0" fill="#ff6232"/>
<rect x="729.0" y="466.6" width="2.0" height="2.0" fill="#ff6232"/>
<rect x="729.8" y="469.0" width="2.0" height="2.0" fill="#ff6232"/>
<rect x="733.1" y="469.5" width="2.0" height="2.0" fill="#ff6232"/>
<rect x="731.8" y="471.3" width="2.0" height="2.0" fill="#ff6132"/>
<rect x="731.3" y="472.2" width="2.0" height="2.0" fill="#ff6132"/>
<rect x="731.1" y="468.7" width="2.0" height="2.0" fill="#ff6132"/>
<rect x="732.1" y="470.8" width="2.0" height="2.0" fill="#ff6132"/>
<rect x="732.8" y="469.4" width="2.0" height="2.0" fill="#ff6132"/>
<rect x="732.4" y="470.1" width="2.0" height="2.0" fill="#ff6132"/>
<rect x="731.9" y="470.5" width="2.0" height="2.0" fill="#ff6131"/>
<rect x="730.1" y="468.9" width="2.0" height="2.0" fill="#ff6131"/>
<rect x="729.9" y="469.8" width="2.0" height="2.0" fill="#ff6131"/>
<rect x="730.5" y="468.4" width="2.0" height="2.0" fill="#ff6131"/>
<rect x="730.6" y="470.0" width="2.0" height="2.0" fill="#ff6131"/>
<rect x="730.6" y="470.0" width="2.0" height="2.0" fill="#ff6131"/>
<rect x="729.8" y="470.3" width="2.0" height="2.0" fill="#ff6131"/>
<rect x="728.9" y="471.9" width="2.0" height="2.0" fill="#ff6131"/>
<rect x="730.1" y="471.3" width="2.0" height="2.0" fill="#ff6131"/>
<rect x="729.4" y="469.5" width="2.0" height="2.0" fill="#ff6131"/>
<rect x="728.6" y="467.9" width="2.0" height="2.0" fill="#ff6131"/>
<rect x="729.9" y="470.0" width="2.0" height="2.0" fill="#ff6031"/>
<rect x="729.4" y="470.2" width="2.0" height="2.0" fill="#ff6031"/>
<rect x="728.9" y="469.1" width="2.0" height="2.0" fill="#ff6031"/>
<rect x="730.0" y="470.0" width="2.0" height="2.0" fill="#ff6031"/>
<rect x="731.5" y="471.3" width="2.0" height="2.0" fill="#ff6031"/>
<rect x="725.0" y="470.3" width="2.0" height="2.0" fill="#ff6031"/>
<rect x="731.4" y="471.2" width="2.0" height="2.0" fill="#ff6031"/>
<rect x="729.7" y="470.4" width="2.0" height="2.0" fill="#ff6031"/>
<rect x="732.0" y="469.0" width="2.0" height="2.0" fill="#ff6031"/>
<rect x="731.4" y="469.9" width="2.0" height="2.0" fill="#ff6031"/>
<rect x="731.7" y="472.0" width="2.0" height="2.0" fill="#ff6031"/>
<rect x="731.0" y="470.3" width="2.0" height="2.0" fill="#ff6031"/>
<rect x="729.7" y="471.1" width="2.0" height="2.0" fill="#ff6031"/>
<rect x="731.5" y="470.5" width="2.0" height="2.0" fill="#ff6031"/>
<rect x="731.7" y="470.5" width="2.0" height="2.0" fill="#ff6031"/>
<rect x="730.4" y="470.2" width="2.0" height="2.0" fill="#ff5f31"/>
<rect x="729.4" y="470.3" width="2.0" height="2.0" fill="#ff5f31"/>
<rect x="729.7" y="471.9" width="2.0" height="2.0" fill="#ff5f31"/>
<rect x="729.5" y="469.2" width="2.0" height="2.0" fill="#ff5f31"/>
<rect x="728.7" y="470.7" width="2.0" height="2.0" fill="#ff5f30"/>
<rect x="729.8" y="470.1" width="2.0" height="2.0" fill="#ff5f30"/>
<rect x="728.8" y="470.0" width="2.0" height="2.0" fill="#ff5f30"/>
<rect x="731.6" y="469.9" width="2.0" height="2.0" fill="#ff5f30"/>
<rect x="729.4" y="470.9" width="2.0" height="2.0" fill="#ff5f30"/>
<rect x="729.5" y="469.5" width="2.0" height="2.0" fill="#ff5f30"/>
<rect x="726.4" y="470.4" width="2.0" height="2.0" fill="#ff5f30"/>
<rect x="725.3" y="471.6" width="2.0" height="2.0" fill="#ff5f30"/>
<rect x="730.5" y="470.2" width="2.0" height="2.0" fill="#ff5f30"/>
<rect x="730.7" y="467.8" width="2.0" height="2.0" fill="#ff5f30"/>
<rect x="730.2" y="470.4" width="2.0" height="2.0" fill="#ff5f30"/>
<rect x="732.5" y="470.0" width="2.0" height="2.0" fill="#ff5f30"/>
<rect x="729.6" y="470.8" width="2.0" height="2.0" fill="#ff5f30"/>
<rect x="730.1" y="470.8" width="2.0" height="2.0" fill="#ff5f30"/>
<rect x="727.4" y="469.8" width="2.0" height="2.0" fill="#ff5f30"/>
<rect x="728.5" y="471.1" width="2.0" height="2.0" fill="#ff5f30"/>
<rect x="728.4" y="470.4" width="2.0" height="2.0" fill="#ff5f30"/>
<rect x="730.6" y="471.3" width="2.0" height="2.0" fill="#ff5f30"/>
<rect x="730.5" y="469.8" width="2.0" height="2.0" fill="#ff5f30"/>
<rect x="728.2" y="472.3" width="2.0" height="2.0" fill="#ff5f30"/>
<rect x="729.3" y="471.0" width="2.0" height="2.0" fill="#ff5f30"/>
<rect x="729.0" y="470.6" width="2.0" height="2.0" fill="#ff5e30"/>
<rect x="731.0" y="470.1" width="2.0" height="2.0" fill="#ff5e30"/>
<rect x="729.0" y="470.4" width="2.0" height="2.0" fill="#ff5e30"/>
<rect x="733.3" y="470.3" width="2.0" height="2.0" fill="#ff5e30"/>
<rect x="730.4" y="469.5" width="2.0" height="2.0" fill="#ff5e30"/>
<rect x="732.6" y="470.2" width="2.0" height="2.0" fill="#ff5e30"/>
<rect x="731.1" y="472.3" width="2.0" height="2.0" fill="#ff5e30"/>
<rect x="732.8" y="472.7" width="2.0" height="2.0" fill="#ff5e30"/>
<rect x="730.6" y="469.8" width="2.0" height="2.0" fill="#ff5e30"/>
<rect x="730.2" y="470.6" width="2.0" height="2.0" fill="#ff5e30"/>
<rect x="727.9" y="471.0" width="2.0" height="2.0" fill="#ff5e30"/>
<rect x="730.0" y="469.1" width="2.0" height="2.0" fill="#ff5e30"/>
<rect x="731.3" y="470.1" width="2.0" height="2.0" fill="#ff5d30"/>
<rect x="728.7" y="470.7" width="2.0" height="2.0" fill="#ff5d30"/>
<rect x="731.0" y="468.9" width="2.0" height="2.0" fill="#ff5d30"/>
<rect x="724.7" y="472.6" width="2.0" height="2.0" fill="#ff5d30"/>
<rect x="730.8" y="471.6" width="2.0" height="2.0" fill="#ff5d2f"/>
<rect x="728.6" y="471.5" width="2.0" height="2.0" fill="#ff5d2f"/>
<rect x="730.5" y="471.1" width="2.0" height="2.0" fill="#ff5d2f"/>
<rect x="729.8" y="470.0" width="2.0" height="2.0" fill="#ff5d2f"/>
<rect x="731.4" y="471.0" width="2.0" height="2.0" fill="#ff5d2f"/>
<rect x="731.3" y="470.2" width="2.0" height="2.0" fill="#ff5d2f"/>
<rect x="730.1" y="472.1" width="2.0" height="2.0" fill="#ff5d2f"/>
<rect x="733.7" y="470.6" width="2.0" height="2.0" fill="#ff5d2f"/>
<rect x="729.8" y="470.4" width="2.0" height="2.0" fill="#ff5d2f"/>
<rect x="729.5" y="470.5" width="2.0" height="2.0" fill="#ff5d2f"/>
<rect x="731.6" y="469.5" width="2.0" height="2.0" fill="#ff5d2f"/>
<rect x="728.7" y="471.0" width="2.0" height="2.0" fill="#ff5c2f"/>
<rect x="732.8" y="468.8" width="2.0" height="2.0" fill="#ff5c2f"/>
<rect x="730.3" y="471.1" width="2.0" height="2.0" fill="#ff5c2f"/>
<rect x="731.2" y="468.7" width="2.0" height="2.0" fill="#ff5c2f"/>
<rect x="728.5" y="468.4" width="2.0" height="2.0" fill="#ff5c2f"/>
<rect x="729.2" y="470.5" width="2.0" height="2.0" fill="#ff5c2f"/>
<rect x="730.0" y="468.7" width="2.0" height="2.0" fill="#ff5c2f"/>
<rect x="729.9" y="469.9" width="2.0" height="2.0" fill="#ff5c2f"/>
<rect x="731.5" y="470.9" width="2.0" height="2.0" fill="#ff5c2f"/>
<rect x="734.1" y="468.5" width="2.0" height="2.0" fill="#ff5c2f"/>
<rect x="727.2" y="469.4" width="2.0" height="2.0" fill="#ff5c2f"/>
<rect x="730.8" y="469.2" width="2.0" height="2.0" fill="#ff5c2f"/>
<rect x="729.7" y="468.4" width="2.0" height="2.0" fill="#ff5c2f"/>
<rect x="729.9" y="471.9" width="2.0" height="2.0" fill="#ff5c2f"/>
<rect x="733.9" y="471.4" width="2.0" height="2.0" fill="#ff5c2f"/>
<rect x="729.9" y="471.8" width="2.0" height="2.0" fill="#ff5c2f"/>
<rect x="727.8" y="469.3" width="2.0" height="2.0" fill="#ff5c2f"/>
<rect x="729.3" y="469.0" width="2.0" height="2.0" fill="#ff5c2f"/>
<rect x="728.6" y="469.5" width="2.0" height="2.0" fill="#ff5c2f"/>
<rect x="730.7" y="471.9" width="2.0" height="2.0" fill="#ff5c2f"/>
<rect x="732.2" y="469.8" width="2.0" height="2.0" fill="#ff5c2f"/>
<rect x="728.7" y="470.9" width="2.0" height="2.0" fill="#ff5b2f"/>
<rect x="731.5" y="470.3" width="2.0" height="2.0" fill="#ff5b2e"/>
<rect x="728.7" y="471.6" width="2.0" height="2.0" fill="#ff5b2e"/>
<rect x="728.5" y="470.3" width="2.0" height="2.0" fill="#ff5b2e"/>
<rect x="731.4" y="471.5" width="2.0" height="2.0" fill="#ff5b2e"/>
<rect x="729.9" y="471.6" width="2.0" height="2.0" fill="#ff5b2e"/>
<rect x="730.5" y="471.7" width="2.0" height="2.0" fill="#ff5b2e"/>
<rect x="729.6" y="471.4" width="2.0" height="2.0" fill="#ff5b2e"/>
<rect x="732.0" y="471.8" width="2.0" height="2.0" fill="#ff5b2e"/>
<rect x="731.6" y="471.0" width="2.0" height="2.0" fill="#ff5b2e"/>
<rect x="729.7" y="469.7" width="2.0" height="2.0" fill="#ff5b2e"/>
<rect x="729.1" y="471.1" width="2.0" height="2.0" fill="#ff5b2e"/>
<rect x="730.3" y="470.2" width="2.0" height="2.0" fill="#ff5b2e"/>
<rect x="729.5" y="471.7" width="2.0" height="2.0" fill="#ff5b2e"/>
<rect x="730.9" y="471.7" width="2.0" height="2.0" fill="#ff5b2e"/>
<rect x="727.3" y="472.3" width="2.0" height="2.0" fill="#ff5b2e"/>
<rect x="730.4" y="470.5" width="2.0" height="2.0" fill="#ff5b2e"/>
<rect x="730.1" y="470.2" width="2.0" height="2.0" fill="#ff5b2e"/>
<rect x="728.9" y="468.5" width="2.0" height="2.0" fill="#ff5a2e"/>
<rect x="729.3" y="469.1" width="2.0" height="2.0" fill="#ff5a2e"/>
<rect x="732.1" y="470.5" width="2.0" height="2.0" fill="#ff5a2e"/>
<rect x="728.8" y="471.3" width="2.0" height="2.0" fill="#ff5a2e"/>
<rect x="731.4" y="470.4" width="2.0" height="2.0" fill="#ff5a2e"/>
<rect x="731.5" y="470.7" width="2.0" height="2.0" fill="#ff5a2e"/>
<rect x="729.4" y="470.9" width="2.0" height="2.0" fill="#ff5a2e"/>
<rect x="729.9" y="468.3" width="2.0" height="2.0" fill="#ff5a2e"/>
<rect x="729.2" y="470.0" width="2.0" height="2.0" fill="#ff5a2e"/>
<rect x="730.1" y="470.5" width="2.0" height="2.0" fill="#ff5a2e"/>
<rect x="731.3" y="468.2" width="2.0" height="2.0" fill="#ff5a2e"/>
<rect x="732.6" y="470.6" width="2.0" height="2.0" fill="#ff5a2e"/>
<rect x="732.1" y="471.9" width="2.0" height="2.0" fill="#ff5a2e"/>
<rect x="729.7" y="470.6" width="2.0" height="2.0" fill="#ff5a2e"/>
<rect x="730.8" y="469.6" width="2.0" height="2.0" fill="#ff5a2e"/>
<rect x="732.2" y="470.5" width="2.0" height="2.0" fill="#ff5a2e"/>
<rect x="729.2" y="467.8" width="2.0" height="2.0" fill="#ff5a2e"/>
<rect x="731.6" y="471.8" width="2.0" height="2.0" fill="#ff5a2d"/>
<rect x="728.8" y="469.4" width="2.0" height="2.0" fill="#ff592d"/>
<rect x="730.9" y="469.4" width="2.0" height="2.0" fill="#ff592d"/>
<rect x="731.7" y="471.1" width="2.0" height="2.0" fill="#ff592d"/>
<rect x="730.1" y="468.4" width="2.0" height="2.0" fill="#ff592d"/>
<rect x="730.8" y="470.0" width="2.0" height="2.0" fill="#ff592d"/>
<rect x="729.5" y="469.3" width="2.0" height="2.0" fill="#ff592d"/>
<rect x="732.0" y="470.9" width="2.0" height="2.0" fill="#ff592d"/>
<rect x="730.2" y="471.2" width="2.0" height="2.0" fill="#ff592d"/>
<rect x="731.8" y="472.5" width="2.0" height="2.0" fill="#ff592d"/>
<rect x="729.6" y="470.6" width="2.0" height="2.0" fill="#ff592d"/>
<rect x="726.8" y="469.4" width="2.0" height="2.0" fill="#ff592d"/>
<rect x="729.2" y="469.1" width="2.0" height="2.0" fill="#ff592d"/>
<rect x="729.4" y="471.7" width="2.0" height="2.0" fill="#ff582d"/>
<rect x="728.2" y="469.8" width="2.0" height="2.0" fill="#ff582d"/>
<rect x="729.5" y="468.6" width="2.0" height="2.0" fill="#ff582d"/>
<rect x="727.8" y="469.2" width="2.0" height="2.0" fill="#ff582d"/>
<rect x="729.8" y="469.6" width="2.0" height="2.0" fill="#ff582d"/>
<rect x="728.3" y="469.9" width="2.0" height="2.0" fill="#ff582d"/>
<rect x="731.0" y="470.7" width="2.0" height="2.0" fill="#ff582d"/>
<rect x="729.3" y="471.5" width="2.0" height="2.0" fill="#ff582d"/>
<rect x="726.5" y="469.9" width="2.0" height="2.0" fill="#ff582d"/>
<rect x="728.4" y="471.4" width="2.0" height="2.0" fill="#ff582d"/>
<rect x="732.3" y="470.8" width="2.0" height="2.0" fill="#ff582d"/>
<rect x="730.5" y="471.1" width="2.0" height="2.0" fill="#ff582d"/>
<rect x="729.4" y="472.5" width="2.0" height="2.0" fill="#ff582d"/>
<rect x="733.7" y="472.2" width="2.0" height="2.0" fill="#ff582d"/>
<rect x="729.2" y="471.4" width="2.0" height="2.0" fill="#ff582d"/>
<rect x="734.0" y="471.5" width="2.0" height="2.0" fill="#ff582d"/>
<rect x="730.6" y="470.2" width="2.0" height="2.0" fill="#ff582c"/>
<rect x="728.5" y="471.3" width="2.0" height="2.0" fill="#ff582c"/>
<rect x="729.7" y="471.5" width="2.0" height="2.0" fill="#ff582c"/>
<rect x="733.8" y="469.7" width="2.0" height="2.0" fill="#ff582c"/>
<rect x="731.8" y="471.3" width="2.0" height="2.0" fill="#ff572c"/>
<rect x="726.2" y="471.0" width="2.0" height="2.0" fill="#ff572c"/>
<rect x="727.6" y="468.0" width="2.0" height="2.0" fill="#ff572c"/>
<rect x="731.6" y="469.8" width="2.0" height="2.0" fill="#ff572c"/>
<rect x="730.2" y="469.4" width="2.0" height="2.0" fill="#ff572c"/>
<rect x="730.7" y="472.3" width="2.0" height="2.0" fill="#ff572c"/>
<rect x="731.5" y="470.0" width="2.0" height="2.0" fill="#ff572c"/>
<rect x="729.7" y="469.0" width="2.0" height="2.0" fill="#ff572c"/>
<rect x="729.1" y="470.3" width="2.0" height="2.0" fill="#ff572c"/>
<rect x="730.3" y="468.9" width="2.0" height="2.0" fill="#ff572c"/>
<rect x="729.0" y="470.5" width="2.0" height="2.0" fill="#ff572c"/>
<rect x="729.4" y="470.5" width="2.0" height="2.0" fill="#ff572c"/>
<rect x="729.8" y="469.3" width="2.0" height="2.0" fill="#ff572c"/>
<rect x="731.6" y="469.5" width="2.0" height="2.0" fill="#ff572c"/>
<rect x="729.5" y="471.2" width="2.0" height="2.0" fill="#ff572c"/>
<rect x="730.7" y="469.3" width="2.0" height="2.0" fill="#ff572c"/>
<rect x="731.3" y="472.1" width="2.0" height="2.0" fill="#ff562c"/>
<rect x="729.4" y="469.3" width="2.0" height="2.0" fill="#ff562c"/>
<rect x="731.7" y="472.5" width="2.0" height="2.0" fill="#ff562c"/>
<rect x="729.6" y="470.2" width="2.0" height="2.0" fill="#ff562c"/>
<rect x="730.5" y="469.0" width="2.0" height="2.0" fill="#ff562c"/>
<rect x="731.9" y="470.0" width="2.0" height="2.0" fill="#ff562c"/>
<rect x="730.6" y="470.0" width="2.0" height="2.0" fill="#ff562c"/>
<rect x="730.8" y="470.7" width="2.0" height="2.0" fill="#ff562c"/>
<rect x="729.2" y="471.9" width="2.0" height="2.0" fill="#ff562c"/>
<rect x="729.5" y="470.4" width="2.0" height="2.0" fill="#ff562c"/>
<rect x="727.7" y="470.8" width="2.0" height="2.0" fill="#ff562c"/>
<rect x="729.1" y="472.6" width="2.0" height="2.0" fill="#ff562c"/>
<rect x="729.2" y="472.5" width="2.0" height="2.0" fill="#ff562b"/>
<rect x="728.3" y="471.1" width="2.0" height="2.0" fill="#ff562b"/>
<rect x="727.8" y="470.0" width="2.0" height="2.0" fill="#ff562b"/>
<rect x="732.0" y="470.8" width="2.0" height="2.0" fill="#ff562b"/>
<rect x="732.2" y="469.3" width="2.0" height="2.0" fill="#ff552b"/>
<rect x="728.3" y="471.1" width="2.0" height="2.0" fill="#ff552b"/>
<rect x="730.6" y="469.3" width="2.0" height="2.0" fill="#ff552b"/>
<rect x="729.3" y="470.3" width="2.0" height="2.0" fill="#ff552b"/>
<rect x="732.6" y="470.3" width="2.0" height="2.0" fill="#ff552b"/>
<rect x="732.5" y="471.6" width="2.0" height="2.0" fill="#ff552b"/>
<rect x="731.0" y="469.9" width="2.0" height="2.0" fill="#ff552b"/>
<rect x="729.1" y="469.8" width="2.0" height="2.0" fill="#ff552b"/>
<rect x="730.9" y="472.0" width="2.0" height="2.0" fill="#ff552b"/>
<rect x="729.0" y="470.3" width="2.0" height="2.0" fill="#ff552b"/>
<rect x="731.5" y="472.2" width="2.0" height="2.0" fill="#ff552b"/>
<rect x="730.2" y="470.1" width="2.0" height="2.0" fill="#ff552b"/>
<rect x="732.6" y="470.3" width="2.0" height="2.0" fill="#ff552b"/>
<rect x="728.9" y="470.8" width="2.0" height="2.0" fill="#ff552b"/>
<rect x="730.8" y="471.0" width="2.0" height="2.0" fill="#ff552b"/>
<rect x="730.3" y="471.6" width="2.0" height="2.0" fill="#ff552b"/>
<rect x="728.6" y="470.9" width="2.0" height="2.0" fill="#ff552b"/>
<rect x="730.8" y="469.4" width="2.0" height="2.0" fill="#ff552b"/>
<rect x="731.9" y="470.3" width="2.0" height="2.0" fill="#ff552b"/>
<rect x="729.5" y="469.4" width="2.0" height="2.0" fill="#ff552b"/>
<rect x="727.8" y="469.6" width="2.0" height="2.0" fill="#ff552b"/>
<rect x="728.8" y="470.5" width="2.0" height="2.0" fill="#ff542b"/>
<rect x="729.2" y="470.6" width="2.0" height="2.0" fill="#ff542b"/>
<rect x="729.7" y="470.1" width="2.0" height="2.0" fill="#ff542b"/>
<rect x="729.2" y="471.7" width="2.0" height="2.0" fill="#ff542b"/>
<rect x="732.1" y="470.6" width="2.0" height="2.0" fill="#ff542b"/>
<rect x="730.4" y="470.2" width="2.0" height="2.0" fill="#ff542b"/>
<rect x="732.3" y="470.0" width="2.0" height="2.0" fill="#ff542b"/>
<rect x="728.2" y="470.8" width="2.0" height="2.0" fill="#ff542b"/>
<rect x="726.7" y="469.6" width="2.0" height="2.0" fill="#ff542b"/>
<rect x="730.6" y="469.1" width="2.0" height="2.0" fill="#ff542b"/>
<rect x="730.7" y="470.1" width="2.0" height="2.0" fill="#ff542b"/>
<rect x="728.2" y="470.3" width="2.0" height="2.0" fill="#ff542b"/>
<rect x="730.1" y="472.9" width="2.0" height="2.0" fill="#ff542a"/>
<rect x="732.8" y="470.0" width="2.0" height="2.0" fill="#ff542a"/>
<rect x="729.6" y="471.3" width="2.0" height="2.0" fill="#ff542a"/>
<rect x="734.0" y="470.2" width="2.0" height="2.0" fill="#ff542a"/>
<rect x="729.0" y="469.8" width="2.0" height="2.0" fill="#ff532a"/>
<rect x="731.9" y="471.7" width="2.0" height="2.0" fill="#ff532a"/>
<rect x="732.1" y="469.6" width="2.0" height="2.0" fill="#ff532a"/>
<rect x="730.2" y="472.0" width="2.0" height="2.0" fill="#ff532a"/>
<rect x="728.1" y="471.3" width="2.0" height="2.0" fill="#ff532a"/>
<rect x="732.7" y="469.8" width="2.0" height="2.0" fill="#ff532a"/>
<rect x="731.3" y="471.6" width="2.0" height="2.0" fill="#ff532a"/>
<rect x="730.6" y="472.1" width="2.0" height="2.0" fill="#ff532a"/>
<rect x="731.5" y="471.2" width="2.0" height="2.0" fill="#ff532a"/>
<rect x="731.1" y="469.9" width="2.0" height="2.0" fill="#ff532a"/>
<rect x="731.1" y="469.9" width="2.0" height="2.0" fill="#ff532a"/>
<rect x="729.2" y="469.9" width="2.0" height="2.0" fill="#ff532a"/>
<rect x="733.2" y="470.5" width="2.0" height="2.0" fill="#ff532a"/>
<rect x="732.4" y="472.5" width="2.0" height="2.0" fill="#ff532a"/>
<rect x="730.9" y="470.0" width="2.0" height="2.0" fill="#ff532a"/>
<rect x="729.1" y="469.4" width="2.0" height="2.0" fill="#ff522a"/>
<rect x="728.9" y="470.6" width="2.0" height="2.0" fill="#ff522a"/>
<rect x="730.8" y="470.9" width="2.0" height="2.0" fill="#ff522a"/>
<rect x="728.8" y="469.1" width="2.0" height="2.0" fill="#ff522a"/>
<rect x="729.5" y="470.0" width="2.0" height="2.0" fill="#ff522a"/>
<rect x="732.0" y="470.1" width="2.0" height="2.0" fill="#ff522a"/>
<rect x="727.1" y="468.9" width="2.0" height="2.0" fill="#ff522a"/>
<rect x="730.1" y="471.3" width="2.0" height="2.0" fill="#ff5229"/>
<rect x="730.0" y="469.6" width="2.0" height="2.0" fill="#ff5229"/>
<rect x="730.2" y="471.9" width="2.0" height="2.0" fill="#ff5229"/>
<rect x="730.0" y="469.7" width="2.0" height="2.0" fill="#ff5229"/>
<rect x="729.3" y="469.9" width="2.0" height="2.0" fill="#ff5229"/>
<rect x="732.2" y="471.5" width="2.0" height="2.0" fill="#ff5229"/>
<rect x="734.8" y="470.9" width="2.0" height="2.0" fill="#ff5229"/>
<rect x="732.7" y="473.5" width="2.0" height="2.0" fill="#ff5229"/>
<rect x="728.4" y="471.2" width="2.0" height="2.0" fill="#ff5129"/>
<rect x="727.7" y="469.9" width="2.0" height="2.0" fill="#ff5129"/>
<rect x="730.1" y="472.3" width="2.0" height="2.0" fill="#ff5129"/>
<rect x="727.4" y="468.7" width="2.0" height="2.0" fill="#ff5129"/>
<rect x="730.7" y="471.5" width="2.0" height="2.0" fill="#ff5129"/>
<rect x="730.0" y="471.5" width="2.0" height="2.0" fill="#ff5129"/>
<rect x="730.9" y="470.1" width="2.0" height="2.0" fill="#ff5129"/>
<rect x="730.9" y="467.2" width="2.0" height="2.0" fill="#ff5129"/>
<rect x="731.0" y="470.2" width="2.0" height="2.0" fill="#ff5129"/>
<rect x="732.3" y="471.7" width="2.0" height="2.0" fill="#ff5129"/>
<rect x="732.1" y="471.3" width="2.0" height="2.0" fill="#ff5129"/>
<rect x="729.2" y="470.9" width="2.0" height="2.0" fill="#ff5129"/>
<rect x="727.0" y="473.5" width="2.0" height="2.0" fill="#ff5129"/>
<rect x="728.7" y="468.4" width="2.0" height="2.0" fill="#ff5129"/>
<rect x="730.6" y="470.9" width="2.0" height="2.0" fill="#ff5129"/>
<rect x="730.3" y="471.7" width="2.0" height="2.0" fill="#ff5129"/>
<rect x="730.6" y="469.9" width="2.0" height="2.0" fill="#ff5029"/>
<rect x="730.5" y="468.5" width="2.0" height="2.0" fill="#ff5029"/>
<rect x="729.5" y="470.4" width="2.0" height="2.0" fill="#ff5029"/>
<rect x="728.6" y="471.5" width="2.0" height="2.0" fill="#ff5029"/>
<rect x="728.9" y="469.8" width="2.0" height="2.0" fill="#ff5029"/>
<rect x="727.1" y="470.0" width="2.0" height="2.0" fill="#ff5029"/>
<rect x="727.2" y="470.1" width="2.0" height="2.0" fill="#ff5029"/>
<rect x="735.0" y="469.8" width="2.0" height="2.0" fill="#ff5028"/>
<rect x="727.7" y="472.2" width="2.0" height="2.0" fill="#ff5028"/>
<rect x="728.3" y="472.0" width="2.0" height="2.0" fill="#ff5028"/>
<rect x="732.4" y="469.3" width="2.0" height="2.0" fill="#ff5028"/>
<rect x="728.8" y="471.2" width="2.0" height="2.0" fill="#ff5028"/>
<rect x="731.2" y="470.5" width="2.0" height="2.0" fill="#ff5028"/>
<rect x="728.7" y="469.7" width="2.0" height="2.0" fill="#ff5028"/>
<rect x="728.5" y="469.7" width="2.0" height="2.0" fill="#ff4f28"/>
<rect x="728.8" y="470.7" width="2.0" height="2.0" fill="#ff4f28"/>
<rect x="731.9" y="470.3" width="2.0" height="2.0" fill="#ff4f28"/>
<rect x="729.7" y="471.5" width="2.0" height="2.0" fill="#ff4f28"/>
<rect x="731.2" y="471.4" width="2.0" height="2.0" fill="#ff4f28"/>
<rect x="729.4" y="469.8" width="2.0" height="2.0" fill="#ff4f28"/>
<rect x="727.4" y="469.8" width="2.0" height="2.0" fill="#ff4f28"/>
<rect x="733.7" y="471.5" width="2.0" height="2.0" fill="#ff4f28"/>
<rect x="728.0" y="469.9" width="2.0" height="2.0" fill="#ff4f28"/>
<rect x="728.5" y="469.8" width="2.0" height="2.0" fill="#ff4f28"/>
<rect x="732.1" y="471.7" width="2.0" height="2.0" fill="#ff4f28"/>
<rect x="730.5" y="471.1" width="2.0" height="2.0" fill="#ff4f28"/>
<rect x="733.0" y="472.7" width="2.0" height="2.0" fill="#ff4f28"/>
<rect x="728.7" y="470.3" width="2.0" height="2.0" fill="#ff4f28"/>
<rect x="730.5" y="471.6" width="2.0" height="2.0" fill="#ff4f28"/>
<rect x="734.2" y="469.0" width="2.0" height="2.0" fill="#ff4f28"/>
<rect x="732.8" y="470.8" width="2.0" height="2.0" fill="#ff4e28"/>
<rect x="731.2" y="470.7" width="2.0" height="2.0" fill="#ff4e28"/>
<rect x="729.2" y="470.6" width="2.0" height="2.0" fill="#ff4e28"/>
<rect x="730.7" y="468.9" width="2.0" height="2.0" fill="#ff4e28"/>
<rect x="731.2" y="473.2" width="2.0" height="2.0" fill="#ff4e28"/>
<rect x="730.8" y="470.9" width="2.0" height="2.0" fill="#ff4e28"/>
<rect x="731.0" y="471.6" width="2.0" height="2.0" fill="#ff4e27"/>
<rect x="729.6" y="472.3" width="2.0" height="2.0" fill="#ff4e27"/>
<rect x="728.3" y="471.2" width="2.0" height="2.0" fill="#ff4e27"/>
<rect x="731.0" y="468.9" width="2.0" height="2.0" fill="#ff4e27"/>
<rect x="729.8" y="469.0" width="2.0" height="2.0" fill="#ff4e27"/>
<rect x="727.7" y="472.5" width="2.0" height="2.0" fill="#ff4e27"/>
<rect x="731.4" y="471.4" width="2.0" height="2.0" fill="#ff4e27"/>
<rect x="732.3" y="471.0" width="2.0" height="2.0" fill="#ff4e27"/>
<rect x="729.5" y="471.1" width="2.0" height="2.0" fill="#ff4e27"/>
<rect x="735.6" y="470.3" width="2.0" height="2.0" fill="#ff4e27"/>
<rect x="729.2" y="468.4" width="2.0" height="2.0" fill="#ff4e27"/>
<rect x="731.4" y="470.6" width="2.0" height="2.0" fill="#ff4e27"/>
<rect x="730.7" y="468.5" width="2.0" height="2.0" fill="#ff4e27"/>
<rect x="730.7" y="469.6" width="2.0" height="2.0" fill="#ff4e27"/>
<rect x="729.9" y="472.4" width="2.0" height="2.0" fill="#ff4d27"/>
<rect x="732.6" y="469.1" width="2.0" height="2.0" fill="#ff4d27"/>
<rect x="728.1" y="470.4" width="2.0" height="2.0" fill="#ff4d27"/>
<rect x="730.0" y="469.1" width="2.0" height="2.0" fill="#ff4d27"/>
<rect x="732.1" y="470.6" width="2.0" height="2.0" fill="#ff4d27"/>
<rect x="731.9" y="473.3" width="2.0" height="2.0" fill="#ff4d27"/>
<rect x="731.9" y="469.2" width="2.0" height="2.0" fill="#ff4d27"/>
<rect x="731.8" y="470.9" width="2.0" height="2.0" fill="#ff4d27"/>
<rect x="730.6" y="471.9" width="2.0" height="2.0" fill="#ff4d27"/>
<rect x="728.8" y="470.8" width="2.0" height="2.0" fill="#ff4d27"/>
<rect x="727.9" y="471.2" width="2.0" height="2.0" fill="#ff4d27"/>
<rect x="732.2" y="469.3" width="2.0" height="2.0" fill="#ff4d27"/>
<rect x="730.2" y="471.5" width="2.0" height="2.0" fill="#ff4d27"/>
<rect x="729.4" y="469.8" width="2.0" height="2.0" fill="#ff4d27"/>
<rect x="730.4" y="472.2" width="2.0" height="2.0" fill="#ff4d27"/>
<rect x="729.4" y="467.9" width="2.0" height="2.0" fill="#ff4c27"/>
<rect x="731.4" y="468.9" width="2.0" height="2.0" fill="#ff4c27"/>
<rect x="732.0" y="471.3" width="2.0" height="2.0" fill="#ff4c27"/>
<rect x="732.8" y="469.9" width="2.0" height="2.0" fill="#ff4c27"/>
<rect x="730.6" y="470.6" width="2.0" height="2.0" fill="#ff4c27"/>
<rect x="732.6" y="469.3" width="2.0" height="2.0" fill="#ff4c26"/>
<rect x="731.7" y="470.1" width="2.0" height="2.0" fill="#ff4c26"/>
<rect x="729.2" y="472.2" width="2.0" height="2.0" fill="#ff4c26"/>
<rect x="730.5" y="469.8" width="2.0" height="2.0" fill="#ff4c26"/>
<rect x="731.2" y="470.6" width="2.0" height="2.0" fill="#ff4c26"/>
<rect x="732.1" y="470.3" width="2.0" height="2.0" fill="#ff4c26"/>
<rect x="729.5" y="468.4" width="2.0" height="2.0" fill="#ff4c26"/>
<rect x="729.5" y="470.8" width="2.0" height="2.0" fill="#ff4b26"/>
<rect x="731.4" y="470.1" width="2.0" height="2.0" fill="#ff4b26"/>
<rect x="731.3" y="470.7" width="2.0" height="2.0" fill="#ff4b26"/>
<rect x="728.5" y="470.4" width="2.0" height="2.0" fill="#ff4b26"/>
<rect x="729.6" y="471.2" width="2.0" height="2.0" fill="#ff4b26"/>
<rect x="735.2" y="471.5" width="2.0" height="2.0" fill="#ff4b26"/>
<rect x="729.2" y="470.2" width="2.0" height="2.0" fill="#ff4b26"/>
<rect x="731.6" y="471.0" width="2.0" height="2.0" fill="#ff4b26"/>
<rect x="730.7" y="468.5" width="2.0" height="2.0" fill="#ff4b26"/>
<rect x="730.1" y="468.8" width="2.0" height="2.0" fill="#ff4b26"/>
<rect x="730.4" y="470.4" width="2.0" height="2.0" fill="#ff4b26"/>
<rect x="730.4" y="469.1" width="2.0" height="2.0" fill="#ff4b26"/>
<rect x="729.9" y="471.3" width="2.0" height="2.0" fill="#ff4b26"/>
<rect x="731.5" y="472.9" width="2.0" height="2.0" fill="#ff4b26"/>
<rect x="731.8" y="471.6" width="2.0" height="2.0" fill="#ff4b26"/>
<rect x="729.0" y="470.4" width="2.0" height="2.0" fill="#ff4a26"/>
<rect x="728.1" y="469.8" width="2.0" height="2.0" fill="#ff4a26"/>
<rect x="729.8" y="469.8" width="2.0" height="2.0" fill="#ff4a26"/>
<rect x="727.4" y="470.9" width="2.0" height="2.0" fill="#ff4a25"/>
<rect x="731.6" y="470.9" width="2.0" height="2.0" fill="#ff4a25"/>
<rect x="732.2" y="470.9" width="2.0" height="2.0" fill="#ff4a25"/>
<rect x="731.4" y="470.8" width="2.0" height="2.0" fill="#ff4a25"/>
<rect x="731.6" y="471.8" width="2.0" height="2.0" fill="#ff4a25"/>
<rect x="727.8" y="471.1" width="2.0" height="2.0" fill="#ff4a25"/>
<rect x="732.7" y="469.3" width="2.0" height="2.0" fill="#ff4925"/>
<rect x="728.4" y="470.3" width="2.0" height="2.0" fill="#ff4925"/>
<rect x="729.8" y="471.1" width="2.0" height="2.0" fill="#ff4925"/>
<rect x="730.2" y="470.0" width="2.0" height="2.0" fill="#ff4925"/>
<rect x="725.8" y="469.6" width="2.0" height="2.0" fill="#ff4925"/>
<rect x="730.2" y="469.2" width="2.0" height="2.0" fill="#ff4925"/>
<rect x="732.3" y="470.2" width="2.0" height="2.0" fill="#ff4925"/>
<rect x="727.4" y="471.4" width="2.0" height="2.0" fill="#ff4925"/>
<rect x="730.7" y="472.1" width="2.0" height="2.0" fill="#ff4925"/>
<rect x="729.1" y="469.9" width="2.0" height="2.0" fill="#ff4925"/>
<rect x="730.2" y="469.2" width="2.0" height="2.0" fill="#ff4925"/>
<rect x="728.2" y="471.2" width="2.0" height="2.0" fill="#ff4925"/>
<rect x="731.8" y="472.3" width="2.0" height="2.0" fill="#ff4925"/>
<rect x="732.4" y="471.0" width="2.0" height="2.0" fill="#ff4825"/>
<rect x="728.3" y="469.0" width="2.0" height="2.0" fill="#ff4825"/>
<rect x="731.1" y="470.3" width="2.0" height="2.0" fill="#ff4824"/>
<rect x="733.5" y="470.4" width="2.0" height="2.0" fill="#ff4824"/>
<rect x="728.5" y="471.7" width="2.0" height="2.0" fill="#ff4824"/>
<rect x="731.1" y="469.8" width="2.0" height="2.0" fill="#ff4824"/>
<rect x="729.1" y="469.3" width="2.0" height="2.0" fill="#ff4824"/>
<rect x="731.7" y="469.2" width="2.0" height="2.0" fill="#ff4824"/>
<rect x="728.1" y="469.6" width="2.0" height="2.0" fill="#ff4824"/>
<rect x="731.3" y="469.4" width="2.0" height="2.0" fill="#ff4824"/>
<rect x="729.1" y="469.6" width="2.0" height="2.0" fill="#ff4824"/>
<rect x="731.0" y="469.1" width="2.0" height="2.0" fill="#ff4824"/>
<rect x="729.6" y="470.0" width="2.0" height="2.0" fill="#ff4824"/>
<rect x="731.2" y="470.7" width="2.0" height="2.0" fill="#ff4724"/>
<rect x="730.8" y="469.6" width="2.0" height="2.0" fill="#ff4724"/>
<rect x="729.7" y="471.3" width="2.0" height="2.0" fill="#ff4724"/>
<rect x="733.7" y="468.5" width="2.0" height="2.0" fill="#ff4724"/>
<rect x="732.0" y="467.4" width="2.0" height="2.0" fill="#ff4724"/>
<rect x="730.1" y="471.3" width="2.0" height="2.0" fill="#ff4724"/>
<rect x="729.8" y="470.1" width="2.0" height="2.0" fill="#ff4724"/>
<rect x="732.7" y="470.9" width="2.0" height="2.0" fill="#ff4724"/>
<rect x="733.2" y="470.2" width="2.0" height="2.0" fill="#ff4724"/>
<rect x="728.0" y="468.2" width="2.0" height="2.0" fill="#ff4724"/>
<rect x="729.0" y="471.6" width="2.0" height="2.0" fill="#ff4724"/>
<rect x="730.8" y="468.8" width="2.0" height="2.0" fill="#ff4724"/>
<rect x="730.8" y="468.9" width="2.0" height="2.0" fill="#ff4724"/>
<rect x="730.6" y="470.9" width="2.0" height="2.0" fill="#ff4724"/>
<rect x="729.9" y="471.5" width="2.0" height="2.0" fill="#ff4624"/>
<rect x="732.9" y="472.9" width="2.0" height="2.0" fill="#ff4624"/>
<rect x="732.6" y="469.7" width="2.0" height="2.0" fill="#ff4623"/>
<rect x="730.3" y="469.4" width="2.0" height="2.0" fill="#ff4623"/>
<rect x="730.7" y="469.0" width="2.0" height="2.0" fill="#ff4623"/>
<rect x="730.8" y="469.0" width="2.0" height="2.0" fill="#ff4623"/>
<rect x="729.0" y="470.3" width="2.0" height="2.0" fill="#ff4623"/>
<rect x="730.5" y="472.7" width="2.0" height="2.0" fill="#ff4623"/>
<rect x="727.4" y="469.1" width="2.0" height="2.0" fill="#ff4623"/>
<rect x="730.6" y="472.0" width="2.0" height="2.0" fill="#ff4623"/>
<rect x="731.7" y="468.9" width="2.0" height="2.0" fill="#ff4623"/>
<rect x="730.8" y="470.3" width="2.0" height="2.0" fill="#ff4523"/>
<rect x="728.0" y="470.2" width="2.0" height="2.0" fill="#ff4523"/>
<rect x="730.1" y="469.6" width="2.0" height="2.0" fill="#ff4523"/>
<rect x="732.7" y="471.0" width="2.0" height="2.0" fill="#ff4523"/>
<rect x="731.3" y="473.0" width="2.0" height="2.0" fill="#ff4523"/>
<rect x="727.7" y="472.1" width="2.0" height="2.0" fill="#ff4523"/>
<rect x="734.2" y="470.3" width="2.0" height="2.0" fill="#ff4523"/>
<rect x="730.1" y="469.6" width="2.0" height="2.0" fill="#ff4523"/>
<rect x="730.3" y="470.6" width="2.0" height="2.0" fill="#ff4523"/>
<rect x="730.9" y="469.5" width="2.0" height="2.0" fill="#ff4523"/>
<rect x="729.8" y="467.6" width="2.0" height="2.0" fill="#ff4523"/>
<rect x="730.6" y="471.3" width="2.0" height="2.0" fill="#ff4523"/>
<rect x="732.7" y="471.4" width="2.0" height="2.0" fill="#ff4523"/>
<rect x="728.8" y="469.6" width="2.0" height="2.0" fill="#ff4423"/>
<rect x="731.2" y="470.7" width="2.0" height="2.0" fill="#ff4423"/>
<rect x="729.7" y="469.6" width="2.0" height="2.0" fill="#ff4422"/>
<rect x="731.1" y="469.3" width="2.0" height="2.0" fill="#ff4422"/>
<rect x="730.2" y="471.3" width="2.0" height="2.0" fill="#ff4422"/>
<rect x="731.5" y="472.5" width="2.0" height="2.0" fill="#ff4422"/>
<rect x="729.2" y="473.5" width="2.0" height="2.0" fill="#ff4422"/>
<rect x="732.2" y="469.1" width="2.0" height="2.0" fill="#ff4422"/>
<rect x="729.8" y="471.3" width="2.0" height="2.0" fill="#ff4422"/>
<rect x="728.2" y="472.1" width="2.0" height="2.0" fill="#ff4422"/>
<rect x="730.2" y="469.0" width="2.0" height="2.0" fill="#ff4422"/>
<rect x="730.1" y="470.2" width="2.0" height="2.0" fill="#ff4422"/>
<rect x="730.1" y="470.9" width="2.0" height="2.0" fill="#ff4422"/>
<rect x="730.2" y="469.2" width="2.0" height="2.0" fill="#ff4422"/>
<rect x="733.8" y="471.8" width="2.0" height="2.0" fill="#ff4422"/>
<rect x="731.9" y="470.5" width="2.0" height="2.0" fill="#ff4422"/>
<rect x="732.1" y="470.3" width="2.0" height="2.0" fill="#ff4422"/>
<rect x="732.9" y="471.0" width="2.0" height="2.0" fill="#ff4422"/>
<rect x="730.4" y="471.8" width="2.0" height="2.0" fill="#ff4322"/>
<rect x="730.8" y="473.1" width="2.0" height="2.0" fill="#ff4322"/>
<rect x="729.9" y="469.8" width="2.0" height="2.0" fill="#ff4322"/>
<rect x="733.1" y="471.6" width="2.0" height="2.0" fill="#ff4322"/>
<rect x="730.5" y="470.6" width="2.0" height="2.0" fill="#ff4322"/>
<rect x="733.9" y="469.5" width="2.0" height="2.0" fill="#ff4322"/>
<rect x="729.9" y="470.5" width="2.0" height="2.0" fill="#ff4322"/>
<rect x="731.6" y="471.8" width="2.0" height="2.0" fill="#ff4322"/>
<rect x="728.6" y="471.0" width="2.0" height="2.0" fill="#ff4322"/>
<rect x="729.6" y="469.4" width="2.0" height="2.0" fill="#ff4322"/>
<rect x="729.7" y="469.3" width="2.0" height="2.0" fill="#ff4322"/>
<rect x="732.6" y="470.2" width="2.0" height="2.0" fill="#ff4322"/>
<rect x="732.4" y="471.9" width="2.0" height="2.0" fill="#ff4322"/>
<rect x="730.9" y="470.6" width="2.0" height="2.0" fill="#ff4322"/>
<rect x="729.9" y="471.2" width="2.0" height="2.0" fill="#ff4322"/>
<rect x="732.3" y="469.7" width="2.0" height="2.0" fill="#ff4322"/>
<rect x="733.6" y="470.4" width="2.0" height="2.0" fill="#ff4322"/>
<rect x="731.4" y="469.9" width="2.0" height="2.0" fill="#ff4222"/>
<rect x="732.4" y="470.0" width="2.0" height="2.0" fill="#ff4221"/>
<rect x="731.8" y="468.6" width="2.0" height="2.0" fill="#ff4221"/>
<rect x="730.6" y="471.0" width="2.0" height="2.0" fill="#ff4221"/>
<rect x="729.2" y="469.7" width="2.0" height="2.0" fill="#ff4221"/>
<rect x="730.7" y="468.8" width="2.0" height="2.0" fill="#ff4221"/>
<rect x="728.2" y="470.3" width="2.0" height="2.0" fill="#ff4221"/>
<rect x="729.5" y="469.9" width="2.0" height="2.0" fill="#ff4221"/>
<rect x="726.3" y="470.5" width="2.0" height="2.0" fill="#ff4221"/>
<rect x="728.6" y="469.8" width="2.0" height="2.0" fill="#ff4221"/>
<rect x="730.9" y="470.8" width="2.0" height="2.0" fill="#ff4221"/>
<rect x="733.4" y="472.0" width="2.0" height="2.0" fill="#ff4221"/>
<rect x="731.4" y="472.5" width="2.0" height="2.0" fill="#ff4221"/>
<rect x="733.4" y="469.4" width="2.0" height="2.0" fill="#ff4221"/>
<rect x="728.2" y="470.3" width="2.0" height="2.0" fill="#ff4221"/>
<rect x="728.2" y="471.4" width="2.0" height="2.0" fill="#ff4221"/>
<rect x="727.2" y="468.4" width="2.0" height="2.0" fill="#ff4221"/>
<rect x="732.2" y="469.9" width="2.0" height="2.0" fill="#ff4221"/>
<rect x="730.9" y="469.4" width="2.0" height="2.0" fill="#ff4221"/>
<rect x="730.4" y="470.4" width="2.0" height="2.0" fill="#ff4121"/>
<rect x="731.5" y="470.9" width="2.0" height="2.0" fill="#ff4121"/>
<rect x="729.0" y="472.0" width="2.0" height="2.0" fill="#ff4121"/>
<rect x="730.9" y="469.8" width="2.0" height="2.0" fill="#ff4121"/>
<rect x="732.0" y="469.2" width="2.0" height="2.0" fill="#ff4121"/>
<rect x="729.6" y="471.3" width="2.0" height="2.0" fill="#ff4121"/>
<rect x="730.9" y="469.5" width="2.0" height="2.0" fill="#ff4121"/>
<rect x="729.6" y="470.2" width="2.0" height="2.0" fill="#ff4121"/>
<rect x="730.5" y="471.8" width="2.0" height="2.0" fill="#ff4121"/>
<rect x="731.7" y="471.0" width="2.0" height="2.0" fill="#ff4121"/>
<rect x="729.6" y="472.0" width="2.0" height="2.0" fill="#ff4121"/>
<rect x="731.1" y="471.0" width="2.0" height="2.0" fill="#ff4021"/>
<rect x="733.2" y="470.7" width="2.0" height="2.0" fill="#ff4020"/>
<rect x="732.7" y="470.6" width="2.0" height="2.0" fill="#ff4020"/>
<rect x="730.0" y="470.2" width="2.0" height="2.0" fill="#ff4020"/>
<rect x="729.8" y="470.5" width="2.0" height="2.0" fill="#ff4020"/>
<rect x="732.8" y="470.0" width="2.0" height="2.0" fill="#ff4020"/>
<rect x="731.7" y="470.8" width="2.0" height="2.0" fill="#ff4020"/>
<rect x="730.8" y="468.5" width="2.0" height="2.0" fill="#ff4020"/>
<rect x="729.0" y="472.8" width="2.0" height="2.0" fill="#ff4020"/>
<rect x="731.6" y="471.4" width="2.0" height="2.0" fill="#ff4020"/>
<rect x="732.8" y="472.1" width="2.0" height="2.0" fill="#ff4020"/>
<rect x="732.1" y="469.7" width="2.0" height="2.0" fill="#ff4020"/>
<rect x="729.7" y="469.6" width="2.0" height="2.0" fill="#ff4020"/>
<rect x="730.5" y="470.6" width="2.0" height="2.0" fill="#ff4020"/>
<rect x="727.9" y="471.7" width="2.0" height="2.0" fill="#ff4020"/>
<rect x="732.0" y="470.3" width="2.0" height="2.0" fill="#ff4020"/>
<rect x="729.1" y="468.4" width="2.0" height="2.0" fill="#ff4020"/>
<rect x="728.4" y="468.8" width="2.0" height="2.0" fill="#ff4020"/>
<rect x="736.2" y="471.4" width="2.0" height="2.0" fill="#ff4020"/>
<rect x="730.6" y="470.6" width="2.0" height="2.0" fill="#ff4020"/>
<rect x="728.3" y="471.6" width="2.0" height="2.0" fill="#ff4020"/>
<rect x="733.0" y="469.9" width="2.0" height="2.0" fill="#ff4020"/>
<rect x="729.8" y="470.9" width="2.0" height="2.0" fill="#ff3f20"/>
<rect x="724.4" y="473.1" width="2.0" height="2.0" fill="#ff3f1f"/>
<rect x="729.4" y="472.2" width="2.0" height="2.0" fill="#ff3e1f"/>
<rect x="727.1" y="474.1" width="2.0" height="2.0" fill="#ff391d"/>
<rect x="730.7" y="470.9" width="2.0" height="2.0" fill="#ff371c"/>
<rect x="730.5" y="473.9" width="2.0" height="2.0" fill="#ff351b"/>
<rect x="730.9" y="473.2" width="2.0" height="2.0" fill="#ff341a"/>
<rect x="730.0" y="470.5" width="2.0" height="2.0" fill="#ff3319"/>
<rect x="726.7" y="470.9" width="2.0" height="2.0" fill="#ff2d16"/>
</g>
<rect x="242" y="54" width="620" height="103" fill="none" stroke="#000" stroke-width="2"/>
<line x1="752.5" y1="54" x2="752.5" y2="157" stroke="#000" stroke-width="3"/>
<line x1="241" y1="157.5" x2="863" y2="157.5" stroke="#000" stroke-width="3"/>
<rect x="242" y="157" width="620" height="496" fill="none" stroke="#000" stroke-width="2"/>
<line x1="752.5" y1="157" x2="752.5" y2="653" stroke="#000" stroke-width="3"/>
<text x="218.84" y="52" font-size="11.02" fill="#000" textLength="12.51" lengthAdjust="spacingAndGlyphs">15</text>
<text x="218.83" y="87.2" font-size="11.02" fill="#000" textLength="12.72" lengthAdjust="spacingAndGlyphs">10</text>
<text x="220.09" y="122.2" font-size="11.02" fill="#000" textLength="5.75" lengthAdjust="spacingAndGlyphs">5</text>
<text x="220.07" y="157.2" font-size="11.02" fill="#000" textLength="6.1" lengthAdjust="spacingAndGlyphs">0</text>
<text x="185.85" y="104.9" font-size="12.72" fill="#000" textLength="19.26" lengthAdjust="spacingAndGlyphs">Km</text>
<text x="198.86" y="210.7" font-size="10.91" fill="#000" textLength="35.48" lengthAdjust="spacingAndGlyphs">44.5°N</text>
<text x="208.69" y="261.7" font-size="10.91" fill="#000" textLength="25.65" lengthAdjust="spacingAndGlyphs">44°N</text>
<text x="198.86" y="312.2" font-size="10.91" fill="#000" textLength="35.48" lengthAdjust="spacingAndGlyphs">43.5°N</text>
<text x="208.69" y="362.3" font-size="10.91" fill="#000" textLength="25.65" lengthAdjust="spacingAndGlyphs">43°N</text>
<text x="198.86" y="412.0" font-size="10.91" fill="#000" textLength="35.48" lengthAdjust="spacingAndGlyphs">42.5°N</text>
<text x="208.69" y="461.3" font-size="10.91" fill="#000" textLength="25.65" lengthAdjust="spacingAndGlyphs">42°N</text>
<text x="198.86" y="510.2" font-size="10.91" fill="#000" textLength="35.48" lengthAdjust="spacingAndGlyphs">41.5°N</text>
<text x="208.69" y="558.8" font-size="10.91" fill="#000" textLength="25.65" lengthAdjust="spacingAndGlyphs">41°N</text>
<text x="198.86" y="607.0" font-size="10.91" fill="#000" textLength="35.48" lengthAdjust="spacingAndGlyphs">40.5°N</text>
<text x="208.69" y="654.8" font-size="10.91" fill="#000" textLength="25.65" lengthAdjust="spacingAndGlyphs">40°N</text>
<text x="232.7" y="667.1" font-size="11.02" fill="#000" textLength="17.83" lengthAdjust="spacingAndGlyphs">5°E</text>
<text x="264.23" y="667.1" font-size="11.02" fill="#000" textLength="27.78" lengthAdjust="spacingAndGlyphs">5.5°E</text>
<text x="305.54" y="667.1" font-size="11.02" fill="#000" textLength="18.04" lengthAdjust="spacingAndGlyphs">6°E</text>
<text x="337.06" y="667.1" font-size="11.02" fill="#000" textLength="27.99" lengthAdjust="spacingAndGlyphs">6.5°E</text>
<text x="378.6" y="667.1" font-size="11.02" fill="#000" textLength="17.91" lengthAdjust="spacingAndGlyphs">7°E</text>
<text x="410.12" y="667.1" font-size="11.02" fill="#000" textLength="27.86" lengthAdjust="spacingAndGlyphs">7.5°E</text>
<text x="451.61" y="667.1" font-size="11.02" fill="#000" textLength="17.97" lengthAdjust="spacingAndGlyphs">8°E</text>
<text x="483.14" y="667.1" font-size="11.02" fill="#000" textLength="27.92" lengthAdjust="spacingAndGlyphs">8.5°E</text>
<text x="524.54" y="667.1" font-size="11.02" fill="#000" textLength="18.07" lengthAdjust="spacingAndGlyphs">9°E</text>
<text x="556.07" y="667.1" font-size="11.02" fill="#000" textLength="28.01" lengthAdjust="spacingAndGlyphs">9.5°E</text>
<text x="594.14" y="667.1" font-size="11.02" fill="#000" textLength="24.54" lengthAdjust="spacingAndGlyphs">10°E</text>
<text x="625.67" y="667.1" font-size="11.02" fill="#000" textLength="34.48" lengthAdjust="spacingAndGlyphs">10.5°E</text>
<text x="667.14" y="667.1" font-size="11.02" fill="#000" textLength="24.54" lengthAdjust="spacingAndGlyphs">11°E</text>
<text x="698.67" y="667.1" font-size="11.02" fill="#000" textLength="34.48" lengthAdjust="spacingAndGlyphs">11.5°E</text>
<text x="753.15" y="667.1" font-size="11.02" fill="#000" textLength="6.1" lengthAdjust="spacingAndGlyphs">0</text>
<text x="789.23" y="667.1" font-size="11.02" fill="#000" textLength="5.75" lengthAdjust="spacingAndGlyphs">5</text>
<text x="824.73" y="667.1" font-size="11.02" fill="#000" textLength="12.72" lengthAdjust="spacingAndGlyphs">10</text>
<text x="861.55" y="667.1" font-size="11.02" fill="#000" textLength="12.51" lengthAdjust="spacingAndGlyphs">15</text>
<text x="806.75" y="675.8" font-size="12.72" fill="#000" textLength="19.26" lengthAdjust="spacingAndGlyphs">Km</text>
<text x="769.42" y="84.0" font-size="11.02" fill="#000" textLength="6.31" lengthAdjust="spacingAndGlyphs">6</text>
<text x="783.14" y="84.0" font-size="11.02" fill="#000" textLength="3.13" lengthAdjust="spacingAndGlyphs">:</text>
<text x="802.71" y="84.0" font-size="11.02" fill="#000" textLength="25.89" lengthAdjust="spacingAndGlyphs">7383</text>
<text x="769.45" y="94.3" font-size="11.02" fill="#ff0000" textLength="5.96" lengthAdjust="spacingAndGlyphs">7</text>
<text x="783.14" y="94.3" font-size="11.02" fill="#ff0000" textLength="3.13" lengthAdjust="spacingAndGlyphs">:</text>
<text x="802.51" y="94.3" font-size="11.02" fill="#ff0000" textLength="26.04" lengthAdjust="spacingAndGlyphs">1319</text>
<text x="769.52" y="104.7" font-size="11.02" fill="#000" textLength="6.16" lengthAdjust="spacingAndGlyphs">8</text>
<text x="783.14" y="104.7" font-size="11.02" fill="#000" textLength="3.13" lengthAdjust="spacingAndGlyphs">:</text>
<text x="806.05" y="104.7" font-size="11.02" fill="#000" textLength="19.27" lengthAdjust="spacingAndGlyphs">241</text>
<text x="769.47" y="115.0" font-size="11.02" fill="#000" textLength="6.3" lengthAdjust="spacingAndGlyphs">9</text>
<text x="783.14" y="115.0" font-size="11.02" fill="#000" textLength="3.13" lengthAdjust="spacingAndGlyphs">:</text>
<text x="809.49" y="115.0" font-size="11.02" fill="#000" textLength="12.44" lengthAdjust="spacingAndGlyphs">55</text>
<text x="766.13" y="125.6" font-size="11.02" fill="#000" textLength="12.72" lengthAdjust="spacingAndGlyphs">10</text>
<text x="786.14" y="125.6" font-size="11.02" fill="#000" textLength="3.13" lengthAdjust="spacingAndGlyphs">:</text>
<text x="815.57" y="125.6" font-size="11.02" fill="#000" textLength="6.1" lengthAdjust="spacingAndGlyphs">0</text>
<text x="766.14" y="135.9" font-size="11.02" fill="#000" textLength="12.54" lengthAdjust="spacingAndGlyphs">11</text>
<text x="786.14" y="135.9" font-size="11.02" fill="#000" textLength="3.13" lengthAdjust="spacingAndGlyphs">:</text>
<text x="815.57" y="135.9" font-size="11.02" fill="#000" textLength="6.1" lengthAdjust="spacingAndGlyphs">0</text>
<text x="766.15" y="146.0" font-size="11.02" fill="#000" textLength="12.47" lengthAdjust="spacingAndGlyphs">12</text>
<text x="786.14" y="146.0" font-size="11.02" fill="#000" textLength="3.13" lengthAdjust="spacingAndGlyphs">:</text>
<text x="815.57" y="146.0" font-size="11.02" fill="#000" textLength="6.1" lengthAdjust="spacingAndGlyphs">0</text>
<rect x="158.4" y="690.5" width="787" height="37.9" fill="url(#rb)" stroke="#1a1a1a" stroke-width="1"/>
<line x1="158.4" y1="728.4" x2="158.4" y2="732.5" stroke="#1a1a1a" stroke-width="1"/>
<text x="155.35" y="742.7" font-size="11.02" fill="#000" textLength="6.1" lengthAdjust="spacingAndGlyphs">0</text>
<line x1="315.8" y1="728.4" x2="315.8" y2="732.5" stroke="#1a1a1a" stroke-width="1"/>
<text x="312.86" y="742.7" font-size="11.02" fill="#000" textLength="5.88" lengthAdjust="spacingAndGlyphs">2</text>
<line x1="473.2" y1="728.4" x2="473.2" y2="732.5" stroke="#1a1a1a" stroke-width="1"/>
<text x="470.19" y="742.7" font-size="11.02" fill="#000" textLength="6.1" lengthAdjust="spacingAndGlyphs">4</text>
<line x1="630.6" y1="728.4" x2="630.6" y2="732.5" stroke="#1a1a1a" stroke-width="1"/>
<text x="627.41" y="742.7" font-size="11.02" fill="#000" textLength="6.31" lengthAdjust="spacingAndGlyphs">6</text>
<line x1="788.0" y1="728.4" x2="788.0" y2="732.5" stroke="#1a1a1a" stroke-width="1"/>
<text x="784.92" y="742.7" font-size="11.02" fill="#000" textLength="6.16" lengthAdjust="spacingAndGlyphs">8</text>
<line x1="945.4" y1="728.4" x2="945.4" y2="732.5" stroke="#1a1a1a" stroke-width="1"/>
<text x="938.83" y="742.7" font-size="11.02" fill="#000" textLength="12.72" lengthAdjust="spacingAndGlyphs">10</text>
<text x="432.79" y="718.6" font-size="19.97" fill="#000" textLength="250.08" lengthAdjust="spacingAndGlyphs">from 11:20:00 to 11:29:59</text>
<text x="299.8" y="45.8" font-size="24.26" fill="#000" textLength="501.96" lengthAdjust="spacingAndGlyphs">SAETTA Lightning Mapping Array - 14/09/25</text>
</svg></body></html>
